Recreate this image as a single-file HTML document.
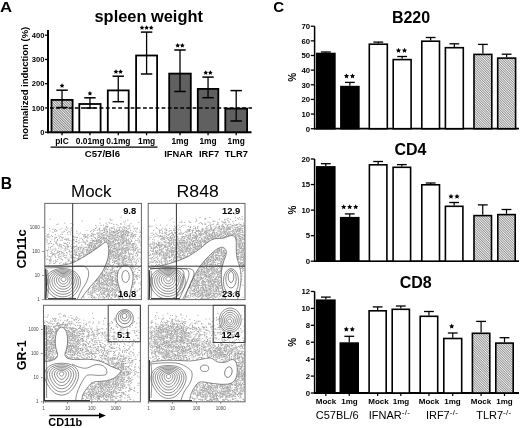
<!DOCTYPE html>
<html><head><meta charset="utf-8"><style>html,body{margin:0;padding:0;background:#fff;}svg{display:block;filter:blur(0.3px);font-family:"Liberation Sans",sans-serif;}</style></head>
<body><svg width="520" height="428" viewBox="0 0 520 428" font-family="Liberation Sans, sans-serif"><defs>
<pattern id="hatchA" patternUnits="userSpaceOnUse" width="1.8" height="1.8" patternTransform="rotate(-45)"><rect width="1.8" height="1.8" fill="#ececec"/><rect x="0" y="0" width="0.8" height="1.8" fill="#7a7a7a"/></pattern>
<pattern id="hatchC" patternUnits="userSpaceOnUse" width="1.7" height="1.7" patternTransform="rotate(-45)"><rect width="1.7" height="1.7" fill="#efefef"/><rect x="0" y="0" width="0.7" height="1.7" fill="#7e7e7e"/></pattern>
</defs><rect width="520" height="428" fill="#fff"/><text x="0" y="11.9" font-size="15" font-weight="bold" text-anchor="start" fill="#000" transform="scale(1.12,1)">A</text>
<text x="94.5" y="22" font-size="16.4" font-weight="bold" text-anchor="start" fill="#000" >spleen weight</text>
<text transform="translate(28.3,83.2) rotate(-90)" font-size="9.5" font-weight="bold" text-anchor="middle">normalized induction (%)</text>
<line x1="48" y1="30" x2="48" y2="133.2" stroke="#000" stroke-width="2" />
<line x1="45" y1="132.2" x2="48" y2="132.2" stroke="#000" stroke-width="1.3" />
<text x="44.5" y="134.89999999999998" font-size="7.6" font-weight="bold" text-anchor="end" fill="#000" >0</text>
<line x1="45" y1="107.94999999999999" x2="48" y2="107.94999999999999" stroke="#000" stroke-width="1.3" />
<text x="44.5" y="110.64999999999999" font-size="7.6" font-weight="bold" text-anchor="end" fill="#000" >100</text>
<line x1="45" y1="83.69999999999999" x2="48" y2="83.69999999999999" stroke="#000" stroke-width="1.3" />
<text x="44.5" y="86.39999999999999" font-size="7.6" font-weight="bold" text-anchor="end" fill="#000" >200</text>
<line x1="45" y1="59.44999999999999" x2="48" y2="59.44999999999999" stroke="#000" stroke-width="1.3" />
<text x="44.5" y="62.14999999999999" font-size="7.6" font-weight="bold" text-anchor="end" fill="#000" >300</text>
<line x1="45" y1="35.19999999999999" x2="48" y2="35.19999999999999" stroke="#000" stroke-width="1.3" />
<text x="44.5" y="37.89999999999999" font-size="7.6" font-weight="bold" text-anchor="end" fill="#000" >400</text>
<line x1="47" y1="132.3" x2="251.5" y2="132.3" stroke="#000" stroke-width="2" />
<rect x="51.5" y="99.9" width="21.099999999999998" height="32.29999999999999" fill="url(#hatchA)" stroke="#000" stroke-width="1.8" />
<line x1="62.05" y1="90.2" x2="62.05" y2="107.5" stroke="#000" stroke-width="1.3" />
<line x1="56.349999999999994" y1="90.2" x2="67.75" y2="90.2" stroke="#000" stroke-width="1.5" />
<line x1="56.349999999999994" y1="107.5" x2="67.75" y2="107.5" stroke="#000" stroke-width="1.5" />
<line x1="62.05" y1="132.3" x2="62.05" y2="135.3" stroke="#000" stroke-width="1.3" />
<polygon points="62.05,83.30 62.78,84.79 64.43,85.03 63.24,86.19 63.52,87.82 62.05,87.05 60.58,87.82 60.86,86.19 59.67,85.03 61.32,84.79" fill="#000"/>
<rect x="79.30000000000001" y="104.0" width="21.299999999999994" height="28.199999999999996" fill="#fff" stroke="#000" stroke-width="1.8" />
<line x1="89.95" y1="97.8" x2="89.95" y2="108" stroke="#000" stroke-width="1.3" />
<line x1="84.25" y1="97.8" x2="95.65" y2="97.8" stroke="#000" stroke-width="1.5" />
<line x1="84.25" y1="108" x2="95.65" y2="108" stroke="#000" stroke-width="1.5" />
<line x1="89.95" y1="132.3" x2="89.95" y2="135.3" stroke="#000" stroke-width="1.3" />
<polygon points="89.95,90.90 90.68,92.39 92.33,92.63 91.14,93.79 91.42,95.42 89.95,94.65 88.48,95.42 88.76,93.79 87.57,92.63 89.22,92.39" fill="#000"/>
<rect x="107.80000000000001" y="90.4" width="20.899999999999988" height="41.79999999999999" fill="#fff" stroke="#000" stroke-width="1.8" />
<line x1="118.25" y1="76.2" x2="118.25" y2="101.7" stroke="#000" stroke-width="1.3" />
<line x1="112.55" y1="76.2" x2="123.95" y2="76.2" stroke="#000" stroke-width="1.5" />
<line x1="112.55" y1="101.7" x2="123.95" y2="101.7" stroke="#000" stroke-width="1.5" />
<line x1="118.25" y1="132.3" x2="118.25" y2="135.3" stroke="#000" stroke-width="1.3" />
<polygon points="115.95,69.30 116.68,70.79 118.33,71.03 117.14,72.19 117.42,73.82 115.95,73.05 114.48,73.82 114.76,72.19 113.57,71.03 115.22,70.79" fill="#000"/>
<polygon points="120.55,69.30 121.28,70.79 122.93,71.03 121.74,72.19 122.02,73.82 120.55,73.05 119.08,73.82 119.36,72.19 118.17,71.03 119.82,70.79" fill="#000"/>
<rect x="136.1" y="55.5" width="21.00000000000001" height="76.69999999999999" fill="#fff" stroke="#000" stroke-width="1.8" />
<line x1="146.6" y1="32.1" x2="146.6" y2="74" stroke="#000" stroke-width="1.3" />
<line x1="140.9" y1="32.1" x2="152.29999999999998" y2="32.1" stroke="#000" stroke-width="1.5" />
<line x1="140.9" y1="74" x2="152.29999999999998" y2="74" stroke="#000" stroke-width="1.5" />
<line x1="146.6" y1="132.3" x2="146.6" y2="135.3" stroke="#000" stroke-width="1.3" />
<polygon points="142.00,25.20 142.73,26.69 144.38,26.93 143.19,28.09 143.47,29.72 142.00,28.95 140.53,29.72 140.81,28.09 139.62,26.93 141.27,26.69" fill="#000"/>
<polygon points="146.60,25.20 147.33,26.69 148.98,26.93 147.79,28.09 148.07,29.72 146.60,28.95 145.13,29.72 145.41,28.09 144.22,26.93 145.87,26.69" fill="#000"/>
<polygon points="151.20,25.20 151.93,26.69 153.58,26.93 152.39,28.09 152.67,29.72 151.20,28.95 149.73,29.72 150.01,28.09 148.82,26.93 150.47,26.69" fill="#000"/>
<rect x="169.20000000000002" y="73.60000000000001" width="21.599999999999977" height="58.59999999999999" fill="#606060" stroke="#000" stroke-width="1.8" />
<line x1="180.0" y1="50" x2="180.0" y2="91.5" stroke="#000" stroke-width="1.3" />
<line x1="174.3" y1="50" x2="185.7" y2="50" stroke="#000" stroke-width="1.5" />
<line x1="174.3" y1="91.5" x2="185.7" y2="91.5" stroke="#000" stroke-width="1.5" />
<line x1="180.0" y1="132.3" x2="180.0" y2="135.3" stroke="#000" stroke-width="1.3" />
<polygon points="177.70,43.10 178.43,44.59 180.08,44.83 178.89,45.99 179.17,47.62 177.70,46.85 176.23,47.62 176.51,45.99 175.32,44.83 176.97,44.59" fill="#000"/>
<polygon points="182.30,43.10 183.03,44.59 184.68,44.83 183.49,45.99 183.77,47.62 182.30,46.85 180.83,47.62 181.11,45.99 179.92,44.83 181.57,44.59" fill="#000"/>
<rect x="197.8" y="88.9" width="20.499999999999982" height="43.29999999999999" fill="#606060" stroke="#000" stroke-width="1.8" />
<line x1="208.05" y1="77.1" x2="208.05" y2="97.7" stroke="#000" stroke-width="1.3" />
<line x1="202.35000000000002" y1="77.1" x2="213.75" y2="77.1" stroke="#000" stroke-width="1.5" />
<line x1="202.35000000000002" y1="97.7" x2="213.75" y2="97.7" stroke="#000" stroke-width="1.5" />
<line x1="208.05" y1="132.3" x2="208.05" y2="135.3" stroke="#000" stroke-width="1.3" />
<polygon points="205.75,70.20 206.48,71.69 208.13,71.93 206.94,73.09 207.22,74.72 205.75,73.95 204.28,74.72 204.56,73.09 203.37,71.93 205.02,71.69" fill="#000"/>
<polygon points="210.35,70.20 211.08,71.69 212.73,71.93 211.54,73.09 211.82,74.72 210.35,73.95 208.88,74.72 209.16,73.09 207.97,71.93 209.62,71.69" fill="#000"/>
<rect x="225.3" y="108.60000000000001" width="21.799999999999994" height="23.599999999999987" fill="#606060" stroke="#000" stroke-width="1.8" />
<line x1="236.2" y1="90.6" x2="236.2" y2="121" stroke="#000" stroke-width="1.3" />
<line x1="230.5" y1="90.6" x2="241.89999999999998" y2="90.6" stroke="#000" stroke-width="1.5" />
<line x1="230.5" y1="121" x2="241.89999999999998" y2="121" stroke="#000" stroke-width="1.5" />
<line x1="236.2" y1="132.3" x2="236.2" y2="135.3" stroke="#000" stroke-width="1.3" />
<line x1="50" y1="108" x2="252" y2="108" stroke="#000" stroke-width="1.4" stroke-dasharray="3.8,2.4"/>
<text x="62" y="144" font-size="8.4" font-weight="bold" text-anchor="middle" fill="#000" >pIC</text>
<text x="90.2" y="144" font-size="8.4" font-weight="bold" text-anchor="middle" fill="#000" >0.01mg</text>
<text x="118.4" y="144" font-size="8.4" font-weight="bold" text-anchor="middle" fill="#000" >0.1mg</text>
<text x="146.6" y="144" font-size="8.4" font-weight="bold" text-anchor="middle" fill="#000" >1mg</text>
<text x="180" y="144" font-size="8.4" font-weight="bold" text-anchor="middle" fill="#000" >1mg</text>
<text x="208" y="144" font-size="8.4" font-weight="bold" text-anchor="middle" fill="#000" >1mg</text>
<text x="236.2" y="144" font-size="8.4" font-weight="bold" text-anchor="middle" fill="#000" >1mg</text>
<line x1="50.6" y1="147.1" x2="157.5" y2="147.1" stroke="#000" stroke-width="1.2" />
<text x="102.4" y="157" font-size="9.6" font-weight="bold" text-anchor="middle" fill="#000" >C57/Bl6</text>
<text x="178.4" y="157" font-size="9.3" font-weight="bold" text-anchor="middle" fill="#000" >IFNAR</text>
<text x="209.1" y="157" font-size="9.3" font-weight="bold" text-anchor="middle" fill="#000" >IRF7</text>
<text x="236.3" y="157" font-size="9.3" font-weight="bold" text-anchor="middle" fill="#000" >TLR7</text>
<text x="273.3" y="12.3" font-size="15" font-weight="bold" text-anchor="start" fill="#000" >C</text>
<text x="411" y="22.6" font-size="16" font-weight="bold" text-anchor="middle" fill="#000" >B220</text>
<line x1="314.6" y1="26.2" x2="314.6" y2="129.5" stroke="#000" stroke-width="1.5" />
<line x1="310.8" y1="128.7" x2="314.6" y2="128.7" stroke="#000" stroke-width="1.3" />
<text x="310.2" y="131.5" font-size="7.8" font-weight="bold" text-anchor="end" fill="#000" >0</text>
<line x1="310.8" y1="114.05999999999999" x2="314.6" y2="114.05999999999999" stroke="#000" stroke-width="1.3" />
<text x="310.2" y="116.85999999999999" font-size="7.8" font-weight="bold" text-anchor="end" fill="#000" >10</text>
<line x1="310.8" y1="99.41999999999999" x2="314.6" y2="99.41999999999999" stroke="#000" stroke-width="1.3" />
<text x="310.2" y="102.21999999999998" font-size="7.8" font-weight="bold" text-anchor="end" fill="#000" >20</text>
<line x1="310.8" y1="84.77999999999999" x2="314.6" y2="84.77999999999999" stroke="#000" stroke-width="1.3" />
<text x="310.2" y="87.57999999999998" font-size="7.8" font-weight="bold" text-anchor="end" fill="#000" >30</text>
<line x1="310.8" y1="70.13999999999999" x2="314.6" y2="70.13999999999999" stroke="#000" stroke-width="1.3" />
<text x="310.2" y="72.93999999999998" font-size="7.8" font-weight="bold" text-anchor="end" fill="#000" >40</text>
<line x1="310.8" y1="55.499999999999986" x2="314.6" y2="55.499999999999986" stroke="#000" stroke-width="1.3" />
<text x="310.2" y="58.29999999999998" font-size="7.8" font-weight="bold" text-anchor="end" fill="#000" >50</text>
<line x1="310.8" y1="40.859999999999985" x2="314.6" y2="40.859999999999985" stroke="#000" stroke-width="1.3" />
<text x="310.2" y="43.65999999999998" font-size="7.8" font-weight="bold" text-anchor="end" fill="#000" >60</text>
<line x1="310.8" y1="26.219999999999985" x2="314.6" y2="26.219999999999985" stroke="#000" stroke-width="1.3" />
<text x="310.2" y="29.019999999999985" font-size="7.8" font-weight="bold" text-anchor="end" fill="#000" >70</text>
<line x1="314" y1="128.7" x2="519" y2="128.7" stroke="#000" stroke-width="1.8" />
<rect x="316.8" y="53.5" width="18.099999999999987" height="75.19999999999999" fill="#000" stroke="#000" stroke-width="1.6" />
<line x1="325.85" y1="52.0" x2="325.85" y2="52.7" stroke="#000" stroke-width="1.2" />
<line x1="320.95000000000005" y1="52.0" x2="330.75" y2="52.0" stroke="#000" stroke-width="1.3" />
<rect x="340.90000000000003" y="86.6" width="17.999999999999964" height="42.099999999999994" fill="#000" stroke="#000" stroke-width="1.6" />
<line x1="349.9" y1="82.4" x2="349.9" y2="85.8" stroke="#000" stroke-width="1.2" />
<line x1="345.0" y1="82.4" x2="354.79999999999995" y2="82.4" stroke="#000" stroke-width="1.3" />
<rect x="369.3" y="44.199999999999996" width="18.00000000000002" height="84.49999999999999" fill="#fff" stroke="#000" stroke-width="1.6" />
<line x1="378.3" y1="42.1" x2="378.3" y2="43.4" stroke="#000" stroke-width="1.2" />
<line x1="373.40000000000003" y1="42.1" x2="383.2" y2="42.1" stroke="#000" stroke-width="1.3" />
<rect x="393.2" y="59.599999999999994" width="17.9" height="69.1" fill="#fff" stroke="#000" stroke-width="1.6" />
<line x1="402.15" y1="56.5" x2="402.15" y2="58.8" stroke="#000" stroke-width="1.2" />
<line x1="397.25" y1="56.5" x2="407.04999999999995" y2="56.5" stroke="#000" stroke-width="1.3" />
<rect x="421.8" y="41.199999999999996" width="17.70000000000001" height="87.49999999999999" fill="#fff" stroke="#000" stroke-width="1.6" />
<line x1="430.65" y1="37.5" x2="430.65" y2="40.4" stroke="#000" stroke-width="1.2" />
<line x1="425.75" y1="37.5" x2="435.54999999999995" y2="37.5" stroke="#000" stroke-width="1.3" />
<rect x="445.40000000000003" y="47.699999999999996" width="17.9" height="80.99999999999999" fill="#fff" stroke="#000" stroke-width="1.6" />
<line x1="454.35" y1="43.8" x2="454.35" y2="46.9" stroke="#000" stroke-width="1.2" />
<line x1="449.45000000000005" y1="43.8" x2="459.25" y2="43.8" stroke="#000" stroke-width="1.3" />
<rect x="474.0" y="54.4" width="17.800000000000033" height="74.3" fill="url(#hatchC)" stroke="#000" stroke-width="1.6" />
<line x1="482.9" y1="44.4" x2="482.9" y2="53.6" stroke="#000" stroke-width="1.2" />
<line x1="478.0" y1="44.4" x2="487.79999999999995" y2="44.4" stroke="#000" stroke-width="1.3" />
<rect x="497.7" y="58.099999999999994" width="17.9" height="70.6" fill="url(#hatchC)" stroke="#000" stroke-width="1.6" />
<line x1="506.65" y1="54.2" x2="506.65" y2="57.3" stroke="#000" stroke-width="1.2" />
<line x1="501.75" y1="54.2" x2="511.54999999999995" y2="54.2" stroke="#000" stroke-width="1.3" />
<polygon points="346.50,73.40 347.29,75.01 349.07,75.27 347.78,76.52 348.09,78.28 346.50,77.45 344.91,78.28 345.22,76.52 343.93,75.27 345.71,75.01" fill="#000"/>
<polygon points="352.50,73.40 353.29,75.01 355.07,75.27 353.78,76.52 354.09,78.28 352.50,77.45 350.91,78.28 351.22,76.52 349.93,75.27 351.71,75.01" fill="#000"/>
<polygon points="398.50,47.80 399.29,49.41 401.07,49.67 399.78,50.92 400.09,52.68 398.50,51.85 396.91,52.68 397.22,50.92 395.93,49.67 397.71,49.41" fill="#000"/>
<polygon points="404.50,47.80 405.29,49.41 407.07,49.67 405.78,50.92 406.09,52.68 404.50,51.85 402.91,52.68 403.22,50.92 401.93,49.67 403.71,49.41" fill="#000"/>
<text transform="translate(296.0,77.4) rotate(-90)" font-size="10" font-weight="bold" text-anchor="middle">%</text>
<text x="410.4" y="155.4" font-size="16" font-weight="bold" text-anchor="middle" fill="#000" >CD4</text>
<line x1="314.6" y1="159" x2="314.6" y2="262.0" stroke="#000" stroke-width="1.5" />
<line x1="310.8" y1="261.2" x2="314.6" y2="261.2" stroke="#000" stroke-width="1.3" />
<text x="310.2" y="264.0" font-size="7.8" font-weight="bold" text-anchor="end" fill="#000" >0</text>
<line x1="310.8" y1="235.64999999999998" x2="314.6" y2="235.64999999999998" stroke="#000" stroke-width="1.3" />
<text x="310.2" y="238.45" font-size="7.8" font-weight="bold" text-anchor="end" fill="#000" >5</text>
<line x1="310.8" y1="210.1" x2="314.6" y2="210.1" stroke="#000" stroke-width="1.3" />
<text x="310.2" y="212.9" font-size="7.8" font-weight="bold" text-anchor="end" fill="#000" >10</text>
<line x1="310.8" y1="184.54999999999998" x2="314.6" y2="184.54999999999998" stroke="#000" stroke-width="1.3" />
<text x="310.2" y="187.35" font-size="7.8" font-weight="bold" text-anchor="end" fill="#000" >15</text>
<line x1="310.8" y1="159.0" x2="314.6" y2="159.0" stroke="#000" stroke-width="1.3" />
<text x="310.2" y="161.8" font-size="7.8" font-weight="bold" text-anchor="end" fill="#000" >20</text>
<line x1="314" y1="261.2" x2="519" y2="261.2" stroke="#000" stroke-width="1.8" />
<rect x="316.8" y="166.9" width="18.00000000000002" height="94.3" fill="#000" stroke="#000" stroke-width="1.6" />
<line x1="325.8" y1="163.7" x2="325.8" y2="166.1" stroke="#000" stroke-width="1.2" />
<line x1="320.90000000000003" y1="163.7" x2="330.7" y2="163.7" stroke="#000" stroke-width="1.3" />
<rect x="340.7" y="217.70000000000002" width="18.100000000000044" height="43.499999999999986" fill="#000" stroke="#000" stroke-width="1.6" />
<line x1="349.75" y1="213.9" x2="349.75" y2="216.9" stroke="#000" stroke-width="1.2" />
<line x1="344.85" y1="213.9" x2="354.65" y2="213.9" stroke="#000" stroke-width="1.3" />
<rect x="369.40000000000003" y="164.8" width="17.499999999999964" height="96.39999999999999" fill="#fff" stroke="#000" stroke-width="1.6" />
<line x1="378.15" y1="161.5" x2="378.15" y2="164" stroke="#000" stroke-width="1.2" />
<line x1="373.25" y1="161.5" x2="383.04999999999995" y2="161.5" stroke="#000" stroke-width="1.3" />
<rect x="393.1" y="167.3" width="17.499999999999964" height="93.89999999999999" fill="#fff" stroke="#000" stroke-width="1.6" />
<line x1="401.85" y1="164.6" x2="401.85" y2="166.5" stroke="#000" stroke-width="1.2" />
<line x1="396.95000000000005" y1="164.6" x2="406.75" y2="164.6" stroke="#000" stroke-width="1.3" />
<rect x="421.8" y="184.8" width="17.70000000000001" height="76.39999999999999" fill="#fff" stroke="#000" stroke-width="1.6" />
<line x1="430.65" y1="183" x2="430.65" y2="184" stroke="#000" stroke-width="1.2" />
<line x1="425.75" y1="183" x2="435.54999999999995" y2="183" stroke="#000" stroke-width="1.3" />
<rect x="445.40000000000003" y="206.3" width="17.499999999999964" height="54.89999999999999" fill="#fff" stroke="#000" stroke-width="1.6" />
<line x1="454.15" y1="202.5" x2="454.15" y2="205.5" stroke="#000" stroke-width="1.2" />
<line x1="449.25" y1="202.5" x2="459.04999999999995" y2="202.5" stroke="#000" stroke-width="1.3" />
<rect x="474.0" y="215.60000000000002" width="17.50000000000002" height="45.59999999999998" fill="url(#hatchC)" stroke="#000" stroke-width="1.6" />
<line x1="482.75" y1="204.9" x2="482.75" y2="214.8" stroke="#000" stroke-width="1.2" />
<line x1="477.85" y1="204.9" x2="487.65" y2="204.9" stroke="#000" stroke-width="1.3" />
<rect x="497.8" y="214.60000000000002" width="17.4" height="46.59999999999998" fill="url(#hatchC)" stroke="#000" stroke-width="1.6" />
<line x1="506.5" y1="209.5" x2="506.5" y2="213.8" stroke="#000" stroke-width="1.2" />
<line x1="501.6" y1="209.5" x2="511.4" y2="209.5" stroke="#000" stroke-width="1.3" />
<polygon points="343.70,204.30 344.49,205.91 346.27,206.17 344.98,207.42 345.29,209.18 343.70,208.35 342.11,209.18 342.42,207.42 341.13,206.17 342.91,205.91" fill="#000"/>
<polygon points="349.70,204.30 350.49,205.91 352.27,206.17 350.98,207.42 351.29,209.18 349.70,208.35 348.11,209.18 348.42,207.42 347.13,206.17 348.91,205.91" fill="#000"/>
<polygon points="355.70,204.30 356.49,205.91 358.27,206.17 356.98,207.42 357.29,209.18 355.70,208.35 354.11,209.18 354.42,207.42 353.13,206.17 354.91,205.91" fill="#000"/>
<polygon points="451.00,193.80 451.79,195.41 453.57,195.67 452.28,196.92 452.59,198.68 451.00,197.85 449.41,198.68 449.72,196.92 448.43,195.67 450.21,195.41" fill="#000"/>
<polygon points="457.00,193.80 457.79,195.41 459.57,195.67 458.28,196.92 458.59,198.68 457.00,197.85 455.41,198.68 455.72,196.92 454.43,195.67 456.21,195.41" fill="#000"/>
<text transform="translate(296.0,210.1) rotate(-90)" font-size="10" font-weight="bold" text-anchor="middle">%</text>
<text x="415.7" y="287.9" font-size="16" font-weight="bold" text-anchor="middle" fill="#000" >CD8</text>
<line x1="314.6" y1="291.5" x2="314.6" y2="393.8" stroke="#000" stroke-width="1.5" />
<line x1="310.8" y1="393.0" x2="314.6" y2="393.0" stroke="#000" stroke-width="1.3" />
<text x="310.2" y="395.8" font-size="7.8" font-weight="bold" text-anchor="end" fill="#000" >0</text>
<line x1="310.8" y1="376.08" x2="314.6" y2="376.08" stroke="#000" stroke-width="1.3" />
<text x="310.2" y="378.88" font-size="7.8" font-weight="bold" text-anchor="end" fill="#000" >2</text>
<line x1="310.8" y1="359.15999999999997" x2="314.6" y2="359.15999999999997" stroke="#000" stroke-width="1.3" />
<text x="310.2" y="361.96" font-size="7.8" font-weight="bold" text-anchor="end" fill="#000" >4</text>
<line x1="310.8" y1="342.24" x2="314.6" y2="342.24" stroke="#000" stroke-width="1.3" />
<text x="310.2" y="345.04" font-size="7.8" font-weight="bold" text-anchor="end" fill="#000" >6</text>
<line x1="310.8" y1="325.32" x2="314.6" y2="325.32" stroke="#000" stroke-width="1.3" />
<text x="310.2" y="328.12" font-size="7.8" font-weight="bold" text-anchor="end" fill="#000" >8</text>
<line x1="310.8" y1="308.4" x2="314.6" y2="308.4" stroke="#000" stroke-width="1.3" />
<text x="310.2" y="311.2" font-size="7.8" font-weight="bold" text-anchor="end" fill="#000" >10</text>
<line x1="310.8" y1="291.48" x2="314.6" y2="291.48" stroke="#000" stroke-width="1.3" />
<text x="310.2" y="294.28000000000003" font-size="7.8" font-weight="bold" text-anchor="end" fill="#000" >12</text>
<line x1="314" y1="393" x2="519" y2="393" stroke="#000" stroke-width="1.8" />
<rect x="316.8" y="300.2" width="18.099999999999987" height="92.80000000000003" fill="#000" stroke="#000" stroke-width="1.6" />
<line x1="325.85" y1="297.1" x2="325.85" y2="299.4" stroke="#000" stroke-width="1.2" />
<line x1="320.95000000000005" y1="297.1" x2="330.75" y2="297.1" stroke="#000" stroke-width="1.3" />
<line x1="325.85" y1="393" x2="325.85" y2="396" stroke="#000" stroke-width="1.2" />
<rect x="340.3" y="343.1" width="17.9" height="49.89999999999999" fill="#000" stroke="#000" stroke-width="1.6" />
<line x1="349.25" y1="336.3" x2="349.25" y2="342.3" stroke="#000" stroke-width="1.2" />
<line x1="344.35" y1="336.3" x2="354.15" y2="336.3" stroke="#000" stroke-width="1.3" />
<line x1="349.25" y1="393" x2="349.25" y2="396" stroke="#000" stroke-width="1.2" />
<rect x="369.1" y="310.8" width="17.099999999999987" height="82.2" fill="#fff" stroke="#000" stroke-width="1.6" />
<line x1="377.65" y1="306.9" x2="377.65" y2="310" stroke="#000" stroke-width="1.2" />
<line x1="372.75" y1="306.9" x2="382.54999999999995" y2="306.9" stroke="#000" stroke-width="1.3" />
<line x1="377.65" y1="393" x2="377.65" y2="396" stroke="#000" stroke-width="1.2" />
<rect x="392.2" y="309.3" width="17.20000000000001" height="83.7" fill="#fff" stroke="#000" stroke-width="1.6" />
<line x1="400.79999999999995" y1="306" x2="400.79999999999995" y2="308.5" stroke="#000" stroke-width="1.2" />
<line x1="395.9" y1="306" x2="405.69999999999993" y2="306" stroke="#000" stroke-width="1.3" />
<line x1="400.79999999999995" y1="393" x2="400.79999999999995" y2="396" stroke="#000" stroke-width="1.2" />
<rect x="420.2" y="316.3" width="17.50000000000002" height="76.7" fill="#fff" stroke="#000" stroke-width="1.6" />
<line x1="428.95" y1="311.5" x2="428.95" y2="315.5" stroke="#000" stroke-width="1.2" />
<line x1="424.05" y1="311.5" x2="433.84999999999997" y2="311.5" stroke="#000" stroke-width="1.3" />
<line x1="428.95" y1="393" x2="428.95" y2="396" stroke="#000" stroke-width="1.2" />
<rect x="443.8" y="338.5" width="17.9" height="54.500000000000014" fill="#fff" stroke="#000" stroke-width="1.6" />
<line x1="452.75" y1="333" x2="452.75" y2="337.7" stroke="#000" stroke-width="1.2" />
<line x1="447.85" y1="333" x2="457.65" y2="333" stroke="#000" stroke-width="1.3" />
<line x1="452.75" y1="393" x2="452.75" y2="396" stroke="#000" stroke-width="1.2" />
<rect x="472.40000000000003" y="333.3" width="17.4" height="59.7" fill="url(#hatchC)" stroke="#000" stroke-width="1.6" />
<line x1="481.1" y1="321.4" x2="481.1" y2="332.5" stroke="#000" stroke-width="1.2" />
<line x1="476.20000000000005" y1="321.4" x2="486.0" y2="321.4" stroke="#000" stroke-width="1.3" />
<line x1="481.1" y1="393" x2="481.1" y2="396" stroke="#000" stroke-width="1.2" />
<rect x="495.8" y="343.1" width="17.4" height="49.89999999999999" fill="url(#hatchC)" stroke="#000" stroke-width="1.6" />
<line x1="504.5" y1="337.7" x2="504.5" y2="342.3" stroke="#000" stroke-width="1.2" />
<line x1="499.6" y1="337.7" x2="509.4" y2="337.7" stroke="#000" stroke-width="1.3" />
<line x1="504.5" y1="393" x2="504.5" y2="396" stroke="#000" stroke-width="1.2" />
<polygon points="346.30,326.60 347.09,328.21 348.87,328.47 347.58,329.72 347.89,331.48 346.30,330.65 344.71,331.48 345.02,329.72 343.73,328.47 345.51,328.21" fill="#000"/>
<polygon points="352.30,326.60 353.09,328.21 354.87,328.47 353.58,329.72 353.89,331.48 352.30,330.65 350.71,331.48 351.02,329.72 349.73,328.47 351.51,328.21" fill="#000"/>
<polygon points="451.70,323.60 452.49,325.21 454.27,325.47 452.98,326.72 453.29,328.48 451.70,327.65 450.11,328.48 450.42,326.72 449.13,325.47 450.91,325.21" fill="#000"/>
<text transform="translate(296.0,342.2) rotate(-90)" font-size="10" font-weight="bold" text-anchor="middle">%</text>
<text x="326" y="404" font-size="8" font-weight="bold" text-anchor="middle" fill="#000" >Mock</text>
<text x="349.5" y="404" font-size="8" font-weight="bold" text-anchor="middle" fill="#000" >1mg</text>
<text x="378.5" y="404" font-size="8" font-weight="bold" text-anchor="middle" fill="#000" >Mock</text>
<text x="401" y="404" font-size="8" font-weight="bold" text-anchor="middle" fill="#000" >1mg</text>
<text x="429" y="404" font-size="8" font-weight="bold" text-anchor="middle" fill="#000" >Mock</text>
<text x="452.5" y="404" font-size="8" font-weight="bold" text-anchor="middle" fill="#000" >1mg</text>
<text x="481" y="404" font-size="8" font-weight="bold" text-anchor="middle" fill="#000" >Mock</text>
<text x="504.5" y="404" font-size="8" font-weight="bold" text-anchor="middle" fill="#000" >1mg</text>
<text x="337.2" y="419.3" font-size="11" font-weight="normal" text-anchor="middle" fill="#000" >C57BL/6</text>
<text x="368.8" y="419.3" font-size="11">IFNAR<tspan font-size="8" dy="-3.9" letter-spacing="0.3">-/-</tspan></text>
<text x="425.9" y="419.3" font-size="11">IRF7<tspan font-size="8" dy="-3.9" letter-spacing="0.3">-/-</tspan></text>
<text x="476.2" y="419.3" font-size="11">TLR7<tspan font-size="8" dy="-3.9" letter-spacing="0.3">-/-</tspan></text>
<text x="0.8" y="189.4" font-size="15.6" font-weight="bold" text-anchor="start" fill="#000" >B</text>
<text x="91.3" y="197" font-size="17" font-weight="normal" text-anchor="middle" fill="#000" >Mock</text>
<text x="176.6" y="196.6" font-size="17" font-weight="normal" text-anchor="start" fill="#000" textLength="42.2" lengthAdjust="spacingAndGlyphs">R848</text>
<text transform="translate(26.4,249) rotate(-90)" font-size="12.8" font-weight="bold" text-anchor="middle">CD11c</text>
<text transform="translate(26.4,355.2) rotate(-90)" font-size="12.5" font-weight="bold" text-anchor="middle">GR-1</text>
<clipPath id="clp1"><rect x="44.8" y="203.4" width="96.60000000000001" height="96.20000000000002"/></clipPath>
<g clip-path="url(#clp1)">
<path d="M120.4 217.3h1m-71.9 1.9h1m48.8 -0.2h1m9.1 0.2h1m-0.3 1h1m0.4 -0.1h1m14.8 0h1m-46.7 1h1m42.4 0h1m-17.4 1.1h1m13.9 -0.1h1m13.7 0.4h1m-74.9 0.6h1m5.2 0.4h1m27.9 -0.3h1m5.1 -0.2h1m2.9 0.4h1m0.9 -0.1h1m8.1 0.2h1m9 0.1h1m-74.9 0.9h1m0.1 -0.4h1m13.9 0.2h1m33.1 -0.1h1m5.8 0.2h1m1.8 0.1h1m3.3 -0.1h1m2.9 -0.3h1m-30.1 1.3h1m4.2 0.1h1m1.5 -0.3h1m13.5 0.1h1m10.6 -0.3h1m-24.7 1.1h1m-0.1 0.2h1m-0.1 0h1m5.2 0.1h1m9.1 -0.1h1m2.1 -0.3h1m0.5 0h1m0.1 0.3h1m2.4 -0.1h1m-67.5 0.9h1m29 0h1m8 0h1m0.2 -0.1h1m-0.2 0h1m3.3 0.5h1m5.2 0h1m0.9 -0.3h1m0 0h1m1.9 0.1h1m0.9 0.2h1m-77.2 1h1m11.3 -0.4h1m4.9 0.5h1m2.8 -0.6h1m22.9 0.5h1m3.2 -0.3h1m3.1 0h1m-0.2 0.1h1m0.3 -0.1h1m3.1 0.1h1m0.6 0.1h1m0.1 0h1m0.3 -0.4h1m4.7 0.3h1m1.9 -0.2h1m1.1 0h1m0.8 0.1h1m1.2 0.2h1m0.2 -0.2h1m3 0h1m0.9 0h1m0.7 0h1m-85.5 1.2h1m1.6 0.1h1m3.3 0.1h1m4.7 -0.3h1m4.3 -0.3h1m21.8 0.5h1m4.3 -0.4h1m-0.3 0h1m3.2 0h1m0.1 0.3h1m0.6 0.1h1m2 0h1m4 -0.2h1m0.9 -0.1h1m2.1 0.4h1m2.3 -0.1h1m1.1 -0.4h1m1.8 0.1h1m5.9 -0.1h1m1.2 0.1h1m-83.3 0.8h1m1.3 0.5h1m8.7 -0.3h1m4.2 0.2h1m14 0h1m4.2 -0.1h1m1.9 0.2h1m1.7 -0.2h1m1.1 -0.2h1m1.3 0.4h1m-0.4 0h1m0.4 -0.3h1m-0.3 0h1m1.3 0.1h1m2.8 0.1h1m2.8 -0.4h1m1.3 0.2h1m0.1 0.3h1m-0.4 -0.3h1m0.1 0.3h1m1 -0.2h1m1.2 0.3h1m-0.2 0h1m0.3 -0.1h1m-0.2 -0.1h1m2.7 0h1m8.2 -0.3h1m-90.7 0.9h1m3.7 0.3h1m0.4 0.1h1m7.5 -0.1h1m3.4 0.1h1m6.8 -0.2h1m12.9 0.3h1m1.8 -0.2h1m6.2 -0.2h1m2.9 0h1m0.4 0.5h1m0 0h1m-0.4 0h1m1 -0.5h1m1.1 0.2h1m0.3 0.2h1m-0.4 0h1m0.3 0.1h1m0 -0.4h1m-0.1 0.4h1m-0.3 0h1m2.3 -0.5h1m0.2 0.4h1m-0.3 -0.2h1m0 -0.1h1m1.2 0.3h1m-0.3 -0.4h1m0 0.4h1m0 -0.2h1m4 -0.1h1m1 -0.1h1m-83.6 1.3h1m7.9 -0.2h1m0.8 -0.2h1m3 0.5h1m2 -0.4h1m0.8 0.3h1m26.1 -0.3h1m2.9 0.3h1m0.1 0h1m2.3 0.2h1m0.8 -0.3h1m0.4 0.1h1m-0.2 -0.3h1m0.1 0.2h1m-0.1 0.2h1m-0.2 0.1h1m0.1 -0.1h1m2 -0.2h1m0 -0.1h1m-0.1 -0.2h1m0.3 0.5h1m0.1 -0.5h1m-0.2 0h1m1 0.6h1m0.9 -0.5h1m0.1 0.4h1m0 -0.1h1m5.9 -0.3h1m2 0.3h1m-0.3 -0.3h1m-64.5 1.1h1m2.7 -0.1h1m9.9 0.2h1m0.2 -0.1h1m3.1 -0.1h1m-0.1 0h1m-0.2 0.1h1m1.1 0h1m0.1 0.2h1m-0.2 0h1m2.1 -0.3h1m-0.1 0.2h1m1.9 -0.2h1m0.2 0.5h1m2.1 -0.3h1m2.2 0h1m-0.1 -0.1h1m-0.3 -0.1h1m1.9 0.2h1m1.1 0h1m0.1 -0.3h1m0.2 0h1m-0.1 0.3h1m0.2 -0.1h1m-0.4 0h1m2.2 -0.2h1m-0.2 0.1h1m-86 1.4h1m0.1 -0.1h1m5.8 0.2h1m4.5 -0.3h1m0.5 0h1m4.4 -0.1h1m1.6 0h1m7.4 -0.1h1m2.9 0.4h1m1.1 0h1m2.1 0h1m3.7 -0.1h1m0.4 0h1m0 0.2h1m1.6 -0.5h1m1 0h1m0.9 0.2h1m0.5 0.3h1m0.8 0h1m0.8 -0.5h1m1.3 0.4h1m0.7 -0.1h1m-0.1 0.2h1m0.1 -0.5h1m1.4 -0.1h1m-0.5 0.6h1m0.2 -0.4h1m0.1 -0.2h1m1.6 0.2h1m0.5 0.3h1m0 0h1m-0.2 0h1m0.1 -0.4h1m-0.4 0.3h1m1.3 0.1h1m2.3 -0.2h1m-0.5 -0.1h1m0.2 -0.1h1m0.9 0.3h1m0.2 0h1m-85.3 1.2h1m31.2 -0.6h1m0.2 0.2h1m2.1 -0.1h1m1.9 0.3h1m-0.5 0h1m1.1 -0.3h1m4.1 0.3h1m0.1 -0.4h1m1.2 0.2h1m0.6 0h1m0.4 0.1h1m1 0.2h1m-0.1 -0.4h1m0.8 0h1m1.1 0h1m-0.2 0.2h1m0.2 0h1m0.1 0.2h1m-0.3 -0.2h1m1 0.3h1m0.4 -0.4h1m1.1 0.3h1m-0.1 -0.4h1m-0.3 0.3h1m0 -0.2h1m0.8 -0.1h1m0.6 0.1h1m-0.5 0.1h1m0.3 0.1h1m1.1 -0.2h1m1.1 0.2h1m-0.5 0h1m0.3 0h1m4.8 -0.2h1m-94.9 1h1m0.2 -0.2h1m3.6 0.5h1m5.5 -0.5h1m0.6 0.4h1m11.2 -0.3h1m0 0.3h1m8.7 0h1m0.4 0.1h1m-0.1 -0.1h1m0.2 -0.3h1m1.8 0.2h1m0.6 -0.2h1m0.4 0h1m4 -0.1h1m1.1 0.2h1m0 0.2h1m0.7 -0.3h1m0.3 0h1m1.9 0h1m0 0.2h1m-0.1 0.3h1m-0.2 -0.1h1m-0.1 -0.5h1m0.5 0.2h1m0.8 -0.1h1m2.1 -0.1h1m-0.1 0.1h1m0.3 0.5h1m-0.3 -0.3h1m0.3 0.2h1m-0.3 -0.5h1m-0.1 0.4h1m0.3 0.1h1m0.1 -0.4h1m0.9 0.1h1m-0.2 -0.2h1m2 0.3h1m0.1 0h1m-0.3 0.2h1m0 0.1h1m1.1 -0.1h1m3 0h1m-92.9 0.6h1m0 -0.1h1m0.2 0.1h1m4 0.1h1m0.6 0.2h1m4.1 0h1m0.4 -0.1h1m10 0.1h1m0.8 -0.4h1m0.1 0.5h1m-0.5 -0.1h1m7.1 0.1h1m0.4 -0.5h1m0 0.3h1m4.9 -0.2h1m0.2 0.2h1m1.9 0h1m-0.2 0h1m-0.3 -0.1h1m0.6 0.2h1m-0.6 0.2h1m0.4 -0.2h1m-0.3 0.1h1m0 0.1h1m0.9 -0.2h1m1.2 0h1m0.3 -0.1h1m0.9 -0.2h1m0.1 -0.1h1m-0.2 0.1h1m-0.2 0h1m0.1 0h1m-0.1 0.4h1m0.2 0h1m1.2 -0.4h1m0 0.4h1m-0.4 0.1h1m0 -0.1h1m0.4 -0.1h1m5.9 0h1m8.1 -0.1h1m-85.3 0.9h1m2.9 -0.2h1m2 0.3h1m4.5 0.1h1m10.9 0h1m0.8 -0.2h1m1.8 -0.1h1m2.2 0.3h1m2.3 0h1m3.4 0.1h1m1.2 -0.4h1m1.8 0.4h1m0.3 -0.4h1m0.9 0.4h1m0.3 0.1h1m-0.3 -0.3h1m-0.1 -0.1h1m1.4 0.3h1m0 0h1m0.8 -0.3h1m-0.3 0.3h1m0.4 0h1m0 0.1h1m2.1 -0.5h1m0.1 0.3h1m1.7 0.1h1m0.2 -0.1h1m-0.1 0h1m0 -0.4h1m-0.1 0.5h1m-0.3 -0.4h1m1.5 0h1m2.5 0.1h1m1.1 -0.2h1m2.5 0.4h1m-93.1 0.6h1m4.9 0h1m1.6 0h1m2.1 0.5h1m6.1 -0.1h1m-0.1 -0.3h1m0 0.1h1m0.4 0.3h1m4.6 0h1m2 0.1h1m5 -0.1h1m8.5 -0.4h1m3.7 0.3h1m1 0.2h1m-0.3 -0.3h1m1.6 -0.1h1m-0.2 -0.2h1m-0.1 0.1h1m0 0h1m0 0h1m0.1 0.2h1m0 0.1h1m0.8 -0.4h1m0.2 0.2h1m-0.1 0.1h1m1.3 0.2h1m-0.1 -0.2h1m-0.1 -0.1h1m-0.1 0.3h1m1 0h1m1.1 0h1m1 -0.1h1m-0.1 0.1h1m1.8 0h1m1 -0.2h1m1.2 -0.1h1m-84.7 0.8h1m9.6 0.4h1m2 -0.1h1m0.4 -0.1h1m3.6 0h1m0.9 0.1h1m0.2 0.1h1m2.1 -0.2h1m0.2 0h1m3.9 0.1h1m3 -0.2h1m2.7 0.1h1m3.3 0.3h1m0.6 -0.1h1m-0.1 0.1h1m0.2 -0.4h1m0.4 0.3h1m-0.5 0.1h1m-0.1 -0.3h1m0.1 0.1h1m0.2 0.2h1m0.3 -0.3h1m-0.6 0.1h1m1.4 0h1m-0.2 0.1h1m1.1 0h1m0.3 0.1h1m-0.5 -0.1h1m0.1 0h1m3 0.2h1m0.3 -0.2h1m-0.3 -0.3h1m-0.1 0.2h1m0.1 0.3h1m0 -0.5h1m0.4 0.2h1m-0.1 -0.1h1m0.8 0.3h1m1.3 -0.5h1m-0.3 0.5h1m-0.1 -0.3h1m-0.1 -0.1h1m0.1 0.3h1m1.9 0.1h1m3 -0.2h1m0.5 0.2h1m-0.1 -0.5h1m0.7 0.1h1m-93.7 0.9h1m2.7 0.5h1m3 -0.3h1m1 0h1m14.2 0h1m2.8 0.3h1m0.1 0h1m5.9 -0.4h1m2.3 0.1h1m-0.3 -0.1h1m4.3 0.5h1m-0.2 -0.6h1m-0.2 0.6h1m0.2 -0.3h1m0 0.1h1m0 0.2h1m0.1 -0.4h1m0.1 0h1m-0.5 0.1h1m0.3 0.3h1m1.7 -0.4h1m0.4 -0.1h1m-0.3 0.1h1m0.5 0.1h1m0 0.3h1m-0.3 -0.1h1m0 -0.2h1m0.3 0.2h1m-0.1 -0.4h1m-0.4 0.3h1m1 -0.3h1m1.1 0.1h1m2.1 0.2h1m1.2 0h1m-0.2 -0.3h1m-0.3 -0.1h1m0.2 0.3h1m0 0.1h1m1 0h1m1.3 0h1m-0.4 0.1h1m7.1 0.1h1m-93.8 1h1m8 -0.3h1m10.8 0.2h1m4 -0.3h1m3.2 -0.2h1m1.9 0.4h1m1.2 -0.2h1m0.9 0h1m-0.4 0.2h1m0.2 -0.1h1m3 0.1h1m-0.1 0h1m0.2 0.1h1m-0.2 -0.4h1m2.9 0h1m0.5 0.5h1m-0.4 -0.4h1m0.2 0.1h1m0.2 0h1m-0.5 0.1h1m2.1 -0.2h1m3.1 0.2h1m1.1 0h1m0.2 -0.1h1m-0.3 0h1m0.4 0.2h1m3.4 0h1m0.2 0h1m0.2 -0.4h1m0 0.3h1m-0.2 0h1m-0.2 -0.1h1m0.4 -0.2h1m1.1 0.4h1m1 0.1h1m-0.3 -0.6h1m3.9 0.1h1m3.1 0.2h1m-91 1.3h1m0.3 -0.5h1m0.5 0.2h1m3.5 -0.2h1m0 0.1h1m5.9 -0.2h1m-0.3 0.4h1m0 0.2h1m3 -0.5h1m2.2 0.4h1m0.9 -0.4h1m2.9 0.2h1m6 0.2h1m2.4 0h1m0.7 -0.3h1m0.3 0.2h1m0.7 0h1m0.4 0.1h1m-0.1 -0.1h1m-0.3 0h1m-0.1 0.1h1m1.3 -0.4h1m-0.3 0h1m1.5 0.4h1m-0.1 -0.3h1m-0.3 -0.1h1m0 -0.1h1m0.1 0.2h1m0.2 0h1m-0.2 0h1m0.1 0h1m-0.1 0.3h1m0.2 0h1m0.8 -0.4h1m0.8 0.4h1m0.5 -0.1h1m-0.4 -0.3h1m-0.1 0.4h1m0.1 -0.1h1m1.4 0.1h1m-0.1 -0.3h1m-0.3 0.2h1m1.8 -0.2h1m0.2 0.3h1m0.4 -0.1h1m-0.2 -0.3h1m-0.2 0.2h1m0.9 0.2h1m0.2 0h1m5.3 -0.4h1m-93.2 1.3h1m4.7 -0.1h1m2.3 -0.2h1m1.7 0.2h1m0.2 0.2h1m4.8 -0.4h1m0.2 0.4h1m3 -0.1h1m12.9 -0.1h1m1 0.3h1m1.2 -0.3h1m0.2 -0.2h1m-0.4 0.5h1m1.4 -0.4h1m-0.1 0.4h1m0.7 -0.5h1m1.9 0.5h1m0.4 -0.5h1m1 0.1h1m-0.3 0.2h1m0 -0.1h1m-0.1 -0.1h1m0.1 0.3h1m-0.1 -0.5h1m0.5 0.1h1m-0.4 0.1h1m0.2 0.3h1m1.9 0h1m-0.1 -0.2h1m0.1 -0.2h1m0.3 0h1m0.7 0.2h1m0.3 0.2h1m0.6 -0.3h1m0.1 0.1h1m2.2 -0.2h1m0 0.2h1m0.7 -0.2h1m-0.1 0.1h1m0.4 0.2h1m0.8 -0.1h1m-0.2 -0.2h1m0 0.2h1m0.2 -0.2h1m-79.2 1h1m1.2 0.3h1m1 -0.2h1m0.9 0.3h1m3.1 -0.1h1m7.8 -0.2h1m4.1 -0.1h1m5.4 0.1h1m-0.1 -0.1h1m-0.4 0.4h1m0.4 -0.1h1m-0.1 -0.3h1m0 0h1m1 0.4h1m-0.3 -0.1h1m1.3 -0.2h1m-0.2 0.1h1m0.2 0.3h1m0 -0.5h1m0.1 -0.1h1m-0.4 0.4h1m1.4 -0.3h1m0.7 0h1m-0.1 0.1h1m1.4 0.2h1m-0.2 0h1m0.2 0h1m-0.3 -0.3h1m1.4 0h1m0 0.1h1m1.4 0h1m0.1 0.2h1m0.4 -0.1h1m1.7 0.2h1m0 -0.3h1m0.3 0.3h1m0.1 -0.1h1m3.6 0.2h1m0 -0.2h1m3.2 -0.2h1m2.8 0h1m-89.8 1.4h1m-0.1 -0.6h1m5 0h1m0.1 0.5h1m3.9 -0.2h1m1.2 0h1m-0.4 0.3h1m0 -0.1h1m1 -0.2h1m2 0h1m0.2 0.1h1m-0.2 0.1h1m0.1 0h1m10.3 -0.5h1m0.1 0.5h1m-0.4 -0.3h1m0.3 -0.1h1m-0.5 0.4h1m0.6 -0.4h1m-0.5 0.4h1m0 -0.4h1m0.1 0.4h1m1.2 0h1m0.9 -0.4h1m0.1 0.2h1m-0.3 0.2h1m0.4 -0.1h1m0.8 -0.2h1m0 -0.1h1m1.2 0.4h1m-0.3 -0.1h1m-0.2 -0.1h1m1.4 0.2h1m0.1 -0.3h1m0 0h1m-0.3 -0.2h1m3.9 0.3h1m1.2 0.2h1m5.2 -0.4h1m0.1 -0.1h1m-0.3 0.3h1m2 -0.2h1m-0.2 -0.1h1m0.9 0.4h1m-87.8 0.8h1m0.8 0.4h1m9.5 -0.5h1m-0.5 -0.1h1m3.1 0.3h1m1.4 0h1m3 -0.2h1m-0.3 0.2h1m0.4 0.2h1m3 -0.1h1m-0.3 0h1m0.1 -0.3h1m-0.1 0.2h1m-0.2 0h1m0.5 -0.2h1m0.7 0.3h1m0 0h1m0.1 0h1m0.8 0.1h1m0 0h1m0.8 -0.1h1m0.5 0.2h1m-0.3 -0.1h1m0.2 -0.1h1m0.2 0h1m-0.2 0.1h1m0.1 -0.5h1m0.1 0.6h1m-0.5 0h1m0.2 -0.4h1m0.3 0.2h1m-0.2 -0.1h1m2.1 0.1h1m-0.2 0h1m-0.3 -0.2h1m0.5 -0.2h1m-0.1 0.1h1m0 0.5h1m-0.1 -0.1h1m1.3 -0.4h1m-0.5 -0.1h1m0.4 0.1h1m-0.2 0.1h1m0.3 -0.2h1m-0.1 0.3h1m1 0h1m0.7 0.2h1m-0.1 -0.5h1m1.1 0.2h1m-0.2 0h1m0 0.4h1m2.2 -0.3h1m0.3 0.2h1m-0.5 -0.3h1m0.5 0.3h1m1 -0.5h1m0.6 0.5h1m-83.6 0.7h1m2.5 0h1m3.4 -0.1h1m1.8 0.2h1m4.8 0.1h1m0.5 0.1h1m2 -0.3h1m1.1 0.4h1m-0.4 -0.3h1m1.1 0.1h1m1.9 0.1h1m3.4 -0.3h1m1 0.4h1m1.7 -0.3h1m0.2 0h1m0 0.2h1m-0.5 0.1h1m0.1 -0.5h1m2.3 0h1m-0.2 0.3h1m1.1 -0.2h1m-0.2 0.3h1m2.2 -0.2h1m-0.2 -0.2h1m2 0.4h1m1.4 0h1m0.1 -0.1h1m-0.1 0.1h1m0 0.1h1m0 -0.4h1m1.1 0.3h1m0.7 -0.1h1m0.2 0.1h1m-0.3 -0.4h1m0.2 0.3h1m-0.1 0h1m0.1 0h1m0 0.1h1m0.6 -0.5h1m0.2 0.2h1m2.9 0h1m1.1 0.2h1m0.1 0h1m-89.1 0.8h1m0.9 0h1m1.5 0h1m1.8 0.1h1m4.1 -0.1h1m2.8 -0.2h1m1.1 0.1h1m-0.1 0h1m6.1 0.4h1m1.1 0h1m0.5 0h1m1.2 -0.3h1m0.9 0h1m0.1 -0.1h1m0.2 0.3h1m1.1 -0.2h1m-0.3 0.3h1m1.4 -0.4h1m-0.1 0.4h1m-0.2 -0.1h1m0.2 0.2h1m0 -0.1h1m-0.1 -0.3h1m0.7 0.1h1m2 -0.1h1m0.1 -0.2h1m1 0.5h1m0.1 -0.1h1m0.1 0h1m-0.4 -0.1h1m1.5 0.1h1m0.9 0.2h1m-0.4 -0.3h1m2.2 -0.2h1m-0.1 0h1m0.1 -0.1h1m0.2 0.6h1m-0.1 -0.5h1m-0.1 0.1h1m0 0.3h1m0.3 0.1h1m-0.4 -0.1h1m0.3 0.1h1m-0.3 -0.5h1m0.1 -0.1h1m0.3 0.4h1m0.7 -0.1h1m0 0.1h1m0.2 -0.2h1m0.9 0.1h1m0 -0.2h1m-0.2 0.4h1m0.4 -0.3h1m-0.3 -0.1h1m1.2 0.4h1m0.9 -0.3h1m-94.2 1h1m0.2 0.3h1m3.3 -0.2h1m2.7 0h1m8.7 -0.1h1m3.3 -0.1h1m1.9 0.1h1m0.8 0.4h1m4.3 -0.3h1m2 0.2h1m2.1 -0.3h1m-0.2 -0.1h1m0.2 0.4h1m0.1 -0.5h1m0.1 0.4h1m-0.4 -0.2h1m0.2 0.2h1m0.7 -0.3h1m0.3 0h1m3.8 0.1h1m1.3 0.1h1m0.8 -0.1h1m2.1 0.2h1m0.9 -0.1h1m0 -0.2h1m0.3 0.3h1m-0.1 0h1m-0.3 -0.4h1m1.4 0.6h1m0.5 -0.2h1m0 -0.1h1m0.2 0h1m-0.1 -0.2h1m1.3 0.5h1m-0.1 -0.3h1m0.7 0.2h1m0.2 -0.1h1m-0.2 -0.1h1m0.3 0.1h1m-0.3 -0.3h1m1.2 0.3h1m1.1 0.2h1m0.9 0h1m-0.2 -0.2h1m-89 0.7h1m2.5 0.4h1m2.4 -0.4h1m2.1 0h1m0.5 0.3h1m-0.4 0h1m0.4 0.1h1m1.9 -0.5h1m3.9 0.2h1m-0.3 0.2h1m1.1 -0.2h1m3 -0.1h1m0.4 -0.1h1m0.8 0.4h1m1 0h1m0.9 -0.2h1m0.2 0.1h1m1.6 0h1m0.2 -0.2h1m0.1 0.5h1m0 -0.2h1m0.7 0h1m0.4 0h1m-0.2 0h1m-0.2 -0.3h1m1 -0.1h1m2.4 0.5h1m2.8 -0.3h1m-0.1 -0.1h1m0.2 0.1h1m-0.4 0h1m0.4 0h1m0.1 0h1m-0.2 0.1h1m-0.1 0.2h1m0.3 -0.2h1m-0.4 0h1m-0.1 0h1m0.2 0.3h1m1 -0.6h1m0.3 0.5h1m2.8 -0.1h1m2.3 0h1m-0.5 0h1m1.4 -0.4h1m4.8 0.4h1m2.7 -0.1h1m0.1 -0.3h1m-87.6 1.5h1m4.5 -0.2h1m0 0h1m2.1 -0.1h1m0.2 0.3h1m2.9 0h1m3 -0.3h1m0.2 -0.2h1m1.7 0.1h1m0.3 0.3h1m-0.3 -0.2h1m4.2 -0.1h1m0 0.4h1m2.8 -0.2h1m1.5 0.2h1m-0.4 -0.2h1m-0.1 0.2h1m0.2 0.1h1m1.3 -0.4h1m-0.1 0.2h1m-0.3 -0.3h1m1.8 -0.1h1m4.4 0.3h1m1.8 -0.2h1m1.3 0h1m-0.2 0h1m-0.1 0.4h1m0.3 -0.4h1m-0.4 0.3h1m0.4 -0.3h1m-0.1 -0.1h1m-0.3 0.6h1m0.9 -0.4h1m0.2 0.2h1m1.1 0h1m0 -0.3h1m0 0h1m0.8 -0.1h1m0.5 0.5h1m-0.5 -0.2h1m0.9 0.1h1m7.2 0.1h1m1.2 0h1m0.1 -0.2h1m-0.4 0h1m-94 0.8h1m2.3 0.5h1m0.2 -0.1h1m0.8 0h1m1.1 0h1m-0.1 -0.2h1m1.8 -0.2h1m1.2 0.2h1m1.2 0.2h1m2 -0.4h1m7.9 -0.1h1m1.6 0.1h1m0.3 0.3h1m-0.1 -0.2h1m-0.2 -0.1h1m0.1 0h1m-0.1 0h1m2.4 -0.1h1m-0.4 0.1h1m0.2 0h1m0.2 0.1h1m-0.1 0h1m-0.3 0h1m0 0.2h1m0.5 -0.4h1m-0.4 0.2h1m-0.1 -0.1h1m2.4 0.4h1m-0.2 -0.2h1m0.3 0.1h1m-0.4 0h1m4.1 -0.1h1m0.3 -0.1h1m-0.2 0.4h1m0 0h1m-0.2 -0.5h1m-0.1 0.3h1m3.2 0.2h1m-0.1 -0.3h1m0.1 -0.2h1m1.1 0.4h1m0 -0.1h1m0.1 -0.1h1m-0.2 -0.2h1m-0.3 0.3h1m0.2 -0.4h1m0 0.4h1m2.3 0.1h1m0 -0.3h1m2.6 -0.2h1m1.5 0.6h1m-0.4 -0.4h1m-84.8 1.3h1m-0.4 -0.2h1m0.5 0h1m3 0h1m-0.2 0.1h1m2.2 -0.1h1m5.7 -0.2h1m1.2 0.1h1m0.8 -0.1h1m-0.1 0.1h1m0.3 0.3h1m-0.3 0h1m1.3 -0.3h1m-0.2 0.4h1m3.1 -0.1h1m0 -0.5h1m-0.1 0.3h1m0.1 0.2h1m0 -0.4h1m4.2 0h1m0.6 0.1h1m0 0.1h1m0.1 0.2h1m1.2 -0.2h1m1.1 0h1m3 0.1h1m-0.2 0h1m0 -0.3h1m-0.1 0h1m0 0.5h1m0 -0.5h1m0.1 0.1h1m0.3 0.3h1m-0.1 -0.3h1m-0.4 0h1m0.3 -0.1h1m1 0.2h1m-0.1 0.2h1m0.9 0h1m-0.1 0.1h1m0.4 -0.1h1m5.7 -0.2h1m0.4 0.1h1m0 -0.3h1m-0.5 -0.1h1m0.3 0.5h1m3.8 0h1m-91 0.8h1m3.9 -0.3h1m1.2 0.2h1m2.3 0.3h1m5 -0.4h1m-0.1 0.5h1m0.6 -0.4h1m3.3 0.3h1m3.6 -0.2h1m0.1 -0.1h1m0 0.3h1m1 0.1h1m0.3 0h1m-0.3 -0.5h1m1.2 0.1h1m4.1 -0.2h1m-0.3 0.6h1m0 -0.1h1m0.4 0h1m0.1 -0.2h1m-0.6 -0.1h1m0.2 0h1m0.1 0.3h1m0 0h1m-0.3 -0.5h1m1.3 0.3h1m-0.2 -0.1h1m0.4 0.3h1m-0.4 0.1h1m1.2 -0.3h1m-0.2 -0.2h1m2 0.1h1m1.2 0.1h1m1.3 0.2h1m-0.6 -0.2h1m0.5 0.1h1m-0.4 -0.1h1m0.1 0h1m0.4 -0.1h1m-0.5 0h1m0.2 0.3h1m0.1 -0.4h1m0.2 0.3h1m1.7 -0.1h1m-0.2 0.1h1m3 0.2h1m5 -0.3h1m1 0.2h1m-90.6 0.8h1m0.6 0.2h1m1.4 -0.5h1m2.5 0.4h1m2.5 0h1m0.7 -0.1h1m0.3 -0.3h1m0.6 0.2h1m6.4 -0.1h1m0.8 0h1m4.8 0h1m0.2 0.4h1m2.3 -0.3h1m0 0h1m-0.2 0h1m-0.3 -0.1h1m0.1 0.1h1m2.4 0.4h1m-0.4 -0.4h1m1.3 -0.1h1m-0.3 0h1m1.4 0h1m-0.5 -0.1h1m0.4 0.6h1m0.1 -0.3h1m-0.1 -0.2h1m-0.2 -0.1h1m-0.2 0h1m3.1 0.1h1m0.4 0.4h1m-0.5 -0.2h1m0.1 -0.2h1m0 0.1h1m0.3 0.2h1m-0.2 -0.4h1m0.3 0.4h1m0.9 0h1m-0.2 0h1m0.2 0h1m0 0.1h1m-0.5 -0.1h1m0 -0.2h1m0.5 0.2h1m-0.4 0h1m1.2 0h1m-0.1 -0.3h1m-0.1 -0.1h1m0.5 0.2h1m1.6 0.2h1m1.9 0h1m0.1 -0.2h1m2.3 0.2h1m-92.4 0.6h1m3.5 0.2h1m-0.1 -0.2h1m3.9 0.4h1m1.8 0.1h1m5.1 0h1m0.9 -0.4h1m2.4 0.3h1m0.4 -0.2h1m0.6 -0.1h1m-0.4 0.3h1m0.3 0.1h1m2.9 0h1m0.7 -0.4h1m2.9 0.1h1m1.1 0.3h1m2.1 -0.5h1m2.4 0.5h1m-0.5 -0.5h1m0.4 0h1m-0.5 0.6h1m1.4 -0.3h1m-0.4 0h1m0.2 0h1m2.8 0.1h1m0.4 0h1m0 0h1m0.1 0.1h1m-0.3 0.1h1m0.2 -0.6h1m-0.1 0.4h1m1.2 -0.2h1m0.7 -0.1h1m-0.1 0.4h1m1.1 0h1m0.4 0.1h1m3 -0.6h1m-0.2 0.6h1m0.1 -0.2h1m-0.3 -0.2h1m1 0.2h1m0.8 -0.4h1m0.3 0.2h1m1.9 0.2h1m-83 0.9h1m8.1 -0.3h1m0.3 0.5h1m3.5 -0.3h1m5.3 0.2h1m-0.4 -0.3h1m1.3 -0.1h1m1.1 0.5h1m0.1 0h1m-0.5 -0.4h1m0.2 0.5h1m2.3 -0.3h1m-0.4 0h1m0.1 -0.1h1m0.4 0h1m-0.3 0h1m-0.2 -0.2h1m6.1 0.1h1m-0.1 0h1m0.3 0.1h1m0.8 -0.2h1m0.8 0.6h1m0.5 -0.1h1m-0.2 0h1m0.1 -0.4h1m-0.1 0.2h1m-0.1 0.1h1m0.2 -0.3h1m-0.3 0.3h1m0.4 0h1m-0.2 0h1m1 -0.2h1m0.8 0.1h1m0.5 0.1h1m-0.5 0h1m0 0h1m0.5 0.2h1m-0.3 -0.6h1m-0.1 0.2h1m0.1 0h1m0.2 0.2h1m0.1 -0.1h1m0.6 0.1h1m0.1 0.1h1m-0.2 -0.2h1m0.5 -0.2h1m0.5 0h1m1.3 0.3h1m0.9 -0.2h1m4.3 -0.1h1m-93.4 1.1h1m0 -0.1h1m0.4 0.5h1m0.8 -0.1h1m5.8 0h1m3.2 0h1m5 -0.5h1m0 0.2h1m5 -0.1h1m2.1 0.5h1m-0.1 0h1m0 -0.4h1m0.1 0.3h1m-0.4 -0.2h1m0.9 -0.3h1m1.1 0.5h1m0 -0.5h1m0.4 0.1h1m0.8 0.2h1m0 -0.2h1m2 0h1m-0.1 0.3h1m-0.1 -0.4h1m1.3 0.5h1m0.7 -0.5h1m2 0.1h1m0.2 0.5h1m0 -0.5h1m-0.2 0.4h1m1.2 -0.2h1m1.2 -0.1h1m-0.4 -0.1h1m1.2 0.5h1m4.1 -0.1h1m0 -0.1h1m-0.4 -0.2h1m2.4 -0.2h1m-0.4 0.4h1m0.1 -0.1h1m-0.1 -0.3h1m2 0.4h1m0.4 -0.1h1m0.1 -0.1h1m0.7 0.3h1m1.1 -0.3h1m1.9 0h1m2.1 0h1m-92.1 1.2h1m0.1 -0.1h1m3.7 0h1m6.2 -0.1h1m5.3 0.2h1m3.1 -0.3h1m0.6 0.4h1m1.9 -0.4h1m0.1 -0.1h1m0.2 0.5h1m-0.3 -0.4h1m0.3 0.4h1m1.2 -0.2h1m2.7 0.3h1m1.7 -0.4h1m5.4 0.3h1m1 -0.2h1m0.9 0.2h1m0.1 -0.4h1m0.2 0.4h1m1.8 0h1m0 -0.3h1m0 0h1m0.6 0h1m2.3 0.3h1m1 -0.4h1m-0.1 0.4h1m0 -0.1h1m1 -0.3h1m0.3 0h1m1 0.3h1m-0.5 -0.4h1m0.1 0.4h1m3.4 -0.2h1m1 -0.1h1m0 0.3h1m4.7 0.2h1m-88 0.6h1m0.2 0.1h1m1.7 -0.1h1m1.4 0h1m0 0.2h1m10 -0.3h1m0 0h1m0.9 0.5h1m0.7 -0.5h1m0 -0.1h1m0.3 0.3h1m-0.2 0.1h1m1.1 -0.2h1m0.8 0h1m1.4 0.4h1m-0.3 -0.2h1m1.3 -0.2h1m1.9 0.1h1m0.2 -0.2h1m0.5 -0.1h1m0.2 0.3h1m1.8 0.2h1m1.4 -0.1h1m-0.1 0h1m1.1 -0.1h1m-0.4 -0.2h1m0.1 0.2h1m2.4 0.2h1m-0.3 -0.5h1m-0.2 0.1h1m0 0.1h1m0.3 -0.2h1m-0.3 0.5h1m3.2 -0.2h1m0 0.1h1m-0.2 0h1m0 0.1h1m0.4 -0.3h1m3 -0.1h1m0 0.2h1m0.8 -0.2h1m0.2 0.2h1m-0.3 -0.2h1m2.1 -0.1h1m0.9 0h1m1.3 0.2h1m3.5 0.1h1m-83.9 1.1h1m4.4 -0.1h1m4 0.1h1m4 -0.2h1m-0.1 0h1m0 0.3h1m-0.2 -0.2h1m0.1 -0.2h1m-0.1 0.1h1m1.3 0.2h1m-0.4 -0.3h1m2.1 0.3h1m-0.1 -0.3h1m0.3 0.1h1m0.9 0.3h1m0.3 -0.1h1m-0.2 0h1m1.9 -0.3h1m0 0h1m-0.2 0.1h1m1.2 0.3h1m-0.2 -0.3h1m0 0.3h1m1 -0.2h1m0.1 0.1h1m2.9 0h1m0.3 -0.2h1m0.2 0.2h1m-0.5 -0.2h1m2 0h1m1.9 0.2h1m0.6 0.2h1m-0.5 -0.3h1m2.3 0h1m0.9 -0.3h1m1 0.3h1m0 0.3h1m0 -0.3h1m1.1 -0.3h1m1 0.4h1m0.1 -0.2h1m0 0h1m0.6 0h1m2.5 0.1h1m-0.2 -0.3h1m4.1 0.3h1m-92.3 1.2h1m0.2 -0.5h1m1.8 0.4h1m-0.1 0h1m4 0h1m3.4 -0.1h1m0.6 0h1m0.3 0h1m3.1 0.3h1m1.8 -0.1h1m1.3 0.1h1m-0.5 -0.2h1m1.2 -0.3h1m0.1 0.1h1m0.6 0.3h1m2.4 -0.5h1m-0.2 0.2h1m0 -0.2h1m-0.1 0.6h1m0.3 -0.1h1m0.2 -0.2h1m-0.4 0.1h1m0.9 -0.1h1m1.4 0h1m1.5 -0.2h1m0.4 0.5h1m2.8 -0.2h1m0.4 0h1m-0.6 -0.3h1m0.4 0.2h1m-0.1 -0.3h1m0 0.3h1m-0.1 0h1m5.1 0h1m0.8 0.3h1m0.4 -0.3h1m-0.3 0.1h1m0.2 0.1h1m1.7 -0.3h1m0.4 0.1h1m0.7 0.1h1m5.2 -0.3h1m3.7 0h1m-74 1h1m1.2 0h1m-0.2 0.5h1m4.1 -0.4h1m1.8 0.1h1m1.4 0.1h1m0.1 0.1h1m-0.5 -0.4h1m0.3 0.3h1m2.3 0.2h1m0 -0.1h1m-0.3 -0.4h1m1.2 -0.1h1m0.9 0.5h1m-0.1 -0.2h1m1.2 -0.2h1m1 0.3h1m5.9 0.2h1m0 -0.1h1m-0.2 -0.4h1m1.8 0.4h1m0.5 -0.2h1m0.1 -0.1h1m0 0.1h1m-0.3 -0.2h1m2.8 0.4h1m3 -0.5h1m0 0.6h1m0.3 -0.4h1m0.8 0h1m0.3 0.4h1m-0.4 -0.5h1m0.1 0.4h1m0 -0.3h1m0.2 0.3h1m-0.3 -0.3h1m0.3 0.4h1m0 -0.4h1m1.1 0.3h1m2.6 -0.2h1m-88 1h1m11.2 0.1h1m4.3 -0.2h1m2.9 -0.1h1m0.6 0.5h1m0.9 -0.2h1m2.6 -0.2h1m-0.5 -0.2h1m3 0.2h1m0.3 0.1h1m4.6 -0.2h1m0.5 0.4h1m1.8 -0.4h1m1.7 0h1m0.3 0.1h1m4.8 0.2h1m2.3 -0.1h1m3 -0.2h1m0 0.4h1m0.7 0h1m4.9 -0.5h1m0.3 0.3h1m0.9 0.2h1m1 -0.3h1m1 -0.2h1m4.1 0.4h1m0 -0.1h1m0.1 -0.1h1m2.2 0h1m-83.5 1.3h1m7.3 -0.2h1m0.7 0.2h1m0.1 -0.3h1m0.3 0.4h1m0 -0.4h1m1.1 0.3h1m0.5 0.1h1m0 -0.1h1m0.2 -0.3h1m2.9 -0.2h1m0.4 0.1h1m0.6 0.3h1m2.2 0.1h1m3 0h1m1.9 -0.4h1m0.2 0h1m0 0.2h1m2.6 0.1h1m0.1 -0.2h1m0.1 0.2h1m0.1 0h1m-0.1 -0.1h1m0.1 0.2h1m-0.1 0.1h1m1.8 -0.2h1m1.3 -0.2h1m-0.4 0.1h1m8.2 0.2h1m0.2 -0.1h1m-0.3 0h1m0 0h1m0.2 -0.4h1m0.3 0.5h1m0.7 -0.3h1m-0.1 -0.1h1m-0.1 0.1h1m0.5 0h1m4.6 0.2h1m6.8 -0.1h1m-67.6 1.1h1m2.8 -0.2h1m3.2 0.2h1m4 0h1m0.6 -0.1h1m1 -0.2h1m3.5 0.1h1m1.7 0.4h1m1.2 -0.4h1m0.8 0.2h1m-0.1 0.2h1m0.4 -0.4h1m-0.4 0.4h1m0.3 -0.1h1m1.7 0h1m3 -0.1h1m1.4 -0.2h1m1.1 0h1m-0.4 0.3h1m1.2 -0.2h1m-0.3 0.3h1m0.4 -0.6h1m-0.2 0.2h1m0 -0.1h1m0.9 0.3h1m1.4 -0.1h1m-0.4 0.3h1m1.9 -0.6h1m0.2 0.3h1m0.2 -0.2h1m3.8 0.4h1m-89.1 1h1m3.4 0h1m1.8 0h1m0.8 0.1h1m1.4 -0.6h1m4.6 0.2h1m1.2 0.4h1m1.2 -0.5h1m-0.2 0h1m0 0.3h1m0.7 -0.1h1m2.3 0.2h1m0.2 -0.2h1m2 0.3h1m0.7 -0.3h1m1 -0.2h1m0 0.1h1m0.7 -0.2h1m5.3 0.5h1m0.1 -0.2h1m-0.3 0.3h1m0 0h1m0.4 -0.2h1m-0.3 0.2h1m0.1 -0.2h1m0.9 -0.1h1m0.9 -0.2h1m0.2 0.2h1m3.9 -0.3h1m0 0.4h1m-0.1 -0.1h1m6.3 0h1m1.6 0.2h1m0.3 0h1m0.2 0.1h1m0.5 -0.2h1m1.6 -0.2h1m0 0h1m0.7 0.2h1m3.2 0.1h1m-81.5 0.9h1m3.5 -0.2h1m1.7 0.4h1m2.4 -0.2h1m5.9 0.2h1m-0.5 0h1m1.5 -0.4h1m0.5 0.2h1m0.3 0h1m0.2 0.2h1m-0.4 -0.5h1m0 0.3h1m0.5 0h1m0.5 -0.1h1m6.3 -0.1h1m3.9 0.3h1m0.8 -0.4h1m0.9 -0.1h1m2.3 0h1m-0.1 0.5h1m0.4 -0.1h1m-0.6 0.1h1m0.5 -0.3h1m0.9 0.1h1m0.7 -0.1h1m9.1 0.4h1m0.1 -0.1h1m0.3 -0.4h1m0.7 0.4h1m0.1 -0.4h1m2 0.3h1m1.8 -0.3h1m0.8 0h1m-76.9 1.4h1m1.4 -0.4h1m9 0.3h1m6.9 -0.1h1m9 0h1m-0.1 0.2h1m0.2 -0.2h1m0.1 0h1m-0.1 -0.3h1m9.6 0.2h1m5.2 0.3h1m-0.2 -0.3h1m0 0.2h1m0.9 -0.1h1m1.2 -0.1h1m0.2 0.1h1m0.7 -0.1h1m2.1 0.3h1m-0.1 0.1h1m1.3 -0.1h1m1.9 -0.2h1m0.1 0.3h1m1.1 -0.4h1m5.6 0h1m-0.1 0.3h1m-94.4 1h1m8 -0.2h1m2.8 0.3h1m1.9 0h1m13.9 -0.3h1m-0.2 -0.1h1m4.1 0.4h1m0 -0.3h1m0.1 0.1h1m0.2 -0.2h1m4.6 -0.1h1m4 0h1m0.1 0.1h1m0.4 0.2h1m0.7 -0.1h1m0.8 0.1h1m0.5 -0.3h1m-0.1 0.1h1m1 -0.1h1m5.1 0.3h1m0.1 -0.1h1m-0.4 -0.1h1m0.1 -0.1h1m0.2 0.5h1m3 -0.3h1m-0.2 0.1h1m0.9 -0.1h1m1.3 -0.1h1m1.5 0.2h1m0.1 -0.1h1m1.2 -0.3h1m2.2 0.2h1m-89.9 0.8h1m5.5 0.3h1m0.2 -0.3h1m5 0.4h1m3 -0.2h1m1.9 -0.2h1m12 0.2h1m1.3 0h1m1 0.1h1m-0.2 0h1m1.8 -0.2h1m0.2 0.1h1m1.3 -0.1h1m-0.3 0.3h1m0.1 0.1h1m0.7 -0.2h1m1.1 -0.3h1m1.3 0.6h1m0.1 -0.3h1m-0.4 0.2h1m1 0h1m1.4 -0.4h1m0.6 0.4h1m1.2 -0.3h1m0.1 -0.2h1m0.1 0.4h1m-0.5 0h1m0 0.1h1m0.3 0h1m1 0.1h1m0.9 -0.1h1m-0.1 -0.3h1m1.1 0h1m-0.1 0.1h1m0.1 0.3h1m2 -0.1h1m-0.1 -0.3h1m-0.1 0.1h1m2.4 0h1m1.9 -0.3h1m2.8 0.6h1m2.3 -0.4h1m-88 1.3h1m1.1 -0.2h1m3.8 -0.3h1m8.7 0.4h1m5.3 -0.3h1m-0.4 0.2h1m0.3 0.1h1m7.7 -0.3h1m0.1 0.2h1m6.3 0.2h1m1.7 -0.5h1m1.5 0h1m-0.2 0h1m0 0.5h1m2 -0.2h1m0 -0.3h1m0.9 0.6h1m0 -0.4h1m0 -0.1h1m-0.2 0.2h1m2.3 -0.1h1m0 0.2h1m-0.1 -0.2h1m-0.2 -0.1h1m0 0.1h1m1.4 0.2h1m-0.2 -0.1h1m-0.3 -0.3h1m5.2 0.3h1m0.1 0.2h1m0.3 -0.2h1m-0.4 0.2h1m0.1 -0.4h1m-0.2 -0.1h1m-88.6 1.5h1m3 -0.2h1m5 -0.1h1m8.9 0h1m12.2 -0.1h1m2.5 0.4h1m2.4 -0.3h1m-0.1 -0.1h1m0.7 0.1h1m0.3 0.3h1m-0.3 0.1h1m0 -0.6h1m0.4 0.4h1m0.9 -0.1h1m0.7 0.2h1m3 -0.2h1m0.1 -0.3h1m0 0.5h1m0.4 0.1h1m-0.4 -0.2h1m1.4 -0.1h1m-0.2 -0.1h1m0.9 0h1m0.3 0h1m0.8 0.2h1m1.7 -0.2h1m1.1 -0.1h1m0.3 0.2h1m-0.1 0.2h1m0.1 -0.4h1m0.1 0.2h1m-0.4 0.2h1m0.3 -0.2h1m0.9 -0.3h1m0.1 0.2h1m3.7 -0.2h1m1 0.1h1m0.3 0.4h1m-88 0.9h1m0.1 0.1h1m11.5 -0.4h1m1.4 -0.1h1m0.9 0.3h1m1.1 0.2h1m-0.4 0.1h1m13.3 -0.5h1m2.8 -0.1h1m0.1 0.6h1m3.3 -0.1h1m1 -0.3h1m0.8 0.1h1m0.2 -0.3h1m-0.3 0.1h1m1.8 -0.1h1m0.3 0.1h1m-0.3 0.2h1m0.4 -0.1h1m-0.4 0.1h1m-0.1 0.1h1m0.4 -0.1h1m0 0h1m0.1 0.1h1m0.1 0.1h1m-0.5 -0.1h1m3.1 -0.2h1m0.2 0.4h1m0.1 -0.4h1m0.9 0.3h1m0.1 -0.2h1m1 -0.1h1m1 0.4h1m-0.3 -0.6h1m0.2 0.1h1m0.9 0.4h1m4.2 0.1h1m-0.4 -0.3h1m1.3 -0.2h1m-0.3 0.3h1m0.1 -0.3h1m1.2 0h1m-84.3 0.9h1m2.5 0.2h1m1.5 0.3h1m1.4 -0.5h1m3.5 0.5h1m6 0.1h1m1.5 -0.4h1m-0.4 0.1h1m1.3 0.2h1m-0.3 0h1m1.5 -0.1h1m2.7 -0.1h1m1.2 0.2h1m1.7 -0.4h1m-0.1 0.1h1m0.1 0.2h1m2 0h1m0 0.2h1m1.1 -0.2h1m0.2 0h1m-0.3 -0.3h1m-0.2 0.1h1m2 0.1h1m0.1 0.2h1m0.9 0.1h1m0.2 -0.2h1m0 0h1m2.2 -0.4h1m0 0.4h1m0 -0.1h1m1 0.2h1m0.1 -0.4h1m0.9 0.1h1m-0.4 0h1m3.1 0.2h1m0 0h1m0 -0.1h1m0.4 0.3h1m0 -0.1h1m1.8 -0.2h1m0.2 0.1h1m-0.2 -0.2h1m-0.1 0.4h1m0.2 -0.5h1m-92.3 1h1m8.4 0.5h1m0.8 -0.4h1m11.9 0.1h1m9.8 -0.1h1m6.5 0h1m0.6 -0.1h1m0.9 0h1m2.3 0.3h1m0 -0.3h1m1.2 0.4h1m-0.1 -0.1h1m-0.2 0.1h1m0.1 -0.3h1m0.8 0h1m0.9 0.1h1m1.4 0.2h1m0.7 -0.4h1m0.4 0.4h1m0 -0.3h1m-0.3 0h1m1 0h1m1.8 0h1m0.3 0.3h1m0.1 -0.3h1m2.9 0.2h1m0.3 -0.1h1m-0.2 0.1h1m2 -0.3h1m0 0.3h1m-0.1 -0.3h1m3.2 0.2h1m2.7 0.1h1m-56.9 1.2h1m-0.2 -0.3h1m1.3 0.3h1m1.9 -0.3h1m1.1 -0.3h1m1.6 0.2h1m0.2 -0.1h1m2.3 0.4h1m0.7 -0.3h1m0.1 0.3h1m-0.1 -0.2h1m1.3 0.1h1m-0.5 -0.1h1m0.5 0.2h1m0.5 -0.2h1m0.5 -0.1h1m0.9 0.2h1m-0.4 0.1h1m1.3 -0.2h1m-0.2 0h1m0.4 -0.3h1m0.9 0.3h1m-0.3 -0.1h1m-0.1 0.2h1m0.5 0.1h1m-0.3 -0.2h1m0.2 -0.1h1m0 0.1h1m1.1 0.2h1m-0.5 -0.1h1m2.5 -0.3h1m-0.3 -0.1h1m1.1 0.1h1m2 -0.1h1m-78.2 1.2h1m7.2 0.1h1m11 -0.2h1m1.2 0.2h1m7.7 -0.1h1m0.4 0.3h1m-0.1 0h1m-0.5 -0.4h1m2.4 -0.1h1m-0.3 0.1h1m0.2 0h1m-0.2 0.3h1m2.3 0h1m-0.3 -0.1h1m2.3 -0.1h1m-0.3 -0.2h1m0.2 0.3h1m0 0.3h1m-0.2 -0.3h1m0.1 0.1h1m-0.1 -0.1h1m1.5 0h1m-0.2 0.2h1m0.8 0h1m0.3 -0.1h1m-0.4 -0.1h1m0.4 -0.2h1m-0.3 0.3h1m0.2 -0.2h1m-0.3 0.2h1m0 0.1h1m1.4 0h1m0 -0.1h1m1.7 -0.4h1m1.2 0.5h1m0.6 0.1h1m1.4 -0.6h1m-0.3 0.1h1m-91.8 1.3h1m17 -0.3h1m14.9 0.4h1m-0.1 -0.2h1m1 -0.1h1m-0.1 0.4h1m0.1 -0.5h1m8.4 -0.1h1m-0.1 0.4h1m-0.4 0.1h1m0.4 -0.4h1m0.2 0.2h1m-0.5 0h1m1 0h1m1.2 0.1h1m0 0h1m-0.1 -0.4h1m0 0.3h1m-0.2 -0.1h1m0.4 0.3h1m-0.1 -0.2h1m0.2 -0.2h1m-0.2 0.4h1m-0.1 -0.1h1m0.1 0.2h1m0.1 -0.5h1m0.1 0h1m-0.2 0.3h1m0.9 0.1h1m-0.1 -0.2h1m1.4 0.2h1m-0.4 -0.1h1m0.2 0h1m0.1 0.1h1m0.9 -0.4h1m-0.1 0.5h1m-0.2 -0.6h1m0.2 0.4h1m0.2 0.1h1m0 0.1h1m0.1 -0.4h1m-87.4 1h1m4.9 0.2h1m32.4 0h1m5 -0.2h1m0.1 0.3h1m-0.2 -0.5h1m1 0.3h1m0.3 -0.3h1m-0.2 0.1h1m-0.2 0h1m-0.1 0.4h1m3.3 -0.1h1m-0.3 0h1m0.2 -0.2h1m0.1 -0.1h1m-0.1 0.4h1m2 -0.2h1m0.3 0h1m-0.1 -0.2h1m-0.2 0.1h1m0.8 0h1m0.3 0.3h1m0.8 -0.4h1m1 0.4h1m1.1 0h1m-0.2 0h1m0 0h1m-0.1 -0.1h1m1.3 -0.3h1m3.1 0h1m2.1 0.2h1m-72.1 1.2h1m0.8 -0.3h1m5.3 0h1m7.5 0.2h1m0.1 -0.1h1m1.2 -0.1h1m3.1 -0.1h1m2.9 0.4h1m0.1 -0.1h1m1.7 -0.4h1m2.3 0.5h1m-0.3 -0.3h1m0.5 -0.1h1m-0.4 0.1h1m0 0.3h1m0.2 -0.4h1m0.8 0.4h1m1 -0.2h1m2.2 0.2h1m-0.1 -0.1h1m0 -0.2h1m2.1 0h1m-0.3 0.1h1m0.1 0.2h1m2.1 -0.1h1m-0.2 0h1m1.4 -0.1h1m-0.3 -0.1h1m3.1 0h1m-0.3 0h1m0.5 0.2h1m0.7 -0.3h1m0.3 0.3h1m0 0.1h1m4.7 -0.5h1m-93.6 1.3h1m18.7 0.1h1m9.8 0h1m3.3 0h1m2 -0.1h1m1.7 0.3h1m2.3 -0.3h1m1.2 0.1h1m1.4 0.1h1m0 -0.5h1m0.2 0.1h1m0.2 0.5h1m0 -0.2h1m-0.1 -0.2h1m0 -0.1h1m0 0.2h1m1.2 0.1h1m-0.5 -0.2h1m1.3 0.1h1m-0.2 -0.3h1m1.3 0.3h1m-0.2 0h1m0.1 0.2h1m2 -0.4h1m0.1 0h1m2 0h1m1.1 0.4h1m0 -0.5h1m0 0.5h1m-0.3 -0.1h1m0.4 -0.1h1m5 -0.3h1m0.7 0.4h1m3.1 -0.3h1m-81.3 1.3h1m15.2 -0.3h1m6.9 0.1h1m5.8 0.1h1m4 0.1h1m2 -0.2h1m0.1 0.1h1m0.2 -0.1h1m0 0h1m0.2 0.1h1m-0.5 0h1m0.3 0h1m0 0h1m0 0.3h1m-0.2 0h1m-0.1 -0.4h1m0.4 -0.2h1m-0.2 0h1m-0.1 0.1h1m0.4 0.5h1m-0.4 -0.2h1m0.4 0h1m-0.2 -0.1h1m0.1 0.2h1m-0.2 0h1m0.2 0.1h1m0.2 0h1m-0.2 -0.5h1m1.1 0.1h1m0.1 0.3h1m-0.4 0h1m-0.1 -0.1h1m0.2 -0.2h1m0.1 0.3h1m-0.3 -0.3h1m0.1 0.2h1m1.4 -0.2h1m-0.5 -0.1h1m0.5 0.4h1m-0.1 -0.3h1m5.6 0.1h1m-65.8 1h1m2.8 0.3h1m2.1 -0.2h1m2.2 0.1h1m0.1 -0.4h1m-0.4 0.3h1m0.2 0.1h1m0.8 -0.3h1m1.3 -0.1h1m-0.1 0h1m1 0.2h1m0 -0.2h1m1.2 0.5h1m-0.4 -0.5h1m1.1 0.2h1m1.2 0h1m0 -0.2h1m1.2 0.1h1m-0.1 0.3h1m-0.3 0h1m1.2 -0.2h1m-0.4 -0.2h1m0.1 0.2h1m1.2 0.1h1m0.2 -0.2h1m-0.4 0.2h1m0 -0.3h1m0.4 0.1h1m0.8 0.2h1m0.2 -0.2h1m0.1 0.1h1m-0.3 0h1m-0.1 0.1h1m1.9 -0.3h1m3.2 0.4h1m-55.9 0.7h1m3.7 0h1m3.1 -0.1h1m0.1 0.3h1m1 -0.4h1m3.8 0.3h1m0.2 0h1m-0.1 0.1h1m0.1 0.1h1m1.3 -0.2h1m-0.2 0.2h1m2 -0.4h1m2.8 0.2h1m1 0h1m0.4 0.1h1m2.6 -0.1h1m1.3 -0.2h1m-0.1 0.3h1m0.7 -0.2h1m0.2 0h1m0.3 0.2h1m-0.5 -0.2h1m3 0.1h1m0.3 0h1m0 -0.1h1m-0.3 0h1m3.4 -0.1h1m-56.2 1.3h1m3 -0.3h1m3 0.5h1m0.9 -0.5h1m0.2 0.2h1m2.1 0.1h1m-0.1 -0.1h1m-0.2 0.1h1m0.3 -0.3h1m2.1 0.3h1m0.9 -0.1h1m-0.4 -0.2h1m0.3 0h1m0.1 0.1h1m0.9 0.2h1m1.8 -0.3h1m1.8 0.1h1m0.5 0.1h1m1.7 0.1h1m0.2 0h1m1 0.1h1m-0.2 -0.4h1m2.1 0.5h1m0.1 -0.2h1m-0.3 -0.2h1m0.3 0h1m-0.3 0.3h1m4.2 -0.3h1m0 0h1m0.3 -0.1h1m-56.2 1.1h1m-0.3 0h1m10.2 0.2h1m1.9 0h1m0.4 0h1m-0.1 0.1h1m0.8 -0.3h1m1.3 -0.1h1m-0.1 0.1h1m0.6 0.3h1m0.5 -0.4h1m-0.5 0.1h1m0 0.2h1m0.9 -0.2h1m0.3 0.3h1m1 -0.2h1m1.2 0.2h1m-0.1 -0.1h1m2.8 0.1h1m0.2 -0.4h1m0.8 0.4h1m2.3 -0.1h1m-0.1 0.1h1m-0.4 -0.1h1m2.4 0.1h1m1.8 -0.4h1m8.2 0.4h1m-67.8 0.5h1m1.6 0.5h1m1.9 0h1m3.5 -0.1h1m-0.1 -0.4h1m3.5 0.5h1m3.3 -0.1h1m0.9 -0.4h1m0.9 0.2h1m-0.1 -0.1h1m0.1 0.1h1m0.5 0.4h1m-0.3 -0.5h1m1.1 -0.1h1m1.2 0h1m-0.2 0h1m-0.3 0.3h1m0.3 -0.1h1m0.6 0.1h1m1.3 -0.2h1m0.2 0h1m-0.3 0.5h1m0.1 -0.4h1m0.1 0.2h1m0.2 0h1m-0.2 -0.3h1m1 0.2h1m1.1 0.1h1m-0.3 -0.3h1m1.2 0h1m5 0.4h1m3.2 -0.4h1m3.5 0.3h1m-63.7 0.8h1m2 0.1h1m0.1 -0.2h1m3.9 0.3h1m1.8 -0.3h1m3.1 0.4h1m0.1 -0.3h1m0.2 0.4h1m0 -0.5h1m1.7 0.2h1m-0.2 0.2h1m1.5 -0.4h1m-0.3 0.3h1m0.3 0.1h1m-0.1 -0.4h1m0.9 0.5h1m-0.3 -0.4h1m0 -0.1h1m1.2 0.4h1m0.2 -0.3h1m-0.2 0h1m0.9 0h1m0.2 0.3h1m0.8 0h1m0.3 0h1m-0.1 -0.3h1m1.1 0.1h1m0.9 -0.3h1m3.7 0.2h1m1.4 0.4h1m2.6 -0.5h1m2.4 0.3h1m-63.4 0.8h1m-0.1 0.4h1m4.4 -0.6h1m5.2 0.2h1m1.6 0.2h1m0.3 -0.3h1m1.9 -0.1h1m1.1 0.5h1m0.5 -0.5h1m1.4 0.3h1m2.2 0.2h1m0.6 -0.2h1m0 -0.1h1m0.3 0.2h1m-0.1 -0.3h1m0.8 -0.1h1m0 0.4h1m0.2 -0.3h1m0.9 0h1m0.9 0.4h1m1.4 -0.1h1m2 -0.2h1m-0.5 -0.1h1m2.2 -0.1h1m0.8 0.6h1m2.3 -0.4h1m5 0.1h1m-56.3 1.2h1m5.5 -0.3h1m-0.1 0.4h1m0.9 -0.1h1m0.9 0h1m0 -0.5h1m-0.1 0.3h1m4.9 0.2h1m0.5 -0.4h1m0.6 0.2h1m0.3 -0.1h1m2.8 -0.1h1m-0.2 0.1h1m0 0.2h1m1.5 -0.2h1m0.9 0.2h1m-0.4 0h1m7.4 -0.3h1m0.8 0.1h1m0.1 0h1m1.9 0.1h1m1.1 0.3h1m-83.8 0.6h1m8.7 -0.2h1m10.9 0.2h1m9.2 0.3h1m9.1 0h1m0.6 -0.2h1m2.3 -0.2h1m5 0.4h1m0.1 -0.3h1m-0.4 -0.1h1m-0.1 -0.1h1m2 0.6h1m0.4 -0.2h1m3.1 -0.3h1m1.1 0.4h1m5.5 -0.4h1m0.3 0.2h1m-0.3 0.1h1m0 0.2h1m2 -0.5h1m0.3 0.3h1m-55 1h1m0.9 -0.1h1m5.2 -0.1h1m3.7 0.1h1m-0.1 -0.1h1m0.3 0.2h1m0.2 -0.2h1m4.7 0.2h1m0.2 0.2h1m0.6 -0.6h1m0.5 0.2h1m-0.5 0.2h1m0.4 -0.2h1m0 0h1m-0.3 0.3h1m2.2 -0.1h1m-0.3 -0.2h1m0.3 0.2h1m1 0h1m-0.3 -0.2h1m0.9 0.3h1m0.4 -0.3h1m-0.3 0.4h1m2.9 -0.3h1m1.5 -0.1h1m3.6 -0.1h1m-0.1 0.2h1m5.4 -0.1h1m-0.1 0.1h1m-58.9 1h1m2.1 -0.1h1m9 0.2h1m-0.4 -0.1h1m0.1 -0.1h1m3.9 0h1m1 0.1h1m5.3 -0.2h1m0.2 0.1h1m-0.1 0h1m-0.5 -0.2h1m0 0.6h1m1.3 -0.1h1m0 -0.5h1m1.1 0.5h1m-0.1 -0.1h1m-0.2 0.2h1m0.5 0h1m-0.4 -0.1h1m0.2 -0.3h1m1.8 -0.1h1m0.4 0h1m1 0.1h1m1.6 0.3h1m-46.8 0.5h1m-0.1 0.2h1m7.8 0.1h1m0.5 0.1h1m4.9 -0.1h1m1.6 -0.3h1m-0.1 0.5h1m1.5 -0.2h1m-0.4 0.2h1m0.2 -0.2h1m0.3 -0.1h1m-0.6 0.4h1m2.4 -0.5h1m0.9 0h1m0.1 0.4h1m2 -0.3h1m0.6 0.1h1m1.4 0.1h1m0.2 -0.1h1m-0.1 0.1h1m2.9 -0.1h1m10.2 -0.2h1m-88.3 1.2h1m20.2 0.1h1m5.7 -0.2h1m2.1 0.4h1m4.1 -0.5h1m1.1 0h1m-0.4 0.2h1m1.3 0.2h1m-0.3 -0.3h1m3 -0.1h1m1.5 0.3h1m2.5 0.1h1m0.9 -0.5h1m3.5 0.4h1m2.9 -0.1h1m-0.4 -0.2h1m1.5 -0.1h1m-0.3 0.4h1m0.8 -0.2h1m4.4 0.3h1m1.8 -0.1h1m6.1 0h1m-44 0.9h1m1.1 -0.2h1m0.2 -0.1h1m1.7 0.1h1m3.1 0h1m0 -0.1h1m-0.3 0.1h1m2.3 0.1h1m-0.4 0.1h1m1.3 0h1m0.1 0.1h1m6.1 0.1h1m0 -0.5h1m2.7 0.4h1m0 0h1m5.3 0.2h1m-46.4 0.9h1m12.4 -0.2h1m-0.4 0.3h1m2 -0.1h1m2.1 0.1h1m3.3 -0.1h1m1.9 -0.1h1m3.8 0.1h1m0.1 -0.4h1m7.9 -0.1h1m2 0.1h1" stroke="#8e8e8e" stroke-width="0.8" fill="none"/>
<path d="M44.80,266.00C47.33,265.92 55.47,266.00 60.00,265.50C64.53,265.00 68.67,264.08 72.00,263.00C75.33,261.92 77.00,260.67 80.00,259.00C83.00,257.33 86.67,255.17 90.00,253.00C93.33,250.83 97.58,247.73 100.00,246.00C102.42,244.27 103.25,243.10 104.50,242.60C105.75,242.10 106.80,241.77 107.50,243.00C108.20,244.23 108.62,247.50 108.70,250.00C108.78,252.50 108.53,255.50 108.00,258.00C107.47,260.50 106.42,262.75 105.50,265.00C104.58,267.25 103.92,269.17 102.50,271.50C101.08,273.83 99.08,276.42 97.00,279.00C94.92,281.58 92.08,284.50 90.00,287.00C87.92,289.50 86.08,291.90 84.50,294.00C82.92,296.10 81.17,298.67 80.50,299.60L44.80,299.60Z" fill="#fff" stroke="none"/>
<path d="M126.00,265.30C127.50,265.47 129.33,266.38 130.50,268.00C131.67,269.62 132.70,272.33 133.00,275.00C133.30,277.67 132.73,281.17 132.30,284.00C131.87,286.83 130.95,289.37 130.40,292.00C129.85,294.63 130.10,298.50 129.00,299.80C127.90,301.10 125.22,301.27 123.80,299.80C122.38,298.33 121.53,294.13 120.50,291.00C119.47,287.87 118.02,284.17 117.60,281.00C117.18,277.83 117.35,274.33 118.00,272.00C118.65,269.67 120.17,268.12 121.50,267.00C122.83,265.88 124.50,265.13 126.00,265.30Z" fill="#fff" stroke="none"/>
<path d="M44.80,266.00C47.33,265.92 55.47,266.00 60.00,265.50C64.53,265.00 68.67,264.08 72.00,263.00C75.33,261.92 77.00,260.67 80.00,259.00C83.00,257.33 86.67,255.17 90.00,253.00C93.33,250.83 97.58,247.73 100.00,246.00C102.42,244.27 103.25,243.10 104.50,242.60C105.75,242.10 106.80,241.77 107.50,243.00C108.20,244.23 108.62,247.50 108.70,250.00C108.78,252.50 108.53,255.50 108.00,258.00C107.47,260.50 106.42,262.75 105.50,265.00C104.58,267.25 103.92,269.17 102.50,271.50C101.08,273.83 99.08,276.42 97.00,279.00C94.92,281.58 92.08,284.50 90.00,287.00C87.92,289.50 86.08,291.90 84.50,294.00C82.92,296.10 81.17,298.67 80.50,299.60" fill="none" stroke="#505050" stroke-width="0.65" stroke-linejoin="round"/>
<path d="M126.00,265.30C127.50,265.47 129.33,266.38 130.50,268.00C131.67,269.62 132.70,272.33 133.00,275.00C133.30,277.67 132.73,281.17 132.30,284.00C131.87,286.83 130.95,289.37 130.40,292.00C129.85,294.63 130.10,298.50 129.00,299.80C127.90,301.10 125.22,301.27 123.80,299.80C122.38,298.33 121.53,294.13 120.50,291.00C119.47,287.87 118.02,284.17 117.60,281.00C117.18,277.83 117.35,274.33 118.00,272.00C118.65,269.67 120.17,268.12 121.50,267.00C122.83,265.88 124.50,265.13 126.00,265.30Z" fill="none" stroke="#505050" stroke-width="0.65" stroke-linejoin="round"/>
<path d="M44.80,268.00C47.33,267.90 55.47,267.63 60.00,267.40C64.53,267.17 68.17,266.80 72.00,266.60C75.83,266.40 80.40,265.80 83.00,266.20C85.60,266.60 86.67,267.53 87.60,269.00C88.53,270.47 88.87,272.67 88.60,275.00C88.33,277.33 87.27,280.33 86.00,283.00C84.73,285.67 82.50,288.20 81.00,291.00C79.50,293.80 77.67,298.33 77.00,299.80" fill="none" stroke="#505050" stroke-width="0.65" stroke-linejoin="round"/>
<path d="M65.97,279.29C65.95,279.44 65.92,279.59 65.87,279.74C65.83,279.88 65.76,280.02 65.69,280.15C65.62,280.29 65.53,280.42 65.44,280.54C65.34,280.66 65.24,280.78 65.12,280.89C65.00,280.99 64.87,281.10 64.73,281.18C64.59,281.27 64.43,281.35 64.27,281.40C64.10,281.46 63.93,281.50 63.75,281.53C63.58,281.55 63.39,281.55 63.22,281.53C63.04,281.50 62.87,281.46 62.70,281.40C62.54,281.35 62.38,281.27 62.24,281.18C62.10,281.10 61.97,280.99 61.85,280.89C61.73,280.78 61.63,280.66 61.53,280.54C61.44,280.42 61.35,280.29 61.28,280.15C61.21,280.02 61.14,279.88 61.10,279.74C61.05,279.59 61.02,279.44 61.00,279.29C60.99,279.14 60.99,278.98 61.01,278.83C61.04,278.68 61.08,278.52 61.15,278.38C61.22,278.23 61.31,278.09 61.42,277.97C61.53,277.85 61.66,277.73 61.79,277.64C61.93,277.54 62.09,277.46 62.24,277.40C62.40,277.33 62.57,277.29 62.73,277.25C62.90,277.21 63.07,277.19 63.23,277.18C63.40,277.17 63.57,277.17 63.74,277.18C63.90,277.19 64.07,277.21 64.24,277.25C64.40,277.29 64.57,277.33 64.73,277.40C64.88,277.46 65.04,277.54 65.18,277.64C65.31,277.73 65.44,277.85 65.55,277.97C65.66,278.09 65.75,278.23 65.82,278.38C65.89,278.52 65.93,278.68 65.96,278.83C65.98,278.98 65.98,279.14 65.97,279.29Z" fill="none" stroke="#505050" stroke-width="0.65" stroke-linejoin="round"/>
<path d="M68.03,279.89C68.00,280.17 67.93,280.46 67.85,280.72C67.76,280.99 67.64,281.25 67.51,281.50C67.37,281.75 67.21,281.99 67.03,282.22C66.86,282.45 66.66,282.67 66.44,282.87C66.22,283.07 65.97,283.27 65.71,283.43C65.44,283.59 65.15,283.74 64.85,283.84C64.54,283.95 64.21,284.03 63.88,284.07C63.56,284.11 63.21,284.11 62.89,284.07C62.56,284.03 62.23,283.95 61.92,283.84C61.62,283.74 61.33,283.59 61.06,283.43C60.80,283.27 60.55,283.07 60.33,282.87C60.11,282.67 59.91,282.45 59.74,282.22C59.56,281.99 59.40,281.75 59.26,281.50C59.13,281.25 59.01,280.99 58.92,280.72C58.84,280.46 58.77,280.17 58.74,279.89C58.71,279.61 58.72,279.31 58.76,279.03C58.81,278.74 58.90,278.45 59.02,278.18C59.15,277.91 59.32,277.65 59.52,277.42C59.72,277.19 59.97,276.98 60.22,276.80C60.48,276.62 60.77,276.47 61.06,276.35C61.36,276.23 61.67,276.14 61.98,276.07C62.28,276.01 62.60,275.96 62.91,275.94C63.23,275.92 63.54,275.92 63.86,275.94C64.17,275.96 64.49,276.01 64.79,276.07C65.10,276.14 65.41,276.23 65.71,276.35C66.00,276.47 66.29,276.62 66.55,276.80C66.80,276.98 67.05,277.19 67.25,277.42C67.45,277.65 67.62,277.91 67.75,278.18C67.87,278.45 67.96,278.74 68.01,279.03C68.05,279.31 68.06,279.61 68.03,279.89Z" fill="none" stroke="#505050" stroke-width="0.65" stroke-linejoin="round"/>
<path d="M70.09,280.49C70.05,280.90 69.95,281.32 69.82,281.71C69.70,282.11 69.52,282.49 69.32,282.85C69.13,283.22 68.89,283.57 68.63,283.91C68.37,284.24 68.08,284.57 67.76,284.86C67.43,285.15 67.08,285.44 66.69,285.67C66.30,285.91 65.87,286.13 65.42,286.28C64.98,286.44 64.50,286.56 64.02,286.61C63.54,286.67 63.03,286.67 62.55,286.61C62.07,286.56 61.59,286.44 61.15,286.28C60.70,286.13 60.27,285.91 59.88,285.67C59.49,285.44 59.14,285.15 58.81,284.86C58.49,284.57 58.20,284.24 57.94,283.91C57.68,283.57 57.44,283.22 57.25,282.85C57.05,282.49 56.87,282.11 56.75,281.71C56.62,281.32 56.52,280.90 56.48,280.49C56.44,280.08 56.44,279.64 56.51,279.22C56.58,278.81 56.71,278.38 56.89,277.99C57.08,277.59 57.33,277.21 57.62,276.87C57.92,276.53 58.28,276.22 58.65,275.96C59.03,275.70 59.46,275.48 59.88,275.31C60.31,275.13 60.77,275.00 61.22,274.90C61.67,274.80 62.13,274.74 62.59,274.71C63.05,274.68 63.52,274.68 63.98,274.71C64.44,274.74 64.90,274.80 65.35,274.90C65.80,275.00 66.26,275.13 66.69,275.31C67.11,275.48 67.54,275.70 67.92,275.96C68.29,276.22 68.65,276.53 68.95,276.87C69.24,277.21 69.49,277.59 69.68,277.99C69.86,278.38 69.99,278.81 70.06,279.22C70.13,279.64 70.13,280.08 70.09,280.49Z" fill="none" stroke="#505050" stroke-width="0.65" stroke-linejoin="round"/>
<path d="M72.15,281.09C72.10,281.64 71.97,282.18 71.80,282.70C71.63,283.22 71.40,283.72 71.14,284.21C70.88,284.69 70.57,285.15 70.23,285.59C69.89,286.03 69.50,286.46 69.08,286.85C68.65,287.23 68.18,287.61 67.67,287.92C67.15,288.23 66.59,288.52 66.00,288.72C65.42,288.93 64.78,289.08 64.15,289.16C63.52,289.23 62.85,289.23 62.22,289.16C61.59,289.08 60.95,288.93 60.37,288.72C59.78,288.52 59.22,288.23 58.70,287.92C58.19,287.61 57.72,287.23 57.29,286.85C56.87,286.46 56.48,286.03 56.14,285.59C55.80,285.15 55.49,284.69 55.23,284.21C54.97,283.72 54.74,283.22 54.57,282.70C54.40,282.18 54.27,281.64 54.22,281.09C54.17,280.54 54.17,279.97 54.26,279.42C54.35,278.87 54.52,278.31 54.76,277.79C55.01,277.27 55.34,276.77 55.73,276.32C56.11,275.88 56.58,275.47 57.08,275.13C57.58,274.78 58.14,274.50 58.70,274.26C59.27,274.03 59.87,273.85 60.46,273.72C61.06,273.59 61.67,273.51 62.27,273.47C62.88,273.43 63.49,273.43 64.10,273.47C64.70,273.51 65.31,273.59 65.91,273.72C66.50,273.85 67.10,274.03 67.67,274.26C68.23,274.50 68.79,274.78 69.29,275.13C69.79,275.47 70.26,275.88 70.64,276.32C71.03,276.77 71.36,277.27 71.61,277.79C71.85,278.31 72.02,278.87 72.11,279.42C72.20,279.97 72.20,280.54 72.15,281.09Z" fill="none" stroke="#505050" stroke-width="0.65" stroke-linejoin="round"/>
<path d="M74.21,281.69C74.15,282.37 73.98,283.04 73.77,283.69C73.57,284.33 73.28,284.96 72.96,285.56C72.63,286.15 72.25,286.73 71.83,287.28C71.40,287.82 70.93,288.35 70.40,288.83C69.87,289.31 69.28,289.78 68.65,290.16C68.01,290.55 67.31,290.90 66.58,291.16C65.86,291.42 65.06,291.61 64.28,291.70C63.50,291.79 62.67,291.79 61.89,291.70C61.11,291.61 60.31,291.42 59.59,291.16C58.86,290.90 58.16,290.55 57.52,290.16C56.89,289.78 56.30,289.31 55.77,288.83C55.24,288.35 54.77,287.82 54.34,287.28C53.92,286.73 53.54,286.15 53.21,285.56C52.89,284.96 52.60,284.33 52.40,283.69C52.19,283.04 52.02,282.37 51.96,281.69C51.90,281.01 51.90,280.30 52.01,279.62C52.12,278.94 52.33,278.24 52.63,277.60C52.94,276.96 53.35,276.33 53.83,275.77C54.31,275.22 54.89,274.72 55.51,274.29C56.13,273.86 56.82,273.51 57.52,273.22C58.22,272.93 58.97,272.71 59.71,272.55C60.45,272.38 61.20,272.29 61.96,272.24C62.71,272.18 63.46,272.18 64.21,272.24C64.97,272.29 65.72,272.38 66.46,272.55C67.20,272.71 67.95,272.93 68.65,273.22C69.35,273.51 70.04,273.86 70.66,274.29C71.28,274.72 71.86,275.22 72.34,275.77C72.82,276.33 73.23,276.96 73.54,277.60C73.84,278.24 74.05,278.94 74.16,279.62C74.27,280.30 74.27,281.01 74.21,281.69Z" fill="none" stroke="#505050" stroke-width="0.65" stroke-linejoin="round"/>
<path d="M76.27,282.29C76.19,283.10 76.00,283.91 75.75,284.68C75.50,285.45 75.16,286.19 74.77,286.91C74.39,287.62 73.93,288.31 73.43,288.96C72.92,289.61 72.35,290.25 71.72,290.82C71.08,291.40 70.39,291.95 69.63,292.41C68.87,292.87 68.03,293.29 67.16,293.60C66.29,293.90 65.35,294.14 64.41,294.24C63.48,294.35 62.49,294.35 61.56,294.24C60.62,294.14 59.68,293.90 58.81,293.60C57.94,293.29 57.10,292.87 56.34,292.41C55.58,291.95 54.89,291.40 54.25,290.82C53.62,290.25 53.05,289.61 52.54,288.96C52.04,288.31 51.58,287.62 51.20,286.91C50.81,286.19 50.47,285.45 50.22,284.68C49.97,283.91 49.78,283.10 49.70,282.29C49.62,281.48 49.63,280.63 49.76,279.82C49.90,279.00 50.14,278.17 50.50,277.40C50.86,276.64 51.36,275.88 51.93,275.23C52.50,274.57 53.20,273.96 53.94,273.45C54.67,272.94 55.51,272.52 56.34,272.17C57.18,271.82 58.07,271.57 58.95,271.37C59.83,271.18 60.74,271.06 61.64,271.00C62.53,270.94 63.44,270.94 64.33,271.00C65.23,271.06 66.14,271.18 67.02,271.37C67.90,271.57 68.79,271.82 69.63,272.17C70.46,272.52 71.30,272.94 72.03,273.45C72.77,273.96 73.47,274.57 74.04,275.23C74.61,275.88 75.11,276.64 75.47,277.40C75.83,278.17 76.07,279.00 76.21,279.82C76.34,280.63 76.35,281.48 76.27,282.29Z" fill="none" stroke="#505050" stroke-width="0.65" stroke-linejoin="round"/>
<path d="M78.33,282.89C78.24,283.83 78.01,284.77 77.73,285.66C77.44,286.56 77.04,287.43 76.59,288.26C76.14,289.09 75.62,289.89 75.02,290.65C74.43,291.41 73.77,292.14 73.04,292.81C72.30,293.48 71.49,294.12 70.61,294.65C69.72,295.19 68.75,295.68 67.74,296.04C66.73,296.39 65.63,296.66 64.55,296.79C63.46,296.91 62.31,296.91 61.22,296.79C60.14,296.66 59.04,296.39 58.03,296.04C57.02,295.68 56.05,295.19 55.16,294.65C54.28,294.12 53.47,293.48 52.73,292.81C52.00,292.14 51.34,291.41 50.75,290.65C50.15,289.89 49.63,289.09 49.18,288.26C48.73,287.43 48.33,286.56 48.04,285.66C47.76,284.77 47.53,283.83 47.44,282.89C47.35,281.95 47.36,280.96 47.51,280.02C47.67,279.07 47.95,278.10 48.37,277.21C48.79,276.32 49.37,275.44 50.03,274.68C50.70,273.91 51.51,273.21 52.37,272.62C53.22,272.02 54.19,271.53 55.16,271.13C56.13,270.72 57.17,270.42 58.20,270.20C59.22,269.97 60.27,269.84 61.32,269.76C62.36,269.69 63.41,269.69 64.45,269.76C65.50,269.84 66.55,269.97 67.57,270.20C68.60,270.42 69.64,270.72 70.61,271.13C71.58,271.53 72.55,272.02 73.40,272.62C74.26,273.21 75.07,273.91 75.74,274.68C76.40,275.44 76.98,276.32 77.40,277.21C77.82,278.10 78.10,279.07 78.26,280.02C78.41,280.96 78.42,281.95 78.33,282.89Z" fill="none" stroke="#505050" stroke-width="0.65" stroke-linejoin="round"/>
<path d="M80.39,283.49C80.29,284.56 80.03,285.63 79.70,286.65C79.37,287.67 78.92,288.66 78.41,289.61C77.89,290.56 77.30,291.47 76.62,292.33C75.95,293.20 75.20,294.03 74.36,294.79C73.52,295.56 72.59,296.29 71.59,296.90C70.58,297.51 69.47,298.07 68.32,298.48C67.17,298.88 65.92,299.19 64.68,299.33C63.44,299.47 62.13,299.47 60.89,299.33C59.65,299.19 58.40,298.88 57.25,298.48C56.10,298.07 54.99,297.51 53.98,296.90C52.98,296.29 52.05,295.56 51.21,294.79C50.37,294.03 49.62,293.20 48.95,292.33C48.27,291.47 47.68,290.56 47.16,289.61C46.65,288.66 46.20,287.67 45.87,286.65C45.54,285.63 45.28,284.56 45.18,283.49C45.08,282.42 45.08,281.29 45.26,280.21C45.44,279.13 45.76,278.03 46.24,277.01C46.72,276.00 47.38,275.00 48.14,274.13C48.90,273.26 49.82,272.45 50.80,271.78C51.77,271.10 52.88,270.54 53.98,270.08C55.09,269.62 56.27,269.28 57.44,269.02C58.61,268.76 59.81,268.61 61.00,268.53C62.19,268.45 63.38,268.45 64.57,268.53C65.76,268.61 66.96,268.76 68.13,269.02C69.30,269.28 70.48,269.62 71.59,270.08C72.69,270.54 73.80,271.10 74.77,271.78C75.75,272.45 76.67,273.26 77.43,274.13C78.19,275.00 78.85,276.00 79.33,277.01C79.81,278.03 80.13,279.13 80.31,280.21C80.49,281.29 80.49,282.42 80.39,283.49Z" fill="none" stroke="#505050" stroke-width="0.65" stroke-linejoin="round"/>
<ellipse cx="125.6" cy="276.5" rx="3.7" ry="6" transform="rotate(0 125.6 276.5)" fill="none" stroke="#505050" stroke-width="0.65"/>
<path d="M45.6,269 C46.4,280 46.4,290 45.6,299" stroke="#333" stroke-width="1.6" fill="none"/>
<path d="M47.6,270 C48.6,280 48.6,290 47.6,298" stroke="#666" stroke-width="0.7" fill="none"/>
<path d="M48,298.8 L76,298.8" stroke="#444" stroke-width="1.6"/>
</g>
<clipPath id="clp2"><rect x="148.2" y="203.4" width="96.80000000000001" height="96.20000000000002"/></clipPath>
<g clip-path="url(#clp2)">
<path d="M234.5 214.2h1m6 2.3h1m-43 1.1h1m8.8 -0.1h1m24.7 -0.2h1m3 0.3h1m-68.4 0.8h1m32.5 0h1m21.5 0h1m8.6 0h1m-42.6 0.8h1m7.9 0.1h1m13.5 -0.1h1m4.5 0.2h1m1 -0.3h1m2.6 0.2h1m7.1 0h1m1.1 -0.3h1m0.7 0.1h1m-89 1.2h1m14.6 -0.3h1m25.5 0.3h1m27 -0.3h1m2.1 0.5h1m6.9 0h1m-54.9 0.7h1m6.3 0h1m5.9 0.3h1m15.9 -0.2h1m-0.1 -0.2h1m0.1 0.2h1m6.1 0.3h1m6 -0.3h1m2.7 0.1h1m-59.7 0.8h1m5 0.3h1m1.1 0h1m1.8 0h1m3.9 -0.2h1m-0.1 0.2h1m9.3 -0.1h1m6.1 -0.3h1m0.9 0.5h1m6.9 -0.3h1m4 -0.1h1m-0.1 0.1h1m0.2 0h1m-0.3 -0.3h1m2.3 0.5h1m-30.8 0.9h1m1.5 0.2h1m2.4 -0.5h1m12 0.1h1m5.7 -0.2h1m0.2 0.1h1m6.9 -0.1h1m4.3 0.2h1m3.7 -0.1h1m-42.2 1h1m1.3 0.3h1m-0.1 -0.2h1m3.7 -0.2h1m0.5 0.5h1m0.6 -0.4h1m2.4 0.5h1m-0.3 -0.3h1m4.2 -0.1h1m1.8 0.4h1m2.2 -0.1h1m0.7 -0.2h1m3.4 0.3h1m0.6 -0.2h1m0.2 0.1h1m1.2 0h1m-0.1 0h1m-81.2 0.5h1m5.1 0.2h1m11 0h1m3.1 0.3h1m1.1 -0.3h1m22.8 0.3h1m0.8 0h1m7.3 -0.4h1m2.1 0.1h1m-0.4 -0.2h1m3.3 0h1m-0.2 0.4h1m3.3 -0.1h1m-0.3 0.2h1m0.2 -0.1h1m0.9 0.2h1m-0.2 -0.5h1m3.3 0.1h1m1.2 0.1h1m-0.1 -0.2h1m-0.4 0.2h1m-96.5 1.2h1m-0.1 -0.5h1m1 0.3h1m21.6 0h1m1.3 0h1m3.7 0.1h1m6 -0.1h1m1 0.3h1m2.3 -0.4h1m2.9 0.3h1m8.1 0h1m2.8 -0.2h1m2.2 0h1m1.2 -0.1h1m2 0.1h1m-0.6 0.2h1m1 -0.2h1m0.6 0h1m-0.4 0.3h1m2.8 -0.4h1m1.5 0.1h1m1.1 -0.2h1m0.7 0h1m3 0.2h1m0.8 0h1m1.2 0h1m-0.2 -0.2h1m0 0.2h1m-88.1 1.2h1m18.3 -0.2h1m3 0h1m9.3 0.2h1m-0.4 0.1h1m3.8 -0.3h1m1.3 0h1m8 -0.1h1m2.8 0h1m0.1 0.4h1m3.3 0h1m1.1 -0.4h1m0.8 0h1m1.6 -0.1h1m0 -0.1h1m0.1 0.4h1m1 -0.3h1m0.5 0.5h1m-0.5 -0.5h1m0.4 0.4h1m0.8 -0.4h1m2.1 0.4h1m0.9 -0.2h1m0.2 0.2h1m1.8 -0.4h1m2.8 0.4h1m-88.6 1.1h1m4.9 -0.6h1m1.9 0.1h1m2.9 0.4h1m4.4 0h1m0.5 -0.3h1m16.3 0.2h1m0.7 -0.1h1m1 -0.1h1m4.2 0.3h1m2.3 0h1m0.9 -0.2h1m2.7 0.3h1m2.1 -0.3h1m-0.1 0h1m1.2 -0.2h1m0 0.1h1m-0.3 0.2h1m0.5 0.2h1m-0.1 -0.2h1m0.8 0h1m0 0h1m1 -0.3h1m0 0.5h1m-0.2 -0.4h1m-0.1 -0.1h1m0.2 0h1m0.9 0h1m1.9 0h1m0.6 0h1m0 0.1h1m-0.1 0.4h1m0.1 -0.1h1m-0.3 -0.1h1m0.1 -0.3h1m-0.1 0.5h1m1.2 -0.4h1m-84.4 1.1h1m2.2 0h1m1 0.2h1m6 -0.4h1m3 0h1m1.2 0.4h1m6.9 0h1m0.6 0.1h1m0 -0.1h1m4.2 -0.2h1m5.1 -0.2h1m-0.1 0.2h1m2.1 -0.3h1m0.2 0.2h1m2 0.4h1m-0.5 -0.6h1m0.2 0.2h1m0.8 0.3h1m0.2 -0.5h1m3.2 0.1h1m1 0.5h1m-0.2 -0.1h1m1.1 -0.3h1m1.3 -0.1h1m-0.1 0.4h1m-0.3 -0.2h1m0.2 0.1h1m-0.4 -0.3h1m0 0.3h1m2.2 -0.2h1m0.3 0.2h1m-0.5 0.1h1m1.3 -0.1h1m0.1 -0.3h1m-0.2 0.1h1m0.2 0h1m2.7 0.3h1m-91.9 1h1m4.2 -0.4h1m-0.2 0.2h1m0.2 0.1h1m4.1 -0.1h1m-0.3 0.1h1m2.1 0.1h1m0.2 0.1h1m1.6 -0.1h1m-0.1 -0.3h1m0.4 0.3h1m1.7 -0.4h1m8.4 0h1m0 0.4h1m-0.4 0h1m1.4 -0.1h1m-0.4 0h1m0 0h1m2.1 0.1h1m0.4 0h1m-0.4 -0.2h1m2.4 0h1m-0.1 -0.3h1m0.9 0.3h1m0.9 0.3h1m0 -0.1h1m-0.2 -0.1h1m0.1 -0.1h1m1 -0.3h1m0.2 0.5h1m-0.2 0.1h1m0.2 -0.3h1m1.1 -0.3h1m1.1 0.4h1m0.9 -0.3h1m2.1 0.1h1m0.7 -0.1h1m0.1 0.2h1m4.8 0.2h1m0.2 -0.1h1m0.8 -0.4h1m0.1 0h1m-0.3 0.4h1m0.5 -0.3h1m-0.5 0.5h1m0.1 -0.4h1m0.3 0h1m-0.4 0.3h1m1.3 -0.5h1m-86.2 1.4h1m1.9 -0.3h1m5.5 0.5h1m10.8 -0.6h1m4 0.3h1m0 -0.2h1m0.2 0.1h1m-0.1 0.3h1m0 -0.2h1m1.6 0.1h1m2.6 -0.2h1m-0.3 0.3h1m0 -0.4h1m0.1 0.2h1m-0.4 -0.1h1m0.2 0.1h1m0.2 -0.2h1m-0.1 0.1h1m1 0.4h1m0 0h1m-0.1 -0.3h1m1.4 -0.2h1m0.6 0.1h1m1.2 -0.1h1m0 0.1h1m3.1 0.4h1m0.1 -0.5h1m0.8 0.3h1m1.6 -0.1h1m0 -0.1h1m0.3 0.1h1m-0.2 -0.1h1m1.1 0.2h1m1 0.1h1m0.1 -0.2h1m0.1 -0.3h1m0 0.6h1m1.1 -0.3h1m-0.3 0h1m-0.1 -0.1h1m0.1 0h1m0.1 0.2h1m1.9 0h1m0.9 0.2h1m-85.5 0.8h1m3.8 -0.1h1m0.6 -0.1h1m4.4 0h1m1.6 -0.1h1m0 0.4h1m1 -0.5h1m2.5 0.5h1m2.9 -0.1h1m0.9 0.2h1m4.9 -0.1h1m1 0h1m-0.2 0h1m4.1 -0.2h1m3.1 0.3h1m-0.1 -0.5h1m0.1 0.3h1m0 -0.1h1m3.9 0.3h1m0.1 -0.1h1m-0.1 -0.2h1m1 0.2h1m3.1 -0.5h1m0.3 0.4h1m-0.2 -0.2h1m0.2 0.1h1m-0.4 0h1m0.1 -0.1h1m0.3 0.2h1m0 -0.1h1m0.8 -0.1h1m2 0h1m0.8 0h1m0.9 0h1m1.4 -0.2h1m0.9 0.3h1m0.2 0.2h1m0.1 -0.1h1m0.6 -0.3h1m-94.7 1.2h1m0.9 -0.1h1m1.8 0h1m2.8 -0.2h1m1.4 0.3h1m-0.3 0h1m1.4 -0.2h1m-0.3 0.3h1m4.2 -0.1h1m-0.1 -0.1h1m-0.1 -0.2h1m1.2 0.2h1m-0.4 -0.1h1m2.6 0.5h1m-0.3 -0.6h1m0.1 0.6h1m0.9 -0.4h1m-0.3 0.4h1m3.4 -0.5h1m1.2 0.4h1m0.9 -0.3h1m2.8 0.3h1m1.8 -0.3h1m0 0.2h1m0.3 -0.1h1m-0.3 -0.1h1m0.3 0.2h1m0 0.2h1m0.2 -0.6h1m-0.1 0.5h1m-0.3 -0.4h1m1 0.3h1m0 -0.3h1m2.1 0.4h1m0.7 -0.1h1m0.5 -0.2h1m0.6 0.1h1m1.3 -0.1h1m-0.4 -0.1h1m0.3 0.2h1m0.8 0.3h1m0.2 -0.6h1m0.1 0.6h1m0.7 -0.1h1m0 -0.4h1m0.2 0.1h1m0 0.3h1m1.2 -0.4h1m0 0.5h1m-0.1 0h1m0 -0.4h1m1.1 0.2h1m0 -0.1h1m-0.1 0h1m-87.1 1.2h1m1.8 -0.3h1m9.1 0.3h1m1.3 -0.2h1m-0.5 -0.2h1m2.1 0.3h1m-0.1 0h1m3.5 0h1m1 0.1h1m1.1 -0.1h1m2.6 0.1h1m3.3 -0.1h1m-0.4 -0.3h1m1.5 0.3h1m2.5 -0.4h1m2.1 0.5h1m0 -0.3h1m0.2 0.3h1m0.7 -0.2h1m1.4 0.2h1m-0.1 -0.1h1m1.2 -0.1h1m-0.2 0.2h1m0.2 -0.5h1m-0.5 0.3h1m0 -0.2h1m1 0.5h1m0.5 -0.2h1m0.9 -0.2h1m0.6 0.4h1m0.4 -0.1h1m-0.4 0h1m2.1 -0.4h1m-0.1 0.4h1m0.5 -0.2h1m0 0.2h1m-0.1 -0.2h1m0.1 0h1m0.8 0.2h1m0 -0.1h1m0.1 0.2h1m-0.2 -0.2h1m0 -0.2h1m0.2 0.4h1m0 -0.3h1m1.8 0.3h1m0.2 -0.1h1m0.1 -0.3h1m0.7 0.2h1m-93.8 1.1h1m4.7 -0.3h1m0 0.4h1m0.9 -0.1h1m3.3 -0.3h1m2.1 -0.2h1m-0.2 0.1h1m1.9 0.4h1m1.1 -0.1h1m1.1 -0.2h1m-0.1 0.1h1m8.8 0.2h1m0.4 -0.1h1m-0.3 -0.3h1m0.3 0.3h1m-0.5 -0.2h1m1.5 0.3h1m-0.1 -0.2h1m-0.2 -0.2h1m0.4 0.3h1m-0.4 -0.3h1m0.2 0.1h1m0.1 0h1m0 -0.1h1m-0.3 0.4h1m0.4 -0.1h1m3 -0.2h1m0.6 0.4h1m0.2 -0.3h1m-0.2 0.3h1m0.1 -0.1h1m-0.2 -0.1h1m-0.1 0h1m0.6 -0.2h1m-0.1 -0.2h1m-0.2 0.6h1m0.2 -0.3h1m-0.3 -0.2h1m-0.1 0.2h1m0 0.2h1m0.3 -0.4h1m1 0.1h1m-0.4 0.4h1m2.1 -0.2h1m0.5 -0.4h1m-0.3 0.5h1m0.1 0h1m0.6 -0.5h1m0.1 0.1h1m2.2 0.2h1m1.2 -0.3h1m-0.2 0.3h1m-0.2 -0.1h1m2.1 0.1h1m0.2 0.2h1m-0.3 -0.2h1m-90.7 0.8h1m0.1 0.3h1m2.7 -0.1h1m-0.2 0.1h1m0.4 0h1m-0.1 -0.4h1m1 0.1h1m0.8 0.3h1m3.1 0.2h1m1.4 -0.6h1m0.7 0.6h1m0.9 -0.2h1m-0.1 0h1m3.4 0.2h1m-0.1 -0.2h1m-0.2 0.2h1m0.3 -0.1h1m0 -0.5h1m1.8 0.4h1m0.7 -0.3h1m3.2 0.3h1m-0.1 0.2h1m0.1 -0.4h1m0.1 0h1m2.1 -0.2h1m3 0.5h1m1 -0.4h1m0.8 0.3h1m0.4 0.1h1m1 0.1h1m-0.4 -0.1h1m0 -0.1h1m0.1 0.2h1m0 -0.2h1m0.8 0.1h1m0 0h1m1.2 -0.2h1m-0.2 0.3h1m0.3 -0.5h1m1 0.2h1m-0.1 0.1h1m-0.1 -0.4h1m0.4 0.6h1m1.8 0h1m0.1 -0.5h1m-0.2 0.5h1m0.1 -0.1h1m0.1 -0.4h1m0 0h1m-0.2 0h1m0 0.1h1m0.3 0.1h1m-0.2 0.1h1m0 0h1m2 -0.4h1m-0.2 0.2h1m-96.7 0.9h1m0.9 0.4h1m1.9 -0.1h1m4.1 -0.3h1m2 -0.1h1m-0.1 0.1h1m0 0.4h1m0.1 0.1h1m1.9 -0.1h1m1.3 -0.5h1m-0.5 0.3h1m1 0.2h1m0.4 -0.1h1m-0.4 -0.3h1m2.2 0h1m3.8 0.4h1m1.2 -0.1h1m1.1 -0.4h1m0.1 0.6h1m0 -0.6h1m0.9 0.2h1m0.6 0.2h1m0.4 -0.2h1m0.1 0h1m-0.3 0h1m-0.1 0.3h1m-0.1 -0.5h1m1.1 0.5h1m0.2 -0.2h1m2.1 -0.2h1m0.2 0.4h1m-0.6 -0.3h1m0.6 -0.1h1m-0.4 0.3h1m1.2 -0.4h1m0 0.4h1m0.6 0.1h1m0.5 0h1m0.7 -0.2h1m0.1 0.3h1m1.1 -0.6h1m0.6 0.4h1m1.4 0h1m-0.1 0.2h1m-0.2 -0.4h1m-0.1 0.2h1m0.3 0.2h1m-0.1 0h1m2.3 -0.5h1m-0.4 0h1m0.3 -0.1h1m0.7 0.4h1m-0.1 -0.3h1m0.2 0.5h1m1 -0.4h1m0.1 -0.1h1m1 0.1h1m-0.2 0.2h1m1.4 -0.1h1m-84.1 1.2h1m-0.2 0h1m0.1 -0.2h1m1.2 0h1m0 0.1h1m0 -0.4h1m0.8 0.2h1m-0.1 0.1h1m-0.1 -0.3h1m0.1 0.2h1m3.3 0.2h1m0.9 0.1h1m1.7 -0.2h1m1.2 0h1m-0.1 0.1h1m2.3 -0.1h1m-0.2 -0.2h1m0 0.5h1m1.8 -0.4h1m0.1 -0.1h1m0 0.4h1m0.2 -0.4h1m-0.3 0.3h1m1.2 -0.3h1m1.8 0.4h1m0.4 -0.3h1m1.1 -0.1h1m-0.3 0.4h1m0.1 -0.4h1m-0.2 0.4h1m-0.2 0.1h1m0.5 -0.2h1m-0.1 -0.2h1m-0.2 0.1h1m0.9 0.2h1m0.5 -0.4h1m2.6 0.5h1m1.4 -0.4h1m1.9 0h1m1 0.4h1m-0.2 -0.1h1m0 -0.3h1m0.2 0.3h1m2.8 -0.4h1m0.2 0.2h1m-0.5 -0.1h1m0.3 0.2h1m0 0.2h1m1.3 -0.1h1m-0.5 -0.1h1m0.1 -0.2h1m0.2 0.1h1m-0.3 -0.3h1m0.1 0.1h1m-95.7 1.2h1m2.8 0.1h1m6.7 -0.1h1m0.4 0h1m1 0.2h1m-0.4 -0.2h1m2.5 0h1m-0.5 0.3h1m2 -0.5h1m1.2 0.2h1m0.3 0.1h1m1.5 -0.4h1m2.1 0.1h1m0.4 0.1h1m3.8 0.3h1m1.2 -0.4h1m-0.1 0.1h1m0.1 -0.2h1m0 0.4h1m3 -0.2h1m-0.4 -0.1h1m1 0.2h1m2.1 -0.1h1m0.2 0.3h1m0.8 -0.4h1m1 0.5h1m0.4 -0.4h1m-0.4 0.1h1m0.1 -0.1h1m1.2 0.3h1m-0.5 -0.5h1m0.4 0.1h1m-0.3 0.2h1m1.2 -0.3h1m0.3 0.2h1m-0.3 -0.1h1m0.2 0.3h1m0.1 0.1h1m-0.5 -0.1h1m0.2 -0.1h1m0.3 0h1m-0.3 0.3h1m-0.2 -0.4h1m0 -0.2h1m1 0.4h1m1.2 -0.1h1m1.1 -0.2h1m2.6 0.1h1m0.4 0.4h1m1.2 -0.2h1m-0.5 -0.3h1m1 0.4h1m0.1 -0.1h1m-0.1 -0.3h1m-91.1 0.9h1m6.6 0.2h1m2.8 0.2h1m1.9 0h1m0.1 -0.2h1m-0.2 0.1h1m-0.2 -0.1h1m0.4 -0.1h1m0 0h1m0.2 0h1m-0.4 0.3h1m1.4 -0.4h1m0 0.4h1m-0.1 0.2h1m0.7 -0.3h1m0.3 -0.1h1m-0.5 0.1h1m0.2 -0.1h1m1.1 -0.2h1m0.1 0.1h1m2.1 0.2h1m-0.4 0h1m1 0.2h1m0.1 0h1m0 -0.3h1m0.4 0h1m-0.3 0.3h1m1.2 -0.1h1m-0.2 -0.3h1m0.8 0.2h1m0.4 0.1h1m-0.4 0.2h1m0 -0.2h1m1 -0.3h1m0.1 0h1m3 0.3h1m0.3 -0.2h1m-0.2 0h1m0.9 0h1m0.3 -0.2h1m1.7 0.2h1m0.4 0.2h1m0.5 0h1m2.1 0.1h1m0.4 -0.1h1m-0.1 0h1m1.9 -0.1h1m0.1 -0.3h1m-0.5 0h1m1.6 0.2h1m0.7 -0.1h1m1.3 0.5h1m-0.4 -0.5h1m0.2 0h1m1.8 0h1m-87.7 1h1m5 0.4h1m4.6 -0.1h1m0.4 -0.4h1m1.6 0h1m3.1 0.1h1m1.1 0.3h1m1.2 -0.3h1m0 0.2h1m0.5 -0.2h1m0.4 0h1m0.7 0.1h1m0.9 0.2h1m1.6 0.1h1m-0.5 -0.2h1m0 0.2h1m1.2 -0.4h1m0.8 0h1m0.2 0.3h1m-0.2 -0.3h1m-0.1 0.2h1m0.3 -0.1h1m0.1 0.3h1m0 -0.3h1m-0.4 0.3h1m0.3 -0.1h1m0.1 0.2h1m1.1 0h1m-0.1 -0.2h1m-0.3 0.1h1m0.3 0h1m-0.2 0h1m0.4 0h1m-0.1 -0.4h1m0 0.3h1m2.8 0h1m0.3 -0.3h1m0 -0.1h1m-0.4 0.2h1m0.3 0.3h1m0.7 -0.4h1m1 0h1m1 0.4h1m2.1 -0.1h1m0.1 0h1m-0.3 -0.1h1m0.4 -0.2h1m0 0h1m0.7 0.1h1m-0.2 -0.2h1m0.2 0.1h1m-0.2 0h1m-89.9 1h1m0.5 0.1h1m3.5 0.3h1m0.3 -0.4h1m3.2 0.3h1m-0.4 -0.3h1m0.2 0h1m0.1 0.1h1m0.6 0.3h1m0.2 0.1h1m0.8 -0.2h1m0.1 -0.1h1m-0.1 -0.1h1m0.2 0.1h1m0.1 0h1m0.7 0.2h1m0.3 -0.2h1m-0.1 0.2h1m-0.2 0h1m0.2 0.1h1m-0.3 0h1m0.5 0h1m-0.2 -0.3h1m0.3 0.2h1m-0.2 0h1m0.1 -0.3h1m1.1 0.2h1m-0.4 -0.2h1m1.3 0.3h1m0.9 -0.1h1m0 0h1m-0.3 0h1m0.4 0h1m1 0.1h1m-0.4 0.1h1m0.2 -0.3h1m0.8 0.2h1m0.3 -0.2h1m-0.1 -0.1h1m-0.1 0.2h1m0.2 0.1h1m1.9 -0.1h1m-0.1 0h1m2.9 -0.2h1m0 -0.1h1m1.3 0.2h1m1.1 -0.3h1m2 0.3h1m1.1 0.1h1m0.8 -0.1h1m3.2 -0.3h1m2.4 0.1h1m3.3 0h1m1.2 0.4h1m0.6 -0.4h1m0.5 0.2h1m-95.3 1h1m2 -0.2h1m0.2 0h1m0.6 0.2h1m1 0.1h1m0.2 -0.3h1m0.9 -0.1h1m3.2 0h1m0.8 0.3h1m0.1 0.3h1m-0.3 0h1m0.5 -0.1h1m0.9 -0.3h1m-0.2 0h1m1.2 0h1m-0.1 -0.1h1m-0.2 0.1h1m1 0.3h1m0.4 -0.2h1m0 0h1m0.1 -0.1h1m-0.3 -0.2h1m0.2 0.4h1m-0.2 -0.1h1m-0.1 -0.1h1m2 0h1m0.1 0.3h1m0.2 0h1m-0.4 0h1m1 0h1m1.4 -0.3h1m0.1 -0.1h1m0 0.4h1m0.7 -0.3h1m3.1 -0.1h1m-0.4 0.1h1m0.6 0.3h1m1.6 -0.5h1m1.1 0.4h1m0.9 -0.3h1m0.1 0.3h1m-0.1 0h1m0 -0.4h1m0.2 0.1h1m0 0.2h1m0 -0.1h1m-0.3 0.2h1m0.4 0h1m-0.4 -0.1h1m0.4 0.2h1m0.7 -0.3h1m0.1 0.2h1m-0.1 0h1m-0.1 -0.2h1m1.9 0h1m1.1 0.3h1m0.1 -0.5h1m1.3 0.1h1m-0.1 0h1m-0.3 0h1m0.2 0.3h1m-0.3 -0.2h1m0.2 -0.1h1m-0.2 0.3h1m0.4 0h1m0.1 0.1h1m-96.3 1h1m1.4 -0.1h1m-0.3 -0.3h1m0.8 0.1h1m0.9 -0.1h1m0.2 0.4h1m0 0h1m0.2 -0.4h1m0.8 0.3h1m0.2 0.1h1m2.1 -0.1h1m3.8 0.1h1m-0.3 0h1m1.1 0.1h1m1.4 0h1m-0.2 -0.2h1m-0.1 -0.3h1m0.1 0.1h1m0.7 -0.1h1m0.4 0.4h1m1.2 -0.1h1m1.6 -0.1h1m0.2 0h1m-0.3 -0.2h1m0 0.3h1m0.3 -0.1h1m-0.1 0.3h1m-0.3 -0.3h1m0.5 -0.1h1m-0.5 0.3h1m0 -0.1h1m1.2 -0.1h1m1.1 0h1m0.1 -0.1h1m-0.2 -0.1h1m1.4 0.4h1m-0.6 0.1h1m0.4 -0.4h1m-0.3 0.2h1m0.1 -0.4h1m-0.1 0.2h1m0.1 0.2h1m0.1 -0.4h1m0.8 0.1h1m-0.1 0h1m1.1 0.1h1m0.4 -0.1h1m1.6 0.2h1m0.3 0.2h1m0.1 0h1m0.1 -0.2h1m-0.6 0.1h1m0.3 0h1m-0.2 -0.2h1m1 0.1h1m0.5 -0.1h1m-0.5 0.3h1m2.2 -0.3h1m2 -0.2h1m-0.1 0.3h1m1.3 -0.2h1m-0.5 0.2h1m0.1 0.3h1m1.1 -0.2h1m1.2 -0.3h1m-95.4 0.9h1m2.4 0h1m2 0.6h1m-0.1 -0.5h1m-0.2 0.2h1m-0.1 0.1h1m0 -0.1h1m0.3 0.2h1m0 -0.5h1m0.3 0.2h1m-0.4 0.2h1m0.2 0h1m2 -0.4h1m-0.4 0.2h1m0.3 0h1m2.1 0.1h1m-0.4 -0.2h1m0.3 0.1h1m0 0.1h1m-0.1 -0.2h1m0 0h1m1.3 0.1h1m0.8 0.2h1m0.3 0.1h1m-0.5 -0.3h1m0.4 0.4h1m1 -0.1h1m0 -0.2h1m0.1 0.1h1m-0.2 -0.2h1m0.7 0.2h1m0.3 0h1m-0.2 -0.4h1m0 0.2h1m1.1 0.3h1m0.2 -0.1h1m-0.4 -0.1h1m0 -0.1h1m0 0.1h1m2.3 0.1h1m-0.2 0h1m0.3 0.1h1m1.7 -0.4h1m1 0h1m0.3 0.4h1m-0.2 0h1m0.1 0.1h1m-0.3 -0.2h1m1.2 0.1h1m-0.2 -0.5h1m0.4 0.1h1m-0.2 0.2h1m-0.2 0h1m0.4 -0.1h1m0.7 0h1m0.2 0.3h1m-0.4 -0.2h1m0.6 -0.2h1m-0.4 0.1h1m0.1 0.4h1m2.3 -0.3h1m3.6 -0.2h1m-0.2 0h1m0.1 0.5h1m1.4 -0.4h1m-0.3 0h1m1.2 0.1h1m-96 1h1m-0.2 0.1h1m2.2 -0.4h1m1.1 0.5h1m-0.4 0.1h1m1.2 -0.5h1m0.1 0.3h1m0.7 0.1h1m2.1 -0.1h1m0 0.1h1m1 -0.3h1m0.2 0.1h1m0 0.2h1m1.6 0.1h1m2.2 -0.3h1m1.2 -0.1h1m-0.1 0h1m0 0.4h1m0.9 -0.3h1m0 -0.2h1m0.9 0.4h1m0.2 0.1h1m0.9 0h1m0.4 -0.1h1m-0.5 -0.3h1m2.4 0h1m1 0.2h1m0 -0.1h1m0 0h1m-0.1 0.2h1m0 0h1m0.1 0h1m-0.2 -0.5h1m-0.2 0.4h1m0.2 0h1m0.1 -0.2h1m-0.3 -0.2h1m0 0.2h1m2 0.1h1m1 -0.2h1m0 0.1h1m0.1 0.2h1m1.9 -0.2h1m-0.1 0h1m0.4 -0.1h1m0.9 0h1m-0.3 0.5h1m0.5 -0.2h1m1 0.1h1m0 -0.2h1m-0.4 -0.2h1m0 0.3h1m0.1 0.1h1m1.1 -0.2h1m2.9 0h1m1.9 0.1h1m1.4 -0.1h1m-0.5 0.1h1m0.1 -0.2h1m0.2 -0.1h1m0.1 0.1h1m0 -0.1h1m-93.2 1.4h1m0.9 -0.5h1m0.4 0.5h1m-0.4 0.1h1m0.4 -0.1h1m1.6 -0.1h1m0.1 -0.3h1m2.2 0.2h1m0 0h1m-0.1 0.1h1m-0.3 -0.3h1m0.2 0.1h1m1.9 0h1m0.3 0.2h1m0.2 0.2h1m0.9 0h1m-0.4 -0.4h1m0 -0.1h1m0.2 0.2h1m1.1 -0.1h1m-0.3 0.1h1m1.2 -0.2h1m0.3 0.4h1m0.9 0.1h1m-0.1 -0.2h1m-0.1 -0.1h1m1.7 0h1m1.5 0h1m0 0.1h1m-0.3 0.1h1m0 -0.4h1m0.2 0h1m0 0.3h1m0.1 -0.2h1m1.1 0.1h1m-0.5 -0.2h1m0 0.1h1m0.2 0.3h1m3.2 -0.4h1m1.7 0.1h1m0.4 0.2h1m-0.4 -0.4h1m1 0.2h1m0 0h1m-0.1 -0.1h1m0 0.2h1m0.5 0.1h1m-0.5 -0.1h1m0.3 0.2h1m-0.2 0.1h1m0 -0.4h1m0.4 0.2h1m-0.2 0.2h1m0 -0.1h1m1.9 -0.3h1m0.2 0.1h1m0.9 -0.3h1m0.2 0.4h1m1.9 0.1h1m0.9 -0.3h1m0.2 0.1h1m-0.3 -0.1h1m0.1 0.4h1m-0.3 -0.2h1m1.1 -0.4h1m0.4 0.6h1m-95.3 0.5h1m-0.2 0.3h1m0.4 0.1h1m0.1 -0.5h1m-0.2 0.5h1m1.7 -0.5h1m1.1 0.1h1m1.3 0.3h1m0.7 0.2h1m3 -0.2h1m0 0h1m2.3 0.1h1m0 -0.1h1m-0.1 -0.3h1m0.2 0.4h1m0 -0.3h1m-0.4 0.1h1m0.4 -0.1h1m-0.5 0.2h1m0.1 -0.4h1m0.9 0.3h1m0.4 -0.3h1m0 0h1m0 0.4h1m0.9 0.2h1m-0.2 -0.3h1m-0.1 -0.1h1m0.3 0h1m-0.1 0h1m-0.1 0.3h1m0.9 -0.5h1m0.3 0h1m-0.3 0.6h1m0.3 0h1m0 -0.1h1m0.8 -0.2h1m0.9 0h1m1.1 -0.2h1m0.1 0h1m1.2 0h1m0.9 0h1m0.9 0.4h1m2.2 -0.5h1m-0.3 0.4h1m0.3 0.2h1m-0.2 -0.4h1m0.2 0h1m-0.2 0.3h1m-0.2 0.1h1m1.3 -0.1h1m0.9 -0.2h1m3.2 0.3h1m2.6 -0.2h1m3.2 -0.1h1m3.2 0.3h1m-0.4 -0.1h1m-0.1 -0.4h1m0.4 0.4h1m0.2 -0.2h1m-0.5 0h1m-92 1h1m4.5 0h1m-0.2 0.2h1m0.2 0h1m0.8 -0.3h1m2 0.2h1m0.6 0.2h1m2 -0.6h1m0.4 0.3h1m2 0.3h1m-0.3 -0.1h1m1.2 -0.2h1m1 0.1h1m0 -0.1h1m0.1 -0.2h1m-0.1 0.3h1m0.9 0.1h1m0.3 -0.3h1m-0.5 -0.2h1m0.1 0.2h1m0.5 0h1m-0.5 0.1h1m0.3 -0.1h1m1.2 0.2h1m0.9 -0.3h1m-0.1 0.1h1m-0.3 0.2h1m0.4 0h1m0 -0.1h1m0.9 -0.2h1m-0.1 0.5h1m1.1 -0.4h1m0.1 0.4h1m1 -0.2h1m-0.5 -0.1h1m0.4 -0.2h1m-0.3 0.3h1m-0.1 -0.2h1m1.1 0.3h1m0.1 -0.1h1m0 -0.2h1m2 -0.2h1m0.4 0.5h1m-0.2 -0.1h1m0.1 0.2h1m-0.3 -0.1h1m2.3 -0.1h1m1.9 0.1h1m1.2 0h1m0.8 0h1m3.9 -0.4h1m0.1 0.2h1m-0.2 0.1h1m0.3 -0.4h1m1 0.1h1m-0.1 0.2h1m0 0.1h1m-94.3 1.1h1m1.4 -0.2h1m1.6 0.2h1m1 -0.1h1m1.1 -0.2h1m0.3 0.1h1m-0.2 -0.2h1m3.3 0.3h1m-0.2 0.1h1m0.7 -0.4h1m-0.1 0.4h1m0.4 -0.3h1m-0.3 0.2h1m0.2 0h1m0 0.1h1m0.2 -0.2h1m2.7 0.1h1m0.2 -0.2h1m-0.4 0.4h1m0.2 0h1m0.2 -0.3h1m1.9 0.2h1m0.1 -0.2h1m-0.2 0.3h1m1 -0.6h1m0 0.6h1m0.9 -0.5h1m0 0h1m0.3 0.1h1m1.9 0.1h1m0 0h1m0 0.2h1m0.8 -0.3h1m3.4 0.2h1m-0.3 0.2h1m1.3 -0.6h1m-0.3 0.5h1m0.1 -0.2h1m-0.3 0.1h1m0.4 -0.2h1m-0.1 -0.1h1m2.2 0h1m-0.1 0.2h1m0.1 0h1m-0.4 0.1h1m0.9 -0.3h1m1 0.3h1m0.1 0h1m0 -0.2h1m-0.1 -0.1h1m0.5 0.5h1m-0.4 -0.1h1m0.2 -0.4h1m-0.3 0.4h1m1.6 -0.3h1m-0.3 0.4h1m0.2 -0.2h1m0.8 -0.3h1m-0.3 0.2h1m1 0.1h1m1.3 0h1m0.2 -0.2h1m-0.4 0.3h1m-92.9 0.8h1m-0.1 0h1m-0.1 -0.1h1m1.1 0.4h1m0.3 -0.4h1m0.9 -0.1h1m1.8 0.1h1m0.1 0h1m3.3 -0.1h1m0 0.3h1m0.9 0.2h1m0 0h1m-0.1 -0.3h1m0 -0.2h1m0.1 0.3h1m-0.1 -0.3h1m-0.1 0.4h1m0.3 0h1m0 -0.1h1m0 -0.1h1m1.1 -0.1h1m0 0.3h1m-0.2 -0.4h1m0 0h1m0.1 0.5h1m-0.1 -0.6h1m-0.2 0.5h1m0.4 -0.3h1m-0.3 0.3h1m0 -0.3h1m0.1 -0.1h1m0.9 0.5h1m-0.3 -0.2h1m0.1 -0.4h1m1.3 0.4h1m-0.2 0.2h1m0.3 -0.3h1m-0.4 -0.1h1m4 -0.2h1m2.1 0.5h1m-0.1 -0.3h1m1.2 0.2h1m-0.3 0h1m1.4 -0.2h1m1 -0.1h1m-0.1 0.2h1m-0.2 -0.1h1m-0.1 -0.1h1m0.3 0.4h1m0 -0.4h1m-0.2 0h1m0.4 -0.1h1m-0.1 0.3h1m1.9 0.1h1m-0.1 0.2h1m0 -0.2h1m0 0.1h1m-0.1 0.1h1m1.2 -0.3h1m0.8 -0.3h1m3.2 0.1h1m1.3 0.2h1m-0.2 -0.3h1m-0.1 0.4h1m-95 1.1h1m6.3 0h1m-0.6 -0.2h1m0.3 -0.3h1m1.1 0.6h1m-0.2 -0.5h1m-0.2 -0.1h1m0.1 0.3h1m-0.1 -0.1h1m0.2 -0.1h1m0.2 0.5h1m1 0h1m0.9 -0.5h1m0.3 0.4h1m-0.4 -0.4h1m0.3 0h1m-0.5 0.3h1m0.6 -0.3h1m0.8 0.4h1m-0.1 0.1h1m1.1 -0.5h1m0 0.3h1m0.1 -0.3h1m0 0.1h1m1.9 0.2h1m3.1 0.1h1m0.8 0h1m0 -0.4h1m0 0.3h1m0 -0.4h1m0.7 0h1m0.4 0.3h1m0.8 0h1m0.2 -0.2h1m-0.3 0.4h1m0.3 -0.2h1m-0.3 0.2h1m0 -0.4h1m0.2 0.3h1m-0.3 0.2h1m0.3 -0.2h1m0 0h1m0.1 -0.2h1m0.1 0.2h1m-0.1 -0.3h1m-0.3 0.4h1m0.5 -0.3h1m-0.6 -0.2h1m0.1 0.4h1m0 -0.2h1m0 0.3h1m0.1 0h1m1.4 0h1m-0.5 -0.4h1m0.3 0.1h1m-0.4 -0.1h1m0 0.4h1m0.5 -0.5h1m1 0.5h1m0.1 0h1m-0.5 -0.4h1m1.1 0.3h1m1.3 -0.3h1m-0.4 0.3h1m0.4 -0.2h1m-0.3 0.3h1m0.3 -0.4h1m0 0.1h1m-0.4 0.1h1m0.2 -0.1h1m-0.1 0.2h1m0.4 0.1h1m-0.1 -0.4h1m-96.3 1.1h1m3.1 0.1h1m0.7 -0.2h1m0.5 0.4h1m0.1 -0.4h1m-0.2 -0.1h1m0.6 0.5h1m0.2 -0.1h1m2 0.2h1m1.3 -0.2h1m0 -0.3h1m-0.2 0.5h1m0.2 -0.3h1m1.8 0.1h1m0.2 -0.2h1m1.7 0.2h1m0 -0.2h1m0.1 0.3h1m1.1 0h1m-0.3 -0.4h1m2 -0.1h1m-0.1 0.1h1m2.3 0.3h1m0 -0.2h1m-0.1 0h1m-0.1 0.3h1m0 -0.5h1m1.1 0.5h1m0.4 -0.1h1m-0.6 -0.4h1m0.5 0.2h1m1 0.1h1m0.8 -0.3h1m0.1 0.5h1m0.1 -0.3h1m-0.2 -0.1h1m0.2 0.2h1m-0.2 0.1h1m0 -0.3h1m0.2 -0.1h1m1 0.4h1m-0.3 -0.1h1m1.2 -0.2h1m-0.4 0.3h1m0.4 -0.3h1m1.8 0.1h1m0 0.4h1m1.2 -0.1h1m-0.3 -0.5h1m0.3 0.3h1m0.7 0h1m0.1 0h1m-0.1 0.3h1m1.1 -0.5h1m3.2 0.4h1m0 -0.1h1m-0.2 0.1h1m0.3 -0.4h1m0 0.1h1m-0.2 0.3h1m0.2 -0.1h1m0.1 -0.4h1m0.7 0.1h1m0.1 0h1m0.8 0.2h1m-95.1 1h1m1.1 0h1m-0.1 -0.2h1m1.5 0.3h1m-0.1 0h1m0.9 -0.1h1m-0.1 0.2h1m0.2 0h1m1.7 0.1h1m0.3 -0.4h1m-0.1 -0.1h1m0.1 0.3h1m1.1 -0.1h1m1.8 0.2h1m-0.1 0h1m0 -0.3h1m0.7 0.1h1m0.1 0.2h1m0.2 -0.5h1m0 0.3h1m0 0.3h1m1.8 -0.1h1m-0.1 -0.4h1m0.6 0.1h1m1.5 0h1m2.1 -0.1h1m0 0.1h1m1.8 0.3h1m0.6 -0.2h1m-0.4 -0.3h1m0.4 0.5h1m0 -0.3h1m1.5 -0.1h1m-0.1 0.4h1m0.2 0h1m-0.1 -0.1h1m1.3 0h1m1.7 0.1h1m1.3 0h1m0.1 0h1m-0.5 -0.2h1m1.4 -0.1h1m0 0.4h1m3.8 -0.3h1m0.2 -0.1h1m-0.2 -0.1h1m0.3 0.3h1m-0.3 -0.3h1m-0.2 0.5h1m0.1 -0.4h1m0.3 -0.1h1m1.6 0h1m1.6 0.1h1m0.9 -0.2h1m0.7 0.5h1m-0.1 0.1h1m1.3 -0.4h1m0.7 0.3h1m0.3 -0.3h1m0 0.1h1m-97.1 0.9h1m-0.1 0.4h1m0.1 -0.5h1m3 0h1m4.1 0.2h1m0.8 -0.2h1m0.2 0.2h1m-0.3 -0.1h1m0.2 0h1m0.1 0.2h1m0.1 0h1m-0.2 0.2h1m1 -0.4h1m0.8 0.3h1m0.1 -0.5h1m0.2 0.1h1m0 0.1h1m0 0.3h1m1.9 -0.3h1m0 0.1h1m0.1 0.3h1m0.6 -0.2h1m0.5 0.1h1m-0.3 0h1m2 -0.5h1m2 0.5h1m-0.2 -0.1h1m0 -0.1h1m0.3 0.3h1m0 -0.3h1m0.2 0.1h1m-0.5 -0.3h1m0.4 -0.1h1m-0.2 0.4h1m0.1 0h1m-0.1 -0.2h1m0.1 0.3h1m0.3 -0.1h1m-0.3 0.2h1m0.2 -0.2h1m-0.1 0h1m-0.1 0.2h1m1.1 -0.1h1m-0.4 -0.4h1m1.5 0.3h1m-0.2 -0.3h1m1.3 0.5h1m-0.4 -0.4h1m-0.1 0.2h1m0.1 0h1m0 0.1h1m0.1 -0.1h1m0.1 -0.1h1m0.1 -0.1h1m0.9 0.4h1m-0.4 -0.1h1m2.3 0.1h1m2.7 -0.1h1m2.4 0.1h1m-0.4 -0.5h1m4.5 0h1m1 0.3h1m0.6 -0.1h1m-91.9 1h1m3 -0.2h1m1 0h1m3 0.3h1m0.2 0.1h1m0.8 -0.3h1m1.2 0.4h1m-0.1 -0.2h1m1.1 -0.1h1m-0.3 -0.1h1m1.1 0.3h1m0.1 0.1h1m-0.2 -0.2h1m0 0.1h1m0.3 0.1h1m0.9 -0.5h1m2.2 0h1m0.7 0.4h1m0 -0.3h1m0 -0.1h1m0.1 0.3h1m0.1 -0.2h1m-0.2 0.1h1m0 -0.2h1m1.3 0.5h1m0.6 -0.3h1m2.2 -0.1h1m0.1 0h1m0.1 0.3h1m-0.1 -0.4h1m0.9 0.4h1m1 -0.4h1m-0.1 0.2h1m-0.2 0h1m2 -0.2h1m0.1 0.4h1m0.2 -0.3h1m-0.2 0h1m1.3 0.2h1m1.9 0.2h1m0.1 -0.5h1m1.2 0h1m-0.2 0.2h1m-0.4 0h1m0.5 -0.1h1m0.6 0.1h1m1.3 0.1h1m0.9 -0.2h1m0.1 -0.1h1m1.9 0h1m1.9 0.4h1m-0.1 -0.2h1m0.3 0h1m0 -0.1h1m-0.3 -0.1h1m0.3 0h1m-0.2 0.5h1m-92.2 0.9h1m2.5 -0.2h1m-0.2 0.1h1m4 -0.2h1m0 0.2h1m1.2 0h1m0.1 0.2h1m0.9 -0.2h1m0 -0.2h1m-0.4 0.2h1m0.2 0.1h1m2.2 0h1m0.1 0.1h1m0.9 0h1m-0.1 -0.5h1m0.1 0.1h1m-0.5 -0.1h1m0.1 0.3h1m-0.1 -0.1h1m1.5 -0.2h1m1.9 0.4h1m2.2 -0.3h1m-0.4 0.2h1m1.3 0.2h1m0.7 -0.5h1m0.3 0.1h1m1 -0.1h1m-0.2 0.3h1m1.1 -0.4h1m0 0.2h1m0.7 0.3h1m2.1 0h1m-0.1 -0.1h1m0.2 0.2h1m0 -0.5h1m0 0.1h1m-0.2 0.2h1m0.2 -0.1h1m0.1 0h1m0.8 -0.2h1m0 0.4h1m0.1 0h1m0.9 -0.3h1m2.2 -0.2h1m0 0.2h1m0.2 0.2h1m0 -0.3h1m2.9 0.2h1m1.1 0.1h1m2.6 -0.1h1m0.4 -0.2h1m-0.5 0.1h1m0 0.1h1m1.4 0.1h1m0 -0.3h1m-0.2 0.4h1m0.1 0.1h1m-0.4 -0.1h1m-95.5 1h1m-0.2 -0.4h1m0 0h1m1.9 0.1h1m2.2 0.3h1m4.1 0.1h1m-0.1 -0.4h1m-0.1 0.3h1m0 -0.2h1m0.1 -0.1h1m1.7 0h1m2.5 -0.1h1m0.6 0.4h1m-0.1 -0.3h1m1.1 0.1h1m1.3 -0.2h1m-0.3 0.3h1m0.2 -0.2h1m0.1 0h1m-0.2 0.1h1m-0.1 -0.1h1m0 0.2h1m0.1 -0.2h1m-0.3 0.1h1m0.4 0.1h1m0.1 0.1h1m4.5 -0.5h1m0.2 0.1h1m0.1 0.4h1m0.1 -0.1h1m-0.4 0h1m0.1 0h1m2.2 -0.3h1m0 0.3h1m0.1 -0.1h1m0 0.2h1m0.1 -0.1h1m0 -0.1h1m1.6 0h1m0.3 -0.2h1m-0.3 0.4h1m1.3 -0.4h1m-0.2 0.4h1m-0.2 -0.5h1m0.5 0.6h1m-0.1 -0.2h1m0.2 0.2h1m-0.3 -0.1h1m0.3 -0.3h1m0.7 0.3h1m0.7 -0.3h1m1.1 0.2h1m3.5 -0.3h1m1.6 0.3h1m2.2 0h1m0 -0.3h1m-0.2 0h1m0.1 0h1m0.7 0.2h1m-92.6 1.2h1m0.9 -0.4h1m2.9 0.1h1m2.9 -0.1h1m2.2 0.2h1m0.1 -0.3h1m4.6 0.5h1m1 -0.2h1m2.3 -0.1h1m3.1 0.2h1m1.8 -0.3h1m2.9 0h1m1 0.1h1m2.2 0.4h1m0 -0.2h1m0.3 -0.1h1m-0.4 0h1m1.2 -0.2h1m2.1 0h1m-0.1 -0.1h1m-0.2 0h1m0 0.6h1m0.3 -0.6h1m0.1 0.6h1m1 0h1m-0.5 0h1m0.3 -0.4h1m-0.3 0.2h1m2.1 -0.1h1m-0.1 -0.1h1m0 0.3h1m0.1 -0.4h1m-0.1 0h1m0.9 0.1h1m1.2 -0.1h1m0.3 0h1m-0.3 0.1h1m-0.2 0.1h1m0 0h1m1.3 -0.2h1m-0.1 0h1m1.1 0.5h1m0.1 -0.6h1m-0.1 0.3h1m3.1 -0.2h1m0.2 0.2h1m-0.4 0.1h1m1.3 0.1h1m1.6 0h1m0.4 -0.1h1m-91.5 1.1h1m0.2 0h1m2 0h1m1.1 -0.5h1m3.2 0.1h1m-0.2 0h1m-0.3 -0.1h1m2.1 0.5h1m0.1 0h1m2.3 -0.3h1m0 0h1m-0.5 0.2h1m0.2 0.1h1m1.1 -0.4h1m-0.3 0.3h1m0.5 -0.4h1m5.1 0.6h1m-0.4 -0.3h1m0.1 -0.3h1m1.2 0.4h1m0 -0.1h1m0.6 -0.1h1m1.3 0.4h1m-0.2 -0.1h1m0.4 -0.3h1m-0.2 0.2h1m-0.3 0.2h1m0.2 -0.2h1m-0.2 -0.1h1m1 0.1h1m0.2 0.1h1m0.9 -0.2h1m-0.1 -0.1h1m0.4 0h1m0.1 -0.2h1m-0.3 0.4h1m-0.1 0h1m-0.2 -0.3h1m0.1 0.5h1m0.5 -0.3h1m-0.5 0.2h1m0.5 -0.4h1m-0.3 -0.1h1m0.2 0.1h1m0.1 0h1m1 0h1m-0.5 0.1h1m2.1 0.4h1m0 -0.3h1m1.4 0h1m0.5 -0.2h1m2 0.5h1m1 -0.4h1m1.1 -0.2h1m1.9 0.1h1m0.4 0.1h1m-0.4 0.1h1m1.4 0.1h1m-94.1 0.8h1m0.9 0.3h1m1.8 0.1h1m2 -0.2h1m1.1 0h1m1.1 -0.3h1m0.2 0.3h1m0.8 -0.3h1m0.1 0h1m0.7 0h1m1.3 0.1h1m0.1 0h1m0 -0.2h1m-0.2 0.4h1m4 0.1h1m2 0h1m0 -0.4h1m4.1 0.1h1m2 -0.2h1m3.1 0.1h1m-0.2 -0.1h1m0 0.2h1m1.2 0.3h1m-0.3 0h1m0.1 -0.3h1m-0.2 0.2h1m0.4 0.1h1m-0.4 -0.2h1m1 0.1h1m0.1 -0.3h1m0.2 0.2h1m0.2 0.2h1m-0.3 0h1m1.1 -0.2h1m0 0h1m4 -0.2h1m0.7 -0.1h1m-0.1 0.5h1m0.5 -0.3h1m0.7 0h1m0 -0.1h1m2 0h1m1.2 0.4h1m-0.1 0h1m0.9 0h1m2.1 0h1m2 -0.3h1m2.8 -0.2h1m0.5 0.3h1m-97.1 0.7h1m0.6 0.1h1m0.4 0.4h1m0 0h1m1.6 0.1h1m0.4 -0.6h1m-0.4 0.4h1m1.1 0h1m0.4 -0.1h1m-0.1 -0.3h1m2.1 0.1h1m1.6 0.2h1m2.9 -0.2h1m0.4 0.4h1m1 -0.3h1m-0.3 0.1h1m-0.1 0h1m2.3 0.1h1m0 0.2h1m-0.4 -0.6h1m4.5 0.3h1m-0.1 0.1h1m1.1 -0.2h1m4.7 0h1m0.1 0.1h1m1 0.1h1m0.1 -0.2h1m0.7 -0.1h1m1.4 0.3h1m-0.5 -0.3h1m0.3 0.1h1m0.3 0h1m-0.4 0h1m0 0.3h1m3.2 0h1m0 -0.4h1m-0.2 0.5h1m0.2 -0.5h1m3.7 0h1m0.1 0.3h1m0.3 -0.2h1m1 0h1m0.8 0.2h1m8.1 -0.2h1m-0.1 0.4h1m1.3 0h1m-0.1 -0.2h1m0 0.2h1m0.6 -0.1h1m0 -0.5h1m-95.6 1.5h1m11.8 0h1m2.7 -0.4h1m0.5 -0.1h1m3 0.3h1m2.5 -0.1h1m0.3 0.1h1m3 -0.1h1m2.1 0.1h1m3.1 -0.1h1m0.9 0.2h1m-0.4 0h1m2.4 -0.2h1m0 0h1m1.1 0.2h1m-0.4 -0.3h1m0.2 0.2h1m2.1 -0.1h1m0.1 -0.1h1m-0.1 -0.1h1m0.2 0.4h1m-0.6 -0.1h1m0 0.1h1m0.6 0.2h1m-0.4 -0.5h1m1.2 -0.1h1m0.6 0.1h1m0.6 0h1m3.5 0.2h1m0.1 0.2h1m0.1 -0.1h1m-0.1 0h1m0 -0.2h1m1.1 0.1h1m0.3 0.2h1m-0.2 -0.5h1m-0.2 0.2h1m-0.1 0.1h1m1.5 0.2h1m-0.2 -0.4h1m2.7 -0.1h1m0.2 0.4h1m3.9 0.1h1m-0.1 -0.5h1m0.1 0h1m-0.1 0.1h1m0.2 0.3h1m-89.2 0.9h1m1.2 0.1h1m-0.1 -0.1h1m2.1 0.3h1m1.1 -0.6h1m0.1 0.1h1m0.6 0.2h1m0.9 0h1m1.1 0.2h1m0.5 -0.2h1m-0.4 0.1h1m2.8 -0.1h1m1.2 0h1m0.1 0.2h1m-0.1 -0.5h1m0.2 0.2h1m0.7 0.3h1m1 -0.3h1m3.4 0.4h1m-0.3 -0.4h1m1.1 0.3h1m3 -0.4h1m0.1 0.2h1m-0.1 0.2h1m0.2 -0.1h1m0.8 0h1m0.1 0.1h1m-0.2 -0.1h1m1.3 -0.1h1m-0.4 0h1m0.4 0.2h1m0 -0.3h1m-0.2 0.2h1m-0.2 0h1m0.1 -0.3h1m0 0.1h1m0.4 0.3h1m-0.5 -0.4h1m1 0.5h1m2.2 -0.2h1m0.2 -0.1h1m0.6 0h1m0.3 -0.1h1m1.1 -0.1h1m1 0.4h1m-0.5 0h1m4.1 -0.1h1m1.4 -0.1h1m2 -0.1h1m-0.5 -0.1h1m0 -0.1h1m0.3 0.5h1m-0.3 -0.1h1m0.5 0h1m-94.2 0.7h1m2.7 0.4h1m1.2 -0.1h1m4.1 -0.1h1m-0.2 0.1h1m0.4 0h1m1.7 -0.1h1m0.4 0h1m-0.2 -0.2h1m1 0.5h1m1.6 0h1m2 0h1m0 -0.2h1m0.2 -0.4h1m0.3 0.4h1m4.6 0.2h1m-0.1 -0.3h1m0.1 0h1m0 -0.1h1m0 0.3h1m3.1 -0.1h1m-0.1 -0.1h1m2.3 0.1h1m0.6 0h1m1.1 0h1m1.5 -0.3h1m-0.4 0.1h1m-0.1 0.2h1m2.4 0.1h1m-0.4 -0.5h1m0.4 0.1h1m-0.2 0.2h1m1.9 0.1h1m0.2 0h1m0.1 0.2h1m-0.2 0h1m0 -0.1h1m-0.1 -0.1h1m0.2 -0.4h1m-0.1 0.3h1m-0.1 0.2h1m0.3 0.1h1m0.1 -0.2h1m-0.5 0.1h1m7.4 -0.1h1m3.8 -0.2h1m1.2 0.3h1m-0.1 -0.2h1m0 0.2h1m-0.2 -0.2h1m-92.8 0.7h1m-0.3 0.1h1m0.3 0.2h1m1.1 -0.2h1m9.6 -0.1h1m1.9 0.6h1m0.5 -0.5h1m3 0.3h1m0.1 -0.2h1m-0.3 0h1m1.3 -0.2h1m1.9 0.4h1m-0.5 0.2h1m0 -0.4h1m1.2 0.2h1m0.8 0h1m2.5 -0.4h1m0.6 0.3h1m5.2 0.1h1m0 0h1m-0.1 0.1h1m-0.2 -0.3h1m2.6 0.1h1m-0.2 -0.1h1m-0.2 0h1m0.4 0.2h1m-0.3 0.1h1m0.8 -0.3h1m1.2 0.3h1m-0.1 -0.5h1m0.3 0.5h1m-0.5 -0.2h1m1.3 0h1m0.1 -0.2h1m0.1 0h1m-0.3 0.1h1m-0.1 0.3h1m0.3 -0.4h1m0.1 0h1m-0.1 -0.1h1m0 0.1h1m-0.1 0.3h1m0 0h1m0.2 0.1h1m-0.2 0h1m5.2 -0.3h1m-0.2 -0.1h1m3.1 0.2h1m0.8 0.1h1m-94.6 0.6h1m3.9 0.4h1m0.6 0.1h1m1.2 0h1m2.1 -0.4h1m1.8 0.2h1m1.8 -0.3h1m0.3 0.2h1m0.8 -0.2h1m0.2 0h1m0 0.5h1m1.8 0h1m5.9 -0.3h1m6.3 0.2h1m1.3 -0.3h1m-0.1 0h1m0.7 0.1h1m0.2 0.3h1m0.7 0.1h1m0.4 0h1m-0.3 -0.1h1m-0.1 -0.3h1m0.4 0.4h1m0.1 -0.3h1m-0.5 0h1m0 0.1h1m1 0.1h1m1.4 -0.3h1m-0.4 -0.2h1m1.2 0.5h1m-0.2 -0.5h1m-0.1 0.3h1m0.4 -0.2h1m1.8 0h1m0.9 0.4h1m0.4 -0.3h1m-0.2 0.3h1m1.7 -0.2h1m0.4 0h1m-0.2 0.1h1m2.3 0.2h1m5.8 -0.3h1m4.3 -0.2h1m-0.4 0.4h1m-87 0.9h1m-0.2 0h1m0.2 -0.3h1m3.9 0.4h1m1.4 -0.2h1m0.8 0.1h1m-0.2 -0.3h1m3.3 0.1h1m2 0h1m0.1 -0.1h1m-0.4 0.4h1m0.4 0h1m0 0.1h1m0.7 -0.5h1m7.4 0.4h1m-0.3 -0.2h1m1.3 0.2h1m1.8 0.1h1m-0.1 -0.3h1m1.1 0h1m1.1 -0.1h1m0 -0.1h1m0.7 0h1m-0.1 0.2h1m0.2 0.1h1m-0.3 -0.2h1m0.2 0h1m1.3 0.1h1m-0.2 0.1h1m-0.2 -0.2h1m-0.1 0h1m0.6 0.1h1m1.7 0.1h1m0.9 0.2h1m0.9 -0.3h1m0.1 0.2h1m1 -0.2h1m0.3 0h1m-0.5 0.3h1m4.6 -0.1h1m0 -0.2h1m2.6 0.1h1m3.4 0.1h1m0 -0.2h1m-0.1 0.1h1m0.7 0.1h1m-88.1 1.1h1m0.1 -0.4h1m14.9 -0.2h1m3.3 0.2h1m0.7 0.1h1m2.9 0h1m7.6 0h1m-0.3 -0.2h1m1.1 0.3h1m1 -0.1h1m0.1 0.3h1m2 -0.1h1m-0.2 -0.1h1m-0.1 0.1h1m1 -0.3h1m0.9 -0.2h1m0.2 0.2h1m-0.3 0.2h1m0.4 -0.1h1m0 -0.2h1m0.1 0.1h1m0.6 0h1m0 -0.2h1m0.4 0.2h1m0 0.2h1m-0.5 0.2h1m2.4 -0.3h1m-0.1 0.2h1m0.3 -0.4h1m-0.2 0.3h1m0.2 0.2h1m-0.5 -0.3h1m4.1 -0.1h1m2.1 0h1m4.1 0.2h1m2.7 -0.3h1m-92.6 1.5h1m1.7 -0.3h1m6.9 -0.1h1m3.1 0.1h1m5 0.2h1m6.8 0h1m3.6 -0.2h1m3 -0.3h1m0.4 0.3h1m2.3 0h1m1.1 -0.1h1m0.1 0.1h1m-0.1 -0.2h1m0.9 0h1m-0.1 -0.1h1m0.8 0.5h1m1.3 -0.3h1m2.1 -0.1h1m-0.3 0.1h1m0.3 -0.1h1m-0.3 0h1m0.4 -0.1h1m-0.5 0h1m0.5 0h1m-0.1 0.1h1m0 0h1m0 0.3h1m0.7 -0.2h1m1.4 0.2h1m-0.1 -0.1h1m-0.3 0.3h1m2 0h1m1.4 0h1m1 -0.5h1m-0.4 0.3h1m3.3 -0.1h1m2 0.2h1m4.9 -0.1h1m-0.1 -0.3h1m-93.8 1h1m8 0.4h1m4.1 0h1m2.9 -0.2h1m4.9 0h1m3.9 -0.2h1m4.3 0h1m2.6 0.1h1m7 0.1h1m0.2 -0.3h1m-0.2 0.4h1m0 -0.1h1m0.4 0.1h1m-0.4 -0.1h1m0.3 -0.3h1m0 0.5h1m-0.3 -0.3h1m0.3 0h1m-0.1 -0.2h1m0 0.5h1m0.1 -0.4h1m0 0h1m1.2 0.4h1m-0.2 -0.4h1m0.6 0.1h1m0.6 0.2h1m-0.2 0.1h1m0.8 -0.1h1m0.3 -0.1h1m-0.5 -0.1h1m0.1 0.4h1m0.4 -0.3h1m-0.1 0.2h1m-0.1 -0.2h1m-0.2 -0.1h1m1.2 0.2h1m0.7 0.2h1m1.3 -0.1h1m0.8 -0.2h1m2 -0.2h1m5 0.5h1m-86.7 0.5h1m9.7 0.2h1m4.4 -0.2h1m7.8 0.3h1m0.1 0.1h1m2.1 -0.5h1m8 0.4h1m-0.3 -0.4h1m0 0h1m0 0.4h1m-0.1 -0.2h1m1.2 0.3h1m0.2 -0.4h1m-0.1 0.2h1m0 -0.1h1m-0.2 0.2h1m0 0h1m0.4 0.1h1m-0.2 -0.4h1m-0.3 0h1m2.4 0.2h1m0.1 0h1m-0.1 -0.1h1m0.8 -0.2h1m-0.1 0.1h1m-0.1 0.4h1m0 -0.4h1m0 0.1h1m0.3 0h1m1.1 -0.1h1m1 0h1m0 0.2h1m0.8 -0.1h1m-0.2 0.2h1m3.3 -0.2h1m0.7 0.3h1m4.2 0h1m-91.7 0.8h1m1.8 0.2h1m5 -0.5h1m10 0.6h1m0.7 -0.1h1m0.5 -0.1h1m6.8 -0.1h1m4.1 -0.2h1m2.5 0.1h1m7.1 -0.1h1m-0.1 -0.1h1m0.5 0.1h1m0.1 0.4h1m0.6 0.1h1m1.2 -0.5h1m0 -0.1h1m1.1 0.5h1m0.8 -0.3h1m1 0.3h1m-0.1 -0.1h1m0 -0.2h1m-0.1 0.2h1m0 0.1h1m0.4 -0.3h1m-0.1 0h1m0.8 -0.1h1m0.4 0.1h1m-0.1 0.3h1m0.7 -0.5h1m2.3 0.4h1m2.5 -0.1h1m3.6 -0.3h1m6.6 0.5h1m-72 0.9h1m12.9 0h1m1.3 0.1h1m0.6 -0.2h1m0.4 0h1m0 -0.2h1m1.1 0.4h1m0 0h1m-0.5 -0.3h1m0.3 0.2h1m0.2 -0.2h1m-0.3 0.3h1m0 -0.2h1m1.1 0h1m-0.2 -0.2h1m0 0h1m0.4 0h1m-0.1 0.4h1m-0.4 -0.1h1m0.2 -0.2h1m1.2 0.2h1m-0.3 0.1h1m0.4 -0.4h1m0.6 0.2h1m1.4 0.2h1m1.6 -0.1h1m0 -0.1h1m0.4 -0.2h1m1.8 -0.1h1m1.2 0h1m-0.4 0h1m-0.1 0.1h1m0.5 0.4h1m-0.4 -0.3h1m4.3 0h1m0.8 0.2h1m3 -0.4h1m-73.6 1.4h1m2.4 0.1h1m2.3 -0.4h1m5.9 -0.1h1m1 0.2h1m1.3 -0.1h1m0 0.5h1m-0.3 -0.5h1m-0.2 0h1m1.5 0.1h1m-0.4 0.4h1m0.1 -0.3h1m1 -0.2h1m0.4 0.3h1m0.9 0.1h1m-0.2 -0.1h1m-0.1 0.1h1m0.3 -0.4h1m0 0.2h1m0.9 -0.1h1m0.1 0h1m-0.1 0.2h1m0.1 0.1h1m-0.5 0.1h1m0.4 -0.5h1m1.1 0.4h1m-0.5 0h1m0.3 -0.4h1m1.1 0.2h1m2.9 0.1h1m1.2 0.1h1m0.5 -0.4h1m9.1 0.3h1m0.9 -0.1h1m2.5 0.3h1m0.8 -0.3h1m-77.9 0.8h1m16.6 0.5h1m2.5 -0.3h1m-0.5 0h1m5.1 -0.1h1m3.4 0.1h1m0 0.1h1m2.1 -0.3h1m1.7 0.2h1m3 0.2h1m-0.1 -0.3h1m-0.1 0.2h1m0.5 -0.4h1m-0.6 0.3h1m0 0.1h1m0.5 -0.3h1m0.7 0h1m1.4 0.3h1m1 -0.1h1m-0.3 0h1m0.2 0.2h1m-0.1 -0.5h1m0.2 0.1h1m1.5 0.2h1m-0.1 -0.1h1m1.1 0h1m0.5 -0.2h1m10 0.3h1m2 -0.2h1m-84.3 1.5h1m1.1 -0.6h1m6.8 0.1h1m3.4 0.3h1m0.9 0.1h1m4.7 -0.1h1m0.9 0h1m1.2 0.1h1m-0.2 -0.4h1m0 0.3h1m4.1 -0.1h1m0.3 0.2h1m-0.2 -0.5h1m1.9 0.1h1m0 0.5h1m0.3 -0.4h1m0.1 0.2h1m0 -0.1h1m-0.5 0.3h1m1.3 -0.1h1m1.1 -0.4h1m-0.1 0h1m-0.2 0.2h1m0.2 0h1m-0.1 -0.1h1m0.1 -0.2h1m-0.2 0.5h1m0.4 -0.3h1m-0.4 0.1h1m1.9 -0.1h1m1.1 0.3h1m0.1 -0.2h1m-0.1 0.2h1m0.2 -0.1h1m0 0.2h1m6.2 -0.4h1m-0.1 0.1h1m2.9 -0.2h1m0 0.4h1m-83.8 1.1h1m10.4 -0.5h1m3.3 0.5h1m8.2 -0.1h1m3.7 -0.4h1m1.1 0.5h1m1.8 -0.4h1m0.1 0h1m2 0h1m-0.1 0h1m0.4 -0.2h1m-0.3 0.5h1m1.9 -0.5h1m0.4 0.5h1m0.8 -0.2h1m-0.2 -0.1h1m0.1 0.1h1m-0.2 -0.2h1m1.1 0.3h1m2.4 -0.4h1m0.7 0.4h1m3.3 0h1m-0.3 -0.1h1m0.2 -0.3h1m0.7 0.2h1m2 0.3h1m-0.1 -0.3h1m0.2 0.2h1m0.2 -0.2h1m0.1 0.3h1m0.9 -0.3h1m6 -0.1h1m-67.9 1.5h1m0 -0.6h1m3.7 0.2h1m7.2 0.1h1m0.7 0.3h1m4.1 -0.1h1m1.1 -0.2h1m1.1 -0.3h1m0.7 0.3h1m0.4 0h1m-0.2 -0.2h1m2.3 0.3h1m-0.3 0.2h1m0.3 -0.5h1m1.9 0.2h1m0.9 0.1h1m-0.3 0.1h1m0.3 -0.5h1m0.1 0.1h1m0 0h1m0.5 0.1h1m0.4 0h1m0 0.4h1m-0.3 0h1m0 -0.5h1m0.1 0.3h1m2.2 -0.3h1m0 -0.1h1m0 0.2h1m1 0.2h1m0.7 -0.2h1m0.3 0.1h1m10 0.2h1m1.8 -0.2h1m-90.7 0.7h1m1.8 0.3h1m5.8 0.2h1m6.1 -0.1h1m0 0.2h1m4 0h1m3 -0.4h1m8.2 -0.1h1m-0.2 0.4h1m-0.2 -0.4h1m1.3 0.1h1m0.2 -0.1h1m0 -0.1h1m-0.5 0.1h1m0.2 0.4h1m0.4 -0.2h1m-0.1 -0.2h1m0 0.4h1m-0.1 -0.4h1m1.9 0h1m-0.2 0.3h1m2.2 0.1h1m0.9 0h1m0.4 -0.2h1m-0.4 0h1m0.3 0h1m-0.4 -0.2h1m0.4 0.2h1m1.1 -0.3h1m0.9 0.4h1m0 -0.3h1m-0.1 0.2h1m0.6 0.3h1m1.2 -0.3h1m-0.1 0h1m0 0.1h1m1.4 0.1h1m-0.3 -0.1h1m1.2 -0.3h1m0.7 0.4h1m-72.9 1.1h1m13.1 -0.5h1m1.2 0.4h1m1.5 -0.5h1m0.3 0.5h1m1.8 -0.1h1m1.1 0h1m4.3 0h1m0.6 -0.3h1m1.2 0.4h1m0.2 -0.5h1m0.1 0.2h1m-0.1 0.2h1m-0.4 0.2h1m2.4 -0.4h1m-0.5 0h1m0.2 0.3h1m-0.1 0h1m1.2 -0.2h1m0.1 -0.2h1m-0.3 0.4h1m0.2 -0.1h1m-0.1 0.1h1m0.4 -0.1h1m0.6 -0.3h1m0 0.4h1m0 -0.1h1m0.3 -0.2h1m0.6 0.3h1m1.3 -0.4h1m1.1 0.2h1m0 0.3h1m5.6 -0.3h1m10 0h1m-89.8 1.1h1m3 0.1h1m13.7 -0.4h1m0.1 0.2h1m5.3 0.2h1m1.6 0h1m4.4 -0.3h1m0.1 0.3h1m0.1 -0.2h1m-0.1 0.3h1m-0.3 -0.4h1m0.3 -0.2h1m0.7 0.1h1m1.3 0.1h1m0 0.1h1m0 -0.1h1m0.7 -0.1h1m1.1 0.3h1m-0.1 -0.3h1m-0.1 0.2h1m0.1 -0.3h1m-0.2 0.2h1m1.3 -0.1h1m0.1 0.1h1m0.1 0h1m0 0.1h1m-0.2 -0.2h1m0.7 -0.1h1m0.3 0.3h1m-0.2 0h1m0.3 -0.1h1m-0.4 -0.2h1m0.5 0.4h1m-0.1 0h1m-0.1 -0.2h1m0 0.2h1m0.2 -0.1h1m0.1 0.2h1m2.9 0h1m3.9 -0.2h1m4.9 -0.2h1m-74.8 1.4h1m15 -0.1h1m-0.2 -0.1h1m3.2 0.2h1m0.7 0.1h1m-0.1 -0.2h1m3.4 -0.2h1m-0.2 0h1m-0.2 0.2h1m0.1 -0.3h1m0.1 0.5h1m-0.1 -0.5h1m0.3 0.1h1m1.1 0.2h1m0.7 0h1m1.2 -0.4h1m2.6 0.6h1m0.1 -0.6h1m0.8 0.5h1m0.6 0h1m-0.1 -0.3h1m-0.5 0h1m2.3 0.1h1m0.2 0.3h1m-0.4 -0.5h1m1 0.4h1m0.2 -0.3h1m0 0.1h1m7.7 0.1h1m4.1 -0.1h1m-81.8 1h1m1.1 0h1m12.6 -0.1h1m1.3 -0.1h1m9.1 0.2h1m0.8 -0.2h1m0.9 0h1m0.5 0.2h1m1.7 -0.1h1m0.2 0.2h1m1.1 0.1h1m-0.4 -0.4h1m0.2 0.1h1m0.1 0.3h1m2.1 -0.4h1m-0.1 0h1m0 0.2h1m-0.3 -0.1h1m-0.1 0.2h1m1.4 -0.3h1m1.8 0.1h1m0 0.3h1m-0.2 -0.2h1m0.5 -0.3h1m0.5 0.5h1m1.2 -0.2h1m0.2 -0.2h1m1.5 0.3h1m1.6 0.1h1m-0.6 -0.3h1m1.2 0.2h1m4 -0.1h1m8.2 -0.2h1m-73.8 1.1h1m10.7 0.3h1m3.2 -0.2h1m0.8 -0.1h1m3.9 0.1h1m0.3 0h1m-0.3 0.2h1m0.3 0h1m1 0h1m0.6 0h1m0.1 -0.1h1m-0.1 0.1h1m0.2 0.1h1m0 -0.3h1m0.2 -0.2h1m-0.2 0.1h1m0.1 0.4h1m0 -0.4h1m0.1 -0.1h1m0.1 0.5h1m-0.4 -0.4h1m-0.1 0.4h1m0 -0.6h1m0.3 0.1h1m0.1 0.2h1m-0.4 -0.2h1m0.5 0.4h1m0.6 -0.3h1m0.4 -0.2h1m-0.2 0.1h1m-0.3 0.5h1m0.4 -0.2h1m-0.5 0.1h1m1.1 -0.4h1m0 0.4h1m0.5 -0.4h1m0.5 0.2h1m1 0.1h1m2 -0.3h1m3.4 -0.1h1m5 0.4h1m-90.3 1.1h1m13.9 -0.3h1m8.3 -0.2h1m1.1 0.3h1m5.7 -0.2h1m0.3 0.3h1m1 0h1m0 -0.2h1m1 0h1m0 0.1h1m-0.3 -0.3h1m-0.1 0.1h1m0.1 0h1m0.4 0.2h1m3.6 0.1h1m1.3 0h1m-0.4 0.2h1m2.3 -0.3h1m0.1 0.2h1m-0.2 -0.2h1m0.3 0h1m-0.4 0.3h1m0.2 -0.1h1m0.8 -0.4h1m-0.1 0.3h1m0 0.1h1m0.3 -0.4h1m-0.1 0h1m-0.1 0h1m1.3 0.1h1m-0.4 -0.1h1m-57.7 1.5h1m14.2 -0.5h1m1.9 0.3h1m0.7 -0.4h1m1.4 0.5h1m-0.6 -0.3h1m0.4 0.2h1m0 0.2h1m1.9 -0.5h1m0.2 0.1h1m0.8 0.3h1m-0.2 -0.3h1m1.3 0.2h1m0 0h1m-0.3 -0.2h1m0 0.4h1m1 -0.2h1m0 0h1m0.5 -0.2h1m1.6 0.1h1m0.9 -0.3h1m0.1 0.4h1m1.3 0.2h1m-0.2 -0.4h1m0.1 0.3h1m-0.3 -0.1h1m2.2 0.1h1m0.9 0.1h1m0.2 -0.3h1m5.9 -0.1h1m-76.1 0.8h1m7.2 0.4h1m9 0.1h1m4 -0.4h1m1 0.3h1m5.9 0.1h1m0.8 0.1h1m3 -0.2h1m-0.1 -0.4h1m0.5 0.6h1m0.6 -0.4h1m1 0.1h1m0.4 -0.3h1m-0.1 0.3h1m-0.4 0.3h1m1.6 -0.1h1m-0.4 -0.3h1m1.4 0.4h1m-0.3 -0.5h1m0.1 0.1h1m-0.3 0.3h1m2.5 -0.1h1m0.9 -0.2h1m-0.4 -0.1h1m0 0.4h1m0.4 -0.4h1m-0.4 0.1h1m0.1 0.1h1m1.1 0h1m0.2 0h1m-0.4 0.2h1m2 -0.5h1m0.2 0.4h1m1.2 -0.1h1m3.7 -0.2h1m-70.8 1.5h1m11.9 -0.4h1m2 0h1m-0.1 0h1m6.9 -0.1h1m1.3 0h1m-0.3 0.4h1m1.1 -0.4h1m0.9 -0.1h1m1.3 0.4h1m1 -0.2h1m-0.1 0.2h1m0 -0.1h1m0.3 0.1h1m0.8 -0.3h1m-0.1 -0.1h1m-0.2 0.4h1m0 0.1h1m1.5 -0.2h1m-0.6 -0.3h1m1.2 0.2h1m-0.1 0.3h1m0.2 -0.4h1m-0.1 0.5h1m2.9 -0.4h1m0.4 -0.1h1m5.8 0.4h1m0 0h1m4.3 -0.5h1m1.5 0.4h1m-63.9 0.7h1m3.9 0h1m0 0.3h1m1.9 -0.3h1m3.2 0.2h1m1.1 0h1m-0.1 0.1h1m-0.2 -0.3h1m0.4 0.1h1m0.1 -0.1h1m-0.4 0.1h1m1.4 0h1m-0.3 0h1m-0.1 0.1h1m1.3 0.2h1m-0.1 -0.5h1m-0.2 0.6h1m0.4 -0.1h1m-0.3 -0.2h1m0.2 0.1h1m0.8 -0.1h1m0.3 0.2h1m-0.3 -0.1h1m0.8 -0.2h1m0.5 0.1h1m0.1 -0.3h1m-0.5 0.6h1m1 -0.1h1m3.3 -0.3h1m12.7 0.2h1m0.1 -0.2h1m-60.7 1.1h1m5.7 0h1m3.3 -0.1h1m0.6 -0.1h1m1.4 0.3h1m-0.1 -0.3h1m-0.3 0.4h1m1.4 -0.1h1m-0.3 -0.4h1m-0.2 0.6h1m0.3 -0.4h1m0.3 -0.2h1m0 0.3h1m-0.2 -0.3h1m0.9 0h1m0.1 0.1h1m-0.2 0.4h1m0.1 -0.2h1m2.1 0.2h1m1 -0.4h1m0.8 0.4h1m0.1 0h1m0.2 -0.2h1m0.7 -0.1h1m0.1 0.3h1m0 0h1m0 -0.3h1m2.1 0h1m-51 0.8h1m1.2 0.5h1m4.8 -0.1h1m2.8 0.1h1m2.2 0h1m4.8 0.1h1m0.2 -0.3h1m-0.2 0h1m0 -0.3h1m1.4 0.6h1m0.7 -0.1h1m0.2 -0.1h1m-0.2 -0.3h1m0.3 0.3h1m-0.3 -0.4h1m0.9 0.1h1m0.2 0h1m-0.1 0h1m2.1 0.1h1m2 -0.2h1m1.1 0.1h1m1.6 0h1m0.3 0.5h1m5.1 -0.2h1m4.9 0h1m1.6 0h1m-62.5 0.9h1m2.8 0.3h1m1.8 -0.1h1m6.2 0h1m0 -0.4h1m0.1 0.5h1m-0.2 -0.2h1m-0.1 -0.3h1m0.2 0.3h1m-0.1 -0.2h1m1.9 0.1h1m0 -0.2h1m0.5 0.3h1m-0.1 -0.4h1m-0.3 0.5h1m0.9 -0.4h1m1.4 0.5h1m-0.1 -0.2h1m0.1 0.1h1m0 -0.3h1m-0.4 0.1h1m0.1 -0.1h1m0.2 0h1m-0.2 0.2h1m0.4 -0.2h1m-0.4 0.4h1m0.1 -0.1h1m1.2 0h1m-0.1 -0.5h1m0.1 0.5h1m2.7 -0.4h1m-0.1 0h1m2.3 0.1h1m-60 0.8h1m19.9 0.5h1m0.8 -0.4h1m0.4 0.2h1m-0.3 0h1m0.4 -0.2h1m0.6 0h1m-0.1 0.3h1m0.4 -0.4h1m0 0.4h1m0.1 -0.3h1m-0.4 0.4h1m1.9 -0.1h1m0 -0.2h1m0.2 -0.2h1m-0.2 0.6h1m0.2 -0.2h1m-0.1 0.1h1m2.1 -0.5h1m-0.1 0.3h1m1.3 -0.3h1m-0.3 0.2h1m0.1 0.2h1m-0.3 0h1m0.2 -0.2h1m-73.1 1.4h1m28.4 0h1m3.5 -0.2h1m4.5 -0.1h1m-0.3 0.1h1m0.9 -0.3h1m2.1 0.2h1m0.1 -0.2h1m-0.2 0.2h1m1 -0.1h1m1.4 0.3h1m-0.4 0.1h1m0.2 -0.4h1m0 0h1m0 0h1m0.1 -0.2h1m-0.1 0.4h1m-0.1 -0.3h1m0.2 0.3h1m-0.1 0.2h1m-0.3 -0.4h1m1.4 0.3h1m0.1 -0.5h1m-0.3 0.6h1m-0.1 -0.6h1m2.3 0.5h1m1.8 0.1h1m0.3 -0.5h1m0 0.5h1m2.9 -0.2h1m9.7 0.1h1m-79.5 0.9h1m20.6 0.2h1m4.3 -0.4h1m0.8 0.4h1m2.1 -0.6h1m0.7 0.3h1m2.5 0.2h1m-0.1 -0.4h1m0.9 0.4h1m-0.2 -0.1h1m0 -0.4h1m1.1 0.3h1m0 -0.1h1m1.1 0.1h1m-0.2 0.1h1m0.3 -0.3h1m0.9 0.1h1m0.8 0h1m0.3 -0.1h1m0.1 0.4h1m-0.3 -0.2h1m1.1 -0.1h1m1.8 0.2h1m2.2 -0.2h1m0.9 0.1h1m-0.1 0.2h1m-70.7 1.1h1m10.5 -0.4h1m13.5 0h1m-0.4 -0.2h1m3 0.1h1m0.4 0.2h1m1.6 -0.3h1m2.3 0.2h1m2.7 -0.1h1m0.1 0.4h1m2 -0.2h1m-0.1 -0.1h1m2.2 -0.1h1m1.2 0.2h1m0.9 0.1h1m-0.3 0.1h1m0.4 -0.1h1m1.9 -0.2h1m-0.3 0.2h1m0.4 -0.3h1m5.9 0.2h1m3.1 0.2h1m7.8 -0.4h1m5.1 0.2h1m-85.9 0.8h1m25.6 0.4h1m3.4 -0.4h1m5.6 0.5h1m4.3 -0.1h1m0 -0.1h1m-0.2 -0.2h1m0.4 0h1m1.7 0.1h1m-0.2 -0.1h1m-0.1 0.2h1m0.1 -0.4h1m2.1 0.2h1m-0.2 0.2h1m4.3 -0.1h1m1.9 0h1m1.3 -0.1h1m1.5 0.3h1m0.3 -0.4h1m8.7 0h1m-57.9 1.4h1m1.9 -0.2h1m7.3 0.1h1m-0.1 0h1m2.1 -0.1h1m4 -0.2h1m2 0h1m0 0.4h1m0.2 -0.3h1m0.7 0.3h1m6.4 -0.2h1m2.9 0.2h1m2.1 -0.2h1m-0.5 -0.2h1m1.3 0.4h1m8.7 0h1m4.3 -0.1h1m2.7 0.2h1" stroke="#8e8e8e" stroke-width="0.8" fill="none"/>
<path d="M148.2,299.8 148.20,267.50C150.17,267.25 155.37,267.00 160.00,266.00C164.63,265.00 171.17,263.17 176.00,261.50C180.83,259.83 185.00,258.15 189.00,256.00C193.00,253.85 196.83,250.93 200.00,248.60C203.17,246.27 205.50,243.65 208.00,242.00C210.50,240.35 212.57,239.32 215.00,238.70C217.43,238.08 220.43,238.68 222.60,238.30C224.77,237.92 226.22,236.83 228.00,236.40C229.78,235.97 231.97,235.10 233.30,235.70C234.63,236.30 235.50,237.62 236.00,240.00C236.50,242.38 236.13,247.00 236.30,250.00C236.47,253.00 236.47,255.33 237.00,258.00C237.53,260.67 238.83,263.17 239.50,266.00C240.17,268.83 240.83,271.83 241.00,275.00C241.17,278.17 240.87,282.00 240.50,285.00C240.13,288.00 239.30,290.53 238.80,293.00C238.30,295.47 237.72,298.67 237.50,299.80L226.00,299.80L223.50,292.00L221.50,282.00L221.50,271.00L223.50,262.00L226.40,252.50L223.50,247.50L218.00,248.50L212.00,253.00L206.00,259.00L201.00,265.00L197.50,270.00L193.00,278.00L188.00,289.00L184.50,299.80Z" fill="#fff" stroke="none"/>
<path d="M148.20,267.50C150.17,267.25 155.37,267.00 160.00,266.00C164.63,265.00 171.17,263.17 176.00,261.50C180.83,259.83 185.00,258.15 189.00,256.00C193.00,253.85 196.83,250.93 200.00,248.60C203.17,246.27 205.50,243.65 208.00,242.00C210.50,240.35 212.57,239.32 215.00,238.70C217.43,238.08 220.43,238.68 222.60,238.30C224.77,237.92 226.22,236.83 228.00,236.40C229.78,235.97 231.97,235.10 233.30,235.70C234.63,236.30 235.50,237.62 236.00,240.00C236.50,242.38 236.13,247.00 236.30,250.00C236.47,253.00 236.47,255.33 237.00,258.00C237.53,260.67 238.83,263.17 239.50,266.00C240.17,268.83 240.83,271.83 241.00,275.00C241.17,278.17 240.87,282.00 240.50,285.00C240.13,288.00 239.30,290.53 238.80,293.00C238.30,295.47 237.72,298.67 237.50,299.80" fill="none" stroke="#505050" stroke-width="0.65" stroke-linejoin="round"/>
<path d="M226.00,299.80C225.58,298.50 224.25,294.97 223.50,292.00C222.75,289.03 221.83,285.50 221.50,282.00C221.17,278.50 221.17,274.33 221.50,271.00C221.83,267.67 222.68,265.08 223.50,262.00C224.32,258.92 226.40,254.92 226.40,252.50C226.40,250.08 224.90,248.17 223.50,247.50C222.10,246.83 219.92,247.58 218.00,248.50C216.08,249.42 214.00,251.25 212.00,253.00C210.00,254.75 207.83,257.00 206.00,259.00C204.17,261.00 202.42,263.17 201.00,265.00C199.58,266.83 198.83,267.83 197.50,270.00C196.17,272.17 194.58,274.83 193.00,278.00C191.42,281.17 189.42,285.37 188.00,289.00C186.58,292.63 185.08,298.00 184.50,299.80" fill="none" stroke="#505050" stroke-width="0.65" stroke-linejoin="round"/>
<path d="M170.87,278.89C170.85,279.04 170.82,279.19 170.77,279.34C170.73,279.48 170.66,279.62 170.59,279.75C170.52,279.89 170.43,280.02 170.34,280.14C170.24,280.26 170.14,280.38 170.02,280.49C169.90,280.59 169.77,280.70 169.63,280.78C169.49,280.87 169.33,280.95 169.17,281.00C169.00,281.06 168.83,281.10 168.65,281.13C168.48,281.15 168.29,281.15 168.12,281.13C167.94,281.10 167.77,281.06 167.60,281.00C167.44,280.95 167.28,280.87 167.14,280.78C167.00,280.70 166.87,280.59 166.75,280.49C166.63,280.38 166.53,280.26 166.43,280.14C166.34,280.02 166.25,279.89 166.18,279.75C166.11,279.62 166.04,279.48 166.00,279.34C165.95,279.19 165.92,279.04 165.90,278.89C165.89,278.74 165.89,278.58 165.91,278.43C165.94,278.28 165.98,278.12 166.05,277.98C166.12,277.83 166.21,277.69 166.32,277.57C166.43,277.45 166.56,277.33 166.69,277.24C166.83,277.14 166.99,277.06 167.14,277.00C167.30,276.93 167.47,276.89 167.63,276.85C167.80,276.81 167.97,276.79 168.13,276.78C168.30,276.77 168.47,276.77 168.64,276.78C168.80,276.79 168.97,276.81 169.14,276.85C169.30,276.89 169.47,276.93 169.63,277.00C169.78,277.06 169.94,277.14 170.08,277.24C170.21,277.33 170.34,277.45 170.45,277.57C170.56,277.69 170.65,277.83 170.72,277.98C170.79,278.12 170.83,278.28 170.86,278.43C170.88,278.58 170.88,278.74 170.87,278.89Z" fill="none" stroke="#505050" stroke-width="0.65" stroke-linejoin="round"/>
<path d="M172.93,279.49C172.90,279.77 172.83,280.06 172.75,280.32C172.66,280.59 172.54,280.85 172.41,281.10C172.27,281.35 172.11,281.59 171.93,281.82C171.76,282.05 171.56,282.27 171.34,282.47C171.12,282.67 170.87,282.87 170.61,283.03C170.34,283.19 170.05,283.34 169.75,283.44C169.44,283.55 169.11,283.63 168.78,283.67C168.46,283.71 168.11,283.71 167.79,283.67C167.46,283.63 167.13,283.55 166.82,283.44C166.52,283.34 166.23,283.19 165.96,283.03C165.70,282.87 165.45,282.67 165.23,282.47C165.01,282.27 164.81,282.05 164.64,281.82C164.46,281.59 164.30,281.35 164.16,281.10C164.03,280.85 163.91,280.59 163.82,280.32C163.74,280.06 163.67,279.77 163.64,279.49C163.61,279.21 163.62,278.91 163.66,278.63C163.71,278.34 163.80,278.05 163.92,277.78C164.05,277.51 164.22,277.25 164.42,277.02C164.62,276.79 164.87,276.58 165.12,276.40C165.38,276.22 165.67,276.07 165.96,275.95C166.26,275.83 166.57,275.74 166.88,275.67C167.18,275.61 167.50,275.56 167.81,275.54C168.13,275.52 168.44,275.52 168.76,275.54C169.07,275.56 169.39,275.61 169.69,275.67C170.00,275.74 170.31,275.83 170.61,275.95C170.90,276.07 171.19,276.22 171.45,276.40C171.70,276.58 171.95,276.79 172.15,277.02C172.35,277.25 172.52,277.51 172.65,277.78C172.77,278.05 172.86,278.34 172.91,278.63C172.95,278.91 172.96,279.21 172.93,279.49Z" fill="none" stroke="#505050" stroke-width="0.65" stroke-linejoin="round"/>
<path d="M174.99,280.09C174.95,280.50 174.85,280.92 174.72,281.31C174.60,281.71 174.42,282.09 174.22,282.45C174.03,282.82 173.79,283.17 173.53,283.51C173.27,283.84 172.98,284.17 172.66,284.46C172.33,284.75 171.98,285.04 171.59,285.27C171.20,285.51 170.77,285.73 170.32,285.88C169.88,286.04 169.40,286.16 168.92,286.21C168.44,286.27 167.93,286.27 167.45,286.21C166.97,286.16 166.49,286.04 166.05,285.88C165.60,285.73 165.17,285.51 164.78,285.27C164.39,285.04 164.04,284.75 163.71,284.46C163.39,284.17 163.10,283.84 162.84,283.51C162.58,283.17 162.34,282.82 162.15,282.45C161.95,282.09 161.77,281.71 161.65,281.31C161.52,280.92 161.42,280.50 161.38,280.09C161.34,279.68 161.34,279.24 161.41,278.82C161.48,278.41 161.61,277.98 161.79,277.59C161.98,277.19 162.23,276.81 162.52,276.47C162.82,276.13 163.18,275.82 163.55,275.56C163.93,275.30 164.36,275.08 164.78,274.91C165.21,274.73 165.67,274.60 166.12,274.50C166.57,274.40 167.03,274.34 167.49,274.31C167.95,274.28 168.42,274.28 168.88,274.31C169.34,274.34 169.80,274.40 170.25,274.50C170.70,274.60 171.16,274.73 171.59,274.91C172.01,275.08 172.44,275.30 172.82,275.56C173.19,275.82 173.55,276.13 173.85,276.47C174.14,276.81 174.39,277.19 174.58,277.59C174.76,277.98 174.89,278.41 174.96,278.82C175.03,279.24 175.03,279.68 174.99,280.09Z" fill="none" stroke="#505050" stroke-width="0.65" stroke-linejoin="round"/>
<path d="M177.05,280.69C177.00,281.24 176.87,281.78 176.70,282.30C176.53,282.82 176.30,283.32 176.04,283.81C175.78,284.29 175.47,284.75 175.13,285.19C174.79,285.63 174.40,286.06 173.98,286.45C173.55,286.83 173.08,287.21 172.57,287.52C172.05,287.83 171.49,288.12 170.90,288.32C170.32,288.53 169.68,288.68 169.05,288.76C168.42,288.83 167.75,288.83 167.12,288.76C166.49,288.68 165.85,288.53 165.27,288.32C164.68,288.12 164.12,287.83 163.60,287.52C163.09,287.21 162.62,286.83 162.19,286.45C161.77,286.06 161.38,285.63 161.04,285.19C160.70,284.75 160.39,284.29 160.13,283.81C159.87,283.32 159.64,282.82 159.47,282.30C159.30,281.78 159.17,281.24 159.12,280.69C159.07,280.14 159.07,279.57 159.16,279.02C159.25,278.47 159.42,277.91 159.66,277.39C159.91,276.87 160.24,276.37 160.63,275.92C161.01,275.48 161.48,275.07 161.98,274.73C162.48,274.38 163.04,274.10 163.60,273.86C164.17,273.63 164.77,273.45 165.36,273.32C165.96,273.19 166.57,273.11 167.17,273.07C167.78,273.03 168.39,273.03 169.00,273.07C169.60,273.11 170.21,273.19 170.81,273.32C171.40,273.45 172.00,273.63 172.57,273.86C173.13,274.10 173.69,274.38 174.19,274.73C174.69,275.07 175.16,275.48 175.54,275.92C175.93,276.37 176.26,276.87 176.51,277.39C176.75,277.91 176.92,278.47 177.01,279.02C177.10,279.57 177.10,280.14 177.05,280.69Z" fill="none" stroke="#505050" stroke-width="0.65" stroke-linejoin="round"/>
<path d="M179.11,281.29C179.05,281.97 178.88,282.64 178.67,283.29C178.47,283.93 178.18,284.56 177.86,285.16C177.53,285.75 177.15,286.33 176.73,286.88C176.30,287.42 175.83,287.95 175.30,288.43C174.77,288.91 174.18,289.38 173.55,289.76C172.91,290.15 172.21,290.50 171.48,290.76C170.76,291.02 169.96,291.21 169.18,291.30C168.40,291.39 167.57,291.39 166.79,291.30C166.01,291.21 165.21,291.02 164.49,290.76C163.76,290.50 163.06,290.15 162.42,289.76C161.79,289.38 161.20,288.91 160.67,288.43C160.14,287.95 159.67,287.42 159.24,286.88C158.82,286.33 158.44,285.75 158.11,285.16C157.79,284.56 157.50,283.93 157.30,283.29C157.09,282.64 156.92,281.97 156.86,281.29C156.80,280.61 156.80,279.90 156.91,279.22C157.02,278.54 157.23,277.84 157.53,277.20C157.84,276.56 158.25,275.93 158.73,275.37C159.21,274.82 159.79,274.32 160.41,273.89C161.03,273.46 161.72,273.11 162.42,272.82C163.12,272.53 163.87,272.31 164.61,272.15C165.35,271.98 166.10,271.89 166.86,271.84C167.61,271.78 168.36,271.78 169.11,271.84C169.87,271.89 170.62,271.98 171.36,272.15C172.10,272.31 172.85,272.53 173.55,272.82C174.25,273.11 174.94,273.46 175.56,273.89C176.18,274.32 176.76,274.82 177.24,275.37C177.72,275.93 178.13,276.56 178.44,277.20C178.74,277.84 178.95,278.54 179.06,279.22C179.17,279.90 179.17,280.61 179.11,281.29Z" fill="none" stroke="#505050" stroke-width="0.65" stroke-linejoin="round"/>
<path d="M181.17,281.89C181.09,282.70 180.90,283.51 180.65,284.28C180.40,285.05 180.06,285.79 179.67,286.51C179.29,287.22 178.83,287.91 178.33,288.56C177.82,289.21 177.25,289.85 176.62,290.42C175.98,291.00 175.29,291.55 174.53,292.01C173.77,292.47 172.93,292.89 172.06,293.20C171.19,293.50 170.25,293.74 169.31,293.84C168.38,293.95 167.39,293.95 166.46,293.84C165.52,293.74 164.58,293.50 163.71,293.20C162.84,292.89 162.00,292.47 161.24,292.01C160.48,291.55 159.79,291.00 159.15,290.42C158.52,289.85 157.95,289.21 157.44,288.56C156.94,287.91 156.48,287.22 156.10,286.51C155.71,285.79 155.37,285.05 155.12,284.28C154.87,283.51 154.68,282.70 154.60,281.89C154.52,281.08 154.53,280.23 154.66,279.42C154.80,278.60 155.04,277.77 155.40,277.00C155.76,276.24 156.26,275.48 156.83,274.83C157.40,274.17 158.10,273.56 158.84,273.05C159.57,272.54 160.41,272.12 161.24,271.77C162.08,271.42 162.97,271.17 163.85,270.97C164.73,270.78 165.64,270.66 166.54,270.60C167.43,270.54 168.34,270.54 169.23,270.60C170.13,270.66 171.04,270.78 171.92,270.97C172.80,271.17 173.69,271.42 174.53,271.77C175.36,272.12 176.20,272.54 176.93,273.05C177.67,273.56 178.37,274.17 178.94,274.83C179.51,275.48 180.01,276.24 180.37,277.00C180.73,277.77 180.97,278.60 181.11,279.42C181.24,280.23 181.25,281.08 181.17,281.89Z" fill="none" stroke="#505050" stroke-width="0.65" stroke-linejoin="round"/>
<path d="M183.23,282.49C183.14,283.43 182.91,284.37 182.63,285.26C182.34,286.16 181.94,287.03 181.49,287.86C181.04,288.69 180.52,289.49 179.92,290.25C179.33,291.01 178.67,291.74 177.94,292.41C177.20,293.08 176.39,293.72 175.51,294.25C174.62,294.79 173.65,295.28 172.64,295.64C171.63,295.99 170.53,296.26 169.45,296.39C168.36,296.51 167.21,296.51 166.12,296.39C165.04,296.26 163.94,295.99 162.93,295.64C161.92,295.28 160.95,294.79 160.06,294.25C159.18,293.72 158.37,293.08 157.63,292.41C156.90,291.74 156.24,291.01 155.65,290.25C155.05,289.49 154.53,288.69 154.08,287.86C153.63,287.03 153.23,286.16 152.94,285.26C152.66,284.37 152.43,283.43 152.34,282.49C152.25,281.55 152.26,280.56 152.41,279.62C152.57,278.67 152.85,277.70 153.27,276.81C153.69,275.92 154.27,275.04 154.93,274.28C155.60,273.51 156.41,272.81 157.27,272.22C158.12,271.62 159.09,271.13 160.06,270.73C161.03,270.32 162.07,270.02 163.10,269.80C164.12,269.57 165.17,269.44 166.22,269.36C167.26,269.29 168.31,269.29 169.35,269.36C170.40,269.44 171.45,269.57 172.47,269.80C173.50,270.02 174.54,270.32 175.51,270.73C176.48,271.13 177.45,271.62 178.30,272.22C179.16,272.81 179.97,273.51 180.64,274.28C181.30,275.04 181.88,275.92 182.30,276.81C182.72,277.70 183.00,278.67 183.16,279.62C183.31,280.56 183.32,281.55 183.23,282.49Z" fill="none" stroke="#505050" stroke-width="0.65" stroke-linejoin="round"/>
<path d="M185.29,283.09C185.19,284.16 184.93,285.23 184.60,286.25C184.27,287.27 183.82,288.26 183.31,289.21C182.79,290.16 182.20,291.07 181.52,291.93C180.85,292.80 180.10,293.63 179.26,294.39C178.42,295.16 177.49,295.89 176.49,296.50C175.48,297.11 174.37,297.67 173.22,298.08C172.07,298.48 170.82,298.79 169.58,298.93C168.34,299.07 167.03,299.07 165.79,298.93C164.55,298.79 163.30,298.48 162.15,298.08C161.00,297.67 159.89,297.11 158.88,296.50C157.88,295.89 156.95,295.16 156.11,294.39C155.27,293.63 154.52,292.80 153.85,291.93C153.17,291.07 152.58,290.16 152.06,289.21C151.55,288.26 151.10,287.27 150.77,286.25C150.44,285.23 150.18,284.16 150.08,283.09C149.98,282.02 149.98,280.89 150.16,279.81C150.34,278.73 150.66,277.63 151.14,276.61C151.62,275.60 152.28,274.60 153.04,273.73C153.80,272.86 154.72,272.05 155.70,271.38C156.67,270.70 157.78,270.14 158.88,269.68C159.99,269.22 161.17,268.88 162.34,268.62C163.51,268.36 164.71,268.21 165.90,268.13C167.09,268.05 168.28,268.05 169.47,268.13C170.66,268.21 171.86,268.36 173.03,268.62C174.20,268.88 175.38,269.22 176.49,269.68C177.59,270.14 178.70,270.70 179.67,271.38C180.65,272.05 181.57,272.86 182.33,273.73C183.09,274.60 183.75,275.60 184.23,276.61C184.71,277.63 185.03,278.73 185.21,279.81C185.39,280.89 185.39,282.02 185.29,283.09Z" fill="none" stroke="#505050" stroke-width="0.65" stroke-linejoin="round"/>
<path d="M150.00,268.80C152.50,268.67 161.33,268.17 165.00,268.00C168.67,267.83 169.33,267.63 172.00,267.80C174.67,267.97 179.00,267.97 181.00,269.00C183.00,270.03 183.83,271.67 184.00,274.00C184.17,276.33 183.00,279.83 182.00,283.00C181.00,286.17 179.08,290.20 178.00,293.00C176.92,295.80 175.92,298.67 175.50,299.80" fill="none" stroke="#505050" stroke-width="0.65" stroke-linejoin="round"/>
<path d="M150.00,268.80C152.50,268.67 160.83,268.08 165.00,268.00C169.17,267.92 171.50,268.13 175.00,268.30C178.50,268.47 183.67,268.05 186.00,269.00C188.33,269.95 188.92,271.67 189.00,274.00C189.08,276.33 187.67,279.83 186.50,283.00C185.33,286.17 183.25,290.20 182.00,293.00C180.75,295.80 179.50,298.67 179.00,299.80" fill="none" stroke="#505050" stroke-width="0.65" stroke-linejoin="round"/>
<path d="M150.00,268.80C152.50,268.67 160.33,268.00 165.00,268.00C169.67,268.00 173.67,268.63 178.00,268.80C182.33,268.97 188.33,268.13 191.00,269.00C193.67,269.87 194.00,271.67 194.00,274.00C194.00,276.33 192.33,279.83 191.00,283.00C189.67,286.17 187.42,290.20 186.00,293.00C184.58,295.80 183.08,298.67 182.50,299.80" fill="none" stroke="#505050" stroke-width="0.65" stroke-linejoin="round"/>
<ellipse cx="231" cy="277" rx="2.8" ry="5.5" transform="rotate(0 231 277)" fill="none" stroke="#505050" stroke-width="0.65"/>
<ellipse cx="231" cy="279" rx="5.2" ry="9" transform="rotate(0 231 279)" fill="none" stroke="#505050" stroke-width="0.65"/>
<ellipse cx="231" cy="281.5" rx="7.6" ry="13" transform="rotate(0 231 281.5)" fill="none" stroke="#505050" stroke-width="0.65"/>
<path d="M149,270 C149.8,280 149.8,290 149,299" stroke="#333" stroke-width="1.6" fill="none"/>
<path d="M151,271 C152,280 152,290 151,298" stroke="#666" stroke-width="0.7" fill="none"/>
<path d="M151,298.8 L180,298.8" stroke="#444" stroke-width="1.6"/>
</g>
<clipPath id="clp3"><rect x="43.5" y="305.3" width="96.9" height="96.5"/></clipPath>
<g clip-path="url(#clp3)">
<path d="M59.6 313.5h1m31.4 -0.4h1m-34.6 1.2h1m-11.9 0.8h1m14.9 0.3h1m0 -0.2h1m5 0.3h1m-8.3 0.5h1m1 0.6h1m58.1 -0.4h1m-80.7 0.8h1m1.6 0.2h1m11.4 -0.1h1m7.8 0.5h1m6.9 -0.6h1m39.9 0.5h1m13.3 -0.4h1m-80.1 1.4h1m1 0.1h1m0.1 -0.1h1m14.8 -0.3h1m0 0h1m2.1 -0.2h1m1 0.2h1m14.8 0.2h1m9.9 0h1m0.2 -0.3h1m8 0.5h1m23 -0.5h1m-86.1 1.3h1m1.1 -0.2h1m11.1 0.3h1m5.3 -0.1h1m1 0.2h1m-0.4 0h1m2.1 -0.5h1m39.1 0.3h1m0.1 0h1m0 0h1m0.1 0.1h1m-69.4 0.8h1m2.9 -0.3h1m1.1 0.2h1m3.2 0.2h1m1.6 -0.2h1m5.6 0h1m-0.4 -0.1h1m2.8 0.4h1m4.1 -0.3h1m29.4 -0.2h1m0.7 0.1h1m5 0.2h1m-77.8 0.8h1m0.8 0.4h1m2.9 -0.5h1m0.5 0.3h1m1.8 0.1h1m0 -0.4h1m9.7 0.1h1m2.2 0.4h1m1 0h1m30.8 -0.5h1m7.1 0.6h1m4.2 -0.2h1m11.1 0.2h1m4.6 0h1m-90.9 1h1m1.9 -0.4h1m1.2 0.1h1m7.2 0.2h1m4 -0.3h1m-0.4 0.3h1m3.9 -0.4h1m7.1 0.4h1m2.4 -0.1h1m7.9 -0.1h1m0.1 -0.3h1m2.6 0h1m4.5 0h1m12.5 0.5h1m10.2 -0.3h1m0.8 0.2h1m7.4 -0.1h1m-90.3 0.9h1m2.9 0.1h1m0.5 0.2h1m0.7 -0.3h1m1.3 0.2h1m1.9 0.2h1m-0.5 0h1m0.2 -0.4h1m3.1 0.4h1m4.2 -0.2h1m0.7 -0.3h1m0.4 0.2h1m-0.6 0.3h1m0.4 -0.4h1m4.8 -0.2h1m4.1 0.4h1m2 0h1m5.2 -0.3h1m4.9 0.2h1m9.9 -0.1h1m1.2 0.1h1m6.5 0.1h1m1.6 0h1m2 -0.4h1m6.6 0.4h1m3.1 0h1m1.8 -0.4h1m-87.9 1.4h1m3.4 0.1h1m1.5 -0.4h1m0.2 0.4h1m0.1 -0.1h1m-0.2 0.1h1m-0.1 0h1m0.3 -0.1h1m-0.4 -0.1h1m0.3 0.3h1m-0.1 -0.1h1m1 -0.4h1m3.4 0.3h1m10.8 0.1h1m16.9 -0.3h1m3.1 0h1m-0.2 0.4h1m6.8 0h1m11.5 -0.5h1m-84.2 1.5h1m0.1 -0.5h1m1 0.5h1m6 -0.3h1m-0.2 0.2h1m0.1 0h1m0 -0.1h1m-0.3 -0.2h1m0.4 0h1m0.1 0.2h1m2.1 -0.1h1m-0.2 -0.2h1m0 0.1h1m2.7 -0.2h1m3.9 0.4h1m1.3 0.1h1m0.9 0.1h1m-0.1 0h1m2.4 -0.3h1m1.6 -0.3h1m22.2 0.4h1m8.7 -0.1h1m7.2 0.1h1m3.9 0.2h1m-87 0.8h1m0.4 0h1m-0.4 0.2h1m0.4 -0.3h1m0.8 0h1m0.7 0.2h1m0.1 -0.3h1m0.2 0.3h1m1.3 -0.3h1m-0.6 -0.1h1m0.4 0.2h1m-0.2 0h1m2.9 -0.2h1m0.5 -0.1h1m0.5 0h1m11.9 0.5h1m8.1 -0.3h1m6.4 0h1m17.9 0h1m-0.1 0.1h1m7 0h1m0 0.1h1m3.2 -0.1h1m9 0.1h1m-94 1h1m1.8 -0.3h1m2.7 0.2h1m0 0h1m3.5 -0.3h1m-0.2 0.5h1m1.8 0h1m0.2 -0.5h1m0.2 0.4h1m-0.1 0h1m-0.2 -0.2h1m1.3 0.3h1m0.6 -0.1h1m1.2 0h1m5.9 0h1m2.2 0.1h1m0.1 -0.5h1m23.7 0h1m1.9 0.4h1m5.1 0.1h1m2.2 -0.5h1m8.1 0.2h1m4.8 0.4h1m-92.1 0.8h1m-0.2 -0.4h1m0.6 0.2h1m-0.2 -0.1h1m-0.4 0.1h1m0.4 0h1m-0.3 0h1m4.1 0.1h1m0.4 0.3h1m0.5 -0.5h1m1 -0.1h1m1 0.3h1m0.1 -0.3h1m-0.1 0h1m1.3 0.3h1m-0.2 0h1m1 -0.1h1m0.3 0.3h1m-0.4 -0.2h1m0.4 0h1m-0.4 0.2h1m0 -0.2h1m0.3 0.3h1m1.6 -0.1h1m0.2 -0.1h1m-0.1 -0.2h1m3.2 0h1m0.2 0.4h1m1.1 -0.2h1m1.6 -0.2h1m0.3 0h1m4.1 -0.1h1m3.8 0.3h1m7.9 -0.2h1m-0.2 0.1h1m10.3 0.3h1m-79.3 1h1m0.3 -0.6h1m0.1 0.2h1m0 0h1m1 0.1h1m0.1 0h1m-0.1 -0.1h1m-0.5 0.3h1m1.3 -0.5h1m-0.3 0.4h1m0.2 -0.2h1m0.2 0.3h1m-0.1 -0.1h1m-0.3 0h1m0.5 -0.1h1m-0.2 -0.1h1m-0.2 0.2h1m1.4 -0.2h1m4.1 0h1m0 0.3h1m-0.1 -0.5h1m-0.3 0.1h1m2 0.1h1m0.3 0.3h1m2.8 -0.3h1m0.1 0.2h1m-0.3 -0.4h1m0.5 0.3h1m1.7 0.2h1m3.2 0h1m5.9 -0.3h1m-0.2 0.3h1m0.3 -0.4h1m1.8 -0.1h1m2.8 0h1m1.2 0.2h1m3.2 0.2h1m-0.3 -0.3h1m6.1 -0.1h1m0.1 0.1h1m4.7 0.2h1m-84.1 1.2h1m0.2 -0.4h1m1.9 0.4h1m0.1 -0.3h1m0.1 -0.1h1m0.1 0.4h1m3 -0.3h1m-0.3 0.4h1m2.4 0h1m0.1 -0.2h1m-0.3 0.2h1m2.2 -0.5h1m-0.4 0.4h1m0 0h1m0.2 -0.2h1m-0.3 0.1h1m2.5 -0.1h1m0.9 0h1m-0.1 0.2h1m0 -0.1h1m0.2 -0.1h1m3.7 0h1m0 -0.2h1m0.2 0.3h1m0 -0.3h1m2.1 0.2h1m2.8 -0.3h1m2.2 0.1h1m0.7 0.3h1m0.1 -0.2h1m10 0.1h1m0.8 0.1h1m8.5 -0.1h1m2.9 -0.3h1m2 0.5h1m4.8 0.1h1m0.9 0h1m1.9 -0.3h1m-94 1.2h1m-0.1 0h1m2.1 -0.2h1m0.5 0.1h1m-0.6 -0.3h1m0.2 0.5h1m-0.1 -0.3h1m0 0h1m1.3 0h1m-0.3 0.1h1m1 -0.3h1m0.2 -0.1h1m-0.2 0.5h1m0.2 -0.1h1m0.2 -0.4h1m-0.5 0.5h1m0.4 -0.3h1m-0.3 0.4h1m1.4 -0.1h1m0.1 0.1h1m-0.5 -0.3h1m2.3 0h1m-0.2 0h1m-0.1 0h1m2.5 0.3h1m0 -0.4h1m-0.2 -0.2h1m-0.1 0.4h1m0.2 0.1h1m-0.2 0.1h1m0.1 -0.6h1m-0.2 0.4h1m1.2 -0.1h1m0.1 -0.3h1m0.6 0.6h1m2 -0.2h1m4.2 -0.4h1m9.2 0.1h1m10.9 0.1h1m1.1 -0.2h1m4.6 0.5h1m7.9 -0.2h1m-91.8 0.9h1m0.2 -0.2h1m-0.3 0.1h1m0.4 0.1h1m-0.2 -0.2h1m0.7 0.5h1m0.5 -0.3h1m-0.2 -0.2h1m0.2 0.2h1m-0.3 -0.2h1m1.8 0.3h1m0.4 0h1m1 0.1h1m-0.2 0h1m0.3 -0.3h1m2.6 0.3h1m-0.1 -0.1h1m0.5 0.2h1m0 0.1h1m-0.1 -0.5h1m-0.2 0h1m0.1 0.3h1m-0.2 0.1h1m0.3 -0.5h1m0.9 0.6h1m9.2 -0.2h1m-0.5 0.2h1m2.3 -0.3h1m0.1 -0.3h1m3 0.2h1m3.1 0.1h1m0.5 0h1m1 0h1m0.2 -0.1h1m4.2 0.1h1m2 -0.3h1m-0.2 0.3h1m2.8 0h1m9.3 0.2h1m4.8 -0.3h1m3.3 0.3h1m-95.1 0.9h1m0.1 0.1h1m-0.1 -0.1h1m0 -0.1h1m0.1 0.2h1m-0.2 0.1h1m-0.2 -0.1h1m0.1 0h1m2.5 -0.5h1m-0.6 0.2h1m1.4 -0.1h1m1.1 0.2h1m2.7 0.2h1m-0.2 0h1m0.4 -0.2h1m3.1 -0.1h1m1 0.4h1m-0.5 -0.2h1m3 -0.2h1m1.4 0.2h1m-0.3 -0.2h1m0.4 0.2h1m0.7 -0.1h1m-0.1 0.2h1m4.3 -0.4h1m3.9 0h1m3.2 0.1h1m-0.3 0.1h1m-0.2 0.3h1m1.5 -0.2h1m-0.1 -0.1h1m1 0.3h1m3.1 -0.5h1m3.9 -0.1h1m0.9 0.2h1m5.1 0.2h1m0 -0.1h1m-0.2 0.1h1m4.4 0.1h1m-0.2 -0.4h1m4 0h1m-91 1.4h1m0.1 -0.4h1m0.9 0h1m1.8 0.2h1m0 -0.3h1m-0.1 0h1m1.4 0.2h1m0.8 0.2h1m2.9 -0.3h1m1 0h1m1 0.4h1m0.2 -0.2h1m1 -0.1h1m0.1 0.2h1m-0.1 -0.4h1m0 0.5h1m-0.1 -0.3h1m-0.2 0.2h1m0.4 -0.3h1m-0.4 0.2h1m1.9 -0.3h1m1.2 0h1m0.2 0.5h1m1.2 -0.1h1m-0.4 -0.3h1m3.9 0.3h1m2.3 -0.2h1m0.1 0h1m0.5 0.2h1m1.2 -0.1h1m0.3 -0.1h1m3.6 0.2h1m3.3 0h1m16 -0.2h1m-79.2 0.9h1m-0.1 0.3h1m2.4 -0.2h1m-0.1 0.3h1m0.9 0.1h1m0 -0.4h1m-0.1 0.1h1m0.8 0.1h1m0.3 -0.2h1m0.1 0.2h1m0.8 0.2h1m0.4 0h1m3.6 -0.3h1m0.3 -0.3h1m-0.3 0.1h1m0.9 0.3h1m0.5 0.2h1m-0.5 0h1m0 -0.6h1m0.3 0.1h1m-0.2 0.4h1m0 -0.3h1m0.4 0.2h1m-0.1 0.1h1m-0.3 0h1m7.3 -0.2h1m-0.1 -0.2h1m0 0.1h1m0.2 0h1m0.9 0.1h1m-0.2 -0.2h1m2.8 0h1m2.4 0.3h1m1.9 0h1m0.8 -0.2h1m1.3 0.4h1m0.7 -0.6h1m3.3 0.3h1m5 0.3h1m5.1 -0.1h1m8.9 0h1m0 -0.1h1m-92.2 1.1h1m0 -0.5h1m1 0.4h1m-0.2 0h1m0.4 0h1m1 -0.1h1m1.1 0.1h1m-0.4 0.1h1m0.2 -0.2h1m2 0h1m0.2 -0.1h1m0.9 -0.1h1m-0.3 0.1h1m0.2 0.2h1m0.2 0.1h1m0.5 -0.2h1m0.4 -0.2h1m-0.1 0.4h1m-0.3 -0.3h1m0 0.3h1m1.4 -0.3h1m-0.3 0h1m0.1 0.4h1m0.2 -0.5h1m0.9 0.1h1m2 0h1m-0.3 0.1h1m1.1 0h1m1.1 -0.2h1m-0.1 0.4h1m0.2 -0.2h1m3.9 0.3h1m-0.1 -0.6h1m0.4 0.4h1m7.8 0.2h1m0.7 -0.5h1m2.2 0h1m1.3 0.4h1m-0.3 -0.3h1m0.2 0.2h1m5.7 -0.1h1m-74.6 1.1h1m1.5 -0.1h1m0.1 0.2h1m1.1 -0.2h1m-0.3 0.1h1m0.6 0h1m-0.2 -0.4h1m-0.2 0.2h1m0.2 0.2h1m-0.2 -0.3h1m-0.1 0.4h1m0.1 -0.5h1m1.1 0.3h1m0.3 0h1m-0.5 0.1h1m0.3 0h1m0.8 -0.2h1m0 -0.2h1m0 0.2h1m1.4 0h1m-0.5 -0.1h1m-0.1 0.2h1m0.3 -0.3h1m1.3 0.2h1m-0.2 0.2h1m0.8 0.2h1m3.2 -0.6h1m2 0.1h1m0.7 -0.1h1m12.4 0.1h1m11 0.2h1m-70 1.3h1m-0.4 0h1m0.1 -0.3h1m1.3 -0.1h1m2 0.1h1m-0.5 -0.2h1m0 0.2h1m1.4 0.2h1m0.1 -0.2h1m-0.4 0.1h1m0.2 0h1m0.2 0h1m-0.3 0.1h1m3 -0.1h1m0 -0.4h1m2 0.3h1m0 0.1h1m1.2 0.1h1m-0.1 -0.4h1m0 0.1h1m0.1 0.3h1m-0.2 -0.5h1m0.3 0h1m3.1 0.3h1m-0.5 0.3h1m0 -0.3h1m4.5 0.1h1m2 0h1m1.5 -0.2h1m0.3 0.1h1m0 0h1m1.6 -0.2h1m5.5 0.1h1m-0.2 -0.2h1m6.3 0.4h1m0.7 0.2h1m0.3 -0.1h1m20.9 -0.1h1m-94 0.7h1m0.6 0.2h1m0.4 0.2h1m2.8 -0.2h1m2 0h1m0.2 -0.1h1m-0.1 0h1m-0.4 0.2h1m1.5 -0.1h1m1.1 -0.2h1m-0.4 0.1h1m0 0h1m0.1 -0.1h1m0.3 0.2h1m-0.4 0.2h1m-0.2 0h1m1.3 -0.4h1m0.1 0.3h1m0.9 -0.3h1m1.1 0.4h1m0.1 -0.2h1m1.1 0.3h1m-0.6 -0.5h1m1.1 0.2h1m0.3 -0.3h1m0 0h1m2.7 0.3h1m4.4 0.2h1m-0.2 0.1h1m12.8 -0.2h1m1.5 0.2h1m-0.1 -0.6h1m2.5 0.2h1m0.2 0.3h1m1.2 0h1m7.9 0h1m3.1 0h1m3 0h1m-88.1 0.8h1m-0.3 0.3h1m0.4 -0.1h1m0.1 -0.3h1m-0.1 0.3h1m-0.2 -0.4h1m0.1 0.1h1m0.2 0.1h1m-0.3 -0.1h1m-0.2 0.2h1m1.4 -0.2h1m2.1 0.1h1m1.7 0.2h1m0.2 -0.2h1m-0.3 -0.2h1m0.4 0.1h1m-0.2 0.2h1m0.2 0h1m-0.1 0.2h1m0 -0.4h1m-0.3 -0.1h1m0.1 0.5h1m0.3 -0.4h1m-0.4 -0.1h1m2 0.2h1m0.1 -0.3h1m0.1 0.5h1m1.2 -0.3h1m0 -0.1h1m-0.2 0.3h1m7.2 0.1h1m2.9 0h1m1.1 0.1h1m0.8 -0.1h1m1.1 -0.3h1m4.1 0.3h1m-0.1 -0.1h1m-0.1 -0.2h1m8.8 0h1m3.2 -0.1h1m10.1 0.4h1m-89.9 0.9h1m0.6 0h1m0.3 -0.4h1m-0.1 0.3h1m1.1 0.2h1m0.9 -0.3h1m0 0h1m0 0.4h1m0.9 -0.3h1m0.3 -0.2h1m-0.5 0.2h1m0.2 -0.2h1m0.3 0.1h1m-0.2 -0.2h1m0.8 0.1h1m0.1 0.5h1m0 -0.4h1m0.8 0h1m0.2 -0.1h1m1.2 0.1h1m1.7 0h1m0.4 -0.2h1m-0.2 0.3h1m0 0.1h1m-0.2 -0.2h1m0.2 -0.2h1m0.2 0.2h1m1.1 -0.1h1m-0.4 0.2h1m0 0.3h1m0.8 -0.2h1m0.2 -0.3h1m2.2 0.2h1m1.8 -0.1h1m1 -0.1h1m9.3 0h1m4.5 0.2h1m2.5 0.2h1m17.9 -0.1h1m-88.2 0.9h1m0 0.1h1m1.9 -0.1h1m0.4 0.3h1m-0.4 -0.3h1m0.5 0.2h1m-0.1 -0.3h1m-0.4 0.4h1m0.3 -0.2h1m0.8 -0.1h1m-0.2 0.1h1m0.2 0h1m0.3 -0.2h1m-0.2 -0.1h1m-0.3 0.1h1m0.3 -0.1h1m3.1 0.4h1m-0.1 0.1h1m0.8 0h1m1.4 -0.3h1m2.7 -0.1h1m0.1 0h1m-0.1 0.1h1m0.4 0h1m5.6 0h1m1.9 -0.1h1m4.1 0.1h1m0.4 -0.1h1m-0.3 0.2h1m1.7 -0.1h1m0.3 0.2h1m6.2 0h1m0.9 -0.3h1m0.7 0.1h1m1.4 0h1m0.9 0.2h1m3.8 -0.4h1m7.4 0.4h1m5.4 -0.4h1m1.3 0.1h1m-94 1.1h1m0.3 0h1m-0.1 -0.3h1m-0.2 0.1h1m0 0h1m0 0.2h1m-0.2 -0.2h1m0 0.4h1m0.3 -0.3h1m1.6 -0.1h1m0.3 0h1m1.8 0.3h1m-0.1 -0.2h1m0.6 0h1m0.6 0.2h1m1.1 -0.4h1m-0.2 0.3h1m-0.1 -0.1h1m0.6 -0.1h1m-0.6 0.1h1m1.3 0.3h1m0.9 -0.1h1m0 -0.2h1m0.1 -0.2h1m0.9 0.4h1m0.9 0.1h1m3.2 0.1h1m2.9 -0.3h1m0.1 0.1h1m2.1 -0.3h1m10 0.3h1m5.9 -0.2h1m13.2 0h1m8.1 0.2h1m-88.1 1h1m-0.1 -0.2h1m-0.1 0.2h1m0.3 0.2h1m0 0h1m-0.1 -0.2h1m0.1 0h1m-0.3 0.2h1m0 -0.2h1m0.2 -0.4h1m-0.1 0.3h1m-0.4 -0.1h1m1.1 -0.2h1m0.4 0.4h1m-0.4 -0.2h1m1.4 0.1h1m-0.3 0h1m0.2 0.1h1m-0.3 0h1m0.5 -0.2h1m-0.4 0h1m1.9 -0.1h1m0.3 0h1m-0.1 0.3h1m1.2 0h1m0.6 -0.3h1m0.1 0.2h1m-0.2 0h1m1.3 0.2h1m0.8 -0.4h1m0.2 -0.1h1m0.1 0.3h1m-0.2 0.2h1m1.9 -0.2h1m4.2 0h1m0.1 0.1h1m0 -0.2h1m0.6 -0.1h1m1.3 0.4h1m-0.1 0h1m3 0.1h1m2.1 -0.5h1m2.1 0.4h1m-0.2 -0.4h1m1.3 -0.1h1m-0.2 0.1h1m1.7 0h1m6.5 0.4h1m6.8 -0.3h1m-89 1h1m-0.3 -0.1h1m0.3 0.4h1m3 -0.4h1m-0.1 0.2h1m0.1 -0.3h1m-0.2 0.5h1m-0.1 -0.5h1m0.1 0.1h1m0.3 0.3h1m0 -0.3h1m1.1 0.4h1m0.9 -0.3h1m1.9 0.2h1m-0.3 0.2h1m0 -0.2h1m0.6 -0.2h1m-0.2 0.4h1m-0.2 -0.1h1m-0.1 0h1m0.4 0h1m-0.4 0h1m0.1 0h1m0.9 0.1h1m0.1 0h1m2.1 -0.2h1m2.2 0.2h1m-0.3 -0.4h1m0.8 0.3h1m0 -0.3h1m5.5 0.1h1m-0.3 0.3h1m6 -0.2h1m4 -0.2h1m4.2 0.3h1m7.7 -0.2h1m7.4 0h1m2.9 -0.1h1m-88.1 1.2h1m0.8 -0.4h1m1.3 0.5h1m0 0h1m0.8 0.1h1m1.3 -0.3h1m0.5 -0.2h1m0.2 0.1h1m0 0.2h1m1.3 0.1h1m1.5 -0.4h1m0.4 0.2h1m-0.1 0.2h1m-0.1 -0.4h1m0.2 0.1h1m-0.4 0.2h1m0.4 -0.2h1m0 0.1h1m-0.2 -0.2h1m-0.1 0.4h1m0.2 -0.3h1m-0.3 0.3h1m0.2 -0.2h1m0.2 0.2h1m-0.2 -0.4h1m0.9 0.5h1m3.3 -0.5h1m1.9 0.1h1m1.8 0.2h1m0.5 -0.3h1m-0.6 0.5h1m6.3 -0.1h1m1.7 0h1m0.2 -0.1h1m1.2 0.2h1m0.2 -0.3h1m3.5 0.1h1m12.9 0.1h1m5.3 -0.1h1m1.9 -0.4h1m-87.7 1.6h1m-0.5 -0.2h1m0.2 -0.2h1m0.2 0h1m-0.1 -0.1h1m0.8 0.2h1m0.4 -0.2h1m-0.3 0.4h1m-0.1 -0.2h1m2.1 0.3h1m-0.1 -0.2h1m0.9 -0.4h1m1.5 0.3h1m1 0.3h1m0.9 -0.2h1m0.1 0h1m0.1 -0.1h1m-0.3 -0.1h1m0.8 0h1m1.1 0.3h1m0.3 0.1h1m1 -0.3h1m0.1 -0.2h1m5.5 0.2h1m1.4 -0.2h1m1.6 0.1h1m0.2 0h1m3.1 0.1h1m-0.3 0.1h1m1.4 -0.3h1m-0.4 0.2h1m2.1 0.2h1m-0.1 0.1h1m0.2 0h1m5.3 -0.5h1m0.5 0.4h1m0.1 -0.4h1m3 0.4h1m1.3 -0.4h1m10 0.2h1m-86.5 0.7h1m0.2 0.3h1m1 0.1h1m0.3 -0.3h1m-0.3 0.2h1m1.1 0.1h1m0 0.1h1m-0.1 -0.2h1m0.4 -0.1h1m-0.2 -0.2h1m0 0.5h1m0.9 -0.2h1m-0.3 -0.1h1m0.1 0.3h1m1.3 -0.3h1m2.1 0h1m-0.4 0.1h1m0 0.1h1m0.4 -0.3h1m1 0.1h1m-0.2 0.2h1m0 0.1h1m0.7 -0.5h1m0.1 0.1h1m0 0.2h1m0.2 -0.1h1m0.2 0.2h1m0 0h1m-0.4 0.1h1m0.2 -0.4h1m0 0.2h1m1.9 0.3h1m0.1 -0.5h1m4.2 -0.1h1m0.7 0.1h1m2.4 0.3h1m6 0h1m-0.3 -0.1h1m5.3 0.3h1m-0.2 -0.3h1m-0.1 0.1h1m-0.1 -0.3h1m-0.1 0.4h1m4 0h1m4.2 -0.1h1m3.1 0.1h1m-85 0.5h1m0.9 0.5h1m-0.1 -0.1h1m1.2 -0.1h1m-0.1 -0.1h1m-0.3 -0.2h1m0.1 0.6h1m3.4 -0.1h1m1.1 -0.3h1m2 0.4h1m-0.2 -0.4h1m0.1 0.3h1m0.6 -0.1h1m0.2 0.2h1m0.9 -0.3h1m0.4 0h1m-0.1 0h1m-0.4 0.1h1m2.5 0.2h1m-0.1 -0.1h1m1 -0.2h1m-0.5 -0.2h1m1.1 0.1h1m0.9 0.3h1m0.2 -0.3h1m1.4 0h1m0.5 0.2h1m2.2 0.1h1m4.1 -0.4h1m-0.3 0.3h1m1 -0.3h1m1.5 0.2h1m2.4 0.3h1m3.5 -0.5h1m9.9 0h1m5.7 0.5h1m1.3 -0.1h1m3.7 -0.2h1m-89.1 1.2h1m0.1 0.1h1m0.2 -0.6h1m0.2 0.1h1m0 0.3h1m-0.3 0.2h1m1.1 -0.2h1m0 0h1m0 -0.1h1m0.9 0h1m0.4 0.2h1m1.8 -0.3h1m1.9 -0.1h1m-0.2 0.4h1m0 -0.2h1m-0.1 -0.2h1m1.3 -0.1h1m0 0.1h1m-0.1 0.5h1m0.4 -0.3h1m-0.3 0.2h1m1.9 -0.4h1m-0.1 0.1h1m0.1 0.2h1m1.3 0.1h1m-0.4 0.1h1m0 -0.3h1m0.1 0.2h1m2.3 -0.3h1m0.1 0.2h1m0.4 0.1h1m3.4 -0.5h1m3.1 0.4h1m-0.4 0h1m1.5 0.2h1m0.9 -0.6h1m0 0.5h1m0.7 0h1m1.3 -0.2h1m-0.2 0.1h1m8.1 -0.1h1m2.1 0.3h1m1.8 -0.3h1m1.1 0h1m0.8 -0.1h1m-0.1 0.3h1m-83.6 0.6h1m1 -0.1h1m0.5 0.3h1m0 0.3h1m0 -0.2h1m0.1 0.1h1m0.1 -0.2h1m2.2 0h1m0.1 -0.1h1m0 0.1h1m-0.4 -0.1h1m0.4 0.2h1m-0.4 -0.4h1m0.5 0.1h1m0.6 0.4h1m0.1 -0.4h1m0.2 0.5h1m0.9 -0.4h1m-0.2 0.3h1m0.1 -0.3h1m-0.2 -0.1h1m0.4 -0.1h1m0.7 0.3h1m1.3 0.2h1m0 -0.2h1m0.9 0.2h1m2.1 -0.5h1m2.7 0.5h1m0.1 -0.2h1m0 -0.2h1m-0.1 0.3h1m1.3 0h1m-0.3 -0.3h1m1.1 0.3h1m1.1 -0.1h1m1.2 -0.3h1m-0.4 0h1m2.2 0.6h1m1.9 -0.4h1m0.9 0h1m1 0.3h1m0.2 -0.2h1m-0.2 -0.1h1m0.1 0.1h1m0.8 0.1h1m0.4 0h1m6.6 0.2h1m1.4 -0.4h1m5 0.3h1m-86 0.9h1m-0.2 0.2h1m1 -0.5h1m1.2 0h1m0.7 0.2h1m0 -0.3h1m1.2 0.4h1m1 -0.2h1m0 0.3h1m2.2 -0.1h1m-0.1 -0.4h1m0.9 0.5h1m0.1 0h1m-0.4 -0.1h1m0.9 -0.2h1m0.3 -0.1h1m-0.2 0.4h1m0.4 -0.4h1m-0.2 0.2h1m-0.2 -0.3h1m-0.1 0.1h1m0.2 0h1m0.9 0.3h1m0.1 -0.1h1m2.1 -0.2h1m0.3 0.4h1m0.6 -0.5h1m4 0.5h1m0.1 -0.4h1m-0.1 0.3h1m7.1 0h1m0.9 -0.2h1m0.8 0.2h1m2.4 0.1h1m0 0.1h1m5.7 -0.1h1m6.9 0.1h1m1.1 -0.4h1m1 0.1h1m2.2 -0.1h1m2.2 0.2h1m5 0.2h1m-95.1 0.9h1m0.2 -0.4h1m-0.3 0.2h1m0.9 -0.3h1m0 0.4h1m0.1 0h1m2.1 -0.3h1m1.2 0.1h1m-0.2 0h1m-0.4 0.2h1m0.4 -0.1h1m0 -0.2h1m-0.1 0.1h1m0.7 0.1h1m0.6 -0.1h1m-0.3 -0.1h1m-0.1 0.3h1m0.4 -0.2h1m5.7 0.1h1m0.1 0h1m-0.3 0.2h1m0.9 -0.1h1m0.6 -0.1h1m-0.4 -0.2h1m-0.1 0.3h1m5.1 -0.1h1m-0.1 0.1h1m0.3 -0.2h1m0.8 0.3h1m-0.1 -0.2h1m0.2 0.2h1m0.2 0h1m0.1 -0.5h1m-0.4 0.4h1m-0.1 0.1h1m1 -0.1h1m3.4 0h1m1.9 0h1m0.7 -0.2h1m5.1 0.3h1m4.2 -0.5h1m-0.2 0h1m8.2 0.3h1m3 -0.2h1m-89.1 1.4h1m-0.1 0h1m0.2 0h1m0.6 -0.1h1m0.1 -0.4h1m1.4 0.6h1m-0.5 -0.5h1m1.5 0.2h1m2 0.1h1m-0.2 -0.3h1m0.1 0h1m0.7 0.1h1m1.5 0.1h1m-0.4 -0.1h1m2.4 -0.1h1m-0.3 0.3h1m0 0.1h1m-0.2 -0.2h1m0.3 -0.1h1m-0.4 0.3h1m1 0h1m1.2 -0.1h1m4.9 -0.3h1m0 0.3h1m1.1 -0.2h1m0.1 0h1m0.9 0.3h1m0 -0.4h1m1.3 0.2h1m-0.3 0h1m0.2 0h1m7.9 -0.2h1m-0.2 0h1m3.2 0.2h1m0.2 -0.2h1m8.6 0.2h1m10.1 0h1m3.3 -0.3h1m-90.2 1.5h1m0.1 -0.2h1m-0.1 -0.2h1m1.2 0.2h1m-0.3 -0.3h1m2 0h1m7.9 0.2h1m0.3 0.4h1m-0.3 -0.5h1m1.4 0.1h1m-0.5 0.4h1m3.3 -0.1h1m1 -0.1h1m-0.2 -0.3h1m0.1 0h1m1.9 0.3h1m0.2 0h1m0.9 -0.4h1m2.3 0.5h1m2.7 0h1m2.9 0h1m2 0h1m4.1 -0.2h1m0.3 0.1h1m0.1 0.1h1m-0.6 0h1m1 -0.2h1m0.1 0.1h1m0 -0.1h1m6.1 0h1m0 -0.2h1m-0.1 0.2h1m3.4 -0.2h1m-0.2 0.1h1m2 0h1m9 0.2h1m2.9 -0.4h1m-94.1 1.3h1m0.1 -0.1h1m0.4 0.2h1m-0.5 0h1m0.2 -0.4h1m1.1 0.4h1m1.2 -0.4h1m-0.1 0.5h1m1.9 0h1m1.8 -0.4h1m0.1 0.2h1m0.2 0.1h1m-0.5 -0.1h1m0.6 -0.2h1m2.4 0.4h1m3.4 -0.2h1m6.7 -0.1h1m0.4 -0.1h1m3 0.1h1m3 0.4h1m1.9 0h1m2.9 -0.1h1m5.2 -0.2h1m1 0.3h1m1.1 -0.3h1m-0.4 0h1m10.3 -0.1h1m-0.4 0.2h1m1.2 0.1h1m-0.3 -0.1h1m0.4 -0.3h1m-0.1 0.2h1m2.1 -0.1h1m1 0.2h1m1.2 -0.3h1m-85.2 1.1h1m0.1 -0.2h1m-0.1 0.5h1m0.1 -0.2h1m-0.4 0h1m-0.1 -0.2h1m0.3 0.4h1m-0.1 -0.2h1m0.9 0.1h1m0 -0.1h1m1.1 0.3h1m-0.1 -0.2h1m0.5 -0.4h1m1.7 0.5h1m0 -0.1h1m0.1 -0.3h1m-0.2 -0.1h1m1 0.4h1m-0.1 -0.1h1m0.4 -0.3h1m0 0.4h1m-0.1 0.2h1m0.7 -0.1h1m1.4 -0.2h1m0 0.1h1m2.8 0.2h1m4 0h1m0 -0.5h1m0.7 0.4h1m4.4 -0.2h1m-0.2 -0.1h1m4 0.3h1m6.2 -0.4h1m0 0.1h1m2.7 0.1h1m0.4 0.2h1m-0.1 0h1m1.8 -0.1h1m5.1 0h1m1 0.1h1m9 -0.4h1m-91 1h1m0 0.1h1m-0.2 0.3h1m1.2 -0.2h1m0.2 0.3h1m0.6 0h1m0.2 -0.4h1m0.3 0.2h1m2.6 -0.4h1m-0.1 0.4h1m0 0.2h1m-0.1 -0.4h1m3.5 0.2h1m0 0h1m-0.4 -0.2h1m-0.1 0.3h1m0.5 -0.3h1m0 -0.1h1m2.8 0.3h1m0.2 0.1h1m0 -0.5h1m-0.3 0.6h1m0.3 -0.1h1m2.7 -0.4h1m0 0h1m0.2 0.5h1m0.8 -0.5h1m4.1 0.3h1m-0.2 -0.3h1m8 0h1m1.4 0.4h1m-0.3 -0.4h1m-0.1 0.2h1m0.4 0h1m0.7 -0.2h1m0.9 0h1m0 0.2h1m0.1 0.2h1m0.3 -0.3h1m-0.3 0.4h1m0.1 -0.5h1m0.3 0.2h1m-0.6 0.3h1m1.5 0h1m0 -0.3h1m1 0.1h1m0.7 0.2h1m-0.1 -0.3h1m0.1 -0.2h1m1.1 0.2h1m-0.2 0.1h1m0.4 0.1h1m-86.9 0.8h1m2.5 -0.1h1m0.4 0.3h1m-0.4 -0.2h1m0.1 -0.2h1m0.2 0.4h1m0.1 -0.4h1m-0.1 0h1m0.1 0.4h1m0.7 -0.5h1m0.3 0.2h1m0 -0.2h1m-0.2 0.3h1m-0.2 -0.2h1m0.3 0.5h1m0 -0.5h1m-0.4 0h1m0.2 0.4h1m1.1 -0.1h1m1.2 0.2h1m1 -0.6h1m-0.3 0.5h1m4.8 -0.2h1m2.1 0.2h1m2 -0.4h1m2.1 -0.1h1m2.3 0.5h1m-0.2 -0.4h1m0.1 0.3h1m4.7 -0.3h1m3 0h1m1.4 0h1m-0.4 0h1m0.4 0.3h1m0 -0.3h1m0.7 0h1m0 0.2h1m1.1 0.1h1m0.3 0.1h1m-0.1 -0.1h1m1 0.2h1m1.6 -0.3h1m0.2 -0.1h1m1.2 0.2h1m-0.1 0.2h1m0 -0.4h1m2.7 0.4h1m5.5 0h1m-0.1 -0.2h1m-92.1 1.1h1m2.8 -0.3h1m0 0.3h1m0 -0.4h1m-0.1 0h1m1.4 -0.1h1m-0.1 0.2h1m0.1 0.2h1m0 -0.3h1m-0.1 0.1h1m-0.1 -0.1h1m0 0h1m0.1 0.4h1m-0.2 -0.2h1m0.9 -0.1h1m0 -0.2h1m0.3 0.1h1m0 0.4h1m4.1 -0.3h1m-0.1 0.2h1m-0.2 0h1m0.3 -0.2h1m0.8 0.1h1m1.9 -0.2h1m3.9 0.4h1m2.2 -0.4h1m3.8 0.3h1m1 -0.2h1m1.1 -0.1h1m1.9 0.3h1m1.1 -0.2h1m5.1 0.3h1m-0.2 -0.4h1m0.4 0.3h1m1 -0.4h1m5.6 0.2h1m0.5 0.3h1m1.5 -0.2h1m2 0.1h1m2.9 0.2h1m1.5 -0.2h1m-0.1 -0.2h1m5.6 0.4h1m-94.9 0.6h1m0.2 0.2h1m1.7 -0.2h1m1.2 0.2h1m1.2 -0.1h1m0.1 -0.3h1m0.9 0.5h1m-0.4 -0.2h1m0.3 0h1m0.1 0.2h1m1.7 -0.1h1m2.3 -0.2h1m1.9 0.1h1m0.3 0.1h1m1.7 0h1m0.9 -0.3h1m1.4 0.5h1m-0.3 0h1m2.1 -0.3h1m2 -0.3h1m-0.3 0.3h1m2.3 0.1h1m1 0h1m-0.1 -0.1h1m2.3 -0.1h1m0.6 -0.1h1m-0.1 0.4h1m0.3 -0.3h1m0.8 -0.1h1m1 0.1h1m1 0.2h1m2.3 -0.3h1m0.6 0.4h1m2.1 -0.4h1m0.3 0h1m4.1 0.2h1m1.8 0.1h1m-0.3 0.2h1m0 -0.3h1m0.2 0.3h1m0.1 -0.3h1m2 -0.2h1m2.7 -0.1h1m0.4 0h1m-89 1.6h1m0.5 -0.1h1m0.6 -0.2h1m1.7 -0.1h1m0 0.4h1m1.1 -0.4h1m0.1 0.4h1m-0.1 -0.2h1m0.6 0h1m4.1 -0.3h1m1 0.2h1m0.2 0.3h1m1.1 -0.3h1m1 0.2h1m-0.1 -0.4h1m-0.3 0.3h1m2.1 0.1h1m3.1 0.1h1m0 -0.3h1m-0.1 0.1h1m2.4 0.1h1m0.9 0h1m1.9 -0.3h1m3.2 0.1h1m-0.2 0.1h1m8.3 -0.1h1m4.4 0h1m2 0h1m0.4 -0.2h1m2.7 0.3h1m0.3 0h1m0.1 0h1m1.8 -0.2h1m0.2 -0.2h1m4.9 0.3h1m0.7 0.1h1m0.3 0.2h1m-0.2 -0.5h1m-84.1 1.2h1m0.3 -0.1h1m0.2 0h1m-0.4 0h1m1.8 0.4h1m0.5 -0.3h1m3.1 -0.1h1m0.4 0h1m7 -0.2h1m4.2 0.1h1m-0.1 0.2h1m0.5 -0.2h1m0.9 0.2h1m0.7 0.3h1m3.2 -0.3h1m0 0.3h1m2 -0.1h1m4 0h1m0.7 0h1m4.2 0.1h1m1 -0.1h1m0 -0.1h1m0.2 -0.1h1m1.1 0.1h1m0.4 -0.3h1m1.5 0.4h1m0 -0.4h1m0 0h1m-0.1 0.4h1m0 -0.2h1m0.1 0.3h1m-0.4 -0.1h1m0.2 -0.4h1m-0.1 0.1h1m0.9 0.3h1m0.5 0h1m-0.4 0.1h1m0.4 -0.1h1m-0.4 -0.1h1m0.3 -0.2h1m1.8 0.1h1m-84.1 0.8h1m0.3 -0.1h1m-0.1 0.6h1m-0.3 -0.4h1m1.1 0.1h1m1.2 -0.2h1m-0.3 0.4h1m0.2 -0.3h1m1 -0.2h1m0.8 0.1h1m7 0.4h1m1.1 -0.3h1m3.9 0.3h1m5 -0.4h1m2.4 0h1m-0.1 0.5h1m10.6 -0.2h1m1.2 -0.2h1m1.2 0h1m-0.2 0.2h1m0.1 -0.3h1m0.8 0.3h1m1.5 0h1m-0.3 -0.3h1m0.1 0.5h1m1.2 -0.4h1m0.8 0.4h1m-0.3 -0.3h1m1.3 0h1m0 0h1m-0.3 -0.2h1m0 -0.1h1m1.4 0.1h1m-0.4 0.4h1m0.2 -0.5h1m0.1 0.2h1m7.1 0.1h1m2.7 -0.2h1m-85.7 0.9h1m1.8 0.6h1m0 -0.5h1m2.2 0.2h1m2 -0.1h1m2.7 0.2h1m1.4 0h1m0.9 -0.1h1m1.8 -0.1h1m0 0.2h1m0.1 -0.4h1m0.9 0.2h1m6 0.1h1m-0.2 -0.1h1m10.4 -0.2h1m2 0.1h1m-0.1 0.2h1m0.1 0h1m7 -0.1h1m0.7 0h1m4.1 0h1m-0.1 -0.1h1m-0.1 0.3h1m1.4 -0.1h1m-0.1 -0.3h1m0.8 0.5h1m-0.2 -0.4h1m0 0h1m5.3 0.2h1m-84.9 1.2h1m1.7 0.1h1m1.3 -0.4h1m-0.2 0.1h1m1 0h1m0 -0.1h1m1.3 0.4h1m-0.3 -0.2h1m1 0.1h1m-0.1 -0.4h1m3.4 0.3h1m1.7 0h1m1 0.1h1m-0.2 0h1m6.5 -0.1h1m6.7 0.1h1m5.2 -0.1h1m0.6 -0.2h1m1.4 0.3h1m-0.1 -0.3h1m4.9 0h1m0.9 0.1h1m3.4 -0.3h1m0.6 0.6h1m0 -0.1h1m0.4 -0.2h1m-0.3 0.3h1m0 -0.5h1m-0.1 0.2h1m2.4 0.3h1m0.7 -0.5h1m0 0.3h1m0.1 -0.3h1m-0.2 0h1m0.3 0.3h1m0.9 0.1h1m0.3 0.1h1m-0.4 -0.2h1m2.1 -0.2h1m-87 0.8h1m1.8 0.2h1m0.4 0.2h1m1.6 -0.1h1m3.3 0.2h1m1.1 -0.5h1m1.1 0.1h1m-0.2 0.4h1m0.8 -0.3h1m4.2 0.1h1m2.9 0.1h1m7.7 0h1m0.2 -0.3h1m3.9 0.1h1m2.4 -0.1h1m3.9 0.5h1m1.8 -0.4h1m3.1 -0.1h1m2 0.4h1m0.2 -0.2h1m0.9 0h1m0.9 0.3h1m1.9 -0.1h1m0 0.1h1m1.4 -0.6h1m-0.3 0.3h1m-0.1 0h1m0.4 0.2h1m-0.3 -0.1h1m0.3 -0.1h1m-0.5 -0.3h1m0 0.3h1m1.2 0h1m1.2 0h1m-0.1 -0.2h1m4.7 0.1h1m0.1 -0.2h1m2 0.1h1m-94.9 1.4h1m0 -0.2h1m0.2 -0.2h1m-0.2 0.2h1m2.8 0.2h1m1 -0.1h1m6.2 0.1h1m0.3 -0.5h1m-0.3 0.1h1m0.3 0.4h1m1.6 -0.2h1m0.4 0.2h1m6.7 0h1m3.2 0h1m-0.1 -0.3h1m2.2 0.2h1m-0.1 0h1m0.5 0.1h1m6.1 0.1h1m7.4 -0.4h1m1.8 0h1m0 0.1h1m0.1 0.1h1m1.2 -0.1h1m-0.2 -0.1h1m1.6 0h1m0.2 -0.2h1m1.1 0h1m0 0.5h1m0.3 0.1h1m-0.4 -0.4h1m1.1 -0.1h1m-0.1 0.1h1m0.3 0.2h1m-0.2 -0.2h1m1 0.1h1m3.2 0.1h1m8.8 0.1h1m-89 1.1h1m0.8 -0.2h1m1.3 -0.1h1m0.2 0.1h1m4.7 0.1h1m0.9 -0.3h1m33.4 0.1h1m0.6 0.1h1m2.1 0.1h1m0.9 0.1h1m0.3 -0.4h1m-0.3 -0.2h1m0.3 0.4h1m-0.3 0.1h1m1.1 -0.4h1m0.2 -0.1h1m-0.3 0.2h1m0 0.4h1m3.1 -0.3h1m1.8 -0.2h1m0.2 0.4h1m-0.3 0h1m0.5 0h1m0 -0.1h1m-0.4 -0.4h1m1.2 0.1h1m0.8 0.3h1m3.4 -0.1h1m-86.3 1.1h1m3.2 -0.3h1m0.7 -0.1h1m3.1 0.5h1m3.9 -0.4h1m9.5 0.5h1m2.7 -0.4h1m12.2 -0.1h1m2.8 0.4h1m0.3 -0.2h1m0.8 0.1h1m-0.2 0h1m5 0.2h1m0.2 -0.2h1m0.2 -0.1h1m0.8 -0.1h1m1.2 0.1h1m0 -0.2h1m-0.5 0.3h1m3.2 -0.1h1m0.3 0h1m1 0.2h1m9.5 -0.2h1m1.2 0.2h1m-86.8 0.7h1m5 0.3h1m2.5 -0.4h1m0.3 0h1m2.1 0.1h1m8.8 0.3h1m4 -0.2h1m2.9 0h1m0.5 0.3h1m2.6 -0.3h1m0.2 0h1m12.9 -0.2h1m1.8 0.3h1m1.1 0.2h1m0.1 -0.2h1m0.2 -0.1h1m-0.2 -0.1h1m0.2 0.3h1m1 -0.3h1m-0.2 0.2h1m-0.1 -0.2h1m2.3 -0.2h1m-0.4 0.6h1m-0.1 -0.5h1m1.3 0.3h1m-0.1 0h1m0.1 -0.4h1m1 0.3h1m0.2 -0.2h1m-0.2 0.3h1m-0.2 -0.2h1m0.4 0.2h1m0.1 -0.2h1m4.9 0.3h1m-89.4 0.8h1m4 -0.3h1m4.1 0.2h1m3 -0.1h1m3.2 0.4h1m8.1 -0.1h1m0 -0.2h1m0.8 -0.2h1m0 0.1h1m7.8 0.1h1m7.4 0.2h1m3.7 -0.3h1m-0.2 0.3h1m1.6 0h1m-0.1 -0.1h1m0.6 0h1m0 0h1m0.9 -0.1h1m0.4 -0.2h1m-0.3 0.1h1m0.1 0.3h1m1.3 0h1m-0.2 -0.4h1m1.3 0.5h1m0.7 -0.4h1m-0.2 0.4h1m0.3 0h1m0.1 -0.1h1m-0.3 0.1h1m0 -0.1h1m0.9 0.1h1m0.5 -0.3h1m-0.5 0.2h1m2.2 -0.1h1m2 -0.3h1m1.2 0.5h1m0.8 0h1m-93.7 0.7h1m30.5 0h1m5.1 0.1h1m12.3 0.3h1m0.7 -0.2h1m0.9 -0.1h1m3.1 0.1h1m0.1 0h1m2 0.1h1m0.2 -0.2h1m1.1 -0.2h1m-0.6 0h1m0.3 0.2h1m2.7 0h1m1.4 -0.1h1m-0.4 -0.2h1m1.3 0.5h1m0.1 0.1h1m-0.3 -0.1h1m1.4 -0.4h1m0.1 0h1m-0.4 0.5h1m0 -0.2h1m-0.1 -0.3h1m-85.1 1.2h1m4.4 0.1h1m1.2 0.1h1m12.7 -0.3h1m11 0.1h1m8.8 0h1m5.2 -0.2h1m4 0h1m0 0.5h1m-0.3 -0.3h1m0.3 -0.2h1m0 0.5h1m-0.2 -0.2h1m1.4 -0.3h1m0.8 0.2h1m0 -0.2h1m0.2 0.4h1m0 -0.2h1m0.6 -0.2h1m0 0.4h1m0.1 -0.4h1m1 0.5h1m0.4 -0.4h1m-0.3 0.1h1m0 0.2h1m0.8 -0.4h1m0.2 0.3h1m1.2 0.1h1m-0.3 0.1h1m-0.2 -0.3h1m0.5 -0.1h1m3.5 -0.2h1m0 0.2h1m-85.7 1.3h1m-0.1 0h1m0.1 -0.4h1m1.1 0.2h1m1.9 -0.1h1m5.3 0.4h1m18 -0.1h1m2.5 -0.3h1m4.3 0.4h1m7 -0.4h1m1.2 0h1m2.7 -0.2h1m0 0.1h1m1.1 0.1h1m0 -0.2h1m0 0.2h1m0 0.1h1m0.2 -0.3h1m0 0.5h1m-0.5 -0.4h1m-0.1 0.1h1m3.5 -0.1h1m0.6 0.5h1m0.3 -0.5h1m0.2 0h1m-0.3 0.4h1m1.2 0h1m6 -0.1h1m-85.5 0.7h1m0.5 0.1h1m0.8 0.3h1m14.2 -0.4h1m10.7 0.1h1m-0.1 0h1m3.4 0.3h1m1 -0.3h1m1.6 -0.1h1m0.3 0h1m1.9 0.3h1m1 -0.3h1m5.1 0h1m1.7 0.5h1m1.2 -0.1h1m1.1 -0.3h1m1.6 0h1m0.3 -0.1h1m-0.1 0.5h1m1.1 -0.4h1m0.2 -0.1h1m-0.3 0h1m0 0.2h1m0.2 -0.3h1m0.9 0.2h1m3.2 -0.1h1m2 0.1h1m7.5 -0.1h1m-90.9 1.2h1m3.4 0.1h1m7.1 -0.4h1m0 0.1h1m3.5 0.2h1m-0.1 -0.2h1m4.2 0.5h1m2 -0.4h1m3.9 0.2h1m0.5 -0.4h1m1.6 0.4h1m1.3 0h1m0.9 0.1h1m7.9 -0.1h1m0.8 0.1h1m1.1 -0.3h1m0.1 0h1m7.2 0.1h1m0.6 0.2h1m0 0.1h1m1.3 -0.1h1m-0.4 -0.4h1m0.5 0.2h1m-0.3 -0.3h1m-0.2 0.3h1m0 -0.3h1m0.1 0.2h1m0.2 0.4h1m0.2 -0.6h1m0.7 0.4h1m2.3 0h1m-0.1 0h1m2 -0.2h1m6.2 0.1h1m-81.4 0.9h1m1.4 -0.2h1m4.6 0.5h1m3.2 -0.1h1m4.1 -0.1h1m1.8 -0.3h1m4.9 0.5h1m12.2 -0.4h1m1.9 0.3h1m4.9 -0.4h1m-0.1 0.5h1m1.4 -0.2h1m0.9 0.3h1m1.2 -0.4h1m0.6 0.2h1m0.2 -0.1h1m-0.3 0.2h1m0.3 -0.1h1m2 -0.1h1m-0.4 -0.2h1m0.3 0h1m3.3 0.4h1m0.6 -0.2h1m-0.2 0.2h1m-74.9 1h1m2.2 -0.1h1m12.8 -0.3h1m2 0.4h1m3 -0.3h1m0.3 0h1m0.6 0.4h1m0.1 0h1m0.2 -0.5h1m1.2 0.5h1m0.7 -0.6h1m1.9 0.4h1m2.2 0.2h1m3.2 -0.6h1m0.1 0.4h1m1 0h1m0.6 0.1h1m1.3 -0.5h1m1.1 0.5h1m0.5 -0.2h1m-0.1 0.1h1m0.6 0.1h1m-0.6 -0.4h1m1.4 0.3h1m0.1 -0.2h1m-0.4 -0.1h1m0.3 0.5h1m0.7 -0.3h1m0.1 0.2h1m1.3 0h1m-0.5 -0.1h1m3.4 -0.1h1m2.8 0.1h1m-86.7 1h1m3 -0.1h1m5.1 -0.1h1m8.8 0.2h1m12.9 -0.4h1m0.3 0.6h1m5.8 0h1m2.1 -0.1h1m-0.3 -0.4h1m0.3 0.3h1m-0.1 -0.2h1m0.1 0.2h1m0 -0.2h1m-0.4 0.2h1m10.1 0.1h1m0 -0.4h1m1.1 -0.1h1m1.2 0h1m0.8 0.5h1m0 -0.2h1m0.9 0h1m1 -0.3h1m0 0.3h1m0.1 0h1m-0.1 -0.2h1m2 0.3h1m-0.2 0h1m1.4 -0.1h1m0.8 0h1m-82.7 1.2h1m20.7 -0.2h1m6.1 -0.1h1m4.8 0.2h1m1.3 0.2h1m2.8 -0.6h1m0.9 0.2h1m-0.1 0.2h1m0.3 0.1h1m0.2 -0.3h1m-0.1 0.3h1m-0.1 0h1m2.3 0h1m0.6 -0.4h1m-0.2 0.1h1m0.2 0.2h1m0.8 0.1h1m0.3 -0.3h1m0.3 0.4h1m0.8 -0.4h1m1 -0.1h1m-0.2 0.4h1m0.4 -0.2h1m-0.3 0.1h1m1 -0.3h1m1 0.2h1m0.1 0.2h1m-0.1 -0.2h1m-0.3 0.3h1m0.3 -0.3h1m1.2 0.1h1m1.8 -0.2h1m0.2 0.2h1m-0.3 -0.3h1m-86.8 1.2h1m8 0.1h1m6.6 -0.3h1m5.4 0.2h1m5.9 -0.3h1m-0.1 0.4h1m7 -0.2h1m2.4 -0.1h1m0.6 0h1m1.3 0.4h1m-0.3 0.1h1m5.8 -0.6h1m0.4 0.6h1m0.1 -0.2h1m0.9 -0.3h1m1.9 0.4h1m0.9 -0.2h1m-0.1 -0.3h1m0.1 0.1h1m-0.2 0.1h1m0.5 -0.1h1m0.7 0h1m1.2 0.4h1m0.2 -0.3h1m-0.6 0.4h1m1.6 -0.2h1m3.8 0.1h1m0.9 -0.4h1m0.9 0.1h1m1.9 0.1h1m-86.5 1.2h1m1.6 -0.2h1m24 0h1m2.2 0.1h1m4 -0.3h1m2.7 0.4h1m0.1 -0.4h1m0.2 0.4h1m-0.3 0h1m0.1 -0.2h1m1.1 0h1m-0.3 -0.2h1m0.2 0.4h1m-0.1 -0.4h1m2.2 0.4h1m-0.3 -0.5h1m0.6 0.4h1m-0.3 0h1m-0.1 -0.1h1m-0.2 -0.2h1m0.4 0.3h1m0 0.2h1m-0.1 -0.6h1m0.1 0.1h1m0.1 -0.1h1m-0.4 0.1h1m0.1 0.3h1m2.1 -0.1h1m-0.2 -0.1h1m0.5 0.4h1m-0.3 -0.1h1m-0.2 -0.5h1m1 0.6h1m0.2 -0.4h1m2.1 0.1h1m-0.1 -0.3h1m6 0.3h1m6.2 -0.1h1m0.7 -0.1h1m-90.9 1h1m6.8 0.1h1m6.4 0h1m0.9 -0.2h1m10.7 0h1m1.1 0.3h1m2 0h1m-0.1 -0.1h1m0.4 0.2h1m2.6 0.1h1m0.3 -0.5h1m0.1 0.2h1m2.9 0.2h1m0.1 -0.2h1m0.1 0.2h1m-0.2 0h1m-0.1 -0.1h1m-0.1 0h1m0 -0.1h1m0.2 0.3h1m0.9 0h1m-0.2 -0.4h1m0.1 0.3h1m0.4 -0.1h1m-0.4 0.2h1m0.1 -0.2h1m1.3 0h1m-0.5 -0.2h1m0.2 0.3h1m0.2 0h1m-0.4 -0.1h1m0.3 0.1h1m-0.1 -0.3h1m-0.1 0.2h1m1 -0.1h1m-0.2 -0.2h1m0.4 0.1h1m0.1 0.4h1m3 -0.2h1m-65.1 0.9h1m12 0.3h1m1.6 0h1m3.5 -0.4h1m0 0.3h1m-0.3 -0.3h1m1 0.4h1m2.2 0.1h1m3 -0.1h1m2.8 -0.3h1m0.3 0h1m-0.5 0.4h1m1 -0.4h1m0.4 0.3h1m0.1 -0.2h1m-0.1 0h1m-0.1 -0.2h1m-0.2 0h1m1.1 0.4h1m0.3 -0.2h1m1.5 -0.1h1m0.5 -0.1h1m0.5 0h1m0.4 0.5h1m-0.2 -0.3h1m1 0.1h1m1 -0.1h1m1.2 -0.1h1m2.8 -0.1h1m0.3 0h1m7.1 0.4h1m-90.4 0.7h1m-0.2 0.3h1m2.5 0h1m11.7 0h1m11 -0.2h1m4 -0.3h1m6.8 0.5h1m0.5 -0.5h1m-0.2 0.5h1m1.3 -0.4h1m-0.2 0h1m-0.4 0.1h1m0.4 0.1h1m0.8 0.1h1m0.3 -0.2h1m-0.5 0.1h1m0.6 -0.3h1m-0.3 0.6h1m-0.1 -0.4h1m0.9 -0.1h1m0.4 0.3h1m0.7 -0.4h1m0.3 0.2h1m-0.1 -0.1h1m0.9 0.4h1m0.8 0h1m0.1 -0.3h1m0.1 0.3h1m3 -0.3h1m0.1 -0.2h1m0 0.2h1m-0.2 0h1m-52.7 1h1m4 0.2h1m0.5 -0.3h1m1.2 0.3h1m0 -0.1h1m0 0.1h1m0.1 -0.3h1m-0.2 0h1m1 0.2h1m3 -0.2h1m0.4 0h1m0.1 0.1h1m0 -0.2h1m-0.3 0.6h1m1.2 -0.1h1m-0.5 0h1m0.6 -0.3h1m-0.3 0h1m0 0h1m0.2 0.4h1m0.9 -0.5h1m-0.3 0.3h1m0.5 -0.3h1m-0.1 0.4h1m-0.4 0h1m0.4 0h1m0.5 -0.3h1m0.4 0.3h1m-0.1 -0.5h1m1 0.5h1m1.9 0h1m0.1 -0.1h1m0 -0.1h1m0.2 -0.1h1m-0.4 -0.2h1m2.9 0.4h1m2.1 -0.4h1m4.1 0.3h1m-57.7 1.1h1m0.6 0h1m8.1 -0.2h1m0.4 0.1h1m0.7 -0.1h1m0.2 0.1h1m0.5 -0.1h1m0.1 -0.1h1m1.3 0.2h1m1.2 0.3h1m-0.1 -0.2h1m0 -0.3h1m-0.5 0h1m2.4 0.4h1m2.1 -0.2h1m-0.3 -0.2h1m1.9 0.4h1m1.4 -0.1h1m-0.1 -0.2h1m1 0.2h1m1.6 0.2h1m1.2 -0.3h1m-0.1 -0.1h1m1.1 -0.1h1m2.9 0.3h1m0.3 -0.4h1m2.6 0.6h1m-69.6 0.9h1m2 0h1m2.8 0h1m4.8 -0.3h1m0.2 0.4h1m0.1 -0.1h1m4.2 -0.3h1m0.1 0.2h1m-0.3 -0.3h1m0.3 0.3h1m0.6 -0.2h1m-0.1 0.3h1m0.4 0h1m-0.4 -0.4h1m0 0.2h1m1.5 -0.3h1m-0.1 0.3h1m1.7 0h1m0 -0.2h1m0.3 0.1h1m-0.4 -0.1h1m0.4 0.2h1m0.9 -0.2h1m-0.4 0.5h1m1.3 0h1m0 -0.2h1m-0.2 0.2h1m2.2 -0.3h1m1.2 -0.3h1m1 0.6h1m0.8 -0.4h1m8.3 -0.1h1m-0.1 0.4h1m-0.2 -0.2h1m-83.9 1h1m6.6 0.1h1m3.3 0.2h1m5 -0.5h1m3.9 0.2h1m9.9 0.2h1m5.5 -0.1h1m1.9 -0.1h1m-0.3 -0.1h1m0.9 0h1m0.2 0.1h1m1.8 0h1m2.1 0h1m1 -0.1h1m0.1 0.3h1m1.9 -0.1h1m0.2 -0.1h1m3.7 -0.2h1m0.3 0.3h1m3.1 -0.1h1m0 0.2h1m0.1 -0.1h1m6.8 0.2h1m0.1 -0.3h1m2.8 0.3h1m-66.1 0.5h1m13.9 -0.1h1m-0.1 0.5h1m3 0.1h1m0.3 -0.4h1m0.3 0.2h1m0.7 0.1h1m0 -0.1h1m1.9 -0.2h1m1.1 0.1h1m0 -0.1h1m-0.1 0.2h1m0.4 -0.1h1m-0.5 0.1h1m2.3 -0.3h1m-0.2 0.3h1m0.2 -0.1h1m0.1 0h1m-0.2 -0.1h1m0.8 0.3h1m0.3 -0.3h1m-0.2 0h1m0.4 -0.1h1m-0.1 0.3h1m8.7 0.1h1m2.2 -0.1h1m4.8 -0.2h1m-57.9 1.2h1m-0.1 -0.1h1m3.8 0.3h1m3.1 -0.3h1m0.2 0.1h1m0 -0.1h1m0.1 0.2h1m0.8 -0.4h1m0.3 0.2h1m0.5 -0.2h1m0 0.3h1m0.6 -0.3h1m-0.5 0h1m1.5 0.4h1m-0.3 -0.4h1m0.9 0.3h1m0 -0.3h1m-0.1 0.5h1m2.4 0h1m0 -0.2h1m0 -0.4h1m-0.4 0.6h1m0.4 -0.3h1m-0.2 -0.2h1m0 0.2h1m0.8 -0.3h1m1.1 0.5h1m0 -0.1h1m1 0.2h1m0.1 -0.3h1m-0.1 0.2h1m13.1 0h1m-93.9 0.8h1m0.7 -0.3h1m7.3 0.1h1m7.7 0.3h1m10.1 -0.1h1m3 -0.2h1m2.1 0.3h1m1.9 0.2h1m0 -0.5h1m-0.1 0.3h1m2.3 0h1m-0.2 0.1h1m0.9 -0.3h1m0.3 0h1m0.9 0.2h1m-0.2 -0.4h1m-0.1 0.6h1m0.4 -0.1h1m0 0.1h1m2.2 -0.1h1m-0.3 -0.1h1m0 -0.3h1m1.2 0.5h1m-0.4 -0.2h1m2.2 0h1m1.3 -0.1h1m1.6 -0.2h1m-0.1 0.2h1m0.1 -0.2h1m4.3 -0.1h1m-0.3 0.6h1m-61.8 0.6h1m15.7 0.4h1m0.4 -0.6h1m0.6 0.2h1m0.4 0h1m1.6 0.1h1m0.4 0.1h1m0 0h1m-0.3 0h1m0.4 -0.3h1m-0.5 0.4h1m0.4 -0.2h1m-0.3 -0.1h1m0 -0.1h1m-0.2 0.4h1m0.3 -0.5h1m1.9 0.1h1m0.2 0.3h1m-0.1 0.2h1m0.2 -0.6h1m-0.1 0.1h1m-0.4 0.3h1m0.4 -0.2h1m1.7 0.1h1m-0.1 0.3h1m0.6 -0.3h1m-0.5 -0.1h1m0.5 -0.2h1m2.5 0h1m4 0.2h1m1.3 0.2h1m0.1 -0.2h1m2.8 0.4h1m-83.8 0.5h1m4.7 0.4h1m12.1 0h1m2.2 -0.3h1m-0.2 0h1m5.7 0.3h1m6.4 -0.5h1m0 0.2h1m-0.3 0.3h1m2.9 -0.1h1m0.4 0h1m-0.1 -0.1h1m0.1 0h1m-0.2 0.1h1m0 0.1h1m2.2 -0.4h1m-0.3 0.4h1m0.1 0.1h1m0 -0.4h1m0.2 0.4h1m1.2 -0.1h1m-0.6 -0.3h1m0.5 0.3h1m0 0.1h1m-0.5 -0.5h1m0.3 0.1h1m0 -0.1h1m-0.2 -0.1h1m0.4 0.5h1m-0.3 -0.1h1m0 0.1h1m6.4 0h1m-0.5 -0.1h1m4.1 -0.2h1m0.9 0.4h1m-53 0.5h1m1.4 0.1h1m-0.3 0.3h1m0.8 -0.1h1m0.5 0.1h1m2.6 -0.5h1m0.2 0.3h1m0.8 -0.2h1m0.5 0.4h1m-0.1 0.1h1m-0.4 -0.6h1m1.1 0.5h1m0 -0.3h1m2.1 0.3h1m0 0.1h1m-0.1 -0.2h1m-0.1 0h1m0.3 -0.1h1m0 -0.3h1m-0.2 0.5h1m0.9 -0.3h1m0.4 0.2h1m0.5 0.1h1m1.2 0h1m1.4 -0.2h1m-0.2 0.1h1m0 0.1h1m1 -0.1h1m0.1 -0.2h1m2.1 -0.1h1m-0.1 -0.1h1m5.9 0.5h1m-53.9 0.7h1m1.7 0.1h1m0.2 0.3h1m5.8 -0.1h1m3.1 -0.1h1m0 -0.1h1m0.8 0.2h1m1.5 -0.2h1m-0.3 -0.2h1m0.3 0.2h1m-0.3 -0.3h1m-0.2 0.3h1m1 0h1m0.4 -0.2h1m2.1 0.1h1m-0.6 0.3h1m0.3 -0.4h1m0.1 0h1m0.1 0.1h1m-0.2 0.3h1m0.2 -0.2h1m-0.5 -0.1h1m1.6 0h1m3.8 0.1h1m0.1 -0.2h1m5.9 0.5h1m0.8 -0.1h1m-75.7 0.6h1m10.9 0.1h1m9.9 0.3h1m0.3 -0.5h1m2.8 0.4h1m-0.4 0.2h1m2.2 -0.3h1m-0.1 -0.2h1m0.1 0h1m1.4 0.4h1m-0.4 -0.4h1m2.2 0.4h1m1.8 -0.3h1m0 0.3h1m-0.2 0.1h1m3.3 -0.5h1m-0.2 0.3h1m5.1 0.1h1m3.9 -0.2h1m0 0h1m7.2 -0.3h1m-74.2 1.6h1m13.5 -0.1h1m14.7 -0.4h1m2.8 0.5h1m3.4 -0.5h1m0 0.3h1m0.9 0h1m2 0h1m0.8 -0.3h1m-0.2 -0.1h1m0.1 0.3h1m3.2 0.1h1m0.8 0.1h1m0.5 0h1m-0.1 -0.4h1m2 0.5h1m0.7 -0.3h1m7.2 -0.2h1m8 0.2h1m-0.2 0.2h1m-40.1 0.8h1m0.3 -0.2h1m3.7 0.3h1m2.1 0.2h1m4.2 -0.4h1m-0.3 0.1h1m0.1 0h1m2.1 -0.1h1m0.2 0.2h1m-0.1 -0.1h1m0.2 -0.1h1m3 0.1h1m-0.4 0.1h1m0.4 -0.1h1m0 0h1m5.5 0h1m5.2 -0.1h1m-88.7 1.2h1m27.8 -0.1h1m-0.1 -0.1h1m5.8 0.2h1m0.5 -0.1h1m12.6 -0.2h1m1 0.5h1m1.2 -0.3h1m-0.2 -0.1h1m5 0.1h1m8.1 0.1h1" stroke="#8e8e8e" stroke-width="0.8" fill="none"/>
<path d="M43.50,361.50C44.58,361.42 47.95,361.48 50.00,361.00C52.05,360.52 54.53,359.68 55.80,358.60C57.07,357.52 57.58,356.27 57.60,354.50C57.62,352.73 56.28,350.58 55.90,348.00C55.52,345.42 55.07,341.83 55.30,339.00C55.53,336.17 56.27,332.97 57.30,331.00C58.33,329.03 60.08,327.28 61.50,327.20C62.92,327.12 64.78,328.53 65.80,330.50C66.82,332.47 67.43,336.08 67.60,339.00C67.77,341.92 67.25,345.45 66.80,348.00C66.35,350.55 64.90,352.67 64.90,354.30C64.90,355.93 65.70,356.97 66.80,357.80C67.90,358.63 69.63,359.00 71.50,359.30C73.37,359.60 75.75,359.60 78.00,359.60C80.25,359.60 82.17,359.23 85.00,359.30C87.83,359.37 92.00,359.52 95.00,360.00C98.00,360.48 100.50,361.22 103.00,362.20C105.50,363.18 107.78,364.85 110.00,365.90C112.22,366.95 114.47,367.72 116.30,368.50C118.13,369.28 120.57,369.72 121.00,370.60C121.43,371.48 120.03,372.57 118.90,373.80C117.77,375.03 116.23,376.85 114.20,378.00C112.17,379.15 109.43,380.12 106.70,380.70C103.97,381.28 100.27,381.15 97.80,381.50C95.33,381.85 93.67,381.70 91.90,382.80C90.13,383.90 88.68,386.17 87.20,388.10C85.72,390.03 83.95,392.12 83.00,394.40C82.05,396.68 81.75,400.57 81.50,401.80L43.50,401.80Z" fill="#fff" stroke="none"/>
<path d="M133.30,318.50C133.30,319.65 133.06,320.88 132.64,321.94C132.21,323.00 131.54,324.05 130.75,324.86C129.97,325.68 128.95,326.38 127.93,326.81C126.90,327.25 125.71,327.50 124.60,327.50C123.49,327.50 122.30,327.25 121.27,326.81C120.25,326.38 119.23,325.68 118.45,324.86C117.66,324.05 116.99,323.00 116.56,321.94C116.14,320.88 115.90,319.65 115.90,318.50C115.90,317.35 116.14,316.12 116.56,315.06C116.99,314.00 117.66,312.95 118.45,312.14C119.23,311.32 120.25,310.62 121.27,310.19C122.30,309.75 123.49,309.50 124.60,309.50C125.71,309.50 126.90,309.75 127.93,310.19C128.95,310.62 129.97,311.32 130.75,312.14C131.54,312.95 132.21,314.00 132.64,315.06C133.06,316.12 133.30,317.35 133.30,318.50Z" fill="#fff" stroke="none"/>
<path d="M43.50,361.50C44.58,361.42 47.95,361.48 50.00,361.00C52.05,360.52 54.53,359.68 55.80,358.60C57.07,357.52 57.58,356.27 57.60,354.50C57.62,352.73 56.28,350.58 55.90,348.00C55.52,345.42 55.07,341.83 55.30,339.00C55.53,336.17 56.27,332.97 57.30,331.00C58.33,329.03 60.08,327.28 61.50,327.20C62.92,327.12 64.78,328.53 65.80,330.50C66.82,332.47 67.43,336.08 67.60,339.00C67.77,341.92 67.25,345.45 66.80,348.00C66.35,350.55 64.90,352.67 64.90,354.30C64.90,355.93 65.70,356.97 66.80,357.80C67.90,358.63 69.63,359.00 71.50,359.30C73.37,359.60 75.75,359.60 78.00,359.60C80.25,359.60 82.17,359.23 85.00,359.30C87.83,359.37 92.00,359.52 95.00,360.00C98.00,360.48 100.50,361.22 103.00,362.20C105.50,363.18 107.78,364.85 110.00,365.90C112.22,366.95 114.47,367.72 116.30,368.50C118.13,369.28 120.57,369.72 121.00,370.60C121.43,371.48 120.03,372.57 118.90,373.80C117.77,375.03 116.23,376.85 114.20,378.00C112.17,379.15 109.43,380.12 106.70,380.70C103.97,381.28 100.27,381.15 97.80,381.50C95.33,381.85 93.67,381.70 91.90,382.80C90.13,383.90 88.68,386.17 87.20,388.10C85.72,390.03 83.95,392.12 83.00,394.40C82.05,396.68 81.75,400.57 81.50,401.80" fill="none" stroke="#505050" stroke-width="0.65" stroke-linejoin="round"/>
<path d="M72.00,364.00C73.38,364.58 77.77,366.83 80.30,367.50C82.83,368.17 84.73,368.45 87.20,368.00C89.67,367.55 92.63,365.25 95.10,364.80C97.57,364.35 100.15,364.60 102.00,365.30C103.85,366.00 105.50,367.50 106.20,369.00C106.90,370.50 107.35,373.23 106.20,374.30C105.05,375.37 102.03,375.30 99.30,375.40C96.57,375.50 92.08,374.72 89.80,374.90C87.52,375.08 87.18,374.82 85.60,376.50C84.02,378.18 81.80,382.02 80.30,385.00C78.80,387.98 77.40,391.60 76.60,394.40C75.80,397.20 75.68,400.57 75.50,401.80" fill="none" stroke="#505050" stroke-width="0.65" stroke-linejoin="round"/>
<path d="M63.80,373.93C63.78,374.08 63.72,374.22 63.67,374.35C63.61,374.48 63.55,374.61 63.48,374.73C63.41,374.85 63.34,374.97 63.27,375.08C63.19,375.20 63.11,375.32 63.01,375.43C62.92,375.54 62.82,375.65 62.70,375.75C62.58,375.85 62.45,375.94 62.31,376.01C62.17,376.08 62.01,376.13 61.85,376.16C61.69,376.18 61.51,376.18 61.35,376.16C61.19,376.13 61.03,376.08 60.89,376.01C60.75,375.94 60.62,375.85 60.50,375.75C60.38,375.65 60.28,375.54 60.19,375.43C60.09,375.32 60.01,375.20 59.93,375.08C59.86,374.97 59.79,374.85 59.72,374.73C59.65,374.61 59.59,374.48 59.53,374.35C59.48,374.22 59.42,374.08 59.40,373.93C59.37,373.78 59.35,373.63 59.35,373.48C59.36,373.32 59.39,373.16 59.45,373.02C59.51,372.88 59.60,372.73 59.70,372.61C59.80,372.49 59.93,372.39 60.06,372.31C60.20,372.22 60.35,372.16 60.50,372.11C60.64,372.06 60.80,372.04 60.95,372.01C61.09,371.99 61.24,371.99 61.38,371.98C61.53,371.97 61.67,371.97 61.82,371.98C61.96,371.99 62.11,371.99 62.25,372.01C62.40,372.04 62.56,372.06 62.70,372.11C62.85,372.16 63.00,372.22 63.14,372.31C63.27,372.39 63.40,372.49 63.50,372.61C63.60,372.73 63.69,372.88 63.75,373.02C63.81,373.16 63.84,373.32 63.85,373.48C63.85,373.63 63.83,373.78 63.80,373.93Z" fill="none" stroke="#505050" stroke-width="0.65" stroke-linejoin="round"/>
<path d="M66.22,374.62C66.16,374.92 66.05,375.22 65.93,375.50C65.82,375.78 65.68,376.03 65.54,376.29C65.40,376.55 65.25,376.79 65.09,377.03C64.93,377.28 64.76,377.52 64.56,377.76C64.37,377.99 64.16,378.23 63.91,378.43C63.66,378.63 63.39,378.83 63.09,378.98C62.79,379.12 62.45,379.24 62.12,379.29C61.78,379.34 61.42,379.34 61.08,379.29C60.75,379.24 60.41,379.12 60.11,378.98C59.81,378.83 59.54,378.63 59.29,378.43C59.04,378.23 58.83,377.99 58.64,377.76C58.44,377.52 58.27,377.28 58.11,377.03C57.95,376.79 57.80,376.55 57.66,376.29C57.52,376.03 57.38,375.78 57.27,375.50C57.15,375.22 57.04,374.92 56.98,374.62C56.92,374.32 56.88,373.99 56.90,373.67C56.91,373.35 56.98,373.01 57.10,372.71C57.22,372.41 57.40,372.11 57.61,371.86C57.83,371.61 58.10,371.39 58.38,371.22C58.66,371.04 58.98,370.91 59.29,370.81C59.60,370.71 59.92,370.65 60.23,370.61C60.54,370.56 60.85,370.55 61.15,370.54C61.45,370.52 61.75,370.52 62.05,370.54C62.35,370.55 62.66,370.56 62.97,370.61C63.28,370.65 63.60,370.71 63.91,370.81C64.22,370.91 64.54,371.04 64.82,371.22C65.10,371.39 65.37,371.61 65.59,371.86C65.80,372.11 65.98,372.41 66.10,372.71C66.22,373.01 66.29,373.35 66.30,373.67C66.32,373.99 66.28,374.32 66.22,374.62Z" fill="none" stroke="#505050" stroke-width="0.65" stroke-linejoin="round"/>
<path d="M68.64,375.31C68.54,375.77 68.37,376.22 68.20,376.65C68.03,377.07 67.81,377.46 67.60,377.85C67.38,378.24 67.16,378.61 66.91,378.99C66.66,379.36 66.41,379.73 66.11,380.08C65.81,380.44 65.49,380.80 65.12,381.11C64.74,381.42 64.32,381.73 63.86,381.94C63.41,382.16 62.89,382.34 62.38,382.42C61.88,382.50 61.32,382.50 60.82,382.42C60.31,382.34 59.79,382.16 59.34,381.94C58.88,381.73 58.46,381.42 58.08,381.11C57.71,380.80 57.39,380.44 57.09,380.08C56.79,379.73 56.54,379.36 56.29,378.99C56.04,378.61 55.82,378.24 55.60,377.85C55.39,377.46 55.17,377.07 55.00,376.65C54.83,376.22 54.66,375.77 54.57,375.31C54.47,374.85 54.41,374.34 54.44,373.86C54.47,373.38 54.56,372.86 54.75,372.40C54.93,371.95 55.20,371.49 55.53,371.11C55.86,370.73 56.27,370.39 56.70,370.13C57.12,369.86 57.61,369.66 58.08,369.51C58.55,369.35 59.04,369.27 59.52,369.20C59.99,369.13 60.45,369.11 60.91,369.09C61.38,369.07 61.82,369.07 62.29,369.09C62.75,369.11 63.21,369.13 63.68,369.20C64.16,369.27 64.65,369.35 65.12,369.51C65.59,369.66 66.08,369.86 66.50,370.13C66.93,370.39 67.34,370.73 67.67,371.11C68.00,371.49 68.27,371.95 68.45,372.40C68.64,372.86 68.73,373.38 68.76,373.86C68.79,374.34 68.73,374.85 68.64,375.31Z" fill="none" stroke="#505050" stroke-width="0.65" stroke-linejoin="round"/>
<path d="M71.05,376.00C70.92,376.62 70.70,377.22 70.46,377.79C70.23,378.36 69.95,378.89 69.66,379.42C69.37,379.94 69.07,380.44 68.74,380.94C68.40,381.44 68.06,381.94 67.66,382.41C67.26,382.89 66.83,383.38 66.33,383.79C65.82,384.21 65.25,384.62 64.64,384.91C64.03,385.20 63.34,385.44 62.65,385.55C61.97,385.65 61.23,385.65 60.55,385.55C59.86,385.44 59.17,385.20 58.56,384.91C57.95,384.62 57.38,384.21 56.88,383.79C56.37,383.38 55.94,382.89 55.54,382.41C55.14,381.94 54.80,381.44 54.46,380.94C54.13,380.44 53.83,379.94 53.54,379.42C53.25,378.89 52.97,378.36 52.74,377.79C52.50,377.22 52.28,376.62 52.15,376.00C52.02,375.38 51.94,374.70 51.98,374.05C52.02,373.40 52.15,372.71 52.39,372.10C52.64,371.48 53.01,370.87 53.45,370.36C53.88,369.85 54.45,369.40 55.02,369.04C55.59,368.68 56.24,368.41 56.88,368.21C57.51,368.00 58.17,367.89 58.80,367.79C59.43,367.70 60.06,367.67 60.68,367.65C61.30,367.62 61.90,367.62 62.52,367.65C63.14,367.67 63.77,367.70 64.40,367.79C65.03,367.89 65.69,368.00 66.33,368.21C66.96,368.41 67.61,368.68 68.18,369.04C68.75,369.40 69.32,369.85 69.75,370.36C70.19,370.87 70.56,371.48 70.81,372.10C71.05,372.71 71.18,373.40 71.22,374.05C71.26,374.70 71.18,375.38 71.05,376.00Z" fill="none" stroke="#505050" stroke-width="0.65" stroke-linejoin="round"/>
<path d="M73.47,376.69C73.31,377.47 73.02,378.23 72.73,378.94C72.44,379.66 72.08,380.32 71.72,380.98C71.36,381.64 70.98,382.26 70.56,382.89C70.14,383.52 69.72,384.14 69.21,384.74C68.71,385.34 68.17,385.95 67.53,386.48C66.90,387.00 66.19,387.51 65.42,387.88C64.65,388.25 63.78,388.54 62.92,388.68C62.07,388.81 61.13,388.81 60.28,388.68C59.42,388.54 58.55,388.25 57.78,387.88C57.01,387.51 56.30,387.00 55.67,386.48C55.03,385.95 54.49,385.34 53.99,384.74C53.48,384.14 53.06,383.52 52.64,382.89C52.22,382.26 51.84,381.64 51.48,380.98C51.12,380.32 50.76,379.66 50.47,378.94C50.18,378.23 49.89,377.47 49.74,376.69C49.58,375.91 49.47,375.06 49.52,374.24C49.57,373.43 49.73,372.56 50.04,371.79C50.35,371.01 50.81,370.25 51.36,369.61C51.91,368.97 52.62,368.40 53.33,367.95C54.05,367.50 54.88,367.16 55.67,366.90C56.46,366.64 57.29,366.50 58.08,366.39C58.88,366.27 59.66,366.23 60.44,366.20C61.22,366.17 61.98,366.17 62.76,366.20C63.54,366.23 64.32,366.27 65.12,366.39C65.91,366.50 66.74,366.64 67.53,366.90C68.32,367.16 69.15,367.50 69.87,367.95C70.58,368.40 71.29,368.97 71.84,369.61C72.39,370.25 72.85,371.01 73.16,371.79C73.47,372.56 73.63,373.43 73.68,374.24C73.73,375.06 73.62,375.91 73.47,376.69Z" fill="none" stroke="#505050" stroke-width="0.65" stroke-linejoin="round"/>
<path d="M75.88,377.38C75.69,378.32 75.34,379.23 74.99,380.09C74.64,380.95 74.21,381.75 73.78,382.54C73.34,383.34 72.89,384.09 72.38,384.84C71.88,385.60 71.37,386.35 70.76,387.07C70.15,387.79 69.50,388.53 68.74,389.16C67.98,389.79 67.12,390.41 66.19,390.85C65.27,391.29 64.22,391.65 63.19,391.81C62.16,391.97 61.04,391.97 60.01,391.81C58.98,391.65 57.93,391.29 57.01,390.85C56.08,390.41 55.22,389.79 54.46,389.16C53.70,388.53 53.05,387.79 52.44,387.07C51.83,386.35 51.32,385.60 50.82,384.84C50.31,384.09 49.86,383.34 49.42,382.54C48.99,381.75 48.56,380.95 48.21,380.09C47.86,379.23 47.51,378.32 47.32,377.38C47.13,376.44 47.00,375.42 47.06,374.44C47.12,373.45 47.32,372.41 47.69,371.48C48.06,370.55 48.62,369.62 49.28,368.85C49.94,368.08 50.79,367.40 51.65,366.86C52.52,366.32 53.51,365.92 54.46,365.60C55.41,365.29 56.41,365.12 57.37,364.98C58.33,364.84 59.27,364.79 60.21,364.75C61.14,364.72 62.06,364.72 62.99,364.75C63.93,364.79 64.87,364.84 65.83,364.98C66.79,365.12 67.79,365.29 68.74,365.60C69.69,365.92 70.68,366.32 71.55,366.86C72.41,367.40 73.26,368.08 73.92,368.85C74.58,369.62 75.14,370.55 75.51,371.48C75.88,372.41 76.08,373.45 76.14,374.44C76.20,375.42 76.07,376.44 75.88,377.38Z" fill="none" stroke="#505050" stroke-width="0.65" stroke-linejoin="round"/>
<path d="M78.30,378.07C78.07,379.17 77.67,380.23 77.26,381.24C76.85,382.25 76.34,383.18 75.84,384.11C75.33,385.03 74.79,385.91 74.21,386.79C73.62,387.68 73.02,388.56 72.31,389.40C71.60,390.24 70.84,391.10 69.95,391.84C69.06,392.58 68.05,393.30 66.97,393.81C65.89,394.33 64.67,394.75 63.46,394.94C62.26,395.12 60.94,395.12 59.74,394.94C58.53,394.75 57.31,394.33 56.23,393.81C55.15,393.30 54.14,392.58 53.25,391.84C52.36,391.10 51.60,390.24 50.89,389.40C50.18,388.56 49.58,387.68 48.99,386.79C48.41,385.91 47.87,385.03 47.36,384.11C46.86,383.18 46.35,382.25 45.94,381.24C45.53,380.23 45.13,379.17 44.91,378.07C44.68,376.97 44.53,375.78 44.60,374.63C44.67,373.48 44.90,372.26 45.33,371.17C45.77,370.08 46.42,369.00 47.19,368.10C47.97,367.20 48.96,366.40 49.97,365.77C50.98,365.13 52.14,364.67 53.25,364.30C54.37,363.93 55.53,363.74 56.65,363.57C57.77,363.41 58.88,363.35 59.97,363.31C61.07,363.27 62.13,363.27 63.23,363.31C64.32,363.35 65.43,363.41 66.55,363.57C67.67,363.74 68.83,363.93 69.95,364.30C71.06,364.67 72.22,365.13 73.23,365.77C74.24,366.40 75.23,367.20 76.01,368.10C76.78,369.00 77.43,370.08 77.87,371.17C78.30,372.26 78.53,373.48 78.60,374.63C78.67,375.78 78.52,376.97 78.30,378.07Z" fill="none" stroke="#505050" stroke-width="0.65" stroke-linejoin="round"/>
<ellipse cx="124.6" cy="318.5" rx="8.7" ry="9" transform="rotate(20 124.6 318.5)" fill="none" stroke="#505050" stroke-width="0.65"/>
<ellipse cx="124.7" cy="317.3" rx="6.3" ry="6.5" transform="rotate(20 124.7 317.3)" fill="none" stroke="#505050" stroke-width="0.65"/>
<ellipse cx="124.8" cy="316.5" rx="4.4" ry="4.5" transform="rotate(0 124.8 316.5)" fill="none" stroke="#505050" stroke-width="0.65"/>
<ellipse cx="124.5" cy="316" rx="2.5" ry="2.6" transform="rotate(0 124.5 316)" fill="none" stroke="#505050" stroke-width="0.65"/>
<path d="M44.3,325 L44.3,401" stroke="#333" stroke-width="1.5" fill="none"/>
<path d="M44.6,326 C46.3,325 46.6,327 46.6,332 L46.6,398" stroke="#555" stroke-width="0.7" fill="none"/>
<path d="M45,400.8 L90,400.8" stroke="#333" stroke-width="1.8"/>
</g>
<clipPath id="clp4"><rect x="148.4" y="305.3" width="96.6" height="96.5"/></clipPath>
<g clip-path="url(#clp4)">
<path d="M156.4 312.5h1m76.7 -0.4h1m-67.9 1.2h1m49.3 0.1h1m7 0.2h1m-46 0.4h1m48 0.1h1m-75.5 1.5h1m6.5 -0.5h1m6.6 0.2h1m1 0.1h1m7.4 -0.3h1m15.9 0.3h1m27.1 -0.2h1m12.7 0h1m0.8 0h1m-66.7 0.9h1m-0.1 0.4h1m8.8 -0.3h1m-32.5 1h1m60.6 0.2h1m5 -0.3h1m10.1 0.1h1m-76 1.2h1m3.9 -0.3h1m5 0.2h1m5.3 -0.1h1m5.1 -0.1h1m30.8 0.1h1m5.7 0.3h1m4.6 0.1h1m10.5 -0.5h1m-82.6 1.2h1m5.1 -0.2h1m-0.1 -0.1h1m8 0.3h1m-0.3 0.1h1m1.2 -0.2h1m9 0.1h1m4.1 0.1h1m15 -0.4h1m2.7 0.1h1m6.4 0h1m0.6 0.1h1m4.3 0.4h1m2.9 -0.3h1m7 -0.2h1m0.1 0h1m5 0.1h1m-92.1 1.2h1m14.1 0h1m4 -0.1h1m2.6 0.3h1m2 -0.6h1m15.1 0.5h1m20.9 -0.3h1m5.4 0h1m1.8 -0.1h1m-65.3 1.1h1m5.2 0.3h1m0.2 -0.1h1m2 -0.1h1m-0.4 -0.1h1m3.1 -0.2h1m0.2 0.1h1m0.2 0.1h1m-0.2 0.3h1m1.1 -0.5h1m1.2 0.5h1m0.6 0h1m10.3 -0.1h1m0.5 -0.2h1m0.4 0.1h1m11.8 0.2h1m14.2 -0.2h1m0.8 0.1h1m2.2 0h1m2 -0.1h1m-85.8 0.8h1m-0.3 0.3h1m0.1 -0.2h1m7.2 0h1m0.8 0.2h1m0.9 -0.1h1m0.9 0.2h1m3.4 -0.3h1m10.8 -0.1h1m0 0.2h1m37.1 -0.3h1m1.5 0.5h1m9.4 -0.4h1m-0.3 0h1m0.9 0h1m-87.4 1.1h1m3.6 0h1m8.8 0h1m1.1 -0.1h1m2.2 0.3h1m0.3 -0.1h1m-0.5 -0.2h1m0.3 0h1m-0.3 0.4h1m1.1 0h1m2.9 0.1h1m0.2 -0.5h1m-0.2 0.4h1m1.1 -0.1h1m0.1 -0.2h1m5.2 -0.1h1m1.9 0h1m-0.4 0.2h1m0.5 -0.2h1m3.9 0.4h1m5.8 -0.2h1m14.2 -0.1h1m6.6 0.1h1m0.2 -0.3h1m1.2 0.3h1m1.6 0.1h1m-82.5 0.8h1m1 0.2h1m1.6 -0.2h1m0.4 0.3h1m0 -0.2h1m1.8 -0.1h1m0 0.4h1m4.3 0h1m0.6 -0.3h1m0.3 0.1h1m0.9 -0.1h1m0.1 -0.2h1m-0.3 0.1h1m3.2 0h1m6.6 0h1m10 -0.2h1m6.1 0.1h1m0.4 0.1h1m-0.4 -0.1h1m6 0.1h1m4 0h1m3.9 0.2h1m-67.4 1.1h1m0 -0.2h1m0.7 0h1m0.3 0h1m0.7 0.1h1m0.7 -0.2h1m1.1 0.3h1m1.3 -0.5h1m-0.2 0h1m2.8 0.5h1m1.5 -0.4h1m-0.3 0.5h1m2.1 -0.5h1m-0.3 0.4h1m4.1 -0.3h1m1.9 0.4h1m20.5 -0.2h1m4.5 0.1h1m1.4 -0.3h1m0.7 0.2h1m0 -0.3h1m0.1 0.2h1m4 -0.3h1m6.3 0h1m-87 1.2h1m2.6 0.2h1m0 0.2h1m1.4 -0.1h1m-0.2 -0.4h1m2 0.2h1m-0.2 0.1h1m3.5 -0.4h1m-0.3 0.2h1m0.3 0.2h1m-0.3 0.1h1m-0.1 0h1m-0.1 -0.3h1m1.2 -0.1h1m0.8 0.4h1m0.3 -0.2h1m2.6 0.1h1m0.5 -0.2h1m2.7 0.1h1m5 -0.1h1m9 0.1h1m2.4 -0.1h1m4.6 0h1m0 0.2h1m6.3 0.2h1m0.6 -0.6h1m0.4 0.1h1m2.1 0.2h1m6.6 -0.3h1m1.1 0.4h1m7.1 -0.4h1m-95.9 1.2h1m1 -0.1h1m0 0.1h1m3.7 0.2h1m1.3 0h1m-0.2 -0.3h1m0.1 0.3h1m0.1 -0.2h1m-0.3 -0.2h1m2.3 0.4h1m0.1 -0.3h1m-0.1 0.1h1m-0.2 0h1m1.7 0.1h1m0.6 -0.3h1m-0.5 0.2h1m1.4 0.1h1m0 0.2h1m-0.3 -0.4h1m-0.2 -0.1h1m0.3 0h1m0.3 0.1h1m-0.4 0.5h1m1 -0.4h1m0.3 0h1m1.9 0.2h1m-0.1 0h1m2.7 0h1m0.1 -0.1h1m0.2 0.1h1m2.7 0.1h1m3.6 0h1m-0.4 -0.1h1m0 -0.2h1m0.8 0.3h1m3.2 -0.3h1m0.2 0h1m5.2 0.2h1m-0.5 -0.1h1m-0.1 0h1m0 0.2h1m1.3 -0.2h1m0.8 0.3h1m2.3 -0.4h1m3.8 0.1h1m0.2 0.1h1m-86.2 0.9h1m1.1 0.1h1m2 -0.2h1m0.2 0.1h1m1 0.3h1m0 -0.1h1m-0.3 -0.2h1m-0.1 -0.1h1m0.3 0.1h1m1 0h1m0.6 -0.1h1m0.3 0.2h1m-0.1 0h1m1.9 0h1m0.1 -0.3h1m0 0.1h1m-0.1 0h1m0.4 0.2h1m0.7 -0.2h1m2.3 0.1h1m-0.4 0.2h1m0.2 0h1m-0.3 -0.2h1m0.1 -0.3h1m-0.1 0.1h1m1.5 0h1m-0.2 0.2h1m-0.1 0.3h1m1.2 -0.1h1m-0.1 0.1h1m0.3 -0.4h1m1.6 0.1h1m0.2 -0.3h1m-0.3 0.4h1m2.1 -0.2h1m3.1 -0.2h1m20 0.1h1m1.2 -0.1h1m0.8 0.1h1m4.2 0.3h1m5.8 0.1h1m-87.2 0.8h1m3.2 0.1h1m0.3 -0.1h1m-0.5 0.2h1m0.4 0h1m-0.2 -0.4h1m0.2 0.1h1m-0.4 0h1m0.4 0.1h1m-0.1 0.2h1m0.1 0h1m0 -0.5h1m4 0.5h1m-0.5 0.1h1m0.4 -0.6h1m0.1 0.2h1m-0.4 0.2h1m-0.1 0h1m0.4 -0.1h1m1.1 -0.1h1m-0.1 0.1h1m-0.3 -0.2h1m0.5 0.3h1m0.5 -0.3h1m2.4 0.1h1m1.6 0.3h1m0.3 0h1m0.8 -0.5h1m0.4 0.1h1m1.7 0h1m0.3 0.2h1m1.8 -0.3h1m1.1 0.4h1m4.7 -0.3h1m2.1 0.1h1m-0.3 -0.2h1m0.5 0.3h1m1.1 0.2h1m-0.4 -0.4h1m0.4 0h1m0.7 0.1h1m-0.2 0h1m1.2 0.3h1m4.7 -0.1h1m4.3 0.1h1m0.1 0h1m5.7 0.1h1m-94.8 0.7h1m1.1 0.2h1m2.2 0h1m-0.4 -0.4h1m0.3 0.3h1m-0.3 0.2h1m1.1 -0.5h1m-0.3 0h1m0.3 -0.1h1m-0.1 0.4h1m1.3 -0.3h1m0.1 0.2h1m0.6 -0.1h1m0.3 0.2h1m0 -0.4h1m-0.1 0.5h1m0 -0.5h1m0 0.2h1m0.1 0.1h1m-0.4 0.2h1m0.2 -0.5h1m-0.1 0.3h1m0.4 -0.1h1m0.8 0.3h1m-0.3 0h1m0.3 0.1h1m-0.3 -0.1h1m1.5 -0.1h1m-0.5 0h1m8.5 0h1m1.8 -0.4h1m0.1 0.1h1m5 0.2h1m0 0.1h1m-0.1 -0.1h1m13.8 0.2h1m0.1 -0.4h1m0 0.5h1m2.1 0h1m1.7 0h1m2.1 -0.3h1m6.2 -0.2h1m-90.3 1.5h1m1.4 -0.1h1m-0.2 -0.4h1m0.9 0.1h1m0.4 -0.1h1m-0.4 0h1m0 0.2h1m0.3 -0.2h1m-0.3 0h1m0.2 0.3h1m-0.4 0.2h1m0.4 -0.5h1m-0.2 0.3h1m0.4 -0.1h1m-0.5 0.1h1m0.1 -0.4h1m-0.2 0h1m0.5 0.6h1m-0.1 -0.3h1m-0.1 0.2h1m1.1 -0.1h1m-0.3 -0.1h1m0.1 0h1m0.1 0h1m2 0h1m1.2 0h1m-0.4 0.1h1m0 0.1h1m0.1 -0.4h1m3.9 0.3h1m3 -0.1h1m2 0.1h1m-0.1 0.1h1m1.5 -0.1h1m7.1 -0.1h1m1.9 0.2h1m0.5 -0.1h1m6.3 -0.3h1m2.1 0.4h1m2.8 -0.1h1m2.9 0h1m1.1 -0.2h1m4.2 -0.2h1m3.1 0.1h1m-94.3 0.9h1m-0.1 0.4h1m0.2 -0.2h1m-0.1 0.2h1m1.1 0h1m1.8 -0.1h1m0.1 -0.1h1m0.1 0.2h1m0.1 0h1m0 0h1m0.2 -0.3h1m-0.2 0.2h1m0.7 0.2h1m0.3 -0.2h1m0.1 0h1m2.5 0h1m1.4 0h1m0 0.2h1m-0.3 -0.3h1m0.2 -0.2h1m1.7 0.4h1m0.4 -0.3h1m-0.3 0.4h1m-0.1 -0.2h1m1.2 0.2h1m0.2 -0.1h1m-0.1 0.2h1m0.3 -0.1h1m-0.3 -0.2h1m1.9 0.2h1m0.3 -0.4h1m4.9 0.4h1m4 -0.2h1m-0.1 0.1h1m8 -0.4h1m0.1 0.3h1m1.9 0h1m0.3 0.3h1m0.6 -0.4h1m1.9 0.2h1m6 -0.3h1m0.9 0.3h1m3.4 -0.1h1m3.7 0.1h1m-94 0.7h1m1.4 0.3h1m-0.3 0.1h1m3.1 -0.4h1m-0.1 0.2h1m1.2 0.2h1m0.9 0h1m-0.1 -0.2h1m4.3 0.1h1m-0.3 -0.4h1m0.1 0.2h1m-0.1 0h1m-0.1 0.3h1m0 -0.2h1m0 0.2h1m1.2 0h1m1.1 -0.4h1m-0.2 -0.1h1m0.2 0.4h1m1 -0.2h1m0.2 0.3h1m0.5 -0.5h1m0.1 0.2h1m-0.1 0.1h1m1.5 0h1m-0.2 0.2h1m-0.3 -0.1h1m0.3 -0.3h1m5.2 0.2h1m8.8 -0.1h1m1.9 -0.2h1m2.2 0.4h1m3.8 -0.2h1m1.9 -0.2h1m2.1 0.5h1m3.2 -0.4h1m-0.4 0.1h1m5.1 -0.2h1m3.1 0.1h1m-91 1.4h1m2.1 -0.1h1m1.8 -0.2h1m0.3 -0.1h1m-0.2 0.1h1m-0.1 -0.1h1m0.1 0.3h1m1.1 -0.3h1m4.1 0.3h1m1 0.1h1m0.1 -0.1h1m0.8 -0.3h1m-0.3 0.2h1m1.1 0.1h1m0.1 -0.1h1m0 0h1m-0.2 -0.1h1m0.1 -0.1h1m1.1 0.4h1m-0.1 -0.3h1m0.3 0h1m-0.1 0.2h1m0.6 -0.3h1m0.6 0h1m-0.2 0h1m2.1 0.4h1m3 -0.1h1m0.9 -0.4h1m0.1 0h1m1.5 0.1h1m0.1 0.3h1m1.3 0.1h1m0.7 -0.4h1m0.5 0.1h1m7.5 -0.2h1m4.5 0.6h1m0.6 -0.1h1m0.8 -0.4h1m3 0.2h1m1.2 0.2h1m1.3 0h1m1.1 0.1h1m-84.2 0.6h1m0.8 0.1h1m0.2 0h1m1 0.1h1m2 0.1h1m1.1 -0.2h1m0 0.3h1m-0.3 -0.4h1m0.3 -0.1h1m0.8 0.1h1m-0.1 -0.2h1m-0.2 0.3h1m0.3 -0.2h1m0 0.3h1m-0.3 -0.4h1m0.4 0.2h1m-0.1 0.3h1m-0.1 -0.3h1m2.1 0.1h1m0.3 0h1m2.4 0.2h1m1.3 -0.5h1m0.1 0.1h1m0.1 0.2h1m1 -0.1h1m-0.2 0.4h1m6.2 -0.3h1m2.1 -0.1h1m0 0.1h1m0.5 -0.3h1m2 0.3h1m6 0.1h1m2.5 0.1h1m-0.2 -0.4h1m7.9 0.2h1m3.1 0.2h1m2.2 0h1m6.7 -0.5h1m-89.9 1.3h1m-0.3 -0.1h1m1.9 0.4h1m0.3 -0.4h1m-0.2 0.3h1m0 -0.3h1m0 -0.2h1m0.3 0.6h1m0.9 -0.1h1m0.3 -0.3h1m-0.3 0.1h1m0.3 0.3h1m-0.4 -0.3h1m0.2 0.3h1m-0.2 -0.1h1m1.9 -0.2h1m0.4 0.1h1m0 -0.3h1m0 0.4h1m0.9 -0.4h1m-0.1 0.2h1m0 0.2h1m-0.1 -0.3h1m0.1 0.3h1m-0.2 -0.1h1m0.3 -0.1h1m-0.2 -0.2h1m0.3 0h1m0 0.2h1m-0.2 -0.2h1m0 0.3h1m0.2 0.1h1m-0.2 -0.4h1m1.2 -0.1h1m3 0.4h1m2.5 -0.2h1m0.2 0.3h1m4 -0.5h1m1 0.6h1m14.8 -0.1h1m7.3 -0.2h1m2.2 -0.1h1m4.7 -0.1h1m-92 0.9h1m1.2 0.6h1m0.2 -0.6h1m0.4 0.3h1m0.5 0h1m1.6 0.3h1m0.1 -0.1h1m0 -0.3h1m0 0.3h1m0.4 0.1h1m0.8 -0.2h1m1 -0.4h1m0 0.6h1m0 -0.1h1m1.1 -0.1h1m0 0h1m0.6 -0.1h1m3 0.1h1m0 -0.1h1m1.4 0.2h1m-0.4 0h1m-0.1 0.1h1m0 -0.4h1m0.5 0h1m0.7 0.1h1m2.2 0h1m0.2 0.3h1m-0.2 -0.3h1m15 -0.1h1m8 0.1h1m-67.4 0.9h1m0.5 -0.1h1m-0.4 0.5h1m2.4 -0.2h1m3.1 -0.3h1m0.8 0h1m-0.3 0.1h1m0.5 0.3h1m-0.3 -0.2h1m0.1 -0.2h1m1.2 0.4h1m1.8 -0.4h1m0 0.4h1m-0.3 -0.3h1m0.3 0h1m-0.1 -0.1h1m0 0.1h1m1.2 0.3h1m-0.3 -0.4h1m2.3 0h1m-0.1 0.3h1m-0.1 0h1m0.8 -0.3h1m-0.1 0h1m0.5 0.4h1m5.6 -0.3h1m0 -0.2h1m2 0.4h1m0.2 -0.4h1m-0.1 0.3h1m2.2 0.1h1m2 -0.4h1m2.2 0.4h1m0.4 -0.3h1m2.1 -0.1h1m0.3 0h1m0.9 0.3h1m3.9 0.1h1m6.1 0.1h1m0.2 0h1m1 -0.3h1m9.9 -0.2h1m0.7 0.4h1m-95.8 0.6h1m1 0.4h1m1.1 -0.4h1m-0.1 0.5h1m1 0h1m0 -0.4h1m-0.1 0h1m-0.1 0.2h1m0.1 0.2h1m0.2 -0.5h1m0.1 0.1h1m-0.2 0.2h1m-0.1 -0.2h1m4.4 0h1m-0.2 0.2h1m0.8 0h1m2.3 -0.2h1m-0.4 0.1h1m0.4 0.1h1m0.7 0.1h1m0.1 -0.2h1m-0.2 0.3h1m0.3 -0.4h1m-0.1 0h1m0.3 0.1h1m0.6 -0.1h1m-0.2 0.1h1m0.2 0.3h1m2.3 -0.1h1m-0.4 -0.1h1m0.1 0h1m0.3 -0.1h1m0.1 -0.1h1m-0.5 0.5h1m1.3 -0.2h1m1.1 -0.3h1m5.6 0.4h1m4.5 -0.4h1m1.9 0h1m1.9 0.3h1m4.1 -0.1h1m-0.4 0.1h1m2.2 0.2h1m7.7 -0.1h1m1.2 -0.2h1m-87.8 0.8h1m1.8 0.1h1m0.1 0.2h1m-0.2 -0.4h1m3 0.5h1m0.4 -0.3h1m0 0.1h1m-0.2 0.2h1m2 0h1m0.2 0.1h1m1.7 -0.1h1m0 -0.4h1m1.3 0.5h1m0.9 -0.1h1m-0.2 0.1h1m-0.1 0h1m1 0h1m0.2 -0.2h1m-0.3 0.1h1m0.1 -0.1h1m0 0.1h1m0.3 0h1m1.9 0h1m-0.2 -0.2h1m0.4 -0.2h1m0.6 0.4h1m-0.1 -0.2h1m1 -0.1h1m1.3 -0.2h1m0.1 0.6h1m-0.1 -0.1h1m4.9 -0.1h1m2 0h1m1.1 0h1m2.3 0.2h1m7.7 -0.5h1m-0.2 0.1h1m1.1 0.4h1m0.2 -0.1h1m8.1 -0.2h1m7.7 0.2h1m-96.2 1h1m1.3 -0.2h1m1.3 0.3h1m-0.1 -0.4h1m0 0.1h1m0.9 0.1h1m1.1 -0.2h1m1.1 0.3h1m1.8 0h1m-0.3 0h1m0.4 -0.1h1m-0.2 -0.1h1m1 0.1h1m-0.2 -0.2h1m1.3 0.3h1m-0.1 0h1m0 -0.2h1m0.3 0h1m0.6 0.1h1m0 0.1h1m0.1 -0.3h1m0.2 0h1m-0.5 0.1h1m0.1 0h1m0 0.2h1m0.2 0h1m2 -0.3h1m0 0.4h1m0.2 0h1m2.1 -0.3h1m-0.6 0h1m0.1 0.3h1m0.1 -0.3h1m-0.1 -0.3h1m0.2 0.3h1m-0.1 -0.2h1m1.3 -0.1h1m1 0.6h1m0.5 -0.2h1m1.5 -0.2h1m-0.2 0.3h1m-0.1 -0.1h1m1.3 0.2h1m3.9 -0.1h1m7 -0.1h1m5.8 -0.3h1m2.1 0.3h1m5.9 -0.3h1m4.2 0.1h1m-95.9 0.9h1m3 0.2h1m0 0.1h1m0 -0.2h1m0.7 0.1h1m0.1 -0.1h1m1.2 0.4h1m1.1 -0.1h1m0 -0.1h1m-0.1 -0.3h1m0 0.4h1m-0.2 0h1m0 -0.4h1m-0.2 0.1h1m0.2 0.1h1m1 0.2h1m-0.1 0.1h1m0.2 -0.3h1m0.1 0.1h1m-0.4 -0.3h1m0 -0.1h1m2.1 0.5h1m0.4 0h1m0.8 0h1m0.6 0h1m0.5 -0.5h1m2.9 0.3h1m0.1 -0.3h1m-0.4 0.3h1m4.2 0.1h1m2.1 -0.1h1m3.8 0h1m0.9 -0.3h1m1.1 0.4h1m0.8 -0.3h1m1.2 0.4h1m5.2 0h1m1.8 0h1m0.2 -0.2h1m-0.2 -0.1h1m0 -0.1h1m7.4 0.1h1m0.6 0h1m8 -0.1h1m-94.9 1.4h1m1.2 -0.5h1m0.9 0.5h1m0.1 -0.4h1m-0.3 0h1m0.1 0.1h1m-0.1 0.1h1m2.1 0.2h1m1 -0.1h1m0.2 0h1m-0.4 0h1m0.3 -0.2h1m-0.4 -0.2h1m0.1 0.2h1m0.3 0.4h1m1.2 -0.5h1m-0.4 0h1m2.1 0.1h1m3 -0.2h1m1.2 0.1h1m1.1 0.4h1m-0.3 -0.5h1m0.1 0.1h1m0.9 0.5h1m0 -0.3h1m-0.1 0h1m0.2 0.1h1m-0.4 -0.3h1m0.1 0.5h1m1.1 -0.2h1m0.8 -0.1h1m2.5 0.3h1m2.1 -0.3h1m-0.2 -0.3h1m1.8 0.2h1m-0.1 0.4h1m1.2 -0.1h1m0.2 -0.2h1m3 -0.3h1m5.9 0.5h1m-0.1 -0.2h1m9.2 0.1h1m1 -0.2h1m-0.3 -0.1h1m-0.1 -0.1h1m-86.9 1.1h1m0.2 0.1h1m2.8 0h1m0.3 0.2h1m-0.1 0h1m-0.1 -0.2h1m0.9 0.1h1m0.2 0.2h1m-0.3 -0.1h1m0.2 0h1m-0.1 0h1m1.1 -0.3h1m0.1 0h1m1.1 0.5h1m-0.2 -0.3h1m0 0.3h1m1 -0.3h1m2.1 0h1m-0.2 -0.3h1m-0.2 0.2h1m1.6 0.2h1m-0.3 0h1m2.1 -0.4h1m2.1 0.2h1m-0.2 0.1h1m2.8 0h1m0 -0.2h1m-0.1 0.3h1m0.5 -0.4h1m-0.4 0.1h1m0.1 0h1m0 0.2h1m0.2 0.1h1m1.9 -0.2h1m0.1 0.4h1m0.2 -0.6h1m1.7 0.1h1m0.3 0.3h1m0.5 0h1m1.2 -0.2h1m0.8 -0.1h1m3.9 0.4h1m1.4 -0.3h1m0.2 0.3h1m-0.2 0.1h1m1.9 -0.2h1m0.1 0h1m1.9 -0.2h1m2.8 -0.2h1m7.2 0.5h1m1.2 -0.3h1m-0.5 0.3h1m-93.9 1.1h1m0.2 -0.4h1m1 0.2h1m1.9 0h1m0.2 0.1h1m-0.3 -0.3h1m1.5 -0.1h1m-0.5 -0.1h1m1.3 0.4h1m-0.3 0.1h1m0.1 -0.4h1m0 0.5h1m0 -0.6h1m-0.1 0.5h1m0.3 -0.3h1m-0.3 0h1m1.1 -0.1h1m0 0.3h1m2.9 0.1h1m1.4 -0.3h1m5.6 0.4h1m0.9 -0.3h1m2.5 0.2h1m-0.1 -0.3h1m-0.2 0.1h1m1.1 0.2h1m-0.1 -0.3h1m0.3 0.1h1m-0.5 0.2h1m0.5 -0.1h1m1.9 -0.1h1m4.1 0h1m0.6 0.2h1m1.2 -0.2h1m0.1 0.1h1m0 -0.2h1m2.7 0.2h1m1.4 0.1h1m-0.5 -0.1h1m0.3 -0.2h1m1.1 0h1m1.1 0h1m-0.2 0h1m0 0.2h1m1.2 -0.2h1m-0.4 0.1h1m0 0.2h1m1.4 0h1m4.7 -0.3h1m0 0.1h1m0.9 0h1m-95.5 0.7h1m0.5 0.3h1m1.3 0.2h1m0.9 0h1m0.1 0h1m-0.2 0.1h1m0.1 -0.6h1m0.2 0.6h1m-0.5 -0.1h1m0 -0.2h1m1.6 0.1h1m0.6 0h1m0.2 -0.3h1m1.2 -0.1h1m-0.6 0.3h1m1.1 0h1m0.2 0.2h1m0.3 -0.2h1m-0.3 0.1h1m-0.1 -0.3h1m0.2 0.3h1m-0.4 -0.1h1m0.5 0.1h1m-0.3 0h1m0.3 0.1h1m0.8 -0.3h1m-0.1 0.3h1m-0.1 -0.4h1m-0.1 0.5h1m1.3 -0.4h1m0.2 -0.2h1m-0.2 0.3h1m-0.1 -0.2h1m0.8 -0.1h1m0.4 0.4h1m1.2 0.2h1m0 -0.5h1m-0.3 0.1h1m0.1 0.1h1m2.7 0.2h1m0.4 -0.1h1m0.5 -0.1h1m0.3 0.2h1m0.9 -0.4h1m0.2 0.3h1m1 0.2h1m3.1 -0.3h1m2.5 0.1h1m5.1 0.2h1m0.1 -0.4h1m0.2 0.3h1m-0.4 -0.4h1m0.4 0.5h1m-0.4 -0.2h1m1.5 -0.1h1m3.1 0.1h1m1.4 0.1h1m0.4 -0.3h1m0.1 0.2h1m-0.3 0h1m-0.1 0.1h1m1.2 -0.3h1m-94.9 1.4h1m0.2 -0.3h1m0.8 -0.2h1m1.7 0.1h1m0 0.2h1m0 -0.1h1m0 -0.1h1m0.9 0h1m3 0.4h1m0.3 -0.2h1m-0.1 -0.3h1m-0.1 0h1m0.1 -0.1h1m0.4 0.4h1m0.7 0.1h1m0 -0.3h1m0.7 0.3h1m0.2 0.1h1m-0.2 0h1m0.3 -0.2h1m0.1 -0.1h1m0.1 -0.1h1m0 0h1m-0.5 0h1m1 0.4h1m0.1 -0.5h1m0.4 0.1h1m1.8 -0.1h1m2.1 0.4h1m0.8 -0.4h1m1.4 0.3h1m-0.3 -0.1h1m1.1 0h1m2 0.2h1m0 0.1h1m-0.1 0h1m0.1 -0.3h1m4.7 0.1h1m0.4 -0.2h1m-0.4 0.2h1m0.3 -0.3h1m0.7 0.5h1m0 -0.2h1m0.2 -0.3h1m-0.2 0.2h1m0.2 -0.1h1m1 0.1h1m1.2 -0.2h1m0.6 0.2h1m1.5 -0.3h1m4 0.5h1m0.7 0h1m0.8 -0.2h1m1.2 -0.1h1m1.7 0h1m-91 0.9h1m3.1 -0.1h1m0 0.2h1m0.3 0h1m-0.2 -0.1h1m0.3 0.2h1m-0.4 0.3h1m0 -0.3h1m0.2 -0.1h1m2.8 0h1m1.4 -0.2h1m0.6 0.2h1m1.3 0.4h1m1 -0.3h1m0.2 0.2h1m0.8 0.1h1m0.1 -0.5h1m1.7 0.4h1m0.1 -0.4h1m0.2 0.2h1m3.1 0.2h1m0 -0.4h1m-0.5 0.2h1m0.2 0h1m0.9 -0.1h1m2.3 0h1m1.7 0.4h1m1 -0.1h1m0.9 -0.4h1m4.5 0.3h1m-0.4 0h1m-0.1 -0.2h1m1.4 0h1m1.9 0.1h1m0.7 0h1m0.4 0.3h1m0 0h1m-0.3 -0.4h1m-0.2 0.4h1m1.3 -0.3h1m-0.2 -0.1h1m0 -0.1h1m0 0.3h1m2.3 -0.4h1m-0.2 0.5h1m0.3 -0.3h1m0.9 0.2h1m0.8 -0.3h1m-0.2 0.1h1m3.4 0.2h1m0.9 -0.1h1m0.3 0.3h1m-0.5 -0.5h1m-94.7 1.4h1m3.1 0h1m0.7 -0.3h1m2 -0.1h1m0.3 0.1h1m0.8 0.1h1m-0.1 0.2h1m0.3 0h1m0.6 0h1m1 -0.4h1m3.4 0.3h1m2 0h1m2 -0.3h1m-0.3 0.5h1m0.3 -0.5h1m-0.4 0.4h1m0.3 -0.1h1m0 -0.4h1m0.7 0.5h1m0.1 -0.3h1m0.3 0.3h1m-0.1 0h1m-0.3 -0.3h1m0 -0.2h1m2.4 0.6h1m-0.1 -0.2h1m1.9 -0.1h1m1.1 0.1h1m1 0.1h1m1 0h1m0.7 -0.3h1m2.5 0.2h1m-0.1 -0.2h1m1.1 0h1m1.6 -0.1h1m0.1 -0.1h1m-0.2 0h1m0.3 0.4h1m-0.2 -0.3h1m0.1 0.2h1m-0.2 -0.1h1m0.3 -0.1h1m1 0h1m0 0.2h1m0.9 0.2h1m1.2 -0.3h1m1.5 -0.1h1m0.1 0.2h1m0.1 0.2h1m0.1 -0.5h1m1.7 0.4h1m-86.5 1.1h1m1.6 -0.4h1m1.4 0h1m-0.1 0.1h1m0.6 0.1h1m2 0h1m1.4 0.2h1m0.7 -0.1h1m0.4 0h1m0.6 0h1m1.2 -0.1h1m0.1 -0.2h1m3.1 0.3h1m-0.2 -0.3h1m-0.2 0.4h1m2.2 -0.4h1m0 0.5h1m-0.2 -0.1h1m0.4 -0.1h1m-0.4 -0.3h1m0.4 0.1h1m-0.4 0.2h1m0.3 0h1m1 0h1m3.9 0h1m-0.2 -0.2h1m0.3 -0.1h1m0.7 0.1h1m1.4 0.4h1m1 -0.5h1m-0.4 0.4h1m0 0h1m0 -0.4h1m0.5 0h1m-0.5 0h1m0.4 0.4h1m-0.2 0h1m1.3 -0.1h1m-0.3 0h1m-0.3 0.1h1m0.2 0.1h1m1 -0.2h1m-0.1 -0.2h1m-0.1 0.2h1m0.3 0.1h1m2 0h1m-0.2 -0.1h1m0.2 0.1h1m-0.1 -0.3h1m0.9 0h1m0.3 0h1m-0.1 -0.1h1m0 0.3h1m-0.2 -0.1h1m2.3 0h1m-0.1 -0.3h1m2 0.2h1m-92.1 1.2h1m3.4 -0.1h1m0.9 0h1m-0.3 0.2h1m0.2 0h1m-0.1 -0.1h1m0.3 -0.4h1m-0.1 0.2h1m3 0.2h1m0.8 -0.1h1m0.1 0.3h1m1.1 -0.2h1m-0.2 -0.4h1m-0.1 0.2h1m0.2 0h1m-0.2 0.3h1m0.2 -0.4h1m0 0.1h1m-0.3 -0.1h1m0.2 0.4h1m0 -0.2h1m1.8 -0.2h1m0 0.1h1m0.4 0.3h1m-0.4 -0.2h1m0.1 0h1m0.2 0.1h1m-0.1 -0.3h1m2.1 0.5h1m-0.3 -0.1h1m0 0.1h1m1.1 -0.5h1m0.1 0.3h1m-0.2 -0.2h1m1.5 -0.1h1m-0.4 0.3h1m0 0.2h1m1.2 -0.3h1m3.8 0h1m-0.2 0h1m0.5 -0.1h1m0.5 0.1h1m0.1 0.2h1m1.2 -0.3h1m0.2 0.2h1m-0.4 -0.4h1m0.1 0.5h1m-0.1 -0.5h1m1.1 0h1m0.1 0.6h1m-0.1 -0.6h1m0.1 0.3h1m0.8 -0.3h1m0 0.3h1m0.1 -0.1h1m1 0.4h1m0 -0.4h1m0.2 0.2h1m1.1 -0.3h1m0.9 0.4h1m1.9 -0.3h1m-0.1 -0.1h1m0.2 0.3h1m0.7 -0.1h1m0 -0.1h1m0.3 0.2h1m-96.1 0.8h1m1.8 0h1m0.1 0.4h1m1.3 -0.4h1m-0.3 0.4h1m1.4 0h1m-0.3 -0.5h1m-0.2 0.4h1m0.1 -0.3h1m-0.1 -0.2h1m0.3 0.5h1m0 0h1m0.9 -0.5h1m-0.3 0.1h1m0.3 0.3h1m0.2 -0.2h1m1.1 0.3h1m-0.4 -0.5h1m0.1 0.2h1m3.7 0h1m0 0.3h1m0.3 -0.4h1m1.2 0.4h1m-0.4 -0.5h1m1.1 0h1m0.1 0.5h1m1.2 0h1m0.7 -0.5h1m1.2 0.2h1m0.1 0.1h1m1 0h1m-0.4 0h1m0.3 -0.1h1m1.1 0.1h1m1.8 0h1m2.7 0h1m1.4 -0.3h1m1 0.1h1m-0.1 0.4h1m-0.2 0h1m0.4 -0.2h1m-0.1 -0.2h1m0.7 0.1h1m0 0h1m0.3 0.2h1m0.1 0.1h1m-0.1 0h1m-0.2 -0.3h1m0.1 0.2h1m0 0.1h1m1.7 -0.4h1m1.1 0h1m0.1 0.5h1m1.4 -0.6h1m-0.4 0.3h1m0.1 -0.2h1m2.1 0.2h1m0.8 0h1m-0.1 0.1h1m2.1 0.2h1m2.1 0h1m-94.2 0.7h1m1.4 0h1m0 0h1m2.7 0h1m1.1 0.1h1m-0.1 -0.2h1m-0.1 -0.1h1m0.5 0.4h1m0.9 -0.4h1m0 0.2h1m0 0.1h1m-0.4 -0.2h1m3 0.1h1m0.3 0.1h1m2.9 0h1m1 0h1m-0.2 0.1h1m0.4 -0.4h1m-0.1 0.2h1m-0.1 -0.3h1m1.1 0.2h1m0.7 0h1m1.3 0.3h1m0.7 0h1m1.2 0h1m0.1 0.1h1m0.2 -0.6h1m-0.2 0.2h1m-0.1 0h1m2.2 0.3h1m-0.2 -0.3h1m2.1 0.3h1m1 -0.4h1m-0.3 0.2h1m1 0h1m0.3 0.2h1m-0.1 0h1m2 -0.4h1m1.1 0.1h1m0.1 0.1h1m0.7 0h1m0.2 0.2h1m0.1 -0.4h1m0 0h1m-0.3 0.1h1m2.8 0h1m0.5 0.1h1m0.1 0.1h1m0 -0.1h1m-0.4 -0.1h1m1.9 0h1m-0.1 0.3h1m0.6 0h1m-0.3 0h1m-0.2 -0.2h1m0.3 0.2h1m-0.4 0h1m0.1 0.1h1m0 -0.5h1m1.3 0.2h1m-94 0.7h1m2.1 0.1h1m-0.3 0.2h1m3 -0.2h1m0.3 0.3h1m0.8 -0.1h1m1.3 -0.3h1m-0.1 0.6h1m-0.2 -0.3h1m0 0h1m0.2 -0.3h1m0.1 0.1h1m0.8 0.4h1m1.1 -0.4h1m-0.1 0.5h1m-0.3 -0.1h1m1 -0.4h1m0.5 -0.1h1m2.6 0.2h1m1.2 -0.1h1m5.9 0.1h1m0 0.3h1m3 -0.4h1m0.2 0.1h1m-0.5 0.1h1m0.4 0h1m1.6 0h1m0.6 0.2h1m-0.6 -0.3h1m2.4 0h1m1.9 -0.1h1m-0.1 0h1m1 0.3h1m0.4 -0.2h1m-0.4 0.2h1m0.3 -0.2h1m-0.2 -0.2h1m-0.1 0.5h1m0 -0.4h1m-0.2 0.3h1m0.1 0h1m0 -0.1h1m0.3 0.1h1m-0.2 0.1h1m-0.2 -0.1h1m0.3 -0.2h1m-0.2 0.1h1m0.9 0.2h1m0.5 -0.2h1m2.1 0h1m0.6 0h1m0.1 0.2h1m0.1 -0.3h1m-0.1 -0.2h1m0.1 0.4h1m-0.1 0h1m1 -0.2h1m0.1 0.1h1m-0.3 0.2h1m-89.7 1h1m6.1 -0.3h1m0.8 -0.2h1m0 0.5h1m0.1 -0.2h1m-0.3 -0.3h1m0 0h1m0.1 0.1h1m2.3 0.4h1m1.1 -0.2h1m-0.2 0.2h1m0.1 -0.5h1m-0.4 0.5h1m0.4 -0.2h1m0 0h1m-0.1 0h1m0.1 0.2h1m0 -0.2h1m0.8 0.2h1m-0.1 0h1m0.2 -0.3h1m1.9 0.1h1m0.2 0.1h1m0.9 0.1h1m1.7 -0.2h1m1.1 0.1h1m0.3 -0.1h1m-0.2 -0.1h1m1.9 0.3h1m3.4 0h1m-0.3 -0.5h1m2.3 0.1h1m0.7 0.5h1m0 -0.3h1m0.1 -0.1h1m-0.2 0.4h1m-0.1 -0.5h1m1.1 0.3h1m0.3 0.2h1m-0.4 -0.3h1m-0.1 0.1h1m0.6 0.1h1m-0.2 -0.5h1m-0.2 0.2h1m0.1 -0.2h1m-0.1 0.4h1m0.9 0.2h1m0 -0.3h1m2.4 -0.2h1m1.1 0.3h1m-0.5 -0.1h1m1 0.2h1m2.5 -0.2h1m2 -0.2h1m-0.5 0.4h1m-92.7 1h1m1.8 -0.1h1m0.4 -0.3h1m0.5 0.3h1m2.1 0.2h1m0.2 -0.5h1m-0.1 0.2h1m0 -0.1h1m0 -0.1h1m-0.3 0.2h1m0.4 0.2h1m0 -0.4h1m0.1 0.1h1m0.5 0.4h1m0.3 -0.3h1m0.2 -0.3h1m-0.3 0.1h1m0 0.1h1m1 -0.1h1m0.2 0.1h1m-0.2 -0.2h1m2.2 0.5h1m-0.1 0h1m0.8 -0.4h1m2.2 0.5h1m4 -0.1h1m0.8 -0.3h1m11.2 0.1h1m0.8 -0.3h1m0.5 0.4h1m-0.3 -0.2h1m0.8 0.3h1m1.4 -0.2h1m0.8 0h1m0.1 0h1m0 0.1h1m1.2 -0.2h1m0.7 0.3h1m-0.1 -0.1h1m-0.1 0.2h1m0.4 -0.2h1m1.7 0.1h1m1 0.1h1m1.3 -0.2h1m-0.3 -0.3h1m0 -0.1h1m0.9 0.2h1m0.1 0h1m-0.1 0.1h1m1.3 -0.2h1m1.9 0.1h1m-96.7 1.3h1m2.5 -0.3h1m0.2 -0.1h1m1.9 0.2h1m5.1 0.3h1m-0.3 -0.6h1m0.2 0.5h1m1 0h1m0.1 -0.2h1m0.3 0.2h1m-0.5 0h1m-0.1 -0.1h1m3.5 0.1h1m0.7 -0.3h1m0.8 -0.1h1m0.6 0.2h1m-0.3 -0.2h1m2 0.3h1m0.2 0.2h1m0.7 -0.1h1m4.3 -0.3h1m1 0.4h1m4.1 -0.2h1m-0.2 0.2h1m0 -0.3h1m-0.3 0.3h1m0.3 -0.2h1m4 -0.3h1m-0.3 0.1h1m0.2 0.1h1m2.8 0h1m0.5 0.2h1m0.5 -0.1h1m0 -0.1h1m1.4 0.1h1m0.7 -0.2h1m0.1 0.4h1m0.2 -0.5h1m1.9 0.3h1m-0.1 0.1h1m0.9 0.1h1m5 -0.4h1m1.1 0.3h1m0.1 0h1m-0.1 -0.5h1m0.3 0.2h1m-0.4 0.1h1m0.1 0.2h1m0.1 -0.3h1m-94.2 1.2h1m4.2 0.1h1m2.1 -0.1h1m-0.5 0.2h1m3.5 0h1m-0.5 -0.3h1m0.2 -0.1h1m5.1 -0.1h1m0.7 0.1h1m0 0.3h1m1.1 -0.1h1m0.3 0h1m-0.3 0h1m1.5 -0.2h1m-0.3 0.4h1m0.8 -0.4h1m2.1 -0.1h1m2.1 0.2h1m7 -0.1h1m2.9 0.2h1m1.3 0h1m3.8 -0.1h1m2.1 0.3h1m5 0h1m0.2 -0.4h1m-0.5 -0.2h1m4.4 0.1h1m-0.2 0.3h1m3 0h1m0.8 -0.2h1m0.9 -0.1h1m0.4 0h1m0 0.3h1m0.2 0.2h1m-0.5 -0.2h1m0.1 0.1h1m-0.2 -0.5h1m2.1 0.6h1m0.2 -0.1h1m-90.1 0.6h1m2 0.5h1m3 -0.1h1m3.1 -0.2h1m1.3 0h1m-0.2 -0.1h1m-0.2 0.3h1m0.1 -0.4h1m-0.2 0h1m3.2 0.4h1m1.9 -0.5h1m1.1 0.5h1m2.1 -0.1h1m1.9 0.2h1m-0.1 -0.6h1m0.2 0h1m-0.3 0.2h1m2.4 -0.1h1m2.7 0h1m0.1 0.1h1m4.3 0.1h1m1.5 0.3h1m3.2 -0.1h1m3.1 -0.3h1m0.6 -0.1h1m0.1 0.3h1m4 0.1h1m0.2 0h1m2.1 -0.5h1m0.9 0.4h1m0 -0.3h1m-0.3 0.3h1m1.1 -0.1h1m1.4 -0.2h1m-0.2 0h1m0 0.5h1m0.8 -0.5h1m0.4 -0.1h1m2.1 0.4h1m-0.2 -0.3h1m1.1 0h1m-93.3 1h1m3.1 0.1h1m-0.2 -0.2h1m-0.1 0.1h1m3.2 0.2h1m6.9 0.3h1m0.5 -0.3h1m0 0.3h1m1.4 -0.5h1m3.2 -0.1h1m0.1 0.2h1m0.2 -0.2h1m0.7 0.2h1m0.8 0.3h1m0.6 -0.3h1m8.8 0.1h1m5.1 -0.2h1m5.9 -0.1h1m0.1 0.4h1m4.9 -0.2h1m2.8 0h1m3.2 -0.1h1m0.2 0.3h1m-0.1 -0.3h1m2.9 0.2h1m-0.4 0h1m1.1 -0.1h1m0.5 0.2h1m2.7 0h1m0.2 -0.3h1m1.9 0.1h1m0.1 0.3h1m-91.2 0.6h1m2.7 0.4h1m2.2 -0.2h1m3 0.2h1m0 0.1h1m1.3 -0.3h1m0.6 -0.2h1m1.2 0.4h1m0 -0.3h1m1.2 -0.1h1m-0.3 0.1h1m0.1 -0.2h1m2 0.2h1m0 0.1h1m0.1 -0.3h1m4.9 0h1m3.3 0.2h1m2.5 0.2h1m0.1 0h1m3.3 0.1h1m-0.2 -0.4h1m1.8 0h1m7.3 0.2h1m-0.2 -0.1h1m8.1 0.3h1m-0.2 -0.5h1m0.1 0.4h1m3.1 0.1h1m4.7 -0.4h1m0.2 0.3h1m3.3 -0.1h1m0.7 0.1h1m0 -0.3h1m-0.1 0.4h1m-95.7 0.8h1m-0.4 -0.3h1m6.1 0.1h1m0.9 0.5h1m4.1 -0.4h1m0.3 -0.1h1m6 0h1m0.1 0.3h1m1.7 -0.2h1m1 -0.2h1m2.1 0.3h1m0.2 0.3h1m0.9 0h1m0.9 -0.1h1m1.7 0.1h1m6.2 -0.4h1m2 0.1h1m3 0h1m1.3 -0.1h1m10.5 0.2h1m2.3 -0.1h1m3 -0.1h1m1.3 -0.2h1m4.4 0.1h1m0.5 0.3h1m-0.3 -0.3h1m0.3 0.5h1m-0.2 -0.3h1m-0.2 0.3h1m0.2 -0.1h1m-0.1 0h1m0.3 0h1m0.9 0h1m-0.3 -0.4h1m0.3 0.5h1m-87.3 1h1m3 -0.3h1m3.3 -0.2h1m-0.3 0.1h1m2.3 -0.2h1m0.7 0.3h1m9.1 0.2h1m8.3 0h1m-0.3 -0.4h1m4.9 0.1h1m0.3 -0.2h1m0.2 0.1h1m2.8 0.1h1m0.7 -0.2h1m0.5 0.2h1m-0.5 0.4h1m3.1 -0.6h1m1.2 0.5h1m4.9 0h1m0.2 0.1h1m-0.3 -0.1h1m4.9 -0.2h1m0 0.3h1m2.1 -0.4h1m2.2 0.4h1m-0.1 -0.6h1m1.9 0h1m0.3 0.1h1m1 0.1h1m0.7 -0.1h1m-96 1.2h1m8.1 -0.2h1m-0.3 0.2h1m1.2 -0.1h1m2.8 0.1h1m0.2 -0.2h1m-0.2 0.3h1m0.6 -0.4h1m2.8 0.1h1m-0.3 0.2h1m2.4 0.2h1m-0.1 -0.1h1m1.8 0.2h1m1.2 -0.4h1m0.6 0.2h1m2.1 -0.2h1m6.3 0h1m2.8 0.4h1m0 -0.1h1m4.4 -0.2h1m1.6 0.2h1m2 -0.2h1m10 0.2h1m2.2 -0.3h1m0.9 0.1h1m2.9 -0.3h1m2.1 0.3h1m0 -0.3h1m1.9 0.5h1m1 0h1m0.9 -0.5h1m0.1 0.1h1m0.2 0.2h1m0.7 -0.2h1m-94 1h1m7.9 0.1h1m2.2 0.4h1m0.9 -0.3h1m0.1 -0.3h1m9 0.5h1m1 0.1h1m6.3 -0.5h1m5.7 0.3h1m0.1 -0.3h1m7.2 0.3h1m0.7 -0.2h1m2.3 0.2h1m-0.5 0.1h1m1.5 -0.5h1m6.7 0.1h1m-0.2 0.4h1m5.3 -0.3h1m2.9 0.1h1m5.3 0.3h1m-0.3 -0.2h1m0.2 -0.2h1m0.1 0.2h1m-0.4 0.2h1m0.1 -0.5h1m1.4 0.4h1m-0.5 -0.2h1m-92.9 1.3h1m2.9 -0.6h1m2.1 0.2h1m6.3 -0.1h1m2 0.3h1m3.6 -0.1h1m4.4 0h1m0.8 0.2h1m0 -0.5h1m0 0h1m3 0.2h1m2 -0.2h1m16 0h1m4.8 0.4h1m7 0.1h1m6.1 -0.5h1m2.4 0.2h1m3.4 0h1m2.6 0.1h1m-0.3 0h1m-0.2 0h1m0.1 0.2h1m0.1 0h1m-0.3 -0.5h1m0.4 0.5h1m-0.2 -0.1h1m-95 1.2h1m3.2 -0.4h1m1.8 0h1m8.2 0.1h1m2.7 0.2h1m8.2 0h1m1 -0.5h1m1 0.2h1m2 0.2h1m10.1 0.1h1m0 -0.2h1m6.1 0h1m24.8 0.3h1m1 -0.5h1m1 0.3h1m4.2 -0.2h1m-0.4 0.2h1m-90.5 1h1m5.7 -0.1h1m25 -0.2h1m-0.3 0.3h1m12.2 -0.4h1m6.4 0.4h1m7 -0.2h1m1.6 -0.1h1m6 0.1h1m7.3 0.2h1m0.5 -0.1h1m3 0.1h1m0.3 -0.3h1m0.2 0.1h1m-0.3 0.3h1m-0.2 -0.4h1m0.6 0h1m0.9 0.4h1m-45.2 0.6h1m13.8 0.1h1m6.2 -0.1h1m10.3 0.2h1m1.9 0h1m-0.3 0h1m1.1 -0.3h1m0 0.5h1m2.2 -0.1h1m-61.2 1.2h1m8 -0.4h1m-0.2 0h1m1.3 0.2h1m13.9 0h1m6.8 0.1h1m10.1 -0.2h1m3.3 -0.1h1m1 0.1h1m-0.2 0h1m0.2 -0.3h1m0.5 0.4h1m1 -0.2h1m0.1 0.2h1m0.2 -0.4h1m-88.9 1.2h1m10.9 0.1h1m1 -0.1h1m-0.2 0h1m16.4 0h1m15.7 0.1h1m7 0.1h1m3.8 -0.1h1m13.3 0h1m3.8 -0.3h1m0.5 0.3h1m-0.4 -0.2h1m0.1 0.2h1m1.1 -0.1h1m-0.1 0.2h1m0.7 0.2h1m-96.8 0.7h1m13.2 0.1h1m1.7 -0.2h1m0.4 0h1m4.7 0.1h1m1.9 0.1h1m6.4 -0.3h1m7.8 0.2h1m0.8 -0.2h1m5 0.3h1m5.5 -0.3h1m2.9 0.1h1m1.6 0.1h1m0.2 0h1m4.2 0.3h1m15.7 -0.2h1m-0.1 0h1m1 -0.2h1m-0.1 0.3h1m0.5 -0.2h1m-0.4 -0.1h1m1.5 0.3h1m-0.3 -0.4h1m-86.1 1.1h1m1.2 0.1h1m8 0.3h1m1.7 -0.1h1m14.2 -0.4h1m19.1 0.4h1m3.7 0h1m5.1 -0.1h1m0.4 0.1h1m2.8 -0.2h1m8.7 0.3h1m0.3 -0.1h1m-0.4 -0.2h1m0.5 -0.1h1m-0.3 0h1m-0.1 0.3h1m0.3 0h1m0.6 -0.3h1m0.3 0.1h1m0.2 0.1h1m-96.2 1.1h1m5.8 -0.1h1m18.9 -0.2h1m13.3 -0.1h1m20.2 0.2h1m3 -0.3h1m0.8 0.5h1m1.3 0.1h1m-0.3 -0.5h1m6.3 0.1h1m-0.1 0.2h1m6 0h1m-0.3 0h1m0.2 0.1h1m0 0h1m-0.4 -0.2h1m0.5 0.2h1m-0.4 -0.4h1m0.5 0h1m-0.6 0h1m0.1 0h1m-93.1 1.3h1m14.1 -0.3h1m10.1 0.5h1m2.1 -0.4h1m0.9 0.1h1m2.3 0h1m8.1 0.3h1m0.6 -0.1h1m10.1 -0.5h1m1.8 0.3h1m5.4 -0.1h1m0.1 0.1h1m1.8 0.1h1m0 -0.3h1m2.1 0.2h1m1.9 -0.2h1m8.1 0.5h1m-0.3 -0.5h1m1.3 0.4h1m0.1 -0.3h1m-0.5 0.3h1m0.4 -0.3h1m-0.4 0.3h1m-70.6 0.5h1m17.5 0.2h1m3.1 -0.1h1m1.1 0.4h1m0 -0.3h1m1.9 -0.1h1m1 -0.1h1m3 0.2h1m4.5 -0.1h1m2.7 0.2h1m0.3 -0.2h1m6.7 0.4h1m0.2 -0.1h1m0.6 -0.1h1m5.5 0.1h1m0 0h1m-0.4 -0.3h1m-0.1 -0.1h1m0.1 0.6h1m0.1 -0.1h1m-0.2 -0.1h1m0.4 -0.2h1m-0.1 0.3h1m-67 0.6h1m3.7 0.4h1m3.9 -0.1h1m8.1 -0.1h1m8.4 0.1h1m2.6 -0.1h1m3.1 -0.1h1m0.1 -0.2h1m-0.3 0.3h1m0.2 -0.3h1m15.8 0.2h1m0.4 0.3h1m-0.2 -0.5h1m0.4 0.1h1m-0.3 -0.1h1m0.1 0.1h1m1 0.1h1m1.1 0.1h1m-0.1 -0.2h1m-80.9 1.3h1m4.7 -0.3h1m11.8 0.1h1m4.3 0.4h1m4.1 -0.1h1m3.9 -0.3h1m8.8 0.3h1m1.9 -0.5h1m0.2 0.2h1m0.4 0.3h1m1.6 -0.3h1m1.4 0.3h1m1.9 -0.3h1m2.1 0.1h1m4.8 -0.2h1m0 0.2h1m-0.2 0h1m0.1 -0.1h1m-0.3 0.4h1m0.6 -0.1h1m1.6 -0.4h1m0.1 0h1m0.9 -0.1h1m-0.2 0.5h1m0 -0.2h1m-71.9 1h1m10.9 0.1h1m4.5 -0.3h1m5.9 -0.1h1m2 0.1h1m-0.4 0.5h1m2.5 -0.5h1m-0.2 0.3h1m1 -0.2h1m0.1 0h1m-0.4 -0.1h1m2.1 0.4h1m1.4 -0.2h1m7.9 0.1h1m4.8 -0.1h1m1.3 0h1m0.9 0h1m1 0.2h1m0 -0.2h1m0.7 0.3h1m0 -0.4h1m2.1 -0.1h1m0 0.1h1m-0.1 0.2h1m0.1 -0.2h1m-72.1 1.2h1m7.1 -0.3h1m14.1 0.4h1m3.8 0h1m0.2 -0.4h1m2.1 0.3h1m3.9 -0.2h1m-0.3 0.1h1m0.4 -0.1h1m1 0.1h1m0.7 0h1m0.4 -0.3h1m-0.3 0.2h1m0.2 -0.1h1m4.2 0h1m0.9 0.2h1m-0.2 -0.1h1m-0.1 0.4h1m1.9 -0.5h1m1.3 -0.1h1m-0.4 0.4h1m0.3 0.1h1m-0.2 0.1h1m1.4 -0.3h1m-0.2 -0.2h1m0.3 0.4h1m0.5 -0.2h1m0.5 -0.1h1m-88 1h1m11.6 0.2h1m5.1 -0.4h1m16.8 0.3h1m1.2 0.1h1m6.2 0h1m-0.4 -0.3h1m0.4 0.5h1m0.9 -0.4h1m0.1 0.2h1m1.8 -0.2h1m0 -0.2h1m2.1 0.3h1m3 -0.3h1m1.8 0h1m-0.1 0.4h1m0.3 -0.1h1m0.9 -0.2h1m-0.1 0h1m0.1 0.3h1m2.9 -0.1h1m-0.2 -0.2h1m1.6 0.5h1m-0.3 -0.5h1m0.2 0.3h1m0 -0.3h1m5 0.2h1m0.1 0.2h1m-74.4 0.7h1m2 0.1h1m18.4 -0.2h1m0.5 0h1m1 0.2h1m5.1 -0.1h1m0.1 -0.1h1m1.8 0.2h1m1.9 0.2h1m0.3 -0.1h1m0.9 0.1h1m1.9 0h1m0 -0.3h1m0 0h1m0.3 0.2h1m1.9 0h1m1.1 0h1m1 0h1m1.6 -0.4h1m0.2 0.5h1m3.2 -0.2h1m0.8 0h1m1.1 0.2h1m0.9 -0.5h1m2.2 0.4h1m-90.9 1.1h1m22.1 0h1m7 -0.3h1m1.9 0.2h1m8.6 -0.1h1m0.2 -0.3h1m0.2 0.1h1m1.1 0.3h1m3.5 0.1h1m-0.1 -0.2h1m1.5 -0.3h1m-0.2 0.6h1m-0.2 -0.1h1m2.2 -0.4h1m-0.3 0.1h1m0.2 -0.1h1m0 -0.1h1m0.2 0.2h1m0.7 0h1m1.2 0.3h1m0.1 -0.4h1m0.7 0.3h1m3.1 0.1h1m-0.1 0.1h1m0.1 -0.1h1m1.2 -0.5h1m1.2 0.6h1m-0.3 -0.2h1m0.2 0h1m0.9 0.2h1m-0.1 -0.5h1m0.7 0.3h1m-85.7 0.8h1m18 0h1m5.7 -0.2h1m5.1 0.2h1m1 0h1m1 -0.2h1m0.4 0.1h1m0.9 0.5h1m1 -0.1h1m0.1 -0.3h1m1.8 -0.1h1m0 0.5h1m0.9 -0.1h1m1 -0.5h1m2.2 0.1h1m-0.3 0.1h1m4.3 -0.2h1m1.1 0.1h1m0.6 0.4h1m0.3 -0.1h1m-0.4 -0.2h1m0.3 0.2h1m2.2 -0.1h1m0.5 -0.1h1m0.5 0.1h1m0.6 0.2h1m0.1 0.1h1m1 -0.2h1m0.1 0h1m-0.2 -0.2h1m1.3 0.1h1m-0.2 0.3h1m0.9 0h1m0.4 -0.6h1m-0.4 0.4h1m0 0h1m-85.9 0.7h1m-0.2 0.3h1m21.3 -0.3h1m0.7 0.2h1m5.4 0.3h1m-0.4 -0.2h1m3.1 0h1m0 -0.2h1m2.1 0.4h1m1.2 -0.1h1m0.9 -0.1h1m0.8 -0.1h1m1.1 -0.3h1m-0.2 0.4h1m0.2 0.2h1m1.2 -0.2h1m0 -0.3h1m-0.1 0.4h1m0 0h1m0.7 -0.3h1m0.1 0.1h1m0.4 0h1m0.6 0.1h1m0 -0.1h1m0.2 -0.1h1m0.8 0.1h1m0 -0.1h1m3.1 0.1h1m-0.1 -0.2h1m0.3 0h1m-0.2 0h1m1.1 0.4h1m-0.2 -0.1h1m0.3 0.1h1m-0.1 -0.4h1m0.3 -0.1h1m0 0.1h1m-0.4 0h1m-0.1 0.5h1m-73.9 1h1m5.2 0h1m1.1 0h1m6.8 -0.6h1m0.9 0.3h1m-0.2 0.2h1m1.1 0.1h1m2.3 -0.3h1m0.1 0.2h1m-0.4 -0.4h1m0.1 0.5h1m0.3 -0.5h1m0 0.2h1m1.1 -0.1h1m2 0h1m-0.2 0.1h1m-0.3 0h1m1.4 0h1m0.7 0h1m0.2 -0.2h1m-0.3 0.4h1m0.2 -0.1h1m2.2 0h1m0.9 -0.2h1m-0.3 0.2h1m1.2 -0.2h1m0 0.2h1m0.1 0h1m-0.3 -0.2h1m0.2 -0.2h1m1 0.2h1m0.2 -0.1h1m-0.3 0.3h1m-0.1 -0.3h1m0.4 0.3h1m5.6 0h1m0.5 -0.1h1m-0.6 -0.1h1m1.6 0.4h1m1.6 -0.4h1m-78.6 0.8h1m16.4 0.5h1m2.5 -0.3h1m-0.3 0.1h1m0.9 0h1m1.3 -0.3h1m0.9 0.5h1m1.9 -0.4h1m-0.1 0.1h1m2.3 0.3h1m0.1 0h1m-0.4 -0.3h1m0 0h1m0 0.1h1m1.4 -0.1h1m-0.2 0h1m-0.1 0.3h1m0.3 -0.4h1m-0.1 0.5h1m-0.3 -0.3h1m0.5 0h1m0 -0.3h1m-0.1 0.3h1m-0.3 0.2h1m0.1 -0.5h1m0 0.3h1m0.9 0h1m2 0.1h1m0.9 0h1m0.2 0.1h1m0 0h1m-0.3 -0.3h1m0.1 0.4h1m0.3 0h1m-0.4 -0.6h1m0.6 0.6h1m1.8 -0.2h1m0 0h1m0 -0.2h1m2.8 0.1h1m1.2 0.3h1m0.7 -0.4h1m-89.6 0.9h1m3.6 0h1m13.5 -0.1h1m11 0.2h1m1.9 0h1m1.1 0.3h1m4 -0.4h1m1.6 0.1h1m2.2 -0.1h1m0 0.3h1m-0.3 -0.1h1m0.1 -0.1h1m-0.1 0.3h1m1.1 -0.5h1m0 0.2h1m-0.1 0.1h1m0.2 0.1h1m0.3 0h1m1.4 -0.4h1m0.2 0h1m-0.1 0.3h1m2.1 -0.1h1m0.2 -0.2h1m-0.1 0.4h1m-0.3 0h1m0.1 -0.2h1m1.1 0.3h1m0 -0.5h1m0.2 0.3h1m1.1 0.3h1m3.8 -0.6h1m-0.1 0h1m0 0.4h1m1.1 -0.4h1m0 0.3h1m-0.2 -0.2h1m1.2 -0.1h1m-71.8 1.6h1m14.6 -0.3h1m2.1 -0.1h1m1.8 -0.1h1m0.5 0.5h1m-0.4 -0.5h1m3.2 0.1h1m-0.2 0.3h1m-0.1 -0.3h1m1.3 0h1m0.2 -0.1h1m-0.1 0h1m0.1 0.3h1m-0.3 -0.2h1m0.4 0.4h1m-0.5 -0.2h1m1.1 -0.1h1m-0.2 0h1m0.5 -0.3h1m5.8 0.3h1m1.1 -0.2h1m1 0h1m0.1 0h1m-0.1 0.2h1m0.1 -0.1h1m-0.4 0.2h1m3.4 0.1h1m-0.4 -0.2h1m0.4 0.3h1m0.1 -0.1h1m-0.2 -0.4h1m1 0h1m0.6 0.5h1m0.3 -0.5h1m-0.1 0.3h1m-83.1 0.7h1m26 0.4h1m2.4 -0.3h1m1.1 0.4h1m-0.1 -0.3h1m0.5 -0.1h1m2.2 -0.2h1m0.1 0.3h1m0 0.2h1m0.2 -0.4h1m-0.2 0.4h1m-0.1 -0.4h1m0.3 0.5h1m0 -0.4h1m-0.3 0h1m1.3 0.3h1m0.6 -0.1h1m1.4 0.2h1m0.7 -0.2h1m-0.1 -0.3h1m0.4 -0.1h1m0.9 0.1h1m0.9 0.2h1m1.1 -0.2h1m0.8 0.5h1m0.4 -0.4h1m-0.1 0.2h1m0.1 0h1m0 0h1m-0.2 -0.3h1m0.1 0.1h1m-0.5 0.3h1m1.4 -0.1h1m0 -0.3h1m0.1 0.3h1m2.8 0.1h1m1.3 0h1m-72.4 0.9h1m6.1 -0.2h1m2.7 0.1h1m5.4 0.2h1m0.1 -0.4h1m0.1 0.1h1m1.5 0.1h1m2.4 -0.2h1m0 0h1m0.8 0.1h1m1.8 -0.1h1m0.4 0h1m-0.2 -0.1h1m0 0.6h1m0 -0.5h1m0.2 0.3h1m0.1 -0.2h1m1.8 -0.1h1m-0.2 0.4h1m0.1 -0.1h1m0 -0.2h1m1.3 0.2h1m1.4 -0.2h1m1.2 0h1m0 0.3h1m0 -0.1h1m0 -0.2h1m0.1 0.1h1m0.1 0.1h1m0 -0.1h1m0 0h1m0.1 0.1h1m-0.3 -0.4h1m1.4 0.2h1m-0.2 0.1h1m2.1 0.1h1m-0.4 -0.1h1m1.3 -0.1h1m-0.1 0.1h1m0.1 -0.1h1m-0.3 0h1m0.3 0.1h1m-56.3 0.8h1m3.3 -0.1h1m0.9 0.2h1m1.9 -0.1h1m0.4 0.4h1m-0.1 0h1m-0.3 -0.2h1m0.2 0h1m0.2 -0.3h1m-0.4 0.2h1m2.4 0h1m0 0.2h1m-0.4 0.1h1m0 -0.3h1m-0.2 -0.2h1m1 0.3h1m2.1 -0.2h1m0.5 0h1m-0.6 0h1m0.1 0.4h1m0.3 -0.1h1m-0.4 -0.2h1m0.4 -0.1h1m0.8 0.1h1m-0.1 -0.2h1m0.2 0.2h1m0.3 -0.1h1m-0.1 0.2h1m-0.1 0.1h1m2.6 -0.3h1m0.6 0h1m-0.3 0h1m0 0.5h1m2.3 -0.2h1m-0.1 0.1h1m-87.3 0.6h1m30.8 0.4h1m3.6 0h1m2 -0.3h1m-0.3 0.1h1m0.2 0.3h1m-0.3 -0.6h1m1.1 0.1h1m0.2 0.2h1m0.8 0.2h1m0.8 -0.4h1m1.4 0h1m0.7 0.1h1m1 0.3h1m-0.1 0.1h1m0.4 -0.3h1m-0.2 0.1h1m-0.3 -0.3h1m0.2 0.1h1m0.4 0.2h1m0 0h1m-0.2 0.1h1m1.2 0.1h1m0.8 -0.1h1m-0.1 -0.2h1m-0.1 0.2h1m0 -0.3h1m0.2 -0.1h1m1.7 0.4h1m0.2 0.1h1m0.1 -0.1h1m1.1 -0.2h1m1.1 -0.3h1m0 0.2h1m-0.5 0.1h1m2 0.2h1m0.3 0h1m-0.3 -0.1h1m0.1 -0.2h1m0 0h1m-62.1 1.1h1m1.2 -0.2h1m2.2 0.2h1m0.1 0h1m4.6 0.3h1m1.2 -0.3h1m0.6 0h1m0.4 -0.1h1m-0.3 0h1m0 0h1m0.4 0.4h1m-0.1 0h1m1.1 -0.3h1m-0.2 -0.1h1m0.2 0.3h1m1 -0.4h1m0 0h1m-0.3 0h1m0.8 0.2h1m0.6 0.2h1m0.4 -0.3h1m0.2 0.1h1m2.3 -0.2h1m-0.4 -0.1h1m0.4 0.3h1m-0.2 -0.1h1m-0.1 0.4h1m-0.2 -0.4h1m0.3 -0.2h1m-0.2 0.1h1m2.5 0.1h1m-0.1 0.2h1m0 0.2h1m0.9 -0.1h1m0.1 -0.2h1m0.1 -0.1h1m0.5 0.3h1m0.1 -0.4h1m0.3 0.2h1m-0.2 0h1m-0.2 0.3h1m-77.1 0.5h1m7.5 0.4h1m0.7 -0.4h1m5.8 0.2h1m13.3 0h1m-0.1 0.2h1m-0.1 -0.1h1m0.4 -0.3h1m-0.2 -0.1h1m1.3 0.1h1m0.5 0h1m0.1 0.2h1m0.3 0.3h1m2 -0.1h1m1 -0.4h1m0.7 0.4h1m0.1 -0.5h1m0.2 0.3h1m0 0.1h1m-0.4 -0.1h1m1.3 0.1h1m1.8 -0.3h1m0.1 0h1m0.2 0.1h1m-0.2 -0.1h1m1.1 0.1h1m0.2 0.2h1m-0.6 -0.2h1m0.2 0.1h1m1.8 0.1h1m3.1 -0.2h1m1.5 0.2h1m-76.1 0.7h1m9.7 0.1h1m3.1 0.4h1m5.8 -0.6h1m9.3 0.3h1m3 0.2h1m0.8 -0.2h1m-0.2 0h1m0.5 0.1h1m-0.2 0.1h1m0.8 -0.2h1m1 0.3h1m0.1 -0.3h1m0.9 0h1m-0.1 0h1m0.3 -0.1h1m0.3 0.3h1m-0.5 -0.3h1m1 0.3h1m0.2 -0.4h1m0.1 0.3h1m-0.1 -0.3h1m-0.1 0.3h1m1.9 -0.2h1m-0.1 -0.2h1m0.1 0.4h1m0.3 -0.2h1m-0.3 -0.1h1m0.3 0.1h1m0.2 -0.1h1m-0.3 0h1m0.2 0.3h1m0 -0.3h1m-0.3 0.3h1m1.9 0.1h1m1 -0.2h1m-68.8 1h1m6.7 -0.1h1m0 0.3h1m4.1 0.1h1m0.1 0h1m2.1 -0.3h1m0.3 -0.1h1m4.5 -0.1h1m2.9 0h1m0.2 0.2h1m-0.1 -0.3h1m0.5 0.6h1m0.6 -0.2h1m3.3 -0.4h1m-0.1 0.2h1m-0.2 0.4h1m-0.1 0h1m0.2 -0.6h1m0.7 0.2h1m3.1 0.4h1m0.1 -0.5h1m0.2 -0.1h1m2 0.3h1m-0.2 -0.3h1m0.3 0.3h1m0.8 0.2h1m1.2 -0.2h1m8 0.2h1m-90.1 1h1m28.8 -0.4h1m5.1 0.2h1m-0.2 -0.1h1m2.9 0.3h1m0.2 -0.1h1m0.3 0h1m1 -0.1h1m7.5 -0.1h1m0.2 0h1m3.1 0.2h1m1.9 0.2h1m0 0h1m0.4 -0.1h1m-0.4 -0.2h1m-0.1 0.1h1m1.4 -0.4h1m5.1 0.1h1m5.7 0.5h1m1.1 -0.4h1m-0.2 0.2h1m3.3 -0.3h1m-67.1 1h1m12.1 0.3h1m6.8 0h1m2.8 -0.1h1m0.1 0.1h1m-0.1 -0.2h1m0.4 0.2h1m-0.3 0.2h1m1 -0.4h1m0.1 0.3h1m3.2 -0.4h1m-0.4 0.5h1m0.2 -0.3h1m0.3 0.1h1m-0.1 0h1m0 -0.1h1m0 -0.3h1m0 0.1h1m-0.5 0h1m4.3 0.2h1m0 0.1h1m0.2 -0.3h1m-0.3 0.2h1m0.3 0.2h1m4.7 0.1h1m0 0h1m8.1 -0.4h1m-0.2 0.2h1m-78.9 1h1m10 0.1h1m1.2 -0.2h1m7.8 0.3h1m0 -0.6h1m4.3 0h1m5.9 0.3h1m0.6 0.3h1m3.2 -0.1h1m0 0h1m0.2 -0.1h1m-0.3 -0.4h1m0.4 0h1m-0.3 0.1h1m-0.1 0.4h1m1.4 -0.2h1m0.7 0.1h1m0.2 -0.2h1m-0.3 0h1m3.2 0h1m0.2 0.3h1m2.8 -0.4h1m-0.1 0.3h1m1 -0.2h1m5.2 0h1m0.2 0.3h1m4.9 -0.2h1m-67.3 0.8h1m9.2 0.4h1m2 -0.3h1m2.7 0h1m0.3 0.3h1m2.7 0h1m3.5 -0.2h1m2.7 -0.1h1m0.2 0h1m0.1 0.2h1m-0.1 -0.3h1m-0.4 0.2h1m7.2 0.2h1m2.1 0h1m0 -0.2h1m-0.2 0h1m2.1 0.1h1m-0.1 -0.1h1m5.8 -0.3h1m1.6 0.5h1m1.4 -0.3h1" stroke="#8e8e8e" stroke-width="0.8" fill="none"/>
<path d="M148.40,362.60C150.00,362.33 154.73,361.38 158.00,361.00C161.27,360.62 164.33,360.38 168.00,360.30C171.67,360.22 176.33,360.38 180.00,360.50C183.67,360.62 186.67,361.15 190.00,361.00C193.33,360.85 196.58,360.10 200.00,359.60C203.42,359.10 207.63,357.63 210.50,358.00C213.37,358.37 214.78,361.08 217.20,361.80C219.62,362.52 222.52,362.68 225.00,362.30C227.48,361.92 230.27,359.48 232.10,359.50C233.93,359.52 235.13,360.65 236.00,362.40C236.87,364.15 237.37,367.25 237.30,370.00C237.23,372.75 236.82,376.63 235.60,378.90C234.38,381.17 232.60,382.72 230.00,383.60C227.40,384.48 223.33,384.30 220.00,384.20C216.67,384.10 213.33,383.37 210.00,383.00C206.67,382.63 202.50,381.40 200.00,382.00C197.50,382.60 196.50,384.60 195.00,386.60C193.50,388.60 191.92,391.47 191.00,394.00C190.08,396.53 189.75,400.50 189.50,401.80L148.40,401.80Z" fill="#fff" stroke="none"/>
<path d="M231.00,308.00C232.92,308.17 235.75,308.67 237.50,310.00C239.25,311.33 240.83,313.67 241.50,316.00C242.17,318.33 242.08,321.67 241.50,324.00C240.92,326.33 239.75,328.58 238.00,330.00C236.25,331.42 233.33,332.50 231.00,332.50C228.67,332.50 225.75,331.75 224.00,330.00C222.25,328.25 220.83,324.83 220.50,322.00C220.17,319.17 221.08,315.17 222.00,313.00C222.92,310.83 224.50,309.83 226.00,309.00C227.50,308.17 229.08,307.83 231.00,308.00Z" fill="#fff" stroke="none"/>
<path d="M148.40,362.60C150.00,362.33 154.73,361.38 158.00,361.00C161.27,360.62 164.33,360.38 168.00,360.30C171.67,360.22 176.33,360.38 180.00,360.50C183.67,360.62 186.67,361.15 190.00,361.00C193.33,360.85 196.58,360.10 200.00,359.60C203.42,359.10 207.63,357.63 210.50,358.00C213.37,358.37 214.78,361.08 217.20,361.80C219.62,362.52 222.52,362.68 225.00,362.30C227.48,361.92 230.27,359.48 232.10,359.50C233.93,359.52 235.13,360.65 236.00,362.40C236.87,364.15 237.37,367.25 237.30,370.00C237.23,372.75 236.82,376.63 235.60,378.90C234.38,381.17 232.60,382.72 230.00,383.60C227.40,384.48 223.33,384.30 220.00,384.20C216.67,384.10 213.33,383.37 210.00,383.00C206.67,382.63 202.50,381.40 200.00,382.00C197.50,382.60 196.50,384.60 195.00,386.60C193.50,388.60 191.92,391.47 191.00,394.00C190.08,396.53 189.75,400.50 189.50,401.80" fill="none" stroke="#505050" stroke-width="0.65" stroke-linejoin="round"/>
<ellipse cx="204.6" cy="368.3" rx="4.2" ry="3.2" transform="rotate(0 204.6 368.3)" fill="none" stroke="#505050" stroke-width="0.65"/>
<ellipse cx="228.4" cy="372.1" rx="3.6" ry="5.4" transform="rotate(15 228.4 372.1)" fill="none" stroke="#505050" stroke-width="0.65"/>
<path d="M150.00,364.00C152.50,363.80 160.33,362.90 165.00,362.80C169.67,362.70 174.20,362.57 178.00,363.40C181.80,364.23 185.47,366.20 187.80,367.80C190.13,369.40 191.55,370.63 192.00,373.00C192.45,375.37 191.83,378.83 190.50,382.00C189.17,385.17 185.67,388.70 184.00,392.00C182.33,395.30 181.08,400.17 180.50,401.80" fill="none" stroke="#505050" stroke-width="0.65" stroke-linejoin="round"/>
<path d="M170.71,376.53C170.68,376.68 170.62,376.82 170.57,376.95C170.51,377.08 170.45,377.21 170.38,377.33C170.31,377.45 170.24,377.57 170.17,377.68C170.09,377.80 170.01,377.92 169.91,378.03C169.82,378.14 169.72,378.25 169.60,378.35C169.48,378.45 169.35,378.54 169.21,378.61C169.07,378.68 168.91,378.73 168.75,378.76C168.59,378.78 168.41,378.78 168.25,378.76C168.09,378.73 167.93,378.68 167.79,378.61C167.65,378.54 167.52,378.45 167.40,378.35C167.28,378.25 167.18,378.14 167.09,378.03C166.99,377.92 166.91,377.80 166.83,377.68C166.76,377.57 166.69,377.45 166.62,377.33C166.55,377.21 166.49,377.08 166.43,376.95C166.38,376.82 166.32,376.68 166.29,376.53C166.27,376.38 166.25,376.23 166.25,376.08C166.26,375.92 166.29,375.76 166.35,375.62C166.41,375.48 166.50,375.33 166.60,375.21C166.70,375.09 166.83,374.99 166.96,374.91C167.10,374.82 167.25,374.76 167.40,374.71C167.54,374.66 167.70,374.64 167.85,374.61C167.99,374.59 168.14,374.59 168.28,374.58C168.43,374.57 168.57,374.57 168.72,374.58C168.86,374.59 169.01,374.59 169.15,374.61C169.30,374.64 169.46,374.66 169.60,374.71C169.75,374.76 169.90,374.82 170.04,374.91C170.17,374.99 170.30,375.09 170.40,375.21C170.50,375.33 170.59,375.48 170.65,375.62C170.71,375.76 170.74,375.92 170.75,376.08C170.75,376.23 170.73,376.38 170.71,376.53Z" fill="none" stroke="#505050" stroke-width="0.65" stroke-linejoin="round"/>
<path d="M172.86,377.14C172.80,377.43 172.69,377.71 172.59,377.97C172.48,378.23 172.35,378.48 172.22,378.72C172.08,378.96 171.94,379.19 171.79,379.42C171.64,379.65 171.48,379.88 171.30,380.10C171.11,380.32 170.91,380.55 170.68,380.74C170.45,380.93 170.18,381.12 169.90,381.25C169.62,381.39 169.30,381.50 168.99,381.55C168.67,381.60 168.33,381.60 168.01,381.55C167.70,381.50 167.38,381.39 167.10,381.25C166.82,381.12 166.55,380.93 166.32,380.74C166.09,380.55 165.89,380.32 165.70,380.10C165.52,379.88 165.36,379.65 165.21,379.42C165.06,379.19 164.92,378.96 164.78,378.72C164.65,378.48 164.52,378.23 164.41,377.97C164.31,377.71 164.20,377.43 164.14,377.14C164.08,376.86 164.04,376.55 164.06,376.25C164.08,375.95 164.14,375.63 164.25,375.34C164.37,375.06 164.54,374.78 164.74,374.54C164.94,374.31 165.20,374.10 165.46,373.93C165.73,373.77 166.03,373.65 166.32,373.55C166.61,373.46 166.92,373.40 167.21,373.36C167.50,373.32 167.79,373.30 168.07,373.29C168.36,373.28 168.64,373.28 168.93,373.29C169.21,373.30 169.50,373.32 169.79,373.36C170.08,373.40 170.39,373.46 170.68,373.55C170.97,373.65 171.27,373.77 171.54,373.93C171.80,374.10 172.06,374.31 172.26,374.54C172.46,374.78 172.63,375.06 172.75,375.34C172.86,375.63 172.92,375.95 172.94,376.25C172.96,376.55 172.92,376.86 172.86,377.14Z" fill="none" stroke="#505050" stroke-width="0.65" stroke-linejoin="round"/>
<path d="M175.01,377.76C174.92,378.19 174.77,378.60 174.61,379.00C174.45,379.39 174.25,379.75 174.05,380.11C173.85,380.47 173.65,380.82 173.42,381.16C173.19,381.51 172.95,381.85 172.68,382.18C172.40,382.51 172.10,382.84 171.75,383.13C171.41,383.42 171.02,383.70 170.59,383.90C170.17,384.10 169.70,384.26 169.23,384.34C168.76,384.41 168.24,384.41 167.77,384.34C167.30,384.26 166.83,384.10 166.41,383.90C165.98,383.70 165.59,383.42 165.25,383.13C164.90,382.84 164.60,382.51 164.32,382.18C164.05,381.85 163.81,381.51 163.58,381.16C163.35,380.82 163.15,380.47 162.95,380.11C162.75,379.75 162.55,379.39 162.39,379.00C162.23,378.60 162.08,378.19 161.99,377.76C161.90,377.33 161.84,376.87 161.87,376.42C161.90,375.97 161.99,375.49 162.16,375.07C162.33,374.65 162.58,374.22 162.88,373.87C163.18,373.52 163.57,373.21 163.96,372.96C164.36,372.72 164.81,372.53 165.25,372.39C165.68,372.25 166.13,372.17 166.57,372.11C167.01,372.04 167.44,372.02 167.86,372.00C168.29,371.99 168.71,371.99 169.14,372.00C169.56,372.02 169.99,372.04 170.43,372.11C170.87,372.17 171.32,372.25 171.75,372.39C172.19,372.53 172.64,372.72 173.04,372.96C173.43,373.21 173.82,373.52 174.12,373.87C174.42,374.22 174.67,374.65 174.84,375.07C175.01,375.49 175.10,375.97 175.13,376.42C175.16,376.87 175.10,377.33 175.01,377.76Z" fill="none" stroke="#505050" stroke-width="0.65" stroke-linejoin="round"/>
<path d="M177.16,378.38C177.05,378.95 176.84,379.50 176.62,380.02C176.41,380.54 176.15,381.03 175.89,381.51C175.62,381.99 175.35,382.44 175.04,382.90C174.74,383.36 174.43,383.82 174.06,384.25C173.69,384.69 173.29,385.14 172.83,385.52C172.37,385.90 171.85,386.28 171.29,386.54C170.73,386.81 170.09,387.03 169.47,387.13C168.84,387.22 168.16,387.22 167.53,387.13C166.91,387.03 166.27,386.81 165.71,386.54C165.15,386.28 164.63,385.90 164.17,385.52C163.71,385.14 163.31,384.69 162.94,384.25C162.57,383.82 162.26,383.36 161.96,382.90C161.65,382.44 161.38,381.99 161.11,381.51C160.85,381.03 160.59,380.54 160.38,380.02C160.16,379.50 159.95,378.95 159.84,378.38C159.72,377.80 159.64,377.19 159.68,376.59C159.72,375.99 159.84,375.36 160.06,374.80C160.28,374.23 160.62,373.67 161.03,373.20C161.43,372.74 161.94,372.32 162.47,371.99C162.99,371.66 163.59,371.42 164.17,371.23C164.75,371.04 165.35,370.94 165.93,370.85C166.51,370.77 167.09,370.74 167.65,370.72C168.22,370.69 168.78,370.69 169.35,370.72C169.91,370.74 170.49,370.77 171.07,370.85C171.65,370.94 172.25,371.04 172.83,371.23C173.41,371.42 174.01,371.66 174.53,371.99C175.06,372.32 175.57,372.74 175.97,373.20C176.38,373.67 176.72,374.23 176.94,374.80C177.16,375.36 177.28,375.99 177.32,376.59C177.36,377.19 177.28,377.80 177.16,378.38Z" fill="none" stroke="#505050" stroke-width="0.65" stroke-linejoin="round"/>
<path d="M179.31,378.99C179.17,379.70 178.91,380.39 178.64,381.04C178.38,381.70 178.05,382.30 177.72,382.90C177.39,383.50 177.05,384.07 176.67,384.64C176.29,385.21 175.90,385.78 175.44,386.33C174.98,386.87 174.48,387.43 173.91,387.91C173.33,388.39 172.68,388.85 171.98,389.19C171.28,389.52 170.49,389.79 169.71,389.92C168.92,390.04 168.08,390.04 167.29,389.92C166.51,389.79 165.72,389.52 165.02,389.19C164.32,388.85 163.67,388.39 163.09,387.91C162.52,387.43 162.02,386.87 161.56,386.33C161.10,385.78 160.71,385.21 160.33,384.64C159.95,384.07 159.61,383.50 159.28,382.90C158.95,382.30 158.62,381.70 158.36,381.04C158.09,380.39 157.83,379.70 157.69,378.99C157.54,378.28 157.44,377.51 157.49,376.76C157.53,376.02 157.68,375.23 157.96,374.52C158.24,373.82 158.67,373.12 159.17,372.53C159.67,371.95 160.31,371.43 160.97,371.02C161.62,370.61 162.37,370.31 163.09,370.07C163.81,369.83 164.57,369.70 165.30,369.60C166.02,369.49 166.73,369.46 167.44,369.43C168.15,369.40 168.85,369.40 169.56,369.43C170.27,369.46 170.98,369.49 171.70,369.60C172.43,369.70 173.19,369.83 173.91,370.07C174.63,370.31 175.38,370.61 176.03,371.02C176.69,371.43 177.33,371.95 177.83,372.53C178.33,373.12 178.76,373.82 179.04,374.52C179.32,375.23 179.47,376.02 179.51,376.76C179.56,377.51 179.46,378.28 179.31,378.99Z" fill="none" stroke="#505050" stroke-width="0.65" stroke-linejoin="round"/>
<path d="M181.47,379.60C181.29,380.46 180.98,381.29 180.66,382.07C180.34,382.85 179.95,383.57 179.56,384.29C179.16,385.01 178.75,385.70 178.29,386.38C177.84,387.07 177.37,387.75 176.82,388.41C176.27,389.06 175.68,389.73 174.98,390.30C174.29,390.87 173.51,391.43 172.67,391.83C171.83,392.23 170.88,392.56 169.95,392.71C169.01,392.85 167.99,392.85 167.05,392.71C166.12,392.56 165.17,392.23 164.33,391.83C163.49,391.43 162.71,390.87 162.02,390.30C161.32,389.73 160.73,389.06 160.18,388.41C159.63,387.75 159.16,387.07 158.71,386.38C158.25,385.70 157.84,385.01 157.44,384.29C157.05,383.57 156.66,382.85 156.34,382.07C156.02,381.29 155.71,380.46 155.53,379.60C155.36,378.75 155.24,377.82 155.29,376.93C155.35,376.04 155.53,375.09 155.86,374.25C156.20,373.40 156.71,372.56 157.31,371.86C157.91,371.16 158.68,370.54 159.47,370.05C160.25,369.56 161.15,369.19 162.02,368.91C162.88,368.63 163.79,368.47 164.66,368.34C165.53,368.21 166.38,368.17 167.23,368.14C168.09,368.11 168.91,368.11 169.77,368.14C170.62,368.17 171.47,368.21 172.34,368.34C173.21,368.47 174.12,368.63 174.98,368.91C175.85,369.19 176.75,369.56 177.53,370.05C178.32,370.54 179.09,371.16 179.69,371.86C180.29,372.56 180.80,373.40 181.14,374.25C181.47,375.09 181.65,376.04 181.71,376.93C181.76,377.82 181.64,378.75 181.47,379.60Z" fill="none" stroke="#505050" stroke-width="0.65" stroke-linejoin="round"/>
<path d="M183.62,380.22C183.42,381.22 183.05,382.18 182.68,383.09C182.31,384.00 181.85,384.85 181.39,385.69C180.93,386.53 180.45,387.32 179.92,388.12C179.39,388.92 178.84,389.72 178.20,390.48C177.56,391.24 176.87,392.02 176.06,392.69C175.25,393.36 174.34,394.01 173.36,394.48C172.39,394.95 171.28,395.33 170.19,395.49C169.09,395.66 167.91,395.66 166.81,395.49C165.72,395.33 164.61,394.95 163.64,394.48C162.66,394.01 161.75,393.36 160.94,392.69C160.13,392.02 159.44,391.24 158.80,390.48C158.16,389.72 157.61,388.92 157.08,388.12C156.55,387.32 156.07,386.53 155.61,385.69C155.15,384.85 154.69,384.00 154.32,383.09C153.95,382.18 153.58,381.22 153.38,380.22C153.18,379.22 153.04,378.14 153.10,377.10C153.17,376.06 153.38,374.96 153.77,373.97C154.16,372.99 154.75,372.01 155.45,371.19C156.15,370.38 157.05,369.65 157.97,369.08C158.88,368.50 159.93,368.08 160.94,367.75C161.95,367.42 163.01,367.24 164.02,367.09C165.03,366.94 166.03,366.89 167.02,366.85C168.02,366.81 168.98,366.81 169.98,366.85C170.97,366.89 171.97,366.94 172.98,367.09C173.99,367.24 175.05,367.42 176.06,367.75C177.07,368.08 178.12,368.50 179.03,369.08C179.95,369.65 180.85,370.38 181.55,371.19C182.25,372.01 182.84,372.99 183.23,373.97C183.62,374.96 183.83,376.06 183.90,377.10C183.96,378.14 183.82,379.22 183.62,380.22Z" fill="none" stroke="#505050" stroke-width="0.65" stroke-linejoin="round"/>
<path d="M185.77,380.83C185.54,381.98 185.12,383.07 184.70,384.11C184.28,385.16 183.75,386.12 183.23,387.08C182.70,388.04 182.15,388.95 181.54,389.86C180.94,390.77 180.32,391.69 179.58,392.56C178.85,393.43 178.06,394.32 177.14,395.08C176.22,395.84 175.18,396.59 174.06,397.12C172.94,397.66 171.67,398.09 170.43,398.28C169.18,398.48 167.82,398.48 166.57,398.28C165.33,398.09 164.06,397.66 162.94,397.12C161.82,396.59 160.78,395.84 159.86,395.08C158.94,394.32 158.15,393.43 157.42,392.56C156.68,391.69 156.06,390.77 155.46,389.86C154.85,388.95 154.30,388.04 153.77,387.08C153.25,386.12 152.72,385.16 152.30,384.11C151.88,383.07 151.46,381.98 151.23,380.83C151.00,379.69 150.84,378.46 150.91,377.27C150.98,376.08 151.22,374.82 151.67,373.70C152.12,372.57 152.80,371.45 153.60,370.52C154.40,369.59 155.42,368.76 156.47,368.11C157.51,367.45 158.71,366.97 159.86,366.59C161.02,366.21 162.22,366.00 163.38,365.83C164.54,365.66 165.68,365.61 166.81,365.56C167.95,365.52 169.05,365.52 170.19,365.56C171.32,365.61 172.46,365.66 173.62,365.83C174.78,366.00 175.98,366.21 177.14,366.59C178.29,366.97 179.49,367.45 180.53,368.11C181.58,368.76 182.60,369.59 183.40,370.52C184.20,371.45 184.88,372.57 185.33,373.70C185.78,374.82 186.02,376.08 186.09,377.27C186.16,378.46 186.00,379.69 185.77,380.83Z" fill="none" stroke="#505050" stroke-width="0.65" stroke-linejoin="round"/>
<path d="M231.52,321.10C231.52,321.25 231.51,321.39 231.48,321.54C231.45,321.68 231.41,321.82 231.36,321.95C231.30,322.09 231.23,322.22 231.16,322.33C231.08,322.45 230.99,322.56 230.89,322.66C230.79,322.76 230.68,322.85 230.57,322.92C230.46,322.99 230.33,323.05 230.21,323.10C230.08,323.14 229.95,323.17 229.82,323.19C229.69,323.20 229.55,323.20 229.42,323.19C229.29,323.17 229.16,323.14 229.03,323.10C228.91,323.05 228.78,322.99 228.67,322.92C228.56,322.85 228.45,322.76 228.35,322.66C228.25,322.56 228.16,322.45 228.08,322.33C228.01,322.22 227.94,322.09 227.88,321.95C227.83,321.82 227.79,321.68 227.76,321.54C227.73,321.39 227.72,321.25 227.72,321.10C227.72,320.95 227.73,320.81 227.76,320.66C227.79,320.52 227.83,320.38 227.88,320.25C227.94,320.11 228.01,319.98 228.08,319.87C228.16,319.75 228.25,319.64 228.35,319.54C228.45,319.44 228.56,319.35 228.67,319.28C228.78,319.21 228.91,319.15 229.03,319.10C229.16,319.06 229.29,319.03 229.42,319.01C229.55,319.00 229.69,319.00 229.82,319.01C229.95,319.03 230.08,319.06 230.21,319.10C230.33,319.15 230.46,319.21 230.57,319.28C230.68,319.35 230.79,319.44 230.89,319.54C230.99,319.64 231.08,319.75 231.16,319.87C231.23,319.98 231.30,320.11 231.36,320.25C231.41,320.38 231.45,320.52 231.48,320.66C231.51,320.81 231.52,320.95 231.52,321.10Z" fill="none" stroke="#505050" stroke-width="0.65" stroke-linejoin="round"/>
<path d="M233.44,320.91C233.44,321.19 233.41,321.48 233.36,321.76C233.30,322.04 233.22,322.32 233.12,322.58C233.01,322.83 232.88,323.09 232.73,323.32C232.58,323.55 232.40,323.76 232.21,323.95C232.02,324.14 231.81,324.31 231.59,324.46C231.36,324.60 231.12,324.72 230.88,324.80C230.63,324.89 230.38,324.95 230.12,324.98C229.87,325.01 229.60,325.01 229.35,324.98C229.09,324.95 228.83,324.89 228.59,324.80C228.34,324.72 228.10,324.60 227.88,324.46C227.66,324.31 227.45,324.14 227.25,323.95C227.06,323.76 226.89,323.55 226.74,323.32C226.59,323.09 226.45,322.83 226.35,322.58C226.24,322.32 226.16,322.04 226.11,321.76C226.06,321.48 226.03,321.19 226.03,320.91C226.03,320.63 226.06,320.34 226.11,320.06C226.16,319.78 226.24,319.50 226.35,319.24C226.45,318.99 226.59,318.73 226.74,318.50C226.89,318.27 227.06,318.06 227.25,317.87C227.45,317.68 227.66,317.51 227.88,317.36C228.10,317.22 228.34,317.10 228.59,317.02C228.83,316.93 229.09,316.87 229.35,316.84C229.60,316.81 229.87,316.81 230.12,316.84C230.38,316.87 230.63,316.93 230.88,317.02C231.12,317.10 231.36,317.22 231.59,317.36C231.81,317.51 232.02,317.68 232.21,317.87C232.40,318.06 232.58,318.27 232.73,318.50C232.88,318.73 233.01,318.99 233.12,319.24C233.22,319.50 233.30,319.78 233.36,320.06C233.41,320.34 233.44,320.63 233.44,320.91Z" fill="none" stroke="#505050" stroke-width="0.65" stroke-linejoin="round"/>
<path d="M235.36,320.72C235.36,321.14 235.32,321.57 235.24,321.99C235.16,322.40 235.04,322.81 234.88,323.20C234.73,323.58 234.53,323.96 234.31,324.30C234.08,324.64 233.82,324.96 233.53,325.25C233.25,325.53 232.93,325.78 232.60,325.99C232.27,326.21 231.91,326.38 231.55,326.51C231.19,326.64 230.80,326.73 230.42,326.78C230.04,326.82 229.65,326.82 229.27,326.78C228.89,326.73 228.51,326.64 228.15,326.51C227.78,326.38 227.42,326.21 227.09,325.99C226.76,325.78 226.44,325.53 226.16,325.25C225.88,324.96 225.61,324.64 225.39,324.30C225.17,323.96 224.97,323.58 224.81,323.20C224.66,322.81 224.54,322.40 224.46,321.99C224.38,321.57 224.34,321.14 224.34,320.72C224.34,320.30 224.38,319.87 224.46,319.45C224.54,319.04 224.66,318.63 224.81,318.24C224.97,317.86 225.17,317.48 225.39,317.14C225.61,316.80 225.88,316.48 226.16,316.19C226.44,315.91 226.76,315.66 227.09,315.45C227.42,315.23 227.78,315.06 228.15,314.93C228.51,314.80 228.89,314.71 229.27,314.66C229.65,314.62 230.04,314.62 230.42,314.66C230.80,314.71 231.19,314.80 231.55,314.93C231.91,315.06 232.27,315.23 232.60,315.45C232.93,315.66 233.25,315.91 233.53,316.19C233.82,316.48 234.08,316.80 234.31,317.14C234.53,317.48 234.73,317.86 234.88,318.24C235.04,318.63 235.16,319.04 235.24,319.45C235.32,319.87 235.36,320.30 235.36,320.72Z" fill="none" stroke="#505050" stroke-width="0.65" stroke-linejoin="round"/>
<path d="M237.28,320.53C237.28,321.09 237.22,321.66 237.12,322.21C237.01,322.76 236.85,323.31 236.64,323.82C236.44,324.33 236.18,324.83 235.88,325.28C235.58,325.74 235.23,326.16 234.86,326.54C234.48,326.91 234.06,327.25 233.62,327.53C233.18,327.81 232.70,328.05 232.22,328.22C231.74,328.39 231.23,328.51 230.73,328.57C230.22,328.63 229.70,328.63 229.20,328.57C228.69,328.51 228.18,328.39 227.70,328.22C227.22,328.05 226.74,327.81 226.30,327.53C225.87,327.25 225.44,326.91 225.07,326.54C224.69,326.16 224.34,325.74 224.04,325.28C223.75,324.83 223.49,324.33 223.28,323.82C223.07,323.31 222.91,322.76 222.81,322.21C222.70,321.66 222.65,321.09 222.65,320.53C222.65,319.97 222.70,319.40 222.81,318.85C222.91,318.30 223.07,317.75 223.28,317.24C223.49,316.73 223.75,316.23 224.04,315.78C224.34,315.32 224.69,314.90 225.07,314.52C225.44,314.15 225.87,313.81 226.30,313.53C226.74,313.25 227.22,313.01 227.70,312.84C228.18,312.67 228.69,312.55 229.20,312.49C229.70,312.43 230.22,312.43 230.73,312.49C231.23,312.55 231.74,312.67 232.22,312.84C232.70,313.01 233.18,313.25 233.62,313.53C234.06,313.81 234.48,314.15 234.86,314.52C235.23,314.90 235.58,315.32 235.88,315.78C236.18,316.23 236.44,316.73 236.64,317.24C236.85,317.75 237.01,318.30 237.12,318.85C237.22,319.40 237.28,319.97 237.28,320.53Z" fill="none" stroke="#505050" stroke-width="0.65" stroke-linejoin="round"/>
<path d="M239.20,320.34C239.20,321.04 239.13,321.75 239.00,322.44C238.87,323.12 238.66,323.80 238.41,324.44C238.15,325.08 237.83,325.70 237.45,326.26C237.08,326.83 236.65,327.36 236.18,327.83C235.71,328.30 235.18,328.72 234.64,329.07C234.09,329.42 233.50,329.71 232.89,329.93C232.29,330.14 231.66,330.29 231.03,330.36C230.40,330.44 229.75,330.44 229.12,330.36C228.49,330.29 227.86,330.14 227.26,329.93C226.66,329.71 226.06,329.42 225.52,329.07C224.97,328.72 224.44,328.30 223.97,327.83C223.50,327.36 223.07,326.83 222.70,326.26C222.33,325.70 222.00,325.08 221.74,324.44C221.49,323.80 221.29,323.12 221.16,322.44C221.02,321.75 220.96,321.04 220.96,320.34C220.96,319.64 221.02,318.93 221.16,318.24C221.29,317.56 221.49,316.88 221.74,316.24C222.00,315.60 222.33,314.98 222.70,314.42C223.07,313.85 223.50,313.32 223.97,312.85C224.44,312.38 224.97,311.96 225.52,311.61C226.06,311.26 226.66,310.97 227.26,310.75C227.86,310.54 228.49,310.39 229.12,310.32C229.75,310.24 230.40,310.24 231.03,310.32C231.66,310.39 232.29,310.54 232.89,310.75C233.50,310.97 234.09,311.26 234.64,311.61C235.18,311.96 235.71,312.38 236.18,312.85C236.65,313.32 237.08,313.85 237.45,314.42C237.83,314.98 238.15,315.60 238.41,316.24C238.66,316.88 238.87,317.56 239.00,318.24C239.13,318.93 239.20,319.64 239.20,320.34Z" fill="none" stroke="#505050" stroke-width="0.65" stroke-linejoin="round"/>
<path d="M241.12,320.15C241.12,320.99 241.03,321.84 240.88,322.66C240.72,323.48 240.48,324.30 240.17,325.06C239.86,325.83 239.47,326.57 239.03,327.25C238.58,327.92 238.06,328.56 237.50,329.12C236.94,329.68 236.31,330.19 235.65,330.61C235.00,331.03 234.29,331.38 233.57,331.63C232.85,331.89 232.08,332.07 231.33,332.16C230.58,332.25 229.80,332.25 229.05,332.16C228.30,332.07 227.53,331.89 226.81,331.63C226.09,331.38 225.38,331.03 224.73,330.61C224.07,330.19 223.44,329.68 222.88,329.12C222.32,328.56 221.80,327.92 221.35,327.25C220.91,326.57 220.52,325.83 220.21,325.06C219.90,324.30 219.66,323.48 219.50,322.66C219.35,321.84 219.26,320.99 219.26,320.15C219.26,319.31 219.35,318.46 219.50,317.64C219.66,316.82 219.90,316.00 220.21,315.24C220.52,314.47 220.91,313.73 221.35,313.05C221.80,312.38 222.32,311.74 222.88,311.18C223.44,310.62 224.07,310.11 224.73,309.69C225.38,309.27 226.09,308.92 226.81,308.67C227.53,308.41 228.30,308.23 229.05,308.14C229.80,308.05 230.58,308.05 231.33,308.14C232.08,308.23 232.85,308.41 233.57,308.67C234.29,308.92 235.00,309.27 235.65,309.69C236.31,310.11 236.94,310.62 237.50,311.18C238.06,311.74 238.58,312.38 239.03,313.05C239.47,313.73 239.86,314.47 240.17,315.24C240.48,316.00 240.72,316.82 240.88,317.64C241.03,318.46 241.12,319.31 241.12,320.15Z" fill="none" stroke="#505050" stroke-width="0.65" stroke-linejoin="round"/>
<path d="M149.2,360 L149.2,401" stroke="#333" stroke-width="1.6" fill="none"/>
<path d="M151,364 C152,372 152,385 151,398" stroke="#666" stroke-width="0.7" fill="none"/>
<path d="M150,400.8 L192,400.8" stroke="#333" stroke-width="1.8"/>
</g>
<rect x="44.8" y="203.4" width="96.60000000000001" height="96.20000000000002" fill="none" stroke="#666" stroke-width="1" />
<rect x="148.2" y="203.4" width="96.80000000000001" height="96.20000000000002" fill="none" stroke="#666" stroke-width="1" />
<rect x="43.5" y="305.3" width="96.9" height="96.5" fill="none" stroke="#666" stroke-width="1" />
<rect x="148.4" y="305.3" width="96.6" height="96.5" fill="none" stroke="#666" stroke-width="1" />
<text x="39.8" y="301.20000000000005" font-size="4.5" font-weight="normal" text-anchor="end" fill="#444" >1</text>
<line x1="42.199999999999996" y1="299.6" x2="43.9" y2="299.6" stroke="#555" stroke-width="0.7" />
<text x="39.8" y="277.1" font-size="4.5" font-weight="normal" text-anchor="end" fill="#444" >10</text>
<line x1="42.199999999999996" y1="275.5" x2="43.9" y2="275.5" stroke="#555" stroke-width="0.7" />
<text x="39.8" y="253.00000000000003" font-size="4.5" font-weight="normal" text-anchor="end" fill="#444" >100</text>
<line x1="42.199999999999996" y1="251.40000000000003" x2="43.9" y2="251.40000000000003" stroke="#555" stroke-width="0.7" />
<text x="39.8" y="228.9" font-size="4.5" font-weight="normal" text-anchor="end" fill="#444" >1000</text>
<line x1="42.199999999999996" y1="227.3" x2="43.9" y2="227.3" stroke="#555" stroke-width="0.7" />
<text x="38.5" y="403.40000000000003" font-size="4.5" font-weight="normal" text-anchor="end" fill="#444" >1</text>
<line x1="40.9" y1="401.8" x2="42.6" y2="401.8" stroke="#555" stroke-width="0.7" />
<text x="38.5" y="379.3" font-size="4.5" font-weight="normal" text-anchor="end" fill="#444" >10</text>
<line x1="40.9" y1="377.7" x2="42.6" y2="377.7" stroke="#555" stroke-width="0.7" />
<text x="38.5" y="355.20000000000005" font-size="4.5" font-weight="normal" text-anchor="end" fill="#444" >100</text>
<line x1="40.9" y1="353.6" x2="42.6" y2="353.6" stroke="#555" stroke-width="0.7" />
<text x="38.5" y="331.1" font-size="4.5" font-weight="normal" text-anchor="end" fill="#444" >1000</text>
<line x1="40.9" y1="329.5" x2="42.6" y2="329.5" stroke="#555" stroke-width="0.7" />
<text x="43.5" y="410.1" font-size="4.5" font-weight="normal" text-anchor="middle" fill="#444" >1</text>
<line x1="43.5" y1="401.8" x2="43.5" y2="403.8" stroke="#555" stroke-width="0.7" />
<text x="67.6" y="410.1" font-size="4.5" font-weight="normal" text-anchor="middle" fill="#444" >10</text>
<line x1="67.6" y1="401.8" x2="67.6" y2="403.8" stroke="#555" stroke-width="0.7" />
<text x="91.7" y="410.1" font-size="4.5" font-weight="normal" text-anchor="middle" fill="#444" >100</text>
<line x1="91.7" y1="401.8" x2="91.7" y2="403.8" stroke="#555" stroke-width="0.7" />
<text x="115.80000000000001" y="410.1" font-size="4.5" font-weight="normal" text-anchor="middle" fill="#444" >1000</text>
<line x1="115.80000000000001" y1="401.8" x2="115.80000000000001" y2="403.8" stroke="#555" stroke-width="0.7" />
<text x="148.4" y="410.1" font-size="4.5" font-weight="normal" text-anchor="middle" fill="#444" >1</text>
<line x1="148.4" y1="401.8" x2="148.4" y2="403.8" stroke="#555" stroke-width="0.7" />
<text x="172.5" y="410.1" font-size="4.5" font-weight="normal" text-anchor="middle" fill="#444" >10</text>
<line x1="172.5" y1="401.8" x2="172.5" y2="403.8" stroke="#555" stroke-width="0.7" />
<text x="196.60000000000002" y="410.1" font-size="4.5" font-weight="normal" text-anchor="middle" fill="#444" >100</text>
<line x1="196.60000000000002" y1="401.8" x2="196.60000000000002" y2="403.8" stroke="#555" stroke-width="0.7" />
<text x="220.70000000000002" y="410.1" font-size="4.5" font-weight="normal" text-anchor="middle" fill="#444" >1000</text>
<line x1="220.70000000000002" y1="401.8" x2="220.70000000000002" y2="403.8" stroke="#555" stroke-width="0.7" />
<line x1="72.7" y1="203.4" x2="72.7" y2="299.6" stroke="#333" stroke-width="1" />
<line x1="44.8" y1="266.2" x2="141.4" y2="266.2" stroke="#333" stroke-width="1" />
<line x1="176.4" y1="203.4" x2="176.4" y2="299.6" stroke="#333" stroke-width="1" />
<line x1="148.2" y1="266.2" x2="245" y2="266.2" stroke="#333" stroke-width="1" />
<rect x="108.2" y="305.3" width="32.2" height="36.39999999999998" fill="none" stroke="#444" stroke-width="1" />
<rect x="213.2" y="305.3" width="31.80000000000001" height="37.19999999999999" fill="none" stroke="#444" stroke-width="1" />
<text x="136.2" y="214.2" font-size="9.4" font-weight="bold" text-anchor="end" fill="#000" >9.8</text>
<text x="240.2" y="214.2" font-size="9.4" font-weight="bold" text-anchor="end" fill="#000" >12.9</text>
<text x="136.2" y="296.6" font-size="9.4" font-weight="bold" text-anchor="end" fill="#000" >16.8</text>
<text x="240.2" y="296.6" font-size="9.4" font-weight="bold" text-anchor="end" fill="#000" >23.6</text>
<text x="123.6" y="338" font-size="9.4" font-weight="bold" text-anchor="middle" fill="#000" >5.1</text>
<text x="230.5" y="338" font-size="9.4" font-weight="bold" text-anchor="middle" fill="#000" >12.4</text>
<line x1="49.4" y1="415.6" x2="100" y2="415.6" stroke="#000" stroke-width="1.5" />
<path d="M99,412.8 L105.8,415.6 L99,418.4 Z" fill="#000"/>
<text x="48.3" y="426.3" font-size="10.9" font-weight="bold" text-anchor="start" fill="#000" >CD11b</text></svg></body></html>
